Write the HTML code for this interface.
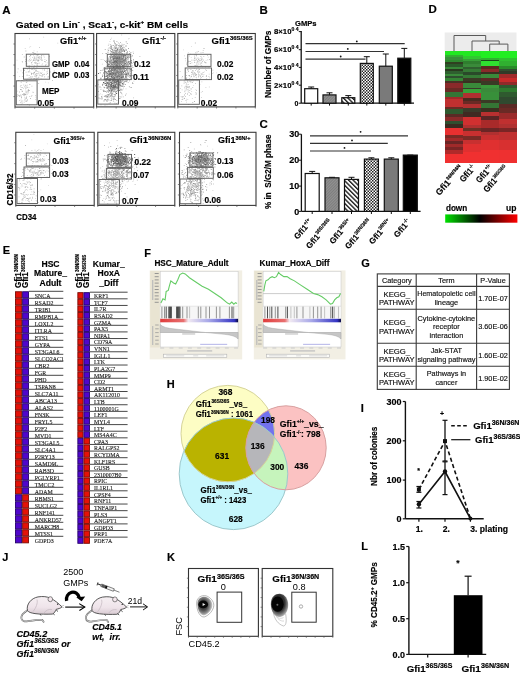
<!DOCTYPE html>
<html><head><meta charset="utf-8"><title>Figure</title>
<style>html,body{margin:0;padding:0;background:#fff;} svg{display:block;} svg{font-family:"Liberation Sans", Arial, sans-serif;} text[font-weight="bold"]{stroke:#000;stroke-width:0.16px;}</style>
</head><body>
<svg width="520" height="675" viewBox="0 0 520 675">
<rect width="520" height="675" fill="#fff"/>
<text x="2.3" y="13.6" font-size="11.5" font-weight="bold" fill="#000">A</text>
<text x="15.8" y="27.8" font-size="9.2" font-weight="bold" fill="#000" textLength="172.3" lengthAdjust="spacingAndGlyphs">Gated on Lin<tspan font-size="5.7" dy="-3.86">-</tspan><tspan dy="3.9"> , Sca1</tspan><tspan font-size="5.7" dy="-3.86">-</tspan><tspan dy="3.9">, c-kit</tspan><tspan font-size="5.7" dy="-3.86">+</tspan><tspan dy="3.9"> BM cells</tspan></text>
<path fill="rgb(16,16,16)" d="M117.4 156.9h.8v.8h-.8zM119.9 157.3h.8v.8h-.8zM116.5 154.5h.8v.8h-.8zM115.3 157.5h.8v.8h-.8zM117.7 157.4h.8v.8h-.8zM122.1 157.5h.8v.8h-.8zM119.0 152.8h.8v.8h-.8zM121.1 161.9h.8v.8h-.8zM114.6 159.6h.8v.8h-.8zM120.4 157.7h.8v.8h-.8zM119.3 165.3h.8v.8h-.8zM119.9 160.2h.8v.8h-.8zM119.4 157.0h.8v.8h-.8zM116.2 157.6h.8v.8h-.8zM121.9 155.6h.8v.8h-.8zM121.4 155.8h.8v.8h-.8zM120.5 158.2h.8v.8h-.8zM117.0 160.1h.8v.8h-.8zM121.5 155.6h.8v.8h-.8zM120.7 152.4h.8v.8h-.8zM119.2 159.4h.8v.8h-.8zM125.1 154.6h.8v.8h-.8zM119.3 159.0h.8v.8h-.8zM122.6 155.9h.8v.8h-.8zM120.0 156.8h.8v.8h-.8zM119.4 161.6h.8v.8h-.8zM121.2 154.3h.8v.8h-.8zM120.7 153.0h.8v.8h-.8zM122.2 156.1h.8v.8h-.8zM122.6 160.0h.8v.8h-.8zM124.9 158.0h.8v.8h-.8zM121.5 161.1h.8v.8h-.8zM119.8 159.2h.8v.8h-.8zM122.7 157.9h.8v.8h-.8zM117.6 154.1h.8v.8h-.8zM121.8 153.3h.8v.8h-.8zM120.6 154.1h.8v.8h-.8zM123.8 159.0h.8v.8h-.8zM124.8 158.4h.8v.8h-.8zM201.5 156.4h.8v.8h-.8zM198.1 157.2h.8v.8h-.8zM204.8 160.7h.8v.8h-.8z"/>
<path fill="rgb(32,32,32)" d="M116.5 156.8h.8v.8h-.8zM120.2 160.5h.8v.8h-.8zM117.1 158.6h.8v.8h-.8zM123.7 159.8h.8v.8h-.8zM114.9 157.3h.8v.8h-.8zM117.9 157.3h.8v.8h-.8zM117.8 159.1h.8v.8h-.8zM122.9 158.5h.8v.8h-.8zM118.3 156.6h.8v.8h-.8zM116.1 157.4h.8v.8h-.8zM117.6 163.2h.8v.8h-.8zM115.9 158.3h.8v.8h-.8zM119.6 154.1h.8v.8h-.8zM118.3 158.0h.8v.8h-.8zM119.8 156.0h.8v.8h-.8zM120.8 158.8h.8v.8h-.8zM118.6 158.2h.8v.8h-.8zM117.5 156.4h.8v.8h-.8zM121.7 161.0h.8v.8h-.8zM118.6 160.4h.8v.8h-.8zM122.3 157.5h.8v.8h-.8zM121.4 161.9h.8v.8h-.8zM121.3 158.0h.8v.8h-.8zM119.5 159.1h.8v.8h-.8zM119.3 153.6h.8v.8h-.8zM119.8 156.0h.8v.8h-.8zM117.9 157.4h.8v.8h-.8zM121.0 158.5h.8v.8h-.8zM116.6 155.9h.8v.8h-.8zM118.0 159.6h.8v.8h-.8zM116.7 159.1h.8v.8h-.8zM113.0 158.0h.8v.8h-.8zM118.7 157.8h.8v.8h-.8zM116.1 160.6h.8v.8h-.8zM121.3 160.0h.8v.8h-.8zM119.6 161.4h.8v.8h-.8zM122.1 154.4h.8v.8h-.8zM118.1 156.5h.8v.8h-.8zM120.8 158.0h.8v.8h-.8zM195.7 155.2h.8v.8h-.8zM202.7 159.4h.8v.8h-.8zM199.0 158.1h.8v.8h-.8zM200.4 156.7h.8v.8h-.8zM199.9 158.1h.8v.8h-.8zM207.8 160.2h.8v.8h-.8zM199.8 159.8h.8v.8h-.8zM200.7 157.7h.8v.8h-.8zM196.6 159.3h.8v.8h-.8zM197.9 156.0h.8v.8h-.8zM199.9 155.8h.8v.8h-.8zM199.3 156.0h.8v.8h-.8zM203.9 158.4h.8v.8h-.8zM201.3 157.7h.8v.8h-.8zM202.6 157.1h.8v.8h-.8zM196.8 157.1h.8v.8h-.8zM198.0 158.5h.8v.8h-.8zM198.5 157.3h.8v.8h-.8zM202.5 160.4h.8v.8h-.8zM198.4 156.9h.8v.8h-.8zM201.7 157.9h.8v.8h-.8zM200.9 157.8h.8v.8h-.8zM196.1 156.8h.8v.8h-.8zM202.6 157.2h.8v.8h-.8zM201.4 155.2h.8v.8h-.8z"/>
<path fill="rgb(48,48,48)" d="M103.4 82.1h.8v.8h-.8zM125.2 76.8h.8v.8h-.8zM119.8 75.8h.8v.8h-.8zM122.0 74.2h.8v.8h-.8zM118.7 73.6h.8v.8h-.8zM129.7 73.4h.8v.8h-.8zM108.4 75.4h.8v.8h-.8zM109.0 76.0h.8v.8h-.8zM121.9 83.6h.8v.8h-.8zM111.5 69.2h.8v.8h-.8zM115.2 75.2h.8v.8h-.8zM111.3 76.7h.8v.8h-.8zM117.5 76.4h.8v.8h-.8zM104.6 71.0h.8v.8h-.8zM113.3 84.9h.8v.8h-.8zM103.8 83.4h.8v.8h-.8zM109.8 81.8h.8v.8h-.8zM117.0 81.0h.8v.8h-.8zM115.2 79.4h.8v.8h-.8zM117.6 87.7h.8v.8h-.8zM117.3 86.7h.8v.8h-.8zM110.4 85.2h.8v.8h-.8zM111.8 81.5h.8v.8h-.8zM114.4 86.9h.8v.8h-.8zM114.5 94.3h.8v.8h-.8zM115.1 79.7h.8v.8h-.8zM106.6 85.4h.8v.8h-.8zM117.3 86.8h.8v.8h-.8zM116.7 80.7h.8v.8h-.8zM111.6 84.5h.8v.8h-.8zM113.6 86.3h.8v.8h-.8zM112.9 85.4h.8v.8h-.8zM110.6 82.3h.8v.8h-.8zM118.3 84.1h.8v.8h-.8zM113.0 83.7h.8v.8h-.8zM114.8 86.9h.8v.8h-.8zM112.6 79.0h.8v.8h-.8zM115.4 92.5h.8v.8h-.8zM112.5 83.3h.8v.8h-.8zM111.8 87.0h.8v.8h-.8zM111.2 84.9h.8v.8h-.8zM119.5 84.4h.8v.8h-.8zM109.0 90.1h.8v.8h-.8zM108.9 79.7h.8v.8h-.8zM107.8 82.6h.8v.8h-.8zM116.9 77.8h.8v.8h-.8zM115.3 84.7h.8v.8h-.8zM111.0 75.9h.8v.8h-.8zM109.7 87.0h.8v.8h-.8zM113.8 83.4h.8v.8h-.8zM104.6 76.3h.8v.8h-.8zM116.8 79.6h.8v.8h-.8zM111.2 89.4h.8v.8h-.8zM117.9 80.6h.8v.8h-.8zM115.0 76.8h.8v.8h-.8zM111.7 81.5h.8v.8h-.8zM109.8 86.7h.8v.8h-.8zM113.2 77.1h.8v.8h-.8zM113.7 86.2h.8v.8h-.8zM113.7 83.1h.8v.8h-.8zM113.0 83.6h.8v.8h-.8zM116.6 79.9h.8v.8h-.8zM117.3 66.1h.8v.8h-.8zM118.5 59.2h.8v.8h-.8zM105.7 53.2h.8v.8h-.8zM110.8 62.6h.8v.8h-.8zM119.8 52.2h.8v.8h-.8zM118.4 62.3h.8v.8h-.8zM113.8 55.4h.8v.8h-.8zM121.9 153.4h.8v.8h-.8zM134.4 157.3h.8v.8h-.8zM125.5 162.4h.8v.8h-.8zM123.4 161.8h.8v.8h-.8zM132.2 159.7h.8v.8h-.8zM123.6 160.6h.8v.8h-.8zM121.8 161.8h.8v.8h-.8zM117.0 157.9h.8v.8h-.8zM119.5 157.3h.8v.8h-.8zM117.0 158.7h.8v.8h-.8zM131.1 156.1h.8v.8h-.8zM122.4 153.9h.8v.8h-.8zM120.0 157.5h.8v.8h-.8zM117.3 159.2h.8v.8h-.8zM107.2 159.4h.8v.8h-.8zM125.3 160.5h.8v.8h-.8zM123.4 160.9h.8v.8h-.8zM113.1 161.3h.8v.8h-.8zM114.2 157.0h.8v.8h-.8zM125.7 164.1h.8v.8h-.8zM124.9 160.7h.8v.8h-.8zM127.6 162.2h.8v.8h-.8zM121.5 165.1h.8v.8h-.8zM116.4 158.9h.8v.8h-.8zM110.5 165.1h.8v.8h-.8zM119.5 164.6h.8v.8h-.8zM115.6 164.4h.8v.8h-.8zM127.6 154.1h.8v.8h-.8zM115.4 161.4h.8v.8h-.8zM132.2 159.2h.8v.8h-.8zM116.6 158.1h.8v.8h-.8zM119.3 162.8h.8v.8h-.8zM114.0 160.8h.8v.8h-.8zM113.2 162.9h.8v.8h-.8zM112.3 159.0h.8v.8h-.8zM123.9 161.0h.8v.8h-.8zM122.5 157.5h.8v.8h-.8zM125.8 159.4h.8v.8h-.8zM119.9 160.2h.8v.8h-.8zM119.5 159.0h.8v.8h-.8zM113.2 159.2h.8v.8h-.8zM129.6 159.2h.8v.8h-.8zM120.5 160.5h.8v.8h-.8zM117.4 154.2h.8v.8h-.8zM130.5 165.7h.8v.8h-.8zM115.7 157.3h.8v.8h-.8zM115.4 161.6h.8v.8h-.8zM134.3 154.1h.8v.8h-.8zM120.7 162.1h.8v.8h-.8zM120.5 162.6h.8v.8h-.8zM115.7 159.9h.8v.8h-.8zM121.2 163.8h.8v.8h-.8zM108.3 160.7h.8v.8h-.8zM112.4 156.4h.8v.8h-.8zM121.2 158.3h.8v.8h-.8zM115.4 161.1h.8v.8h-.8zM115.1 159.5h.8v.8h-.8zM123.5 159.3h.8v.8h-.8zM118.0 157.4h.8v.8h-.8zM117.6 163.3h.8v.8h-.8zM116.9 155.9h.8v.8h-.8zM120.8 161.4h.8v.8h-.8zM126.3 156.5h.8v.8h-.8zM115.1 153.3h.8v.8h-.8zM117.9 160.6h.8v.8h-.8zM122.8 160.5h.8v.8h-.8zM119.8 163.6h.8v.8h-.8zM120.3 164.1h.8v.8h-.8zM121.0 165.1h.8v.8h-.8zM119.1 163.7h.8v.8h-.8zM111.5 156.1h.8v.8h-.8zM122.1 159.1h.8v.8h-.8zM117.8 160.4h.8v.8h-.8zM119.3 151.5h.8v.8h-.8zM123.4 156.8h.8v.8h-.8zM120.4 166.2h.8v.8h-.8zM117.7 159.5h.8v.8h-.8zM117.5 162.8h.8v.8h-.8zM130.4 162.1h.8v.8h-.8zM116.5 163.4h.8v.8h-.8zM128.7 157.8h.8v.8h-.8zM119.6 154.7h.8v.8h-.8zM113.5 163.0h.8v.8h-.8zM117.9 152.0h.8v.8h-.8zM130.6 158.7h.8v.8h-.8zM121.8 160.9h.8v.8h-.8zM127.8 160.9h.8v.8h-.8zM123.6 157.8h.8v.8h-.8zM124.1 157.6h.8v.8h-.8zM120.0 161.9h.8v.8h-.8zM124.4 161.2h.8v.8h-.8zM116.6 159.8h.8v.8h-.8zM121.7 158.8h.8v.8h-.8zM116.1 148.1h.8v.8h-.8zM125.4 166.1h.8v.8h-.8zM120.1 162.2h.8v.8h-.8zM120.4 158.9h.8v.8h-.8zM121.1 155.7h.8v.8h-.8zM119.2 152.8h.8v.8h-.8zM126.8 166.7h.8v.8h-.8zM119.3 158.5h.8v.8h-.8zM124.5 159.5h.8v.8h-.8zM123.0 157.9h.8v.8h-.8zM113.8 159.0h.8v.8h-.8zM115.8 156.3h.8v.8h-.8zM118.7 156.3h.8v.8h-.8zM121.2 163.4h.8v.8h-.8zM119.8 157.1h.8v.8h-.8zM118.1 156.0h.8v.8h-.8zM118.0 161.2h.8v.8h-.8zM118.3 158.4h.8v.8h-.8zM122.4 158.4h.8v.8h-.8zM117.3 158.9h.8v.8h-.8zM121.0 158.1h.8v.8h-.8zM116.1 160.1h.8v.8h-.8zM123.1 157.6h.8v.8h-.8zM119.0 158.6h.8v.8h-.8zM117.3 156.1h.8v.8h-.8zM116.0 158.9h.8v.8h-.8zM115.6 157.0h.8v.8h-.8zM121.6 158.5h.8v.8h-.8zM113.6 160.9h.8v.8h-.8zM119.7 160.7h.8v.8h-.8zM119.4 159.7h.8v.8h-.8zM116.2 154.8h.8v.8h-.8zM118.7 156.8h.8v.8h-.8zM120.4 159.6h.8v.8h-.8zM124.6 153.3h.8v.8h-.8zM118.0 157.6h.8v.8h-.8zM117.3 154.9h.8v.8h-.8zM111.6 155.3h.8v.8h-.8zM121.9 160.5h.8v.8h-.8zM115.0 162.5h.8v.8h-.8zM120.7 159.9h.8v.8h-.8zM122.5 156.1h.8v.8h-.8zM197.9 161.4h.8v.8h-.8zM207.8 164.2h.8v.8h-.8zM201.4 165.9h.8v.8h-.8zM197.4 158.6h.8v.8h-.8zM211.8 163.0h.8v.8h-.8zM196.6 164.9h.8v.8h-.8zM197.2 154.2h.8v.8h-.8zM210.3 154.6h.8v.8h-.8zM217.3 152.4h.8v.8h-.8zM201.0 158.4h.8v.8h-.8zM205.2 157.9h.8v.8h-.8zM205.4 161.8h.8v.8h-.8zM204.2 161.1h.8v.8h-.8zM198.8 157.0h.8v.8h-.8zM194.1 158.4h.8v.8h-.8zM215.3 164.0h.8v.8h-.8zM204.8 153.6h.8v.8h-.8zM201.3 158.8h.8v.8h-.8zM206.0 154.6h.8v.8h-.8zM202.6 157.7h.8v.8h-.8zM202.9 156.4h.8v.8h-.8zM202.5 156.8h.8v.8h-.8zM203.0 155.2h.8v.8h-.8zM199.4 158.6h.8v.8h-.8zM203.3 159.4h.8v.8h-.8zM197.9 155.8h.8v.8h-.8zM202.2 158.5h.8v.8h-.8zM197.6 158.5h.8v.8h-.8zM203.8 159.8h.8v.8h-.8zM202.9 160.0h.8v.8h-.8zM201.1 159.9h.8v.8h-.8zM201.0 157.1h.8v.8h-.8zM204.3 158.1h.8v.8h-.8z"/>
<path fill="rgb(64,64,64)" d="M118.3 60.8h.8v.8h-.8zM118.9 56.7h.8v.8h-.8zM113.7 60.0h.8v.8h-.8zM130.6 69.2h.8v.8h-.8zM115.6 64.8h.8v.8h-.8zM117.2 62.9h.8v.8h-.8zM130.4 68.9h.8v.8h-.8zM113.8 58.5h.8v.8h-.8zM114.4 52.4h.8v.8h-.8zM124.1 62.9h.8v.8h-.8zM121.0 59.2h.8v.8h-.8zM129.1 61.5h.8v.8h-.8zM117.6 59.0h.8v.8h-.8zM108.8 61.6h.8v.8h-.8zM127.0 57.3h.8v.8h-.8zM123.2 55.8h.8v.8h-.8zM114.9 60.7h.8v.8h-.8zM123.3 65.4h.8v.8h-.8zM111.3 59.7h.8v.8h-.8zM128.3 61.7h.8v.8h-.8zM115.3 66.9h.8v.8h-.8zM119.0 63.5h.8v.8h-.8zM120.7 60.9h.8v.8h-.8zM121.5 56.4h.8v.8h-.8zM113.6 62.4h.8v.8h-.8zM115.1 65.4h.8v.8h-.8zM121.2 57.8h.8v.8h-.8zM114.9 63.4h.8v.8h-.8zM110.8 54.9h.8v.8h-.8zM119.2 58.5h.8v.8h-.8zM117.7 57.2h.8v.8h-.8zM115.0 63.3h.8v.8h-.8zM123.6 55.2h.8v.8h-.8zM124.9 59.2h.8v.8h-.8zM117.2 70.2h.8v.8h-.8zM110.3 56.7h.8v.8h-.8zM114.5 62.2h.8v.8h-.8zM117.8 59.2h.8v.8h-.8zM111.5 72.2h.8v.8h-.8zM125.3 57.9h.8v.8h-.8zM117.2 61.9h.8v.8h-.8zM120.4 63.8h.8v.8h-.8zM120.6 57.7h.8v.8h-.8zM120.7 55.6h.8v.8h-.8zM114.1 61.1h.8v.8h-.8zM120.0 67.0h.8v.8h-.8zM116.7 62.2h.8v.8h-.8zM123.0 60.5h.8v.8h-.8zM122.9 71.2h.8v.8h-.8zM115.5 71.8h.8v.8h-.8zM119.8 58.8h.8v.8h-.8zM111.8 62.3h.8v.8h-.8zM124.0 60.7h.8v.8h-.8zM119.9 58.2h.8v.8h-.8zM122.6 55.4h.8v.8h-.8zM121.7 54.0h.8v.8h-.8zM112.5 56.2h.8v.8h-.8zM111.5 64.0h.8v.8h-.8zM114.1 58.5h.8v.8h-.8zM106.4 62.2h.8v.8h-.8zM110.5 56.6h.8v.8h-.8zM121.3 61.5h.8v.8h-.8zM123.8 73.8h.8v.8h-.8zM114.6 69.4h.8v.8h-.8zM113.6 79.2h.8v.8h-.8zM113.4 79.9h.8v.8h-.8zM120.9 77.8h.8v.8h-.8zM107.1 75.2h.8v.8h-.8zM120.4 71.0h.8v.8h-.8zM109.5 82.2h.8v.8h-.8zM117.0 76.1h.8v.8h-.8zM118.3 76.1h.8v.8h-.8zM100.6 77.8h.8v.8h-.8zM114.5 81.3h.8v.8h-.8zM117.8 72.9h.8v.8h-.8zM112.0 69.8h.8v.8h-.8zM116.0 76.4h.8v.8h-.8zM120.1 69.5h.8v.8h-.8zM126.0 69.5h.8v.8h-.8zM108.8 73.6h.8v.8h-.8zM122.2 76.9h.8v.8h-.8zM112.4 77.6h.8v.8h-.8zM111.5 67.7h.8v.8h-.8zM118.3 72.2h.8v.8h-.8zM113.2 73.3h.8v.8h-.8zM115.8 73.5h.8v.8h-.8zM103.5 68.5h.8v.8h-.8zM116.6 71.0h.8v.8h-.8zM113.5 72.5h.8v.8h-.8zM103.2 82.3h.8v.8h-.8zM126.0 74.3h.8v.8h-.8zM130.1 75.7h.8v.8h-.8zM105.3 71.5h.8v.8h-.8zM118.0 75.7h.8v.8h-.8zM106.6 78.0h.8v.8h-.8zM107.9 74.0h.8v.8h-.8zM121.6 69.4h.8v.8h-.8zM112.4 76.8h.8v.8h-.8zM123.0 76.4h.8v.8h-.8zM114.2 78.0h.8v.8h-.8zM125.0 74.4h.8v.8h-.8zM125.7 74.1h.8v.8h-.8zM130.5 74.9h.8v.8h-.8zM117.5 71.6h.8v.8h-.8zM113.5 76.9h.8v.8h-.8zM98.0 73.1h.8v.8h-.8zM126.1 75.5h.8v.8h-.8zM111.5 73.4h.8v.8h-.8zM118.2 74.4h.8v.8h-.8zM113.6 78.0h.8v.8h-.8zM109.0 80.4h.8v.8h-.8zM118.4 71.6h.8v.8h-.8zM113.5 73.2h.8v.8h-.8zM122.5 76.4h.8v.8h-.8zM117.7 76.0h.8v.8h-.8zM124.6 71.2h.8v.8h-.8zM111.9 81.4h.8v.8h-.8zM120.5 73.9h.8v.8h-.8zM119.1 76.5h.8v.8h-.8zM106.3 76.0h.8v.8h-.8zM120.9 75.0h.8v.8h-.8zM109.4 69.1h.8v.8h-.8zM112.0 69.7h.8v.8h-.8zM122.3 73.3h.8v.8h-.8zM109.0 68.2h.8v.8h-.8zM104.8 78.6h.8v.8h-.8zM110.9 70.9h.8v.8h-.8zM127.9 73.7h.8v.8h-.8zM109.4 72.4h.8v.8h-.8zM119.6 79.8h.8v.8h-.8zM120.1 79.7h.8v.8h-.8zM116.8 76.5h.8v.8h-.8zM125.4 78.8h.8v.8h-.8zM114.7 66.0h.8v.8h-.8zM119.3 69.5h.8v.8h-.8zM117.3 75.5h.8v.8h-.8zM112.9 80.3h.8v.8h-.8zM108.5 71.2h.8v.8h-.8zM109.3 72.3h.8v.8h-.8zM116.2 73.3h.8v.8h-.8zM123.0 72.1h.8v.8h-.8zM122.5 80.8h.8v.8h-.8zM111.3 70.4h.8v.8h-.8zM110.0 73.1h.8v.8h-.8zM120.4 77.7h.8v.8h-.8zM121.8 67.3h.8v.8h-.8zM119.2 75.4h.8v.8h-.8zM102.4 74.8h.8v.8h-.8zM120.1 79.9h.8v.8h-.8zM111.0 69.6h.8v.8h-.8zM118.2 75.4h.8v.8h-.8zM121.3 76.9h.8v.8h-.8zM120.3 71.4h.8v.8h-.8zM125.3 72.5h.8v.8h-.8zM110.6 73.6h.8v.8h-.8zM120.9 72.1h.8v.8h-.8zM109.3 70.7h.8v.8h-.8zM111.1 84.0h.8v.8h-.8zM115.3 85.2h.8v.8h-.8zM116.0 93.1h.8v.8h-.8zM105.1 83.1h.8v.8h-.8zM111.5 86.5h.8v.8h-.8zM113.8 87.8h.8v.8h-.8zM114.3 82.3h.8v.8h-.8zM119.9 85.3h.8v.8h-.8zM110.8 89.3h.8v.8h-.8zM108.5 80.6h.8v.8h-.8zM114.7 85.1h.8v.8h-.8zM115.2 86.2h.8v.8h-.8zM110.9 83.9h.8v.8h-.8zM115.5 86.1h.8v.8h-.8zM117.8 86.9h.8v.8h-.8zM110.7 90.2h.8v.8h-.8zM107.8 79.4h.8v.8h-.8zM114.8 81.4h.8v.8h-.8zM118.6 86.8h.8v.8h-.8zM111.7 82.7h.8v.8h-.8zM104.8 91.0h.8v.8h-.8zM110.9 84.9h.8v.8h-.8zM111.1 90.3h.8v.8h-.8zM105.6 80.7h.8v.8h-.8zM109.8 87.9h.8v.8h-.8zM113.9 78.2h.8v.8h-.8zM111.0 91.3h.8v.8h-.8zM112.4 85.4h.8v.8h-.8zM113.8 78.1h.8v.8h-.8zM121.4 76.6h.8v.8h-.8zM117.8 84.2h.8v.8h-.8zM112.4 85.8h.8v.8h-.8zM105.9 84.2h.8v.8h-.8zM117.5 81.8h.8v.8h-.8zM112.2 88.5h.8v.8h-.8zM118.0 78.4h.8v.8h-.8zM111.0 82.1h.8v.8h-.8zM109.9 78.9h.8v.8h-.8zM113.3 91.1h.8v.8h-.8zM111.0 93.6h.8v.8h-.8zM110.2 79.8h.8v.8h-.8zM115.5 77.6h.8v.8h-.8zM114.1 85.9h.8v.8h-.8zM111.1 86.1h.8v.8h-.8zM110.3 87.9h.8v.8h-.8zM118.2 77.4h.8v.8h-.8zM116.5 82.8h.8v.8h-.8zM119.0 84.6h.8v.8h-.8zM116.7 88.5h.8v.8h-.8zM117.3 86.8h.8v.8h-.8zM113.1 86.9h.8v.8h-.8zM115.7 77.5h.8v.8h-.8zM113.1 78.2h.8v.8h-.8zM109.3 80.3h.8v.8h-.8zM116.7 81.6h.8v.8h-.8zM108.9 82.7h.8v.8h-.8zM107.1 82.2h.8v.8h-.8zM113.8 81.9h.8v.8h-.8zM106.7 90.7h.8v.8h-.8zM113.8 56.7h.8v.8h-.8zM113.6 40.6h.8v.8h-.8zM109.6 61.6h.8v.8h-.8zM112.3 50.6h.8v.8h-.8zM121.5 58.3h.8v.8h-.8zM111.4 63.4h.8v.8h-.8zM113.1 51.9h.8v.8h-.8zM115.2 53.8h.8v.8h-.8zM118.3 72.3h.8v.8h-.8zM113.3 58.1h.8v.8h-.8zM116.4 60.3h.8v.8h-.8zM115.4 62.5h.8v.8h-.8zM114.9 73.3h.8v.8h-.8zM109.5 67.6h.8v.8h-.8zM116.4 64.7h.8v.8h-.8zM115.3 60.9h.8v.8h-.8zM115.4 58.8h.8v.8h-.8zM117.4 58.2h.8v.8h-.8zM115.7 68.1h.8v.8h-.8zM118.9 64.3h.8v.8h-.8zM111.3 65.5h.8v.8h-.8zM117.7 58.0h.8v.8h-.8zM118.5 68.2h.8v.8h-.8zM112.3 66.8h.8v.8h-.8zM115.4 58.0h.8v.8h-.8zM115.8 57.8h.8v.8h-.8zM110.5 54.7h.8v.8h-.8zM113.9 60.2h.8v.8h-.8zM116.3 65.2h.8v.8h-.8zM110.7 45.5h.8v.8h-.8zM115.8 62.5h.8v.8h-.8zM119.4 65.6h.8v.8h-.8zM112.0 49.0h.8v.8h-.8zM114.3 61.3h.8v.8h-.8zM113.5 55.6h.8v.8h-.8zM115.5 151.4h.8v.8h-.8zM125.7 172.2h.8v.8h-.8zM116.8 154.1h.8v.8h-.8zM122.9 164.0h.8v.8h-.8zM113.8 155.6h.8v.8h-.8zM115.5 159.7h.8v.8h-.8zM112.4 158.4h.8v.8h-.8zM118.0 159.8h.8v.8h-.8zM117.9 162.8h.8v.8h-.8zM120.3 156.4h.8v.8h-.8zM116.7 161.0h.8v.8h-.8zM117.8 155.5h.8v.8h-.8zM123.5 163.7h.8v.8h-.8zM126.8 161.7h.8v.8h-.8zM118.5 154.8h.8v.8h-.8zM122.6 156.5h.8v.8h-.8zM125.3 156.5h.8v.8h-.8zM119.0 160.5h.8v.8h-.8zM125.3 153.7h.8v.8h-.8zM121.6 159.0h.8v.8h-.8zM120.5 158.9h.8v.8h-.8zM116.5 162.7h.8v.8h-.8zM127.6 158.6h.8v.8h-.8zM124.8 160.3h.8v.8h-.8zM120.3 155.1h.8v.8h-.8zM118.8 162.4h.8v.8h-.8zM126.8 160.0h.8v.8h-.8zM128.0 162.3h.8v.8h-.8zM112.7 156.4h.8v.8h-.8zM108.2 159.3h.8v.8h-.8zM121.1 161.1h.8v.8h-.8zM118.9 160.1h.8v.8h-.8zM111.5 159.1h.8v.8h-.8zM130.9 154.1h.8v.8h-.8zM120.9 160.3h.8v.8h-.8zM118.3 162.9h.8v.8h-.8zM106.4 164.8h.8v.8h-.8zM129.3 168.1h.8v.8h-.8zM114.1 159.5h.8v.8h-.8zM122.1 160.0h.8v.8h-.8zM116.7 158.2h.8v.8h-.8zM121.7 160.1h.8v.8h-.8zM120.8 165.2h.8v.8h-.8zM121.4 159.3h.8v.8h-.8zM122.3 161.0h.8v.8h-.8zM119.6 157.8h.8v.8h-.8zM123.4 158.9h.8v.8h-.8zM126.5 159.4h.8v.8h-.8zM120.9 161.3h.8v.8h-.8zM116.4 150.7h.8v.8h-.8zM109.1 163.9h.8v.8h-.8zM119.4 154.5h.8v.8h-.8zM122.5 157.2h.8v.8h-.8zM116.3 163.1h.8v.8h-.8zM120.5 153.9h.8v.8h-.8zM121.0 163.0h.8v.8h-.8zM112.3 159.9h.8v.8h-.8zM119.3 160.5h.8v.8h-.8zM120.1 160.6h.8v.8h-.8zM111.2 160.6h.8v.8h-.8zM120.8 156.6h.8v.8h-.8zM123.1 163.2h.8v.8h-.8zM124.6 160.8h.8v.8h-.8zM115.0 163.0h.8v.8h-.8zM111.2 162.3h.8v.8h-.8zM115.1 158.1h.8v.8h-.8zM123.6 164.5h.8v.8h-.8zM125.6 157.5h.8v.8h-.8zM123.7 158.6h.8v.8h-.8zM124.1 159.1h.8v.8h-.8zM112.2 158.5h.8v.8h-.8zM119.1 157.5h.8v.8h-.8zM121.0 159.2h.8v.8h-.8zM119.1 159.5h.8v.8h-.8zM124.1 156.8h.8v.8h-.8zM118.2 157.8h.8v.8h-.8zM106.9 160.9h.8v.8h-.8zM107.3 159.6h.8v.8h-.8zM123.3 160.7h.8v.8h-.8zM119.7 162.5h.8v.8h-.8zM121.0 161.1h.8v.8h-.8zM117.7 155.8h.8v.8h-.8zM129.7 157.8h.8v.8h-.8zM125.5 160.4h.8v.8h-.8zM121.0 162.7h.8v.8h-.8zM121.0 161.1h.8v.8h-.8zM117.2 166.9h.8v.8h-.8zM122.9 161.3h.8v.8h-.8zM114.5 161.5h.8v.8h-.8zM119.0 162.6h.8v.8h-.8zM119.4 163.0h.8v.8h-.8zM111.5 157.3h.8v.8h-.8zM121.6 164.8h.8v.8h-.8zM117.7 163.6h.8v.8h-.8zM112.9 161.1h.8v.8h-.8zM111.8 165.9h.8v.8h-.8zM117.9 154.2h.8v.8h-.8zM123.2 162.5h.8v.8h-.8zM109.8 155.4h.8v.8h-.8zM110.4 161.4h.8v.8h-.8zM118.1 160.7h.8v.8h-.8zM125.5 165.4h.8v.8h-.8zM123.2 162.8h.8v.8h-.8zM117.6 160.9h.8v.8h-.8zM118.2 162.3h.8v.8h-.8zM124.5 163.2h.8v.8h-.8zM120.5 159.4h.8v.8h-.8zM120.9 154.9h.8v.8h-.8zM118.4 157.7h.8v.8h-.8zM117.7 159.8h.8v.8h-.8zM121.8 156.2h.8v.8h-.8zM121.2 153.7h.8v.8h-.8zM115.8 160.5h.8v.8h-.8zM124.5 158.9h.8v.8h-.8zM115.6 156.8h.8v.8h-.8zM119.3 158.2h.8v.8h-.8zM119.1 157.9h.8v.8h-.8zM119.8 155.5h.8v.8h-.8zM119.5 158.4h.8v.8h-.8zM120.9 158.8h.8v.8h-.8zM115.5 158.1h.8v.8h-.8zM118.8 162.0h.8v.8h-.8zM116.7 156.9h.8v.8h-.8zM116.0 157.5h.8v.8h-.8zM117.9 159.4h.8v.8h-.8zM115.7 153.3h.8v.8h-.8zM120.0 159.5h.8v.8h-.8zM114.9 156.6h.8v.8h-.8zM123.6 161.1h.8v.8h-.8zM113.7 158.4h.8v.8h-.8zM116.8 158.3h.8v.8h-.8zM121.3 159.4h.8v.8h-.8zM116.1 153.7h.8v.8h-.8zM117.1 156.7h.8v.8h-.8zM117.8 158.8h.8v.8h-.8zM116.7 157.6h.8v.8h-.8zM122.2 158.5h.8v.8h-.8zM120.2 156.0h.8v.8h-.8zM114.4 157.5h.8v.8h-.8zM116.9 156.8h.8v.8h-.8zM120.5 156.6h.8v.8h-.8zM118.7 158.5h.8v.8h-.8zM122.5 159.9h.8v.8h-.8zM193.6 156.0h.8v.8h-.8zM195.0 166.1h.8v.8h-.8zM201.7 156.7h.8v.8h-.8zM202.9 159.6h.8v.8h-.8zM210.5 157.5h.8v.8h-.8zM198.8 161.2h.8v.8h-.8zM198.9 160.1h.8v.8h-.8zM198.5 159.8h.8v.8h-.8zM188.5 160.3h.8v.8h-.8zM199.3 156.4h.8v.8h-.8zM201.7 157.0h.8v.8h-.8zM207.2 157.6h.8v.8h-.8zM202.7 156.5h.8v.8h-.8zM202.0 152.3h.8v.8h-.8zM211.6 162.6h.8v.8h-.8zM192.2 158.0h.8v.8h-.8zM199.6 158.3h.8v.8h-.8zM196.6 161.7h.8v.8h-.8zM205.6 157.6h.8v.8h-.8zM203.3 152.3h.8v.8h-.8zM197.8 155.9h.8v.8h-.8zM197.2 159.6h.8v.8h-.8zM202.3 153.1h.8v.8h-.8zM198.9 160.3h.8v.8h-.8zM196.4 164.0h.8v.8h-.8zM190.8 164.2h.8v.8h-.8zM190.7 161.0h.8v.8h-.8zM202.8 156.4h.8v.8h-.8zM196.4 158.6h.8v.8h-.8zM197.3 162.2h.8v.8h-.8zM201.1 158.8h.8v.8h-.8zM213.3 152.2h.8v.8h-.8zM205.3 157.7h.8v.8h-.8zM207.5 163.7h.8v.8h-.8zM205.9 153.5h.8v.8h-.8zM206.7 161.9h.8v.8h-.8zM189.9 154.7h.8v.8h-.8zM204.1 163.9h.8v.8h-.8zM200.3 157.7h.8v.8h-.8zM202.8 160.2h.8v.8h-.8zM207.3 158.8h.8v.8h-.8zM202.6 157.1h.8v.8h-.8zM213.1 155.2h.8v.8h-.8zM188.0 162.0h.8v.8h-.8zM200.0 158.2h.8v.8h-.8zM199.1 161.9h.8v.8h-.8zM199.5 157.3h.8v.8h-.8zM205.2 164.1h.8v.8h-.8zM192.4 157.2h.8v.8h-.8zM198.6 156.7h.8v.8h-.8zM196.8 159.8h.8v.8h-.8zM203.7 157.8h.8v.8h-.8zM207.4 158.6h.8v.8h-.8zM208.7 160.3h.8v.8h-.8zM206.0 163.9h.8v.8h-.8zM204.0 156.0h.8v.8h-.8zM198.1 159.5h.8v.8h-.8zM198.2 160.3h.8v.8h-.8zM193.5 157.0h.8v.8h-.8zM198.6 158.8h.8v.8h-.8zM195.6 161.2h.8v.8h-.8zM202.5 162.2h.8v.8h-.8zM206.1 160.8h.8v.8h-.8zM201.3 159.6h.8v.8h-.8zM210.5 159.6h.8v.8h-.8zM209.1 162.9h.8v.8h-.8zM205.0 153.6h.8v.8h-.8zM205.4 151.9h.8v.8h-.8zM192.5 156.7h.8v.8h-.8zM196.9 156.2h.8v.8h-.8zM193.4 156.0h.8v.8h-.8zM200.4 155.5h.8v.8h-.8zM204.0 160.0h.8v.8h-.8zM206.5 158.9h.8v.8h-.8zM200.2 159.6h.8v.8h-.8zM192.2 162.7h.8v.8h-.8zM193.2 160.4h.8v.8h-.8zM207.3 160.5h.8v.8h-.8zM205.0 155.4h.8v.8h-.8zM195.4 160.3h.8v.8h-.8zM199.0 159.9h.8v.8h-.8zM206.1 163.0h.8v.8h-.8zM198.3 158.8h.8v.8h-.8zM184.8 157.3h.8v.8h-.8zM200.2 161.5h.8v.8h-.8zM196.5 159.5h.8v.8h-.8zM198.8 155.9h.8v.8h-.8zM200.4 157.7h.8v.8h-.8zM202.4 157.9h.8v.8h-.8zM199.8 156.3h.8v.8h-.8zM202.6 157.8h.8v.8h-.8zM200.7 157.0h.8v.8h-.8zM195.6 157.6h.8v.8h-.8zM202.8 157.2h.8v.8h-.8zM197.9 159.2h.8v.8h-.8zM202.2 157.3h.8v.8h-.8zM200.0 157.0h.8v.8h-.8zM201.3 157.8h.8v.8h-.8zM200.9 157.8h.8v.8h-.8zM201.1 159.0h.8v.8h-.8zM198.6 157.0h.8v.8h-.8zM196.4 159.4h.8v.8h-.8zM204.7 157.8h.8v.8h-.8zM201.3 154.9h.8v.8h-.8zM200.1 157.8h.8v.8h-.8zM200.3 156.9h.8v.8h-.8zM201.3 156.9h.8v.8h-.8zM202.1 157.5h.8v.8h-.8z"/>
<path fill="rgb(80,80,80)" d="M119.8 58.6h.8v.8h-.8zM121.3 56.5h.8v.8h-.8zM116.8 60.5h.8v.8h-.8zM117.6 74.3h.8v.8h-.8zM113.7 64.7h.8v.8h-.8zM124.7 54.9h.8v.8h-.8zM117.9 69.9h.8v.8h-.8zM122.7 65.0h.8v.8h-.8zM119.2 63.1h.8v.8h-.8zM123.5 60.3h.8v.8h-.8zM124.2 71.1h.8v.8h-.8zM116.7 66.9h.8v.8h-.8zM124.9 60.5h.8v.8h-.8zM125.0 63.1h.8v.8h-.8zM125.3 75.9h.8v.8h-.8zM122.6 68.5h.8v.8h-.8zM115.8 60.0h.8v.8h-.8zM122.2 55.2h.8v.8h-.8zM117.9 64.3h.8v.8h-.8zM120.9 57.6h.8v.8h-.8zM114.4 61.1h.8v.8h-.8zM111.2 54.3h.8v.8h-.8zM119.1 61.1h.8v.8h-.8zM124.1 50.9h.8v.8h-.8zM121.3 59.5h.8v.8h-.8zM116.9 60.8h.8v.8h-.8zM120.9 55.2h.8v.8h-.8zM120.9 49.7h.8v.8h-.8zM111.8 56.7h.8v.8h-.8zM118.7 56.3h.8v.8h-.8zM119.6 59.9h.8v.8h-.8zM118.8 56.8h.8v.8h-.8zM123.4 58.4h.8v.8h-.8zM117.2 58.2h.8v.8h-.8zM115.0 60.2h.8v.8h-.8zM112.1 61.9h.8v.8h-.8zM113.5 62.4h.8v.8h-.8zM117.0 53.8h.8v.8h-.8zM124.0 60.4h.8v.8h-.8zM115.5 59.8h.8v.8h-.8zM107.0 64.9h.8v.8h-.8zM113.5 53.7h.8v.8h-.8zM117.9 58.4h.8v.8h-.8zM119.7 57.7h.8v.8h-.8zM120.1 67.2h.8v.8h-.8zM114.5 60.5h.8v.8h-.8zM120.8 61.4h.8v.8h-.8zM119.3 64.9h.8v.8h-.8zM115.6 61.5h.8v.8h-.8zM115.4 64.4h.8v.8h-.8zM107.6 51.8h.8v.8h-.8zM115.3 64.5h.8v.8h-.8zM122.2 57.9h.8v.8h-.8zM125.5 57.5h.8v.8h-.8zM113.7 66.8h.8v.8h-.8zM118.7 54.1h.8v.8h-.8zM118.2 61.4h.8v.8h-.8zM117.1 66.1h.8v.8h-.8zM108.1 64.5h.8v.8h-.8zM117.1 65.5h.8v.8h-.8zM116.5 54.4h.8v.8h-.8zM114.8 66.6h.8v.8h-.8zM121.0 57.2h.8v.8h-.8zM122.0 70.5h.8v.8h-.8zM113.0 64.7h.8v.8h-.8zM117.3 56.1h.8v.8h-.8zM122.3 54.9h.8v.8h-.8zM114.4 56.2h.8v.8h-.8zM116.6 65.9h.8v.8h-.8zM114.4 60.5h.8v.8h-.8zM133.1 59.4h.8v.8h-.8zM123.5 64.4h.8v.8h-.8zM124.3 64.0h.8v.8h-.8zM111.6 54.3h.8v.8h-.8zM121.9 65.1h.8v.8h-.8zM110.5 56.5h.8v.8h-.8zM122.9 71.0h.8v.8h-.8zM117.9 59.3h.8v.8h-.8zM120.4 59.1h.8v.8h-.8zM121.1 63.6h.8v.8h-.8zM123.6 60.2h.8v.8h-.8zM117.3 57.1h.8v.8h-.8zM112.4 68.1h.8v.8h-.8zM120.7 57.3h.8v.8h-.8zM121.9 61.2h.8v.8h-.8zM110.1 57.6h.8v.8h-.8zM121.1 64.1h.8v.8h-.8zM126.9 69.7h.8v.8h-.8zM113.4 61.0h.8v.8h-.8zM125.2 63.4h.8v.8h-.8zM133.1 61.8h.8v.8h-.8zM128.1 61.5h.8v.8h-.8zM118.1 62.7h.8v.8h-.8zM119.5 64.9h.8v.8h-.8zM115.1 64.6h.8v.8h-.8zM112.8 55.4h.8v.8h-.8zM114.5 69.6h.8v.8h-.8zM112.8 67.2h.8v.8h-.8zM115.4 63.1h.8v.8h-.8zM117.3 65.7h.8v.8h-.8zM117.0 49.1h.8v.8h-.8zM116.8 61.8h.8v.8h-.8zM114.2 61.7h.8v.8h-.8zM117.3 65.3h.8v.8h-.8zM126.3 65.0h.8v.8h-.8zM126.5 63.4h.8v.8h-.8zM119.5 63.6h.8v.8h-.8zM120.3 61.6h.8v.8h-.8zM125.6 55.9h.8v.8h-.8zM121.8 75.4h.8v.8h-.8zM113.3 77.9h.8v.8h-.8zM125.7 77.9h.8v.8h-.8zM117.0 72.0h.8v.8h-.8zM116.5 76.3h.8v.8h-.8zM121.1 75.0h.8v.8h-.8zM114.4 70.7h.8v.8h-.8zM121.4 73.1h.8v.8h-.8zM118.5 72.9h.8v.8h-.8zM106.1 72.2h.8v.8h-.8zM110.3 66.2h.8v.8h-.8zM113.4 74.1h.8v.8h-.8zM113.3 73.9h.8v.8h-.8zM119.3 77.9h.8v.8h-.8zM130.9 78.4h.8v.8h-.8zM114.2 68.8h.8v.8h-.8zM118.0 78.2h.8v.8h-.8zM111.8 69.0h.8v.8h-.8zM112.6 72.6h.8v.8h-.8zM120.7 75.1h.8v.8h-.8zM123.1 76.4h.8v.8h-.8zM115.3 69.1h.8v.8h-.8zM111.3 72.1h.8v.8h-.8zM111.3 63.9h.8v.8h-.8zM112.7 77.5h.8v.8h-.8zM116.2 83.2h.8v.8h-.8zM115.7 76.9h.8v.8h-.8zM116.3 72.3h.8v.8h-.8zM119.1 74.2h.8v.8h-.8zM124.0 78.4h.8v.8h-.8zM110.7 75.0h.8v.8h-.8zM119.0 71.7h.8v.8h-.8zM109.7 75.7h.8v.8h-.8zM112.4 70.0h.8v.8h-.8zM112.3 73.0h.8v.8h-.8zM115.7 74.1h.8v.8h-.8zM114.2 77.0h.8v.8h-.8zM120.9 72.8h.8v.8h-.8zM113.9 77.5h.8v.8h-.8zM111.1 73.6h.8v.8h-.8zM118.6 78.0h.8v.8h-.8zM109.3 74.1h.8v.8h-.8zM119.7 74.2h.8v.8h-.8zM120.8 77.1h.8v.8h-.8zM121.0 74.5h.8v.8h-.8zM116.2 72.8h.8v.8h-.8zM108.8 76.2h.8v.8h-.8zM110.8 73.9h.8v.8h-.8zM107.1 77.3h.8v.8h-.8zM118.0 74.8h.8v.8h-.8zM124.8 68.2h.8v.8h-.8zM119.7 81.0h.8v.8h-.8zM112.1 70.2h.8v.8h-.8zM109.6 79.1h.8v.8h-.8zM112.8 71.2h.8v.8h-.8zM114.7 74.0h.8v.8h-.8zM110.0 77.9h.8v.8h-.8zM107.5 78.7h.8v.8h-.8zM118.7 69.2h.8v.8h-.8zM120.0 74.5h.8v.8h-.8zM113.1 72.7h.8v.8h-.8zM113.0 77.2h.8v.8h-.8zM123.1 67.0h.8v.8h-.8zM119.6 80.2h.8v.8h-.8zM119.4 71.5h.8v.8h-.8zM113.4 79.3h.8v.8h-.8zM109.9 73.7h.8v.8h-.8zM105.8 78.1h.8v.8h-.8zM119.0 73.9h.8v.8h-.8zM114.7 74.2h.8v.8h-.8zM114.9 70.7h.8v.8h-.8zM126.6 73.6h.8v.8h-.8zM108.5 78.3h.8v.8h-.8zM121.2 73.6h.8v.8h-.8zM100.4 78.5h.8v.8h-.8zM107.3 78.1h.8v.8h-.8zM109.9 75.6h.8v.8h-.8zM106.1 75.7h.8v.8h-.8zM121.3 74.5h.8v.8h-.8zM108.0 71.1h.8v.8h-.8zM104.0 74.8h.8v.8h-.8zM124.4 65.9h.8v.8h-.8zM117.2 75.3h.8v.8h-.8zM119.3 71.9h.8v.8h-.8zM122.1 74.0h.8v.8h-.8zM112.2 75.4h.8v.8h-.8zM110.1 70.3h.8v.8h-.8zM112.4 69.5h.8v.8h-.8zM120.1 79.9h.8v.8h-.8zM131.6 65.4h.8v.8h-.8zM100.5 70.3h.8v.8h-.8zM124.6 81.1h.8v.8h-.8zM121.5 68.6h.8v.8h-.8zM114.7 84.8h.8v.8h-.8zM109.0 79.9h.8v.8h-.8zM110.3 85.7h.8v.8h-.8zM122.2 83.1h.8v.8h-.8zM106.8 82.3h.8v.8h-.8zM106.1 85.1h.8v.8h-.8zM111.1 84.5h.8v.8h-.8zM102.1 84.4h.8v.8h-.8zM113.9 84.4h.8v.8h-.8zM111.0 81.9h.8v.8h-.8zM118.2 87.8h.8v.8h-.8zM112.8 81.2h.8v.8h-.8zM106.3 79.3h.8v.8h-.8zM119.7 82.5h.8v.8h-.8zM113.5 82.5h.8v.8h-.8zM116.5 87.5h.8v.8h-.8zM111.3 83.0h.8v.8h-.8zM113.2 88.7h.8v.8h-.8zM107.5 87.4h.8v.8h-.8zM107.3 82.1h.8v.8h-.8zM118.6 85.9h.8v.8h-.8zM111.8 88.8h.8v.8h-.8zM114.3 80.4h.8v.8h-.8zM109.1 82.6h.8v.8h-.8zM114.9 78.2h.8v.8h-.8zM120.3 81.7h.8v.8h-.8zM108.4 84.2h.8v.8h-.8zM116.3 81.9h.8v.8h-.8zM123.3 82.6h.8v.8h-.8zM109.1 75.4h.8v.8h-.8zM108.4 86.3h.8v.8h-.8zM110.3 85.6h.8v.8h-.8zM107.7 82.9h.8v.8h-.8zM105.8 71.6h.8v.8h-.8zM121.4 81.7h.8v.8h-.8zM109.8 79.2h.8v.8h-.8zM113.8 87.5h.8v.8h-.8zM113.2 84.8h.8v.8h-.8zM116.0 84.1h.8v.8h-.8zM108.7 84.1h.8v.8h-.8zM110.8 86.0h.8v.8h-.8zM119.5 83.3h.8v.8h-.8zM114.4 83.0h.8v.8h-.8zM114.2 81.3h.8v.8h-.8zM122.4 85.8h.8v.8h-.8zM108.2 79.8h.8v.8h-.8zM111.1 82.1h.8v.8h-.8zM115.1 85.6h.8v.8h-.8zM117.1 79.4h.8v.8h-.8zM110.3 84.6h.8v.8h-.8zM111.1 83.6h.8v.8h-.8zM115.1 82.3h.8v.8h-.8zM112.6 86.8h.8v.8h-.8zM106.4 83.2h.8v.8h-.8zM114.4 84.9h.8v.8h-.8zM115.0 84.0h.8v.8h-.8zM114.2 57.6h.8v.8h-.8zM114.4 64.5h.8v.8h-.8zM110.1 54.3h.8v.8h-.8zM115.3 56.6h.8v.8h-.8zM114.7 61.3h.8v.8h-.8zM112.5 53.9h.8v.8h-.8zM120.0 67.9h.8v.8h-.8zM114.1 70.9h.8v.8h-.8zM119.3 61.2h.8v.8h-.8zM116.1 61.1h.8v.8h-.8zM110.0 60.4h.8v.8h-.8zM118.7 54.4h.8v.8h-.8zM122.7 64.4h.8v.8h-.8zM111.6 61.5h.8v.8h-.8zM119.1 66.8h.8v.8h-.8zM118.1 63.2h.8v.8h-.8zM117.9 61.5h.8v.8h-.8zM113.9 57.0h.8v.8h-.8zM115.1 63.1h.8v.8h-.8zM115.3 51.1h.8v.8h-.8zM110.6 58.8h.8v.8h-.8zM116.4 59.7h.8v.8h-.8zM116.0 66.7h.8v.8h-.8zM115.0 62.6h.8v.8h-.8zM115.2 65.3h.8v.8h-.8zM115.2 61.0h.8v.8h-.8zM118.2 63.6h.8v.8h-.8zM117.6 55.3h.8v.8h-.8zM115.5 60.9h.8v.8h-.8zM114.9 61.4h.8v.8h-.8zM118.7 61.9h.8v.8h-.8zM114.8 61.1h.8v.8h-.8zM115.6 69.7h.8v.8h-.8zM111.7 53.9h.8v.8h-.8zM113.2 57.8h.8v.8h-.8zM116.4 58.3h.8v.8h-.8zM113.1 71.1h.8v.8h-.8zM117.6 163.5h.8v.8h-.8zM119.3 151.1h.8v.8h-.8zM127.8 162.6h.8v.8h-.8zM126.9 165.2h.8v.8h-.8zM120.8 160.8h.8v.8h-.8zM117.6 155.9h.8v.8h-.8zM118.6 157.4h.8v.8h-.8zM113.3 154.9h.8v.8h-.8zM125.2 154.9h.8v.8h-.8zM125.8 158.2h.8v.8h-.8zM114.4 161.6h.8v.8h-.8zM118.6 158.1h.8v.8h-.8zM123.7 169.4h.8v.8h-.8zM123.8 160.6h.8v.8h-.8zM117.9 159.7h.8v.8h-.8zM126.4 164.9h.8v.8h-.8zM110.6 160.0h.8v.8h-.8zM118.3 155.0h.8v.8h-.8zM117.3 157.1h.8v.8h-.8zM115.2 165.1h.8v.8h-.8zM124.0 159.2h.8v.8h-.8zM122.7 162.4h.8v.8h-.8zM111.7 165.2h.8v.8h-.8zM123.6 162.1h.8v.8h-.8zM120.0 158.5h.8v.8h-.8zM120.8 167.0h.8v.8h-.8zM125.1 164.1h.8v.8h-.8zM117.8 155.7h.8v.8h-.8zM123.9 161.4h.8v.8h-.8zM118.2 159.4h.8v.8h-.8zM116.6 155.6h.8v.8h-.8zM120.6 163.7h.8v.8h-.8zM119.1 163.3h.8v.8h-.8zM118.8 158.0h.8v.8h-.8zM131.1 164.9h.8v.8h-.8zM123.5 163.1h.8v.8h-.8zM111.4 165.0h.8v.8h-.8zM125.4 159.9h.8v.8h-.8zM124.1 156.2h.8v.8h-.8zM125.1 161.2h.8v.8h-.8zM126.9 159.3h.8v.8h-.8zM126.2 156.7h.8v.8h-.8zM117.1 161.3h.8v.8h-.8zM127.4 163.4h.8v.8h-.8zM116.5 159.5h.8v.8h-.8zM128.0 154.7h.8v.8h-.8zM122.5 160.5h.8v.8h-.8zM111.7 170.2h.8v.8h-.8zM126.1 156.4h.8v.8h-.8zM121.4 156.5h.8v.8h-.8zM126.9 158.7h.8v.8h-.8zM118.3 160.2h.8v.8h-.8zM121.9 160.8h.8v.8h-.8zM113.0 159.6h.8v.8h-.8zM124.4 157.1h.8v.8h-.8zM112.7 164.4h.8v.8h-.8zM123.8 161.8h.8v.8h-.8zM115.8 157.4h.8v.8h-.8zM118.0 160.8h.8v.8h-.8zM116.9 163.6h.8v.8h-.8zM126.2 159.0h.8v.8h-.8zM118.7 156.9h.8v.8h-.8zM121.0 158.8h.8v.8h-.8zM114.2 160.2h.8v.8h-.8zM131.7 159.8h.8v.8h-.8zM117.7 163.2h.8v.8h-.8zM112.9 163.0h.8v.8h-.8zM108.4 162.2h.8v.8h-.8zM107.0 162.2h.8v.8h-.8zM117.0 161.2h.8v.8h-.8zM120.6 163.9h.8v.8h-.8zM126.0 156.2h.8v.8h-.8zM117.7 160.6h.8v.8h-.8zM108.6 156.1h.8v.8h-.8zM117.9 161.7h.8v.8h-.8zM112.8 165.2h.8v.8h-.8zM126.2 163.0h.8v.8h-.8zM122.5 160.9h.8v.8h-.8zM115.4 156.1h.8v.8h-.8zM127.0 158.9h.8v.8h-.8zM127.3 170.2h.8v.8h-.8zM119.4 158.2h.8v.8h-.8zM109.1 163.0h.8v.8h-.8zM127.2 158.1h.8v.8h-.8zM115.1 166.9h.8v.8h-.8zM121.5 158.0h.8v.8h-.8zM117.5 161.3h.8v.8h-.8zM110.9 159.4h.8v.8h-.8zM123.1 157.5h.8v.8h-.8zM120.3 159.8h.8v.8h-.8zM115.1 164.7h.8v.8h-.8zM116.5 158.4h.8v.8h-.8zM125.2 156.5h.8v.8h-.8zM125.9 155.8h.8v.8h-.8zM116.2 165.0h.8v.8h-.8zM113.3 157.5h.8v.8h-.8zM122.9 163.3h.8v.8h-.8zM111.8 156.7h.8v.8h-.8zM119.4 153.4h.8v.8h-.8zM123.6 160.6h.8v.8h-.8zM112.8 157.2h.8v.8h-.8zM191.9 163.5h.8v.8h-.8zM195.0 156.2h.8v.8h-.8zM195.0 159.8h.8v.8h-.8zM206.1 159.8h.8v.8h-.8zM198.5 151.3h.8v.8h-.8zM206.2 156.7h.8v.8h-.8zM206.9 156.7h.8v.8h-.8zM206.3 155.8h.8v.8h-.8zM195.8 166.8h.8v.8h-.8zM194.3 160.2h.8v.8h-.8zM211.3 158.6h.8v.8h-.8zM190.6 158.0h.8v.8h-.8zM199.4 162.7h.8v.8h-.8zM207.6 163.6h.8v.8h-.8zM198.8 154.8h.8v.8h-.8zM205.4 161.4h.8v.8h-.8zM199.6 159.0h.8v.8h-.8zM208.0 158.3h.8v.8h-.8zM205.1 164.3h.8v.8h-.8zM204.0 158.7h.8v.8h-.8zM210.7 161.7h.8v.8h-.8zM202.8 154.5h.8v.8h-.8zM196.9 161.0h.8v.8h-.8zM204.8 159.3h.8v.8h-.8zM207.6 165.2h.8v.8h-.8zM197.2 159.3h.8v.8h-.8zM195.5 160.7h.8v.8h-.8zM192.5 159.1h.8v.8h-.8zM193.1 156.2h.8v.8h-.8zM201.3 160.2h.8v.8h-.8zM205.4 159.6h.8v.8h-.8zM196.4 163.2h.8v.8h-.8zM205.9 156.7h.8v.8h-.8zM196.8 155.1h.8v.8h-.8zM206.0 160.1h.8v.8h-.8zM191.4 158.7h.8v.8h-.8zM202.7 155.3h.8v.8h-.8zM205.7 161.8h.8v.8h-.8zM198.9 156.7h.8v.8h-.8zM200.0 161.2h.8v.8h-.8zM209.4 158.6h.8v.8h-.8zM198.7 159.1h.8v.8h-.8zM201.1 156.0h.8v.8h-.8zM202.7 166.3h.8v.8h-.8zM199.2 158.8h.8v.8h-.8zM204.9 159.8h.8v.8h-.8zM200.3 165.4h.8v.8h-.8zM203.7 164.2h.8v.8h-.8zM193.4 163.1h.8v.8h-.8zM197.6 157.4h.8v.8h-.8zM213.3 162.2h.8v.8h-.8zM195.1 156.4h.8v.8h-.8zM188.3 155.9h.8v.8h-.8zM206.1 169.5h.8v.8h-.8zM203.1 163.0h.8v.8h-.8zM202.1 167.5h.8v.8h-.8zM201.2 153.0h.8v.8h-.8zM200.5 156.4h.8v.8h-.8zM200.2 160.8h.8v.8h-.8zM194.5 166.0h.8v.8h-.8zM204.6 155.3h.8v.8h-.8zM201.0 164.3h.8v.8h-.8zM211.0 158.8h.8v.8h-.8zM203.9 156.7h.8v.8h-.8zM201.2 160.6h.8v.8h-.8zM196.5 157.4h.8v.8h-.8zM198.4 160.3h.8v.8h-.8zM193.2 156.1h.8v.8h-.8zM196.0 152.5h.8v.8h-.8zM201.4 165.1h.8v.8h-.8zM198.5 163.2h.8v.8h-.8zM194.2 161.7h.8v.8h-.8zM201.3 162.1h.8v.8h-.8zM209.3 161.8h.8v.8h-.8zM191.8 159.4h.8v.8h-.8zM203.9 161.6h.8v.8h-.8zM210.1 155.4h.8v.8h-.8zM202.1 162.7h.8v.8h-.8zM203.0 162.0h.8v.8h-.8zM195.0 159.4h.8v.8h-.8zM202.8 156.3h.8v.8h-.8zM202.9 158.9h.8v.8h-.8zM206.5 158.3h.8v.8h-.8zM196.2 160.8h.8v.8h-.8zM197.5 165.5h.8v.8h-.8zM196.5 156.4h.8v.8h-.8zM196.5 161.4h.8v.8h-.8zM207.5 161.2h.8v.8h-.8zM201.0 154.3h.8v.8h-.8zM211.1 160.1h.8v.8h-.8zM206.8 162.6h.8v.8h-.8zM215.2 157.9h.8v.8h-.8zM204.8 158.3h.8v.8h-.8zM199.8 158.2h.8v.8h-.8zM201.7 157.3h.8v.8h-.8zM199.9 156.3h.8v.8h-.8zM198.3 161.5h.8v.8h-.8zM200.4 159.9h.8v.8h-.8zM199.8 163.6h.8v.8h-.8zM200.5 156.5h.8v.8h-.8zM201.7 160.2h.8v.8h-.8zM200.6 159.6h.8v.8h-.8zM201.9 157.5h.8v.8h-.8zM201.5 158.8h.8v.8h-.8zM200.6 158.2h.8v.8h-.8z"/>
<path fill="rgb(96,96,96)" d="M122.9 59.3h.8v.8h-.8zM114.4 64.3h.8v.8h-.8zM119.6 65.2h.8v.8h-.8zM129.1 63.5h.8v.8h-.8zM126.0 69.5h.8v.8h-.8zM122.7 57.6h.8v.8h-.8zM119.3 53.7h.8v.8h-.8zM115.8 52.4h.8v.8h-.8zM123.7 60.4h.8v.8h-.8zM125.0 68.0h.8v.8h-.8zM116.3 58.7h.8v.8h-.8zM116.9 64.4h.8v.8h-.8zM125.0 55.5h.8v.8h-.8zM121.9 58.7h.8v.8h-.8zM117.4 68.4h.8v.8h-.8zM122.3 60.7h.8v.8h-.8zM124.3 59.2h.8v.8h-.8zM117.3 64.8h.8v.8h-.8zM114.9 58.7h.8v.8h-.8zM123.8 54.8h.8v.8h-.8zM119.3 58.4h.8v.8h-.8zM119.2 66.5h.8v.8h-.8zM107.9 66.4h.8v.8h-.8zM120.4 56.6h.8v.8h-.8zM120.0 56.8h.8v.8h-.8zM123.4 50.2h.8v.8h-.8zM113.4 58.8h.8v.8h-.8zM124.9 59.1h.8v.8h-.8zM113.2 58.1h.8v.8h-.8zM117.9 54.6h.8v.8h-.8zM119.8 59.0h.8v.8h-.8zM120.4 59.4h.8v.8h-.8zM115.8 54.1h.8v.8h-.8zM123.0 56.0h.8v.8h-.8zM115.6 63.9h.8v.8h-.8zM117.9 62.7h.8v.8h-.8zM113.0 67.1h.8v.8h-.8zM118.1 68.2h.8v.8h-.8zM124.2 61.8h.8v.8h-.8zM122.8 62.7h.8v.8h-.8zM115.3 64.2h.8v.8h-.8zM119.8 49.1h.8v.8h-.8zM118.8 65.0h.8v.8h-.8zM120.6 59.6h.8v.8h-.8zM115.9 65.1h.8v.8h-.8zM119.3 56.7h.8v.8h-.8zM118.4 72.4h.8v.8h-.8zM116.5 70.0h.8v.8h-.8zM119.2 61.7h.8v.8h-.8zM116.0 59.1h.8v.8h-.8zM113.2 61.5h.8v.8h-.8zM119.0 58.3h.8v.8h-.8zM125.9 49.5h.8v.8h-.8zM112.2 64.4h.8v.8h-.8zM125.5 55.1h.8v.8h-.8zM122.2 50.8h.8v.8h-.8zM123.6 55.1h.8v.8h-.8zM117.2 62.8h.8v.8h-.8zM122.3 66.3h.8v.8h-.8zM120.1 66.2h.8v.8h-.8zM106.7 66.1h.8v.8h-.8zM115.6 62.5h.8v.8h-.8zM113.3 63.5h.8v.8h-.8zM129.1 63.0h.8v.8h-.8zM112.8 62.1h.8v.8h-.8zM115.5 69.7h.8v.8h-.8zM118.4 56.0h.8v.8h-.8zM125.3 70.0h.8v.8h-.8zM113.1 68.4h.8v.8h-.8zM118.8 59.6h.8v.8h-.8zM127.0 62.7h.8v.8h-.8zM126.8 68.1h.8v.8h-.8zM120.3 71.5h.8v.8h-.8zM111.9 56.6h.8v.8h-.8zM112.8 59.3h.8v.8h-.8zM117.9 57.6h.8v.8h-.8zM115.2 51.3h.8v.8h-.8zM119.9 62.9h.8v.8h-.8zM117.4 67.1h.8v.8h-.8zM121.7 53.1h.8v.8h-.8zM108.0 64.2h.8v.8h-.8zM114.4 50.5h.8v.8h-.8zM126.8 54.7h.8v.8h-.8zM118.9 56.7h.8v.8h-.8zM113.0 59.2h.8v.8h-.8zM114.0 58.3h.8v.8h-.8zM118.2 58.5h.8v.8h-.8zM123.6 62.2h.8v.8h-.8zM112.4 66.5h.8v.8h-.8zM113.3 62.5h.8v.8h-.8zM130.8 60.1h.8v.8h-.8zM123.0 67.6h.8v.8h-.8zM116.1 57.7h.8v.8h-.8zM110.4 65.0h.8v.8h-.8zM111.9 58.6h.8v.8h-.8zM119.5 57.2h.8v.8h-.8zM125.0 57.3h.8v.8h-.8zM109.4 61.1h.8v.8h-.8zM119.7 67.9h.8v.8h-.8zM117.3 70.9h.8v.8h-.8zM119.1 82.5h.8v.8h-.8zM117.4 73.2h.8v.8h-.8zM113.6 79.5h.8v.8h-.8zM112.9 77.5h.8v.8h-.8zM111.1 69.2h.8v.8h-.8zM108.9 71.7h.8v.8h-.8zM117.8 67.3h.8v.8h-.8zM115.7 66.6h.8v.8h-.8zM126.0 72.8h.8v.8h-.8zM103.8 67.3h.8v.8h-.8zM118.6 76.5h.8v.8h-.8zM118.5 73.9h.8v.8h-.8zM121.6 77.7h.8v.8h-.8zM111.7 74.3h.8v.8h-.8zM109.7 72.8h.8v.8h-.8zM104.7 79.6h.8v.8h-.8zM116.1 69.2h.8v.8h-.8zM120.2 74.4h.8v.8h-.8zM116.9 76.6h.8v.8h-.8zM122.1 71.3h.8v.8h-.8zM114.8 73.9h.8v.8h-.8zM102.5 69.8h.8v.8h-.8zM113.9 82.6h.8v.8h-.8zM123.0 76.5h.8v.8h-.8zM122.6 79.4h.8v.8h-.8zM122.7 78.0h.8v.8h-.8zM119.6 62.7h.8v.8h-.8zM109.5 73.4h.8v.8h-.8zM120.3 77.8h.8v.8h-.8zM116.7 73.9h.8v.8h-.8zM121.3 71.2h.8v.8h-.8zM120.8 69.6h.8v.8h-.8zM118.3 68.4h.8v.8h-.8zM117.3 77.7h.8v.8h-.8zM114.1 68.4h.8v.8h-.8zM122.6 77.5h.8v.8h-.8zM108.5 70.1h.8v.8h-.8zM117.3 81.9h.8v.8h-.8zM118.4 73.0h.8v.8h-.8zM118.6 74.1h.8v.8h-.8zM117.7 80.6h.8v.8h-.8zM117.4 68.3h.8v.8h-.8zM128.7 70.6h.8v.8h-.8zM120.8 80.7h.8v.8h-.8zM131.7 74.9h.8v.8h-.8zM120.3 76.6h.8v.8h-.8zM119.4 77.7h.8v.8h-.8zM118.3 76.5h.8v.8h-.8zM119.0 75.9h.8v.8h-.8zM112.9 79.0h.8v.8h-.8zM121.4 75.9h.8v.8h-.8zM119.0 73.7h.8v.8h-.8zM108.9 70.6h.8v.8h-.8zM114.2 74.4h.8v.8h-.8zM134.9 65.8h.8v.8h-.8zM120.3 76.6h.8v.8h-.8zM122.2 70.4h.8v.8h-.8zM107.4 76.6h.8v.8h-.8zM118.3 71.5h.8v.8h-.8zM108.0 71.1h.8v.8h-.8zM125.7 76.7h.8v.8h-.8zM107.8 71.4h.8v.8h-.8zM119.3 68.4h.8v.8h-.8zM112.8 69.9h.8v.8h-.8zM118.8 73.5h.8v.8h-.8zM106.7 75.3h.8v.8h-.8zM103.1 72.4h.8v.8h-.8zM112.1 70.3h.8v.8h-.8zM116.7 80.9h.8v.8h-.8zM109.9 73.7h.8v.8h-.8zM128.1 73.3h.8v.8h-.8zM116.7 78.0h.8v.8h-.8zM114.5 74.0h.8v.8h-.8zM120.8 69.8h.8v.8h-.8zM122.6 76.1h.8v.8h-.8zM109.6 67.0h.8v.8h-.8zM118.9 74.1h.8v.8h-.8zM122.8 73.6h.8v.8h-.8zM113.2 77.4h.8v.8h-.8zM109.1 75.8h.8v.8h-.8zM119.7 69.6h.8v.8h-.8zM115.1 73.5h.8v.8h-.8zM110.2 74.4h.8v.8h-.8zM115.7 70.7h.8v.8h-.8zM111.0 75.6h.8v.8h-.8zM111.6 74.3h.8v.8h-.8zM113.4 70.0h.8v.8h-.8zM115.6 74.5h.8v.8h-.8zM113.6 78.8h.8v.8h-.8zM112.0 70.0h.8v.8h-.8zM126.3 76.7h.8v.8h-.8zM119.7 81.8h.8v.8h-.8zM115.4 70.3h.8v.8h-.8zM115.6 67.7h.8v.8h-.8zM112.9 72.7h.8v.8h-.8zM105.8 73.2h.8v.8h-.8zM99.8 72.5h.8v.8h-.8zM111.8 72.2h.8v.8h-.8zM118.1 73.6h.8v.8h-.8zM109.3 72.8h.8v.8h-.8zM114.4 72.2h.8v.8h-.8zM122.0 75.3h.8v.8h-.8zM113.8 72.8h.8v.8h-.8zM107.9 79.2h.8v.8h-.8zM113.0 86.0h.8v.8h-.8zM114.5 91.2h.8v.8h-.8zM111.4 93.4h.8v.8h-.8zM111.3 82.7h.8v.8h-.8zM114.5 86.9h.8v.8h-.8zM113.8 89.4h.8v.8h-.8zM102.0 75.9h.8v.8h-.8zM116.9 78.4h.8v.8h-.8zM112.3 78.6h.8v.8h-.8zM113.4 87.1h.8v.8h-.8zM112.7 87.7h.8v.8h-.8zM108.0 85.6h.8v.8h-.8zM117.1 83.3h.8v.8h-.8zM113.9 85.7h.8v.8h-.8zM115.2 86.7h.8v.8h-.8zM121.5 89.6h.8v.8h-.8zM115.7 81.1h.8v.8h-.8zM109.1 82.4h.8v.8h-.8zM116.9 89.8h.8v.8h-.8zM116.1 80.7h.8v.8h-.8zM111.4 87.5h.8v.8h-.8zM112.4 87.6h.8v.8h-.8zM106.4 82.2h.8v.8h-.8zM114.4 85.7h.8v.8h-.8zM112.1 88.2h.8v.8h-.8zM113.8 83.3h.8v.8h-.8zM108.4 86.5h.8v.8h-.8zM114.6 88.2h.8v.8h-.8zM111.2 83.9h.8v.8h-.8zM109.6 79.9h.8v.8h-.8zM114.0 76.7h.8v.8h-.8zM121.8 85.8h.8v.8h-.8zM114.5 78.7h.8v.8h-.8zM115.9 87.4h.8v.8h-.8zM109.8 78.3h.8v.8h-.8zM110.1 84.3h.8v.8h-.8zM115.6 82.1h.8v.8h-.8zM117.3 80.0h.8v.8h-.8zM118.6 84.2h.8v.8h-.8zM118.1 86.9h.8v.8h-.8zM113.0 85.4h.8v.8h-.8zM107.2 83.3h.8v.8h-.8zM111.8 89.8h.8v.8h-.8zM112.9 84.7h.8v.8h-.8zM113.4 59.0h.8v.8h-.8zM109.2 64.1h.8v.8h-.8zM112.6 65.8h.8v.8h-.8zM113.8 58.5h.8v.8h-.8zM114.2 68.9h.8v.8h-.8zM116.4 55.8h.8v.8h-.8zM114.6 56.6h.8v.8h-.8zM114.3 65.7h.8v.8h-.8zM114.4 54.7h.8v.8h-.8zM116.5 67.5h.8v.8h-.8zM115.2 63.7h.8v.8h-.8zM116.9 59.7h.8v.8h-.8zM109.7 58.5h.8v.8h-.8zM113.2 66.6h.8v.8h-.8zM118.3 64.0h.8v.8h-.8zM117.3 69.8h.8v.8h-.8zM114.9 67.6h.8v.8h-.8zM117.8 66.3h.8v.8h-.8zM113.6 69.1h.8v.8h-.8zM116.5 59.2h.8v.8h-.8zM110.0 50.4h.8v.8h-.8zM115.7 50.0h.8v.8h-.8zM115.5 57.6h.8v.8h-.8zM120.5 66.3h.8v.8h-.8zM115.1 61.1h.8v.8h-.8zM116.4 62.3h.8v.8h-.8zM114.3 67.2h.8v.8h-.8zM116.2 57.4h.8v.8h-.8zM114.8 53.6h.8v.8h-.8zM120.1 51.7h.8v.8h-.8zM110.2 47.8h.8v.8h-.8zM125.3 160.7h.8v.8h-.8zM120.1 159.1h.8v.8h-.8zM116.0 160.2h.8v.8h-.8zM118.1 156.2h.8v.8h-.8zM119.5 163.5h.8v.8h-.8zM123.7 159.6h.8v.8h-.8zM120.4 158.5h.8v.8h-.8zM113.6 162.1h.8v.8h-.8zM137.8 159.6h.8v.8h-.8zM119.9 148.3h.8v.8h-.8zM121.0 157.3h.8v.8h-.8zM125.4 158.7h.8v.8h-.8zM121.7 158.3h.8v.8h-.8zM121.1 162.3h.8v.8h-.8zM129.0 163.5h.8v.8h-.8zM118.4 163.6h.8v.8h-.8zM111.3 161.0h.8v.8h-.8zM120.7 152.6h.8v.8h-.8zM122.3 164.5h.8v.8h-.8zM123.1 159.5h.8v.8h-.8zM117.4 164.0h.8v.8h-.8zM119.3 156.5h.8v.8h-.8zM116.7 161.1h.8v.8h-.8zM124.1 160.3h.8v.8h-.8zM106.2 159.8h.8v.8h-.8zM125.9 161.4h.8v.8h-.8zM115.7 159.0h.8v.8h-.8zM121.5 159.4h.8v.8h-.8zM123.9 164.3h.8v.8h-.8zM122.2 157.8h.8v.8h-.8zM126.5 161.8h.8v.8h-.8zM117.5 156.4h.8v.8h-.8zM124.3 160.0h.8v.8h-.8zM114.9 161.5h.8v.8h-.8zM123.5 159.5h.8v.8h-.8zM113.9 160.0h.8v.8h-.8zM115.1 161.8h.8v.8h-.8zM119.4 155.4h.8v.8h-.8zM117.0 165.6h.8v.8h-.8zM116.0 160.7h.8v.8h-.8zM118.7 159.1h.8v.8h-.8zM122.1 158.3h.8v.8h-.8zM107.5 157.6h.8v.8h-.8zM122.9 159.1h.8v.8h-.8zM124.9 162.2h.8v.8h-.8zM120.8 159.0h.8v.8h-.8zM115.8 162.7h.8v.8h-.8zM124.2 159.8h.8v.8h-.8zM120.0 159.5h.8v.8h-.8zM121.1 157.8h.8v.8h-.8zM116.8 157.2h.8v.8h-.8zM118.3 158.8h.8v.8h-.8zM124.8 159.3h.8v.8h-.8zM129.0 160.1h.8v.8h-.8zM115.4 154.3h.8v.8h-.8zM123.9 162.6h.8v.8h-.8zM116.2 157.0h.8v.8h-.8zM118.6 163.9h.8v.8h-.8zM123.2 159.6h.8v.8h-.8zM110.4 159.0h.8v.8h-.8zM119.1 160.5h.8v.8h-.8zM115.5 165.7h.8v.8h-.8zM116.3 164.4h.8v.8h-.8zM112.8 163.4h.8v.8h-.8zM120.5 159.5h.8v.8h-.8zM120.9 152.3h.8v.8h-.8zM119.5 168.5h.8v.8h-.8zM122.2 158.0h.8v.8h-.8zM119.4 163.7h.8v.8h-.8zM121.8 163.0h.8v.8h-.8zM117.6 160.3h.8v.8h-.8zM117.3 158.8h.8v.8h-.8zM121.6 158.1h.8v.8h-.8zM122.9 155.7h.8v.8h-.8zM114.5 163.3h.8v.8h-.8zM110.5 159.3h.8v.8h-.8zM123.1 161.6h.8v.8h-.8zM113.9 156.2h.8v.8h-.8zM128.6 157.3h.8v.8h-.8zM112.2 160.4h.8v.8h-.8zM111.1 157.4h.8v.8h-.8zM114.6 155.4h.8v.8h-.8zM136.9 163.1h.8v.8h-.8zM132.0 158.1h.8v.8h-.8zM125.2 157.4h.8v.8h-.8zM121.8 165.0h.8v.8h-.8zM116.3 157.6h.8v.8h-.8zM119.3 166.1h.8v.8h-.8zM118.2 157.8h.8v.8h-.8zM109.6 153.2h.8v.8h-.8zM121.3 154.1h.8v.8h-.8zM112.2 154.6h.8v.8h-.8zM118.2 165.6h.8v.8h-.8zM130.7 161.8h.8v.8h-.8zM113.2 164.2h.8v.8h-.8zM118.2 162.1h.8v.8h-.8zM119.5 162.2h.8v.8h-.8zM117.2 162.9h.8v.8h-.8zM134.1 163.9h.8v.8h-.8zM120.2 160.0h.8v.8h-.8zM123.1 162.3h.8v.8h-.8zM115.1 152.5h.8v.8h-.8zM123.2 159.2h.8v.8h-.8zM119.3 164.4h.8v.8h-.8zM120.4 160.4h.8v.8h-.8zM120.0 165.2h.8v.8h-.8zM128.7 157.1h.8v.8h-.8zM113.8 163.0h.8v.8h-.8zM117.2 157.5h.8v.8h-.8zM120.0 160.5h.8v.8h-.8zM125.2 160.5h.8v.8h-.8zM108.3 160.9h.8v.8h-.8zM126.0 161.9h.8v.8h-.8zM127.0 160.7h.8v.8h-.8zM121.6 156.7h.8v.8h-.8zM126.1 166.7h.8v.8h-.8zM118.9 163.6h.8v.8h-.8zM137.6 160.9h.8v.8h-.8zM192.4 161.7h.8v.8h-.8zM203.5 159.5h.8v.8h-.8zM201.8 165.6h.8v.8h-.8zM210.2 161.0h.8v.8h-.8zM199.5 154.9h.8v.8h-.8zM199.7 160.1h.8v.8h-.8zM196.6 161.1h.8v.8h-.8zM207.4 159.4h.8v.8h-.8zM201.2 166.9h.8v.8h-.8zM196.8 164.1h.8v.8h-.8zM189.9 152.4h.8v.8h-.8zM205.6 159.3h.8v.8h-.8zM186.6 153.8h.8v.8h-.8zM198.3 160.6h.8v.8h-.8zM195.8 159.2h.8v.8h-.8zM201.9 160.9h.8v.8h-.8zM198.3 158.9h.8v.8h-.8zM199.8 158.7h.8v.8h-.8zM208.5 155.1h.8v.8h-.8zM199.3 163.8h.8v.8h-.8zM213.6 164.1h.8v.8h-.8zM204.1 153.9h.8v.8h-.8zM202.0 161.4h.8v.8h-.8zM198.4 158.2h.8v.8h-.8zM205.1 155.7h.8v.8h-.8zM197.8 153.3h.8v.8h-.8zM199.6 156.8h.8v.8h-.8zM215.2 159.2h.8v.8h-.8zM205.9 167.4h.8v.8h-.8zM195.9 158.7h.8v.8h-.8zM198.1 160.4h.8v.8h-.8zM205.7 160.3h.8v.8h-.8zM207.2 155.5h.8v.8h-.8zM188.5 161.2h.8v.8h-.8zM200.9 161.6h.8v.8h-.8zM205.0 159.0h.8v.8h-.8zM197.5 158.3h.8v.8h-.8zM204.0 158.2h.8v.8h-.8zM204.3 158.8h.8v.8h-.8zM207.5 161.9h.8v.8h-.8zM194.7 160.5h.8v.8h-.8zM199.4 156.8h.8v.8h-.8zM211.0 164.2h.8v.8h-.8zM208.4 159.1h.8v.8h-.8zM194.0 158.3h.8v.8h-.8zM197.2 153.6h.8v.8h-.8zM199.4 157.1h.8v.8h-.8zM209.9 159.9h.8v.8h-.8zM204.0 160.6h.8v.8h-.8zM204.9 160.6h.8v.8h-.8zM197.7 160.1h.8v.8h-.8zM212.4 158.8h.8v.8h-.8zM201.4 160.4h.8v.8h-.8zM189.0 157.1h.8v.8h-.8zM202.2 163.3h.8v.8h-.8zM199.7 165.1h.8v.8h-.8zM204.5 155.6h.8v.8h-.8zM200.8 158.8h.8v.8h-.8zM201.6 161.1h.8v.8h-.8zM203.4 151.9h.8v.8h-.8zM203.0 157.6h.8v.8h-.8zM212.2 160.8h.8v.8h-.8zM204.5 155.3h.8v.8h-.8zM197.2 158.2h.8v.8h-.8zM196.2 160.1h.8v.8h-.8zM201.1 158.5h.8v.8h-.8zM196.9 157.1h.8v.8h-.8zM199.0 153.3h.8v.8h-.8zM200.1 163.9h.8v.8h-.8zM204.2 162.9h.8v.8h-.8zM191.9 161.1h.8v.8h-.8zM194.8 159.1h.8v.8h-.8zM207.2 158.3h.8v.8h-.8zM198.3 162.0h.8v.8h-.8zM203.2 154.7h.8v.8h-.8z"/>
<path fill="rgb(112,112,112)" d="M123.1 56.3h.8v.8h-.8zM123.3 60.7h.8v.8h-.8zM127.9 64.8h.8v.8h-.8zM118.4 58.1h.8v.8h-.8zM122.7 62.4h.8v.8h-.8zM113.3 60.1h.8v.8h-.8zM123.4 56.5h.8v.8h-.8zM122.3 58.9h.8v.8h-.8zM119.5 59.8h.8v.8h-.8zM112.4 74.5h.8v.8h-.8zM108.3 57.8h.8v.8h-.8zM122.5 61.7h.8v.8h-.8zM118.1 59.2h.8v.8h-.8zM112.1 63.8h.8v.8h-.8zM116.9 54.9h.8v.8h-.8zM118.8 61.6h.8v.8h-.8zM119.3 56.3h.8v.8h-.8zM120.1 47.7h.8v.8h-.8zM123.0 55.6h.8v.8h-.8zM128.3 61.6h.8v.8h-.8zM122.7 65.8h.8v.8h-.8zM122.3 60.4h.8v.8h-.8zM118.6 58.0h.8v.8h-.8zM107.7 61.0h.8v.8h-.8zM121.5 58.5h.8v.8h-.8zM118.5 71.9h.8v.8h-.8zM117.8 63.1h.8v.8h-.8zM117.0 60.1h.8v.8h-.8zM127.9 64.3h.8v.8h-.8zM117.1 67.7h.8v.8h-.8zM115.4 55.8h.8v.8h-.8zM110.3 62.5h.8v.8h-.8zM120.5 57.7h.8v.8h-.8zM117.4 60.7h.8v.8h-.8zM121.8 62.4h.8v.8h-.8zM121.9 58.5h.8v.8h-.8zM131.2 62.1h.8v.8h-.8zM107.8 63.0h.8v.8h-.8zM115.8 56.3h.8v.8h-.8zM123.3 56.8h.8v.8h-.8zM118.5 68.6h.8v.8h-.8zM108.3 50.3h.8v.8h-.8zM131.5 63.2h.8v.8h-.8zM116.3 57.1h.8v.8h-.8zM122.7 62.7h.8v.8h-.8zM117.0 66.3h.8v.8h-.8zM120.8 59.6h.8v.8h-.8zM124.7 57.7h.8v.8h-.8zM115.2 56.9h.8v.8h-.8zM127.9 57.5h.8v.8h-.8zM124.3 67.0h.8v.8h-.8zM119.7 52.4h.8v.8h-.8zM114.4 62.9h.8v.8h-.8zM121.7 67.9h.8v.8h-.8zM117.3 53.2h.8v.8h-.8zM118.7 66.2h.8v.8h-.8zM118.6 56.2h.8v.8h-.8zM118.9 62.0h.8v.8h-.8zM118.6 66.0h.8v.8h-.8zM127.8 62.6h.8v.8h-.8zM120.1 66.6h.8v.8h-.8zM115.6 61.1h.8v.8h-.8zM125.1 59.0h.8v.8h-.8zM124.9 59.6h.8v.8h-.8zM125.8 62.5h.8v.8h-.8zM120.2 66.0h.8v.8h-.8zM121.1 58.4h.8v.8h-.8zM118.5 57.4h.8v.8h-.8zM125.9 62.0h.8v.8h-.8zM116.0 64.0h.8v.8h-.8zM116.3 62.5h.8v.8h-.8zM121.5 55.9h.8v.8h-.8zM126.0 59.7h.8v.8h-.8zM114.8 68.1h.8v.8h-.8zM118.5 60.6h.8v.8h-.8zM119.9 61.6h.8v.8h-.8zM123.2 60.4h.8v.8h-.8zM118.7 57.9h.8v.8h-.8zM111.1 67.6h.8v.8h-.8zM119.9 62.6h.8v.8h-.8zM120.4 60.9h.8v.8h-.8zM126.2 64.5h.8v.8h-.8zM110.9 60.7h.8v.8h-.8zM123.4 65.6h.8v.8h-.8zM132.5 67.3h.8v.8h-.8zM114.1 61.7h.8v.8h-.8zM115.4 63.5h.8v.8h-.8zM129.0 53.2h.8v.8h-.8zM115.6 62.4h.8v.8h-.8zM116.1 65.1h.8v.8h-.8zM132.1 55.5h.8v.8h-.8zM123.8 64.6h.8v.8h-.8zM113.2 58.3h.8v.8h-.8zM122.0 62.8h.8v.8h-.8zM118.3 71.6h.8v.8h-.8zM105.1 60.9h.8v.8h-.8zM119.8 54.1h.8v.8h-.8zM115.6 57.7h.8v.8h-.8zM121.3 61.0h.8v.8h-.8zM112.7 57.7h.8v.8h-.8zM124.7 74.3h.8v.8h-.8zM108.8 71.8h.8v.8h-.8zM114.9 77.8h.8v.8h-.8zM115.3 73.9h.8v.8h-.8zM109.7 78.7h.8v.8h-.8zM118.3 73.7h.8v.8h-.8zM116.3 75.5h.8v.8h-.8zM118.1 76.4h.8v.8h-.8zM111.4 73.2h.8v.8h-.8zM116.7 75.9h.8v.8h-.8zM117.0 75.4h.8v.8h-.8zM107.9 64.8h.8v.8h-.8zM127.8 73.8h.8v.8h-.8zM121.2 78.0h.8v.8h-.8zM116.6 70.9h.8v.8h-.8zM111.0 68.4h.8v.8h-.8zM115.4 77.1h.8v.8h-.8zM107.3 68.4h.8v.8h-.8zM115.6 72.0h.8v.8h-.8zM121.6 73.9h.8v.8h-.8zM116.1 81.3h.8v.8h-.8zM116.7 69.3h.8v.8h-.8zM106.6 74.2h.8v.8h-.8zM119.3 82.1h.8v.8h-.8zM113.6 65.0h.8v.8h-.8zM118.6 76.1h.8v.8h-.8zM104.5 75.9h.8v.8h-.8zM119.2 77.3h.8v.8h-.8zM120.3 71.5h.8v.8h-.8zM128.2 72.5h.8v.8h-.8zM113.9 70.2h.8v.8h-.8zM112.9 73.7h.8v.8h-.8zM113.2 76.0h.8v.8h-.8zM117.4 74.7h.8v.8h-.8zM110.3 81.7h.8v.8h-.8zM116.1 73.0h.8v.8h-.8zM108.0 76.9h.8v.8h-.8zM113.4 68.5h.8v.8h-.8zM118.3 72.7h.8v.8h-.8zM123.8 71.1h.8v.8h-.8zM126.6 73.0h.8v.8h-.8zM106.9 76.2h.8v.8h-.8zM108.6 72.7h.8v.8h-.8zM112.1 75.8h.8v.8h-.8zM112.3 78.0h.8v.8h-.8zM116.7 75.9h.8v.8h-.8zM109.3 72.1h.8v.8h-.8zM115.7 75.7h.8v.8h-.8zM107.0 73.1h.8v.8h-.8zM119.7 77.8h.8v.8h-.8zM110.9 76.9h.8v.8h-.8zM107.6 73.0h.8v.8h-.8zM129.1 75.4h.8v.8h-.8zM120.7 74.1h.8v.8h-.8zM123.2 75.8h.8v.8h-.8zM111.3 78.1h.8v.8h-.8zM117.7 72.2h.8v.8h-.8zM118.8 70.3h.8v.8h-.8zM127.4 75.0h.8v.8h-.8zM117.0 79.0h.8v.8h-.8zM114.0 69.6h.8v.8h-.8zM114.0 79.4h.8v.8h-.8zM113.1 72.4h.8v.8h-.8zM110.0 70.8h.8v.8h-.8zM112.0 78.0h.8v.8h-.8zM114.6 74.7h.8v.8h-.8zM109.7 71.1h.8v.8h-.8zM106.5 82.8h.8v.8h-.8zM115.7 73.8h.8v.8h-.8zM112.1 74.3h.8v.8h-.8zM125.4 74.4h.8v.8h-.8zM111.8 74.9h.8v.8h-.8zM113.4 79.1h.8v.8h-.8zM111.6 73.1h.8v.8h-.8zM114.7 78.4h.8v.8h-.8zM116.1 77.8h.8v.8h-.8zM115.5 72.5h.8v.8h-.8zM114.8 73.6h.8v.8h-.8zM117.6 72.3h.8v.8h-.8zM116.9 75.7h.8v.8h-.8zM125.3 73.8h.8v.8h-.8zM123.0 75.5h.8v.8h-.8zM109.8 85.1h.8v.8h-.8zM114.2 86.5h.8v.8h-.8zM113.9 80.1h.8v.8h-.8zM112.0 83.1h.8v.8h-.8zM115.7 77.9h.8v.8h-.8zM111.2 88.2h.8v.8h-.8zM110.6 92.1h.8v.8h-.8zM110.2 85.5h.8v.8h-.8zM117.2 85.7h.8v.8h-.8zM119.1 90.1h.8v.8h-.8zM113.2 86.5h.8v.8h-.8zM115.6 87.2h.8v.8h-.8zM115.2 80.5h.8v.8h-.8zM116.3 91.1h.8v.8h-.8zM113.2 83.5h.8v.8h-.8zM117.8 90.6h.8v.8h-.8zM115.5 82.4h.8v.8h-.8zM109.9 86.7h.8v.8h-.8zM109.0 78.3h.8v.8h-.8zM106.3 85.2h.8v.8h-.8zM114.5 83.7h.8v.8h-.8zM119.6 88.4h.8v.8h-.8zM112.2 89.6h.8v.8h-.8zM120.3 85.6h.8v.8h-.8zM117.9 86.7h.8v.8h-.8zM105.8 80.5h.8v.8h-.8zM118.3 75.3h.8v.8h-.8zM111.1 82.5h.8v.8h-.8zM109.7 82.4h.8v.8h-.8zM107.2 82.1h.8v.8h-.8zM113.2 76.1h.8v.8h-.8zM110.3 87.2h.8v.8h-.8zM113.1 87.4h.8v.8h-.8zM111.5 80.9h.8v.8h-.8zM112.0 81.2h.8v.8h-.8zM113.9 81.4h.8v.8h-.8zM112.9 79.6h.8v.8h-.8zM112.6 85.5h.8v.8h-.8zM112.6 89.0h.8v.8h-.8zM107.4 87.4h.8v.8h-.8zM115.3 83.9h.8v.8h-.8zM109.6 83.8h.8v.8h-.8zM112.4 79.6h.8v.8h-.8zM108.9 81.8h.8v.8h-.8zM109.0 86.0h.8v.8h-.8zM112.3 85.1h.8v.8h-.8zM114.2 88.3h.8v.8h-.8zM112.2 87.2h.8v.8h-.8zM113.2 88.2h.8v.8h-.8zM114.9 86.3h.8v.8h-.8zM118.2 86.0h.8v.8h-.8zM108.9 81.7h.8v.8h-.8zM109.2 83.8h.8v.8h-.8zM110.9 89.7h.8v.8h-.8zM109.8 102.5h.8v.8h-.8zM104.1 87.2h.8v.8h-.8zM109.2 79.5h.8v.8h-.8zM107.1 96.1h.8v.8h-.8zM105.7 95.7h.8v.8h-.8zM107.8 84.1h.8v.8h-.8zM105.7 96.5h.8v.8h-.8zM113.2 87.5h.8v.8h-.8zM106.8 94.4h.8v.8h-.8zM112.9 99.2h.8v.8h-.8zM113.6 98.2h.8v.8h-.8zM106.9 86.5h.8v.8h-.8zM110.9 93.2h.8v.8h-.8zM109.4 93.5h.8v.8h-.8zM105.7 99.7h.8v.8h-.8zM115.1 62.2h.8v.8h-.8zM113.3 57.6h.8v.8h-.8zM113.3 59.7h.8v.8h-.8zM121.0 51.4h.8v.8h-.8zM112.0 52.6h.8v.8h-.8zM115.6 56.3h.8v.8h-.8zM116.0 51.6h.8v.8h-.8zM113.3 61.9h.8v.8h-.8zM114.4 63.0h.8v.8h-.8zM117.1 67.3h.8v.8h-.8zM118.0 59.4h.8v.8h-.8zM110.4 53.3h.8v.8h-.8zM108.5 64.4h.8v.8h-.8zM128.1 48.3h.8v.8h-.8zM126.2 52.6h.8v.8h-.8zM125.8 41.4h.8v.8h-.8zM113.8 52.9h.8v.8h-.8zM124.7 48.7h.8v.8h-.8zM124.1 50.9h.8v.8h-.8zM115.8 50.1h.8v.8h-.8zM119.3 51.5h.8v.8h-.8zM114.5 52.4h.8v.8h-.8zM120.4 49.7h.8v.8h-.8zM117.0 50.0h.8v.8h-.8zM130.5 52.0h.8v.8h-.8zM112.4 52.3h.8v.8h-.8zM115.6 47.2h.8v.8h-.8zM116.1 53.2h.8v.8h-.8zM110.9 51.6h.8v.8h-.8zM117.7 47.6h.8v.8h-.8zM121.6 47.9h.8v.8h-.8zM115.2 48.1h.8v.8h-.8zM119.3 49.7h.8v.8h-.8zM119.1 165.1h.8v.8h-.8zM125.9 160.8h.8v.8h-.8zM125.1 161.6h.8v.8h-.8zM115.7 155.6h.8v.8h-.8zM116.5 158.5h.8v.8h-.8zM118.7 161.1h.8v.8h-.8zM119.0 160.0h.8v.8h-.8zM117.4 153.7h.8v.8h-.8zM127.3 157.4h.8v.8h-.8zM118.7 159.6h.8v.8h-.8zM123.0 157.8h.8v.8h-.8zM131.4 158.2h.8v.8h-.8zM123.6 164.7h.8v.8h-.8zM119.9 162.1h.8v.8h-.8zM125.4 155.6h.8v.8h-.8zM119.6 154.7h.8v.8h-.8zM120.8 158.7h.8v.8h-.8zM122.1 155.7h.8v.8h-.8zM125.9 161.4h.8v.8h-.8zM119.9 154.0h.8v.8h-.8zM125.1 159.1h.8v.8h-.8zM122.5 157.1h.8v.8h-.8zM124.7 156.1h.8v.8h-.8zM127.8 162.2h.8v.8h-.8zM122.1 161.3h.8v.8h-.8zM122.5 162.9h.8v.8h-.8zM116.7 169.9h.8v.8h-.8zM113.8 157.0h.8v.8h-.8zM126.2 158.5h.8v.8h-.8zM117.8 158.1h.8v.8h-.8zM122.7 156.1h.8v.8h-.8zM112.7 158.1h.8v.8h-.8zM122.1 161.2h.8v.8h-.8zM116.0 161.0h.8v.8h-.8zM110.8 163.8h.8v.8h-.8zM124.5 147.9h.8v.8h-.8zM125.6 154.5h.8v.8h-.8zM111.6 160.6h.8v.8h-.8zM116.0 166.2h.8v.8h-.8zM124.9 150.6h.8v.8h-.8zM121.6 155.1h.8v.8h-.8zM126.1 166.0h.8v.8h-.8zM121.2 161.5h.8v.8h-.8zM117.0 164.5h.8v.8h-.8zM118.7 160.4h.8v.8h-.8zM117.7 158.3h.8v.8h-.8zM125.5 154.9h.8v.8h-.8zM126.1 161.2h.8v.8h-.8zM119.1 161.8h.8v.8h-.8zM124.7 159.4h.8v.8h-.8zM131.5 157.3h.8v.8h-.8zM118.5 161.9h.8v.8h-.8zM116.3 163.1h.8v.8h-.8zM110.9 160.8h.8v.8h-.8zM125.1 158.9h.8v.8h-.8zM130.7 160.4h.8v.8h-.8zM121.1 154.9h.8v.8h-.8zM123.8 156.7h.8v.8h-.8zM122.7 159.8h.8v.8h-.8zM121.3 159.7h.8v.8h-.8zM119.9 163.0h.8v.8h-.8zM112.7 154.9h.8v.8h-.8zM121.0 158.1h.8v.8h-.8zM121.4 156.5h.8v.8h-.8zM115.6 155.3h.8v.8h-.8zM119.2 161.6h.8v.8h-.8zM117.5 158.7h.8v.8h-.8zM111.6 157.1h.8v.8h-.8zM119.5 163.3h.8v.8h-.8zM122.3 162.3h.8v.8h-.8zM126.5 157.7h.8v.8h-.8zM123.6 162.8h.8v.8h-.8zM123.8 166.7h.8v.8h-.8zM124.3 158.8h.8v.8h-.8zM130.4 162.3h.8v.8h-.8zM112.3 159.2h.8v.8h-.8zM123.6 161.7h.8v.8h-.8zM117.6 155.7h.8v.8h-.8zM119.1 163.0h.8v.8h-.8zM122.6 160.4h.8v.8h-.8zM116.4 157.7h.8v.8h-.8zM120.6 161.0h.8v.8h-.8zM112.6 158.5h.8v.8h-.8zM117.4 157.2h.8v.8h-.8zM115.0 159.9h.8v.8h-.8zM122.0 162.8h.8v.8h-.8zM113.2 158.9h.8v.8h-.8zM118.0 161.5h.8v.8h-.8zM123.5 161.4h.8v.8h-.8zM118.4 163.5h.8v.8h-.8zM117.7 157.6h.8v.8h-.8zM115.8 169.2h.8v.8h-.8zM113.7 171.1h.8v.8h-.8zM126.8 171.1h.8v.8h-.8zM115.7 174.2h.8v.8h-.8zM126.0 175.6h.8v.8h-.8zM113.2 179.7h.8v.8h-.8zM132.8 172.0h.8v.8h-.8zM122.8 176.8h.8v.8h-.8zM113.2 174.1h.8v.8h-.8zM123.2 169.9h.8v.8h-.8zM122.4 174.9h.8v.8h-.8zM108.2 172.8h.8v.8h-.8zM112.2 167.1h.8v.8h-.8zM111.1 174.8h.8v.8h-.8zM119.8 176.5h.8v.8h-.8zM121.0 165.0h.8v.8h-.8zM122.1 175.9h.8v.8h-.8zM123.5 177.8h.8v.8h-.8zM109.1 171.4h.8v.8h-.8zM108.4 172.0h.8v.8h-.8zM117.8 173.7h.8v.8h-.8zM123.7 167.3h.8v.8h-.8zM118.6 166.5h.8v.8h-.8zM117.6 177.1h.8v.8h-.8zM199.5 163.0h.8v.8h-.8zM191.9 161.4h.8v.8h-.8zM201.2 161.8h.8v.8h-.8zM202.7 160.0h.8v.8h-.8zM205.7 163.4h.8v.8h-.8zM199.4 155.1h.8v.8h-.8zM203.3 157.1h.8v.8h-.8zM205.9 160.0h.8v.8h-.8zM204.2 154.2h.8v.8h-.8zM199.8 156.2h.8v.8h-.8zM211.0 163.7h.8v.8h-.8zM201.6 157.0h.8v.8h-.8zM185.7 155.1h.8v.8h-.8zM203.6 155.7h.8v.8h-.8zM206.7 159.7h.8v.8h-.8zM199.6 158.2h.8v.8h-.8zM194.5 157.6h.8v.8h-.8zM208.7 157.5h.8v.8h-.8zM201.6 166.0h.8v.8h-.8zM199.7 157.0h.8v.8h-.8zM206.5 153.1h.8v.8h-.8zM210.0 161.0h.8v.8h-.8zM192.9 153.0h.8v.8h-.8zM195.3 161.4h.8v.8h-.8zM202.8 162.8h.8v.8h-.8zM200.1 152.5h.8v.8h-.8zM188.9 157.9h.8v.8h-.8zM202.1 159.7h.8v.8h-.8zM205.7 163.3h.8v.8h-.8zM201.8 162.5h.8v.8h-.8zM190.5 156.2h.8v.8h-.8zM204.7 156.7h.8v.8h-.8zM199.3 151.8h.8v.8h-.8zM193.3 163.1h.8v.8h-.8zM206.4 155.4h.8v.8h-.8zM189.3 150.0h.8v.8h-.8zM190.2 154.3h.8v.8h-.8zM212.5 160.4h.8v.8h-.8zM194.1 158.1h.8v.8h-.8zM198.4 163.6h.8v.8h-.8zM195.9 164.1h.8v.8h-.8zM208.7 158.4h.8v.8h-.8zM197.6 158.0h.8v.8h-.8zM201.0 155.6h.8v.8h-.8zM203.1 154.8h.8v.8h-.8zM198.3 159.3h.8v.8h-.8zM198.1 152.7h.8v.8h-.8zM208.3 161.6h.8v.8h-.8zM193.5 159.0h.8v.8h-.8zM210.5 164.1h.8v.8h-.8zM201.7 158.4h.8v.8h-.8zM213.7 160.9h.8v.8h-.8zM188.8 160.3h.8v.8h-.8zM192.1 160.2h.8v.8h-.8zM202.6 154.2h.8v.8h-.8zM207.1 155.8h.8v.8h-.8zM189.1 161.8h.8v.8h-.8zM202.2 157.3h.8v.8h-.8zM197.8 162.2h.8v.8h-.8zM203.5 159.0h.8v.8h-.8zM201.6 156.4h.8v.8h-.8zM208.7 152.7h.8v.8h-.8zM198.2 167.8h.8v.8h-.8zM202.7 158.2h.8v.8h-.8zM194.6 161.3h.8v.8h-.8zM205.4 161.3h.8v.8h-.8zM194.0 159.8h.8v.8h-.8zM197.6 155.5h.8v.8h-.8zM201.5 158.6h.8v.8h-.8zM189.5 165.0h.8v.8h-.8zM196.4 159.4h.8v.8h-.8zM202.4 156.9h.8v.8h-.8zM205.3 165.0h.8v.8h-.8zM196.6 161.4h.8v.8h-.8zM200.4 163.3h.8v.8h-.8zM205.8 162.2h.8v.8h-.8zM199.6 160.7h.8v.8h-.8zM195.3 180.3h.8v.8h-.8zM207.8 176.8h.8v.8h-.8zM190.8 170.3h.8v.8h-.8zM195.3 173.7h.8v.8h-.8zM199.3 167.8h.8v.8h-.8zM205.7 173.1h.8v.8h-.8zM191.1 175.8h.8v.8h-.8zM204.8 168.3h.8v.8h-.8zM195.5 170.5h.8v.8h-.8zM205.6 167.6h.8v.8h-.8zM195.1 172.5h.8v.8h-.8zM200.3 173.6h.8v.8h-.8zM197.5 164.4h.8v.8h-.8zM204.1 178.7h.8v.8h-.8zM191.1 173.8h.8v.8h-.8zM204.6 175.3h.8v.8h-.8zM197.1 171.4h.8v.8h-.8zM205.9 169.8h.8v.8h-.8zM194.9 169.1h.8v.8h-.8zM199.7 174.6h.8v.8h-.8zM211.9 172.7h.8v.8h-.8zM193.4 172.5h.8v.8h-.8zM206.1 172.2h.8v.8h-.8zM195.5 171.4h.8v.8h-.8zM195.5 172.9h.8v.8h-.8zM209.4 173.3h.8v.8h-.8zM194.8 163.2h.8v.8h-.8zM188.7 181.1h.8v.8h-.8zM191.5 190.8h.8v.8h-.8zM196.3 203.6h.8v.8h-.8zM206.2 189.6h.8v.8h-.8zM186.1 180.4h.8v.8h-.8zM186.3 195.3h.8v.8h-.8zM197.1 179.3h.8v.8h-.8zM191.2 189.1h.8v.8h-.8zM190.1 181.8h.8v.8h-.8zM188.7 188.5h.8v.8h-.8zM188.2 192.9h.8v.8h-.8zM183.3 194.3h.8v.8h-.8zM194.6 199.9h.8v.8h-.8zM191.3 192.9h.8v.8h-.8zM190.5 195.7h.8v.8h-.8zM202.6 188.8h.8v.8h-.8zM184.8 203.9h.8v.8h-.8zM195.1 191.9h.8v.8h-.8zM187.8 190.5h.8v.8h-.8z"/>
<path fill="rgb(128,128,128)" d="M129.5 55.8h.8v.8h-.8zM120.5 66.1h.8v.8h-.8zM117.8 59.0h.8v.8h-.8zM126.7 64.6h.8v.8h-.8zM124.3 54.9h.8v.8h-.8zM118.8 66.9h.8v.8h-.8zM116.4 57.5h.8v.8h-.8zM119.7 63.3h.8v.8h-.8zM115.5 64.7h.8v.8h-.8zM113.5 64.8h.8v.8h-.8zM112.5 66.1h.8v.8h-.8zM120.8 58.9h.8v.8h-.8zM116.5 68.9h.8v.8h-.8zM124.6 60.5h.8v.8h-.8zM123.4 61.0h.8v.8h-.8zM122.9 67.3h.8v.8h-.8zM121.3 61.3h.8v.8h-.8zM124.1 70.9h.8v.8h-.8zM114.6 60.3h.8v.8h-.8zM118.3 67.3h.8v.8h-.8zM114.5 60.2h.8v.8h-.8zM115.7 59.8h.8v.8h-.8zM114.2 63.1h.8v.8h-.8zM113.7 61.7h.8v.8h-.8zM127.7 58.4h.8v.8h-.8zM109.1 71.9h.8v.8h-.8zM117.7 64.3h.8v.8h-.8zM124.7 68.2h.8v.8h-.8zM114.6 64.0h.8v.8h-.8zM117.1 59.1h.8v.8h-.8zM122.7 54.6h.8v.8h-.8zM121.4 62.5h.8v.8h-.8zM117.7 52.3h.8v.8h-.8zM114.4 55.2h.8v.8h-.8zM120.5 56.4h.8v.8h-.8zM122.9 50.8h.8v.8h-.8zM116.2 66.2h.8v.8h-.8zM125.7 50.0h.8v.8h-.8zM119.2 60.5h.8v.8h-.8zM116.6 57.2h.8v.8h-.8zM109.0 59.8h.8v.8h-.8zM124.3 56.4h.8v.8h-.8zM112.3 72.2h.8v.8h-.8zM120.8 66.9h.8v.8h-.8zM122.1 66.5h.8v.8h-.8zM119.5 53.9h.8v.8h-.8zM130.7 65.9h.8v.8h-.8zM121.5 55.5h.8v.8h-.8zM109.9 62.5h.8v.8h-.8zM127.1 66.8h.8v.8h-.8zM114.7 50.2h.8v.8h-.8zM120.1 57.4h.8v.8h-.8zM124.7 62.8h.8v.8h-.8zM118.3 64.8h.8v.8h-.8zM123.1 55.7h.8v.8h-.8zM120.0 60.6h.8v.8h-.8zM116.3 53.3h.8v.8h-.8zM123.4 68.1h.8v.8h-.8zM118.8 61.5h.8v.8h-.8zM111.7 56.9h.8v.8h-.8zM111.4 67.0h.8v.8h-.8zM122.3 58.1h.8v.8h-.8zM124.9 58.8h.8v.8h-.8zM111.3 63.9h.8v.8h-.8zM117.1 54.2h.8v.8h-.8zM116.6 64.6h.8v.8h-.8zM115.8 59.5h.8v.8h-.8zM120.7 54.6h.8v.8h-.8zM118.7 65.7h.8v.8h-.8zM122.6 62.8h.8v.8h-.8zM121.9 60.9h.8v.8h-.8zM121.1 49.4h.8v.8h-.8zM126.6 63.7h.8v.8h-.8zM127.0 66.1h.8v.8h-.8zM125.2 58.4h.8v.8h-.8zM120.3 58.5h.8v.8h-.8zM114.5 60.7h.8v.8h-.8zM116.0 60.7h.8v.8h-.8zM128.0 56.0h.8v.8h-.8zM125.3 59.3h.8v.8h-.8zM125.7 60.5h.8v.8h-.8zM123.4 57.3h.8v.8h-.8zM120.9 68.6h.8v.8h-.8zM116.5 55.8h.8v.8h-.8zM109.7 64.5h.8v.8h-.8zM117.9 65.9h.8v.8h-.8zM127.5 55.5h.8v.8h-.8zM112.1 57.8h.8v.8h-.8zM122.1 54.9h.8v.8h-.8zM121.9 65.6h.8v.8h-.8zM117.4 60.6h.8v.8h-.8zM117.6 61.2h.8v.8h-.8zM122.8 56.9h.8v.8h-.8zM122.1 60.6h.8v.8h-.8zM122.5 74.5h.8v.8h-.8zM126.9 61.6h.8v.8h-.8zM128.7 57.1h.8v.8h-.8zM118.8 52.9h.8v.8h-.8zM125.0 60.6h.8v.8h-.8zM117.3 59.1h.8v.8h-.8zM115.2 55.8h.8v.8h-.8zM126.3 58.0h.8v.8h-.8zM120.4 54.2h.8v.8h-.8zM114.9 57.2h.8v.8h-.8zM122.7 58.2h.8v.8h-.8zM111.4 63.6h.8v.8h-.8zM115.7 68.3h.8v.8h-.8zM117.9 59.3h.8v.8h-.8zM130.7 61.3h.8v.8h-.8zM119.5 73.8h.8v.8h-.8zM120.0 71.4h.8v.8h-.8zM109.6 71.2h.8v.8h-.8zM120.5 77.4h.8v.8h-.8zM114.2 75.6h.8v.8h-.8zM117.8 71.2h.8v.8h-.8zM120.1 72.4h.8v.8h-.8zM114.6 76.9h.8v.8h-.8zM111.5 73.7h.8v.8h-.8zM115.8 68.1h.8v.8h-.8zM114.4 74.6h.8v.8h-.8zM120.2 73.0h.8v.8h-.8zM122.1 65.6h.8v.8h-.8zM122.5 70.7h.8v.8h-.8zM117.6 71.8h.8v.8h-.8zM119.5 73.6h.8v.8h-.8zM112.5 74.1h.8v.8h-.8zM121.7 71.3h.8v.8h-.8zM109.0 76.0h.8v.8h-.8zM112.6 78.7h.8v.8h-.8zM118.6 74.6h.8v.8h-.8zM113.0 82.3h.8v.8h-.8zM118.7 81.6h.8v.8h-.8zM116.7 63.8h.8v.8h-.8zM111.4 74.6h.8v.8h-.8zM111.1 74.4h.8v.8h-.8zM114.1 78.4h.8v.8h-.8zM111.5 68.6h.8v.8h-.8zM114.4 72.3h.8v.8h-.8zM117.8 82.7h.8v.8h-.8zM121.6 71.0h.8v.8h-.8zM108.0 70.2h.8v.8h-.8zM114.9 75.4h.8v.8h-.8zM106.6 75.3h.8v.8h-.8zM126.9 71.2h.8v.8h-.8zM123.3 84.5h.8v.8h-.8zM109.8 73.6h.8v.8h-.8zM119.1 78.8h.8v.8h-.8zM125.2 84.0h.8v.8h-.8zM120.0 70.4h.8v.8h-.8zM119.0 78.2h.8v.8h-.8zM122.3 75.6h.8v.8h-.8zM119.3 69.8h.8v.8h-.8zM107.8 74.8h.8v.8h-.8zM116.4 71.4h.8v.8h-.8zM114.0 66.9h.8v.8h-.8zM114.7 70.3h.8v.8h-.8zM116.5 78.8h.8v.8h-.8zM121.7 80.1h.8v.8h-.8zM111.2 71.6h.8v.8h-.8zM118.3 74.1h.8v.8h-.8zM105.2 68.5h.8v.8h-.8zM109.2 71.6h.8v.8h-.8zM118.1 70.9h.8v.8h-.8zM114.4 73.1h.8v.8h-.8zM115.4 76.1h.8v.8h-.8zM112.1 66.9h.8v.8h-.8zM127.3 72.6h.8v.8h-.8zM111.1 74.4h.8v.8h-.8zM119.6 73.8h.8v.8h-.8zM123.7 69.8h.8v.8h-.8zM111.7 74.8h.8v.8h-.8zM114.3 71.6h.8v.8h-.8zM111.7 69.7h.8v.8h-.8zM116.9 72.4h.8v.8h-.8zM112.2 80.1h.8v.8h-.8zM132.1 82.6h.8v.8h-.8zM122.8 73.9h.8v.8h-.8zM108.3 74.3h.8v.8h-.8zM113.8 66.1h.8v.8h-.8zM118.1 80.6h.8v.8h-.8zM117.9 66.8h.8v.8h-.8zM111.0 72.7h.8v.8h-.8zM117.5 73.3h.8v.8h-.8zM123.3 71.5h.8v.8h-.8zM113.2 80.5h.8v.8h-.8zM117.1 77.9h.8v.8h-.8zM118.4 80.1h.8v.8h-.8zM111.6 65.1h.8v.8h-.8zM112.3 78.5h.8v.8h-.8zM114.7 74.0h.8v.8h-.8zM117.7 82.1h.8v.8h-.8zM108.6 85.2h.8v.8h-.8zM108.7 86.4h.8v.8h-.8zM109.3 83.4h.8v.8h-.8zM107.5 87.6h.8v.8h-.8zM116.4 75.9h.8v.8h-.8zM108.3 88.8h.8v.8h-.8zM110.3 88.1h.8v.8h-.8zM110.0 86.4h.8v.8h-.8zM119.9 88.9h.8v.8h-.8zM108.0 83.4h.8v.8h-.8zM110.1 89.5h.8v.8h-.8zM106.1 84.0h.8v.8h-.8zM116.7 88.1h.8v.8h-.8zM113.9 75.7h.8v.8h-.8zM117.6 76.6h.8v.8h-.8zM111.5 74.6h.8v.8h-.8zM118.1 84.0h.8v.8h-.8zM111.0 85.0h.8v.8h-.8zM112.1 80.3h.8v.8h-.8zM112.0 87.9h.8v.8h-.8zM116.6 84.5h.8v.8h-.8zM112.1 89.4h.8v.8h-.8zM117.6 81.6h.8v.8h-.8zM111.6 79.4h.8v.8h-.8zM114.3 80.2h.8v.8h-.8zM118.8 82.6h.8v.8h-.8zM103.2 78.8h.8v.8h-.8zM115.9 82.0h.8v.8h-.8zM105.0 85.1h.8v.8h-.8zM108.4 91.2h.8v.8h-.8zM117.3 84.1h.8v.8h-.8zM116.6 86.8h.8v.8h-.8zM107.7 82.0h.8v.8h-.8zM117.2 81.9h.8v.8h-.8zM116.0 87.2h.8v.8h-.8zM117.3 84.6h.8v.8h-.8zM111.7 78.7h.8v.8h-.8zM109.6 82.3h.8v.8h-.8zM111.2 83.0h.8v.8h-.8zM103.8 82.9h.8v.8h-.8zM111.0 99.7h.8v.8h-.8zM111.5 93.1h.8v.8h-.8zM98.1 90.9h.8v.8h-.8zM108.4 85.8h.8v.8h-.8zM98.5 97.6h.8v.8h-.8zM107.9 84.7h.8v.8h-.8zM106.7 88.3h.8v.8h-.8zM118.3 84.2h.8v.8h-.8zM114.8 89.4h.8v.8h-.8zM108.3 89.3h.8v.8h-.8zM118.3 90.3h.8v.8h-.8zM116.1 86.2h.8v.8h-.8zM111.5 88.8h.8v.8h-.8zM110.9 89.5h.8v.8h-.8zM110.2 92.1h.8v.8h-.8zM111.2 86.8h.8v.8h-.8zM99.6 86.6h.8v.8h-.8zM111.7 96.2h.8v.8h-.8zM108.8 89.8h.8v.8h-.8zM111.9 93.5h.8v.8h-.8zM108.5 94.1h.8v.8h-.8zM107.2 86.9h.8v.8h-.8zM119.2 90.1h.8v.8h-.8zM102.1 84.6h.8v.8h-.8zM107.6 86.7h.8v.8h-.8zM109.6 87.7h.8v.8h-.8zM113.5 96.0h.8v.8h-.8zM103.1 90.4h.8v.8h-.8zM103.9 96.3h.8v.8h-.8zM114.8 99.1h.8v.8h-.8zM111.5 98.4h.8v.8h-.8zM111.6 95.5h.8v.8h-.8zM117.2 70.2h.8v.8h-.8zM123.5 83.8h.8v.8h-.8zM125.0 75.4h.8v.8h-.8zM121.2 61.7h.8v.8h-.8zM111.8 73.1h.8v.8h-.8zM123.1 76.0h.8v.8h-.8zM107.4 61.1h.8v.8h-.8zM119.7 90.2h.8v.8h-.8zM117.7 80.3h.8v.8h-.8zM113.3 80.8h.8v.8h-.8zM114.3 69.2h.8v.8h-.8zM125.1 94.7h.8v.8h-.8zM116.5 76.9h.8v.8h-.8zM128.4 54.2h.8v.8h-.8zM115.7 71.9h.8v.8h-.8zM119.0 55.9h.8v.8h-.8zM117.1 76.8h.8v.8h-.8zM118.3 76.4h.8v.8h-.8zM118.4 73.4h.8v.8h-.8zM124.3 63.5h.8v.8h-.8zM107.3 71.7h.8v.8h-.8zM125.9 54.2h.8v.8h-.8zM118.0 45.3h.8v.8h-.8zM119.7 46.1h.8v.8h-.8zM113.4 49.7h.8v.8h-.8zM119.0 51.0h.8v.8h-.8zM119.7 53.5h.8v.8h-.8zM116.0 46.7h.8v.8h-.8zM104.8 48.9h.8v.8h-.8zM128.3 54.8h.8v.8h-.8zM114.6 46.8h.8v.8h-.8zM129.1 55.4h.8v.8h-.8zM119.8 49.3h.8v.8h-.8zM118.1 52.4h.8v.8h-.8zM116.3 44.6h.8v.8h-.8zM121.2 46.1h.8v.8h-.8zM119.4 52.5h.8v.8h-.8zM119.9 45.0h.8v.8h-.8zM114.6 43.1h.8v.8h-.8zM121.6 45.2h.8v.8h-.8zM126.8 42.9h.8v.8h-.8zM118.2 60.4h.8v.8h-.8zM110.9 51.0h.8v.8h-.8zM120.6 48.8h.8v.8h-.8zM124.3 50.1h.8v.8h-.8zM119.7 46.5h.8v.8h-.8zM116.5 48.5h.8v.8h-.8zM120.8 159.0h.8v.8h-.8zM125.0 156.7h.8v.8h-.8zM120.8 158.3h.8v.8h-.8zM118.8 160.6h.8v.8h-.8zM120.6 157.6h.8v.8h-.8zM118.1 161.1h.8v.8h-.8zM122.4 157.4h.8v.8h-.8zM128.6 163.0h.8v.8h-.8zM121.4 159.1h.8v.8h-.8zM122.8 168.7h.8v.8h-.8zM134.2 161.9h.8v.8h-.8zM127.6 156.0h.8v.8h-.8zM120.3 155.6h.8v.8h-.8zM123.0 161.8h.8v.8h-.8zM117.4 168.6h.8v.8h-.8zM120.9 163.4h.8v.8h-.8zM113.8 167.9h.8v.8h-.8zM121.1 159.6h.8v.8h-.8zM119.0 164.5h.8v.8h-.8zM124.2 164.0h.8v.8h-.8zM119.7 160.3h.8v.8h-.8zM121.8 159.5h.8v.8h-.8zM124.1 153.4h.8v.8h-.8zM122.3 160.7h.8v.8h-.8zM120.5 163.7h.8v.8h-.8zM131.7 150.2h.8v.8h-.8zM118.7 157.0h.8v.8h-.8zM119.6 158.7h.8v.8h-.8zM123.1 161.6h.8v.8h-.8zM108.9 162.6h.8v.8h-.8zM122.8 159.2h.8v.8h-.8zM122.0 159.1h.8v.8h-.8zM116.2 155.4h.8v.8h-.8zM128.0 160.6h.8v.8h-.8zM122.6 157.5h.8v.8h-.8zM114.2 162.5h.8v.8h-.8zM116.6 155.3h.8v.8h-.8zM118.9 158.3h.8v.8h-.8zM118.2 160.7h.8v.8h-.8zM121.9 163.8h.8v.8h-.8zM129.6 160.9h.8v.8h-.8zM114.2 159.4h.8v.8h-.8zM118.6 157.1h.8v.8h-.8zM119.2 156.6h.8v.8h-.8zM127.0 157.7h.8v.8h-.8zM124.7 155.6h.8v.8h-.8zM114.0 155.1h.8v.8h-.8zM123.5 167.7h.8v.8h-.8zM129.7 162.9h.8v.8h-.8zM112.8 159.2h.8v.8h-.8zM122.2 158.0h.8v.8h-.8zM118.3 158.7h.8v.8h-.8zM118.6 155.2h.8v.8h-.8zM121.9 160.5h.8v.8h-.8zM122.5 153.1h.8v.8h-.8zM114.5 165.3h.8v.8h-.8zM125.6 162.0h.8v.8h-.8zM121.0 156.7h.8v.8h-.8zM110.5 162.7h.8v.8h-.8zM109.7 161.4h.8v.8h-.8zM124.0 154.5h.8v.8h-.8zM120.7 153.6h.8v.8h-.8zM118.4 154.6h.8v.8h-.8zM124.5 159.8h.8v.8h-.8zM125.6 158.4h.8v.8h-.8zM120.8 162.1h.8v.8h-.8zM128.2 164.8h.8v.8h-.8zM118.6 160.7h.8v.8h-.8zM119.3 164.7h.8v.8h-.8zM106.7 160.0h.8v.8h-.8zM130.2 159.0h.8v.8h-.8zM115.5 163.8h.8v.8h-.8zM111.2 154.4h.8v.8h-.8zM125.0 164.7h.8v.8h-.8zM119.5 162.1h.8v.8h-.8zM123.8 156.5h.8v.8h-.8zM131.6 160.8h.8v.8h-.8zM110.5 164.1h.8v.8h-.8zM117.7 162.5h.8v.8h-.8zM104.1 158.8h.8v.8h-.8zM120.3 158.3h.8v.8h-.8zM120.7 157.6h.8v.8h-.8zM118.4 158.6h.8v.8h-.8zM114.6 158.0h.8v.8h-.8zM129.6 161.0h.8v.8h-.8zM120.6 162.0h.8v.8h-.8zM126.0 170.3h.8v.8h-.8zM108.6 161.2h.8v.8h-.8zM124.3 160.4h.8v.8h-.8zM121.4 160.2h.8v.8h-.8zM118.8 158.8h.8v.8h-.8zM125.4 161.7h.8v.8h-.8zM116.5 157.2h.8v.8h-.8zM122.6 158.8h.8v.8h-.8zM104.3 155.2h.8v.8h-.8zM118.9 156.0h.8v.8h-.8zM118.1 157.7h.8v.8h-.8zM125.1 152.9h.8v.8h-.8zM110.8 159.7h.8v.8h-.8zM125.9 161.4h.8v.8h-.8zM122.5 156.1h.8v.8h-.8zM112.9 153.4h.8v.8h-.8zM123.0 170.2h.8v.8h-.8zM129.4 171.3h.8v.8h-.8zM110.5 167.6h.8v.8h-.8zM119.0 181.3h.8v.8h-.8zM117.4 165.3h.8v.8h-.8zM122.0 177.3h.8v.8h-.8zM127.5 177.4h.8v.8h-.8zM115.4 176.6h.8v.8h-.8zM109.0 173.5h.8v.8h-.8zM122.0 179.5h.8v.8h-.8zM108.3 170.5h.8v.8h-.8zM122.5 167.8h.8v.8h-.8zM117.9 170.4h.8v.8h-.8zM122.1 168.0h.8v.8h-.8zM115.8 171.0h.8v.8h-.8zM128.9 172.0h.8v.8h-.8zM109.9 177.8h.8v.8h-.8zM117.6 166.0h.8v.8h-.8zM121.0 175.4h.8v.8h-.8zM116.6 172.3h.8v.8h-.8zM126.6 175.9h.8v.8h-.8zM112.3 176.7h.8v.8h-.8zM109.5 171.5h.8v.8h-.8zM127.2 172.3h.8v.8h-.8zM116.9 171.4h.8v.8h-.8zM117.3 177.2h.8v.8h-.8zM115.5 172.4h.8v.8h-.8zM120.7 171.0h.8v.8h-.8zM117.9 167.6h.8v.8h-.8zM116.3 175.3h.8v.8h-.8zM128.4 171.7h.8v.8h-.8zM104.4 176.4h.8v.8h-.8zM118.8 173.8h.8v.8h-.8zM115.3 175.6h.8v.8h-.8zM127.8 168.9h.8v.8h-.8zM126.3 171.1h.8v.8h-.8zM121.9 170.7h.8v.8h-.8zM113.0 175.2h.8v.8h-.8zM127.3 173.6h.8v.8h-.8zM114.5 174.3h.8v.8h-.8zM128.1 172.1h.8v.8h-.8zM130.0 177.1h.8v.8h-.8zM117.9 169.2h.8v.8h-.8zM106.6 165.7h.8v.8h-.8zM119.3 175.5h.8v.8h-.8zM123.2 172.7h.8v.8h-.8zM116.2 177.3h.8v.8h-.8zM126.9 172.5h.8v.8h-.8zM113.3 172.1h.8v.8h-.8zM130.4 163.0h.8v.8h-.8zM113.5 176.8h.8v.8h-.8zM115.1 171.1h.8v.8h-.8zM132.2 166.8h.8v.8h-.8zM124.1 176.5h.8v.8h-.8zM117.5 188.5h.8v.8h-.8zM119.5 182.0h.8v.8h-.8zM105.4 187.8h.8v.8h-.8zM107.7 193.4h.8v.8h-.8zM118.7 186.7h.8v.8h-.8zM117.9 191.2h.8v.8h-.8zM108.0 191.3h.8v.8h-.8zM113.3 185.2h.8v.8h-.8zM108.4 197.5h.8v.8h-.8zM110.6 191.3h.8v.8h-.8zM112.0 197.8h.8v.8h-.8zM115.4 193.0h.8v.8h-.8zM112.4 193.2h.8v.8h-.8zM112.6 183.1h.8v.8h-.8zM115.5 169.8h.8v.8h-.8zM102.5 178.1h.8v.8h-.8zM116.2 203.6h.8v.8h-.8zM101.3 188.0h.8v.8h-.8zM105.9 185.3h.8v.8h-.8zM107.1 195.1h.8v.8h-.8zM105.6 181.9h.8v.8h-.8zM109.7 190.3h.8v.8h-.8zM112.7 183.2h.8v.8h-.8zM111.1 194.1h.8v.8h-.8zM108.5 197.4h.8v.8h-.8zM108.9 185.6h.8v.8h-.8zM112.4 185.0h.8v.8h-.8zM111.0 183.8h.8v.8h-.8zM120.1 184.5h.8v.8h-.8zM110.6 192.6h.8v.8h-.8zM114.7 188.2h.8v.8h-.8zM102.3 199.9h.8v.8h-.8zM119.4 186.2h.8v.8h-.8zM199.7 158.3h.8v.8h-.8zM197.7 155.4h.8v.8h-.8zM206.5 156.4h.8v.8h-.8zM199.9 159.4h.8v.8h-.8zM202.2 159.6h.8v.8h-.8zM207.8 154.0h.8v.8h-.8zM204.0 156.6h.8v.8h-.8zM199.0 157.2h.8v.8h-.8zM204.3 162.7h.8v.8h-.8zM214.2 158.3h.8v.8h-.8zM200.3 155.0h.8v.8h-.8zM200.8 152.1h.8v.8h-.8zM193.3 157.6h.8v.8h-.8zM202.3 157.7h.8v.8h-.8zM196.5 158.9h.8v.8h-.8zM190.5 157.0h.8v.8h-.8zM202.6 160.2h.8v.8h-.8zM196.0 155.8h.8v.8h-.8zM194.4 154.8h.8v.8h-.8zM188.3 162.8h.8v.8h-.8zM192.1 160.9h.8v.8h-.8zM202.7 159.7h.8v.8h-.8zM195.1 158.4h.8v.8h-.8zM195.0 163.6h.8v.8h-.8zM206.9 156.6h.8v.8h-.8zM198.7 161.0h.8v.8h-.8zM205.1 166.2h.8v.8h-.8zM210.1 155.0h.8v.8h-.8zM210.6 158.0h.8v.8h-.8zM208.0 162.5h.8v.8h-.8zM201.9 160.7h.8v.8h-.8zM201.2 157.7h.8v.8h-.8zM205.4 157.7h.8v.8h-.8zM201.0 156.5h.8v.8h-.8zM192.4 160.5h.8v.8h-.8zM195.3 157.9h.8v.8h-.8zM188.8 163.8h.8v.8h-.8zM194.0 157.6h.8v.8h-.8zM201.1 156.5h.8v.8h-.8zM206.1 156.6h.8v.8h-.8zM197.0 154.6h.8v.8h-.8zM214.9 158.0h.8v.8h-.8zM191.0 154.9h.8v.8h-.8zM207.1 163.1h.8v.8h-.8zM213.3 154.2h.8v.8h-.8zM201.2 159.5h.8v.8h-.8zM209.7 162.8h.8v.8h-.8zM203.8 160.0h.8v.8h-.8zM210.6 162.2h.8v.8h-.8zM211.2 156.2h.8v.8h-.8zM200.1 165.6h.8v.8h-.8zM202.1 160.5h.8v.8h-.8zM199.7 158.1h.8v.8h-.8zM208.8 155.7h.8v.8h-.8zM202.7 161.2h.8v.8h-.8zM204.3 159.1h.8v.8h-.8zM198.5 161.5h.8v.8h-.8zM202.1 162.7h.8v.8h-.8zM195.7 159.3h.8v.8h-.8zM200.1 151.2h.8v.8h-.8zM208.1 157.4h.8v.8h-.8zM201.7 157.4h.8v.8h-.8zM206.5 157.7h.8v.8h-.8zM195.7 163.0h.8v.8h-.8zM204.0 161.1h.8v.8h-.8zM207.0 158.9h.8v.8h-.8zM199.5 165.9h.8v.8h-.8zM209.0 159.1h.8v.8h-.8zM203.3 162.2h.8v.8h-.8zM192.2 161.2h.8v.8h-.8zM186.1 164.2h.8v.8h-.8zM195.7 157.5h.8v.8h-.8zM197.9 156.9h.8v.8h-.8zM200.5 162.0h.8v.8h-.8zM208.8 162.7h.8v.8h-.8zM191.5 157.7h.8v.8h-.8zM196.7 165.9h.8v.8h-.8zM191.5 168.5h.8v.8h-.8zM199.7 167.0h.8v.8h-.8zM198.7 172.7h.8v.8h-.8zM192.8 176.2h.8v.8h-.8zM213.6 173.5h.8v.8h-.8zM205.9 176.5h.8v.8h-.8zM200.1 174.9h.8v.8h-.8zM198.9 170.5h.8v.8h-.8zM194.9 168.7h.8v.8h-.8zM194.6 172.1h.8v.8h-.8zM191.3 165.5h.8v.8h-.8zM198.8 167.3h.8v.8h-.8zM204.5 171.8h.8v.8h-.8zM202.0 167.4h.8v.8h-.8zM195.9 177.9h.8v.8h-.8zM199.5 174.3h.8v.8h-.8zM201.1 178.3h.8v.8h-.8zM198.8 171.3h.8v.8h-.8zM203.2 164.9h.8v.8h-.8zM209.1 172.6h.8v.8h-.8zM192.1 166.2h.8v.8h-.8zM208.2 171.9h.8v.8h-.8zM196.4 166.1h.8v.8h-.8zM195.1 177.0h.8v.8h-.8zM199.3 173.3h.8v.8h-.8zM196.7 166.8h.8v.8h-.8zM181.7 170.1h.8v.8h-.8zM194.5 170.4h.8v.8h-.8zM212.6 179.0h.8v.8h-.8zM199.9 176.0h.8v.8h-.8zM196.9 168.3h.8v.8h-.8zM204.6 171.3h.8v.8h-.8zM200.7 172.8h.8v.8h-.8zM191.3 166.9h.8v.8h-.8zM204.3 171.7h.8v.8h-.8zM197.6 172.5h.8v.8h-.8zM200.6 172.1h.8v.8h-.8zM203.8 170.5h.8v.8h-.8zM199.6 175.3h.8v.8h-.8zM202.0 174.4h.8v.8h-.8zM201.4 172.6h.8v.8h-.8zM203.4 176.0h.8v.8h-.8zM195.9 167.3h.8v.8h-.8zM189.9 176.2h.8v.8h-.8zM200.2 172.8h.8v.8h-.8zM207.0 168.5h.8v.8h-.8zM192.2 174.6h.8v.8h-.8zM192.5 171.9h.8v.8h-.8zM202.7 176.1h.8v.8h-.8zM196.6 199.8h.8v.8h-.8zM202.9 191.7h.8v.8h-.8zM202.2 184.9h.8v.8h-.8zM190.5 193.1h.8v.8h-.8zM194.5 184.8h.8v.8h-.8zM191.0 201.7h.8v.8h-.8zM195.9 186.9h.8v.8h-.8zM194.7 186.2h.8v.8h-.8zM185.4 193.4h.8v.8h-.8zM190.6 195.5h.8v.8h-.8zM196.4 188.9h.8v.8h-.8zM195.0 198.4h.8v.8h-.8zM193.5 193.0h.8v.8h-.8zM189.2 195.8h.8v.8h-.8zM202.0 182.4h.8v.8h-.8zM198.1 184.6h.8v.8h-.8zM196.8 180.1h.8v.8h-.8zM201.4 187.0h.8v.8h-.8zM189.3 193.9h.8v.8h-.8zM202.3 189.1h.8v.8h-.8zM184.3 182.2h.8v.8h-.8zM182.9 193.6h.8v.8h-.8zM199.0 181.9h.8v.8h-.8zM191.8 186.9h.8v.8h-.8zM192.2 193.2h.8v.8h-.8zM197.2 183.7h.8v.8h-.8zM195.4 187.4h.8v.8h-.8zM190.3 180.3h.8v.8h-.8zM188.6 190.2h.8v.8h-.8zM189.1 186.7h.8v.8h-.8zM201.2 191.4h.8v.8h-.8zM198.7 188.8h.8v.8h-.8zM190.2 190.1h.8v.8h-.8zM189.9 200.7h.8v.8h-.8zM192.7 184.7h.8v.8h-.8zM184.6 182.6h.8v.8h-.8zM187.5 186.8h.8v.8h-.8zM197.4 191.9h.8v.8h-.8zM195.3 184.4h.8v.8h-.8zM197.3 179.3h.8v.8h-.8zM185.3 172.0h.8v.8h-.8zM197.0 195.6h.8v.8h-.8zM194.1 183.3h.8v.8h-.8zM190.2 190.3h.8v.8h-.8zM201.6 193.7h.8v.8h-.8zM192.9 190.0h.8v.8h-.8zM208.9 200.4h.8v.8h-.8zM193.9 177.7h.8v.8h-.8zM198.9 197.5h.8v.8h-.8zM195.4 183.3h.8v.8h-.8zM196.2 177.7h.8v.8h-.8zM196.5 186.2h.8v.8h-.8zM180.5 187.9h.8v.8h-.8zM194.4 175.4h.8v.8h-.8zM187.8 184.7h.8v.8h-.8z"/>
<path fill="rgb(144,144,144)" d="M113.5 63.7h.8v.8h-.8zM120.3 58.4h.8v.8h-.8zM114.2 56.0h.8v.8h-.8zM119.9 59.0h.8v.8h-.8zM119.6 68.4h.8v.8h-.8zM119.9 63.1h.8v.8h-.8zM120.4 67.4h.8v.8h-.8zM121.4 56.6h.8v.8h-.8zM118.5 51.5h.8v.8h-.8zM121.0 61.8h.8v.8h-.8zM119.1 65.5h.8v.8h-.8zM116.2 54.6h.8v.8h-.8zM114.9 55.3h.8v.8h-.8zM127.5 68.9h.8v.8h-.8zM109.2 62.7h.8v.8h-.8zM114.2 56.5h.8v.8h-.8zM118.6 61.0h.8v.8h-.8zM123.8 64.7h.8v.8h-.8zM118.9 65.1h.8v.8h-.8zM124.2 64.3h.8v.8h-.8zM121.9 64.4h.8v.8h-.8zM118.2 56.6h.8v.8h-.8zM119.4 61.4h.8v.8h-.8zM120.8 52.5h.8v.8h-.8zM121.2 57.4h.8v.8h-.8zM110.0 59.5h.8v.8h-.8zM117.9 62.1h.8v.8h-.8zM115.4 56.7h.8v.8h-.8zM117.9 55.4h.8v.8h-.8zM113.7 56.4h.8v.8h-.8zM122.3 69.4h.8v.8h-.8zM112.1 62.7h.8v.8h-.8zM127.8 65.4h.8v.8h-.8zM114.1 66.7h.8v.8h-.8zM117.8 62.0h.8v.8h-.8zM117.5 59.0h.8v.8h-.8zM119.6 71.3h.8v.8h-.8zM115.5 59.9h.8v.8h-.8zM124.8 60.7h.8v.8h-.8zM114.2 55.7h.8v.8h-.8zM111.0 65.2h.8v.8h-.8zM126.4 58.7h.8v.8h-.8zM124.7 61.5h.8v.8h-.8zM115.4 53.9h.8v.8h-.8zM120.1 58.9h.8v.8h-.8zM129.2 63.8h.8v.8h-.8zM130.5 56.0h.8v.8h-.8zM111.7 57.0h.8v.8h-.8zM118.0 58.6h.8v.8h-.8zM116.8 61.7h.8v.8h-.8zM118.8 67.2h.8v.8h-.8zM118.4 54.4h.8v.8h-.8zM117.5 64.2h.8v.8h-.8zM119.0 55.9h.8v.8h-.8zM131.3 69.6h.8v.8h-.8zM114.3 60.2h.8v.8h-.8zM114.7 57.6h.8v.8h-.8zM124.2 65.0h.8v.8h-.8zM113.9 57.1h.8v.8h-.8zM120.1 63.0h.8v.8h-.8zM109.6 65.7h.8v.8h-.8zM118.3 55.7h.8v.8h-.8zM116.3 66.1h.8v.8h-.8zM122.2 59.5h.8v.8h-.8zM123.5 54.0h.8v.8h-.8zM118.1 55.1h.8v.8h-.8zM124.0 58.7h.8v.8h-.8zM118.1 57.3h.8v.8h-.8zM114.7 62.8h.8v.8h-.8zM118.3 60.1h.8v.8h-.8zM126.2 61.3h.8v.8h-.8zM123.6 68.8h.8v.8h-.8zM124.3 59.5h.8v.8h-.8zM116.7 66.6h.8v.8h-.8zM125.0 65.2h.8v.8h-.8zM119.9 59.8h.8v.8h-.8zM120.6 57.5h.8v.8h-.8zM127.6 59.8h.8v.8h-.8zM118.0 61.0h.8v.8h-.8zM119.4 66.6h.8v.8h-.8zM116.3 60.2h.8v.8h-.8zM124.5 63.2h.8v.8h-.8zM122.1 72.0h.8v.8h-.8zM106.1 60.6h.8v.8h-.8zM115.2 62.5h.8v.8h-.8zM120.1 62.5h.8v.8h-.8zM119.1 70.1h.8v.8h-.8zM112.6 60.4h.8v.8h-.8zM119.3 58.9h.8v.8h-.8zM112.7 60.3h.8v.8h-.8zM112.3 61.5h.8v.8h-.8zM110.8 60.2h.8v.8h-.8zM121.0 59.8h.8v.8h-.8zM113.2 68.7h.8v.8h-.8zM120.5 55.1h.8v.8h-.8zM115.8 54.6h.8v.8h-.8zM108.3 59.3h.8v.8h-.8zM123.9 70.1h.8v.8h-.8zM119.7 67.9h.8v.8h-.8zM115.4 54.6h.8v.8h-.8zM126.3 57.6h.8v.8h-.8zM108.0 60.2h.8v.8h-.8zM118.5 54.1h.8v.8h-.8zM125.5 64.3h.8v.8h-.8zM117.6 67.6h.8v.8h-.8zM119.6 62.2h.8v.8h-.8zM127.2 52.2h.8v.8h-.8zM120.1 65.9h.8v.8h-.8zM121.4 61.0h.8v.8h-.8zM122.5 53.4h.8v.8h-.8zM120.5 55.3h.8v.8h-.8zM111.9 55.8h.8v.8h-.8zM114.3 62.9h.8v.8h-.8zM127.5 58.7h.8v.8h-.8zM123.3 69.3h.8v.8h-.8zM132.3 70.3h.8v.8h-.8zM126.9 56.2h.8v.8h-.8zM113.8 59.7h.8v.8h-.8zM111.6 68.3h.8v.8h-.8zM120.1 59.2h.8v.8h-.8zM119.4 55.1h.8v.8h-.8zM115.4 52.3h.8v.8h-.8zM107.7 71.2h.8v.8h-.8zM119.5 75.2h.8v.8h-.8zM124.3 69.3h.8v.8h-.8zM111.3 75.0h.8v.8h-.8zM114.7 68.3h.8v.8h-.8zM114.6 67.6h.8v.8h-.8zM117.6 75.1h.8v.8h-.8zM117.1 73.5h.8v.8h-.8zM117.2 68.2h.8v.8h-.8zM116.4 75.1h.8v.8h-.8zM105.9 75.9h.8v.8h-.8zM127.2 71.6h.8v.8h-.8zM122.7 76.2h.8v.8h-.8zM118.8 74.6h.8v.8h-.8zM118.3 73.4h.8v.8h-.8zM121.3 73.4h.8v.8h-.8zM123.5 80.3h.8v.8h-.8zM128.6 74.7h.8v.8h-.8zM127.5 74.3h.8v.8h-.8zM116.4 68.5h.8v.8h-.8zM114.9 74.7h.8v.8h-.8zM112.9 75.3h.8v.8h-.8zM116.4 86.8h.8v.8h-.8zM119.0 72.0h.8v.8h-.8zM122.4 68.5h.8v.8h-.8zM120.2 72.6h.8v.8h-.8zM115.3 76.7h.8v.8h-.8zM115.0 79.4h.8v.8h-.8zM108.8 68.8h.8v.8h-.8zM122.0 74.2h.8v.8h-.8zM121.9 79.2h.8v.8h-.8zM115.7 83.9h.8v.8h-.8zM122.3 73.0h.8v.8h-.8zM116.8 70.0h.8v.8h-.8zM118.2 79.3h.8v.8h-.8zM116.7 73.3h.8v.8h-.8zM115.0 78.1h.8v.8h-.8zM107.5 71.2h.8v.8h-.8zM117.4 74.2h.8v.8h-.8zM117.0 75.2h.8v.8h-.8zM109.0 80.4h.8v.8h-.8zM115.2 77.6h.8v.8h-.8zM121.7 75.3h.8v.8h-.8zM111.1 72.6h.8v.8h-.8zM110.6 74.7h.8v.8h-.8zM120.5 72.2h.8v.8h-.8zM109.8 75.9h.8v.8h-.8zM110.0 68.2h.8v.8h-.8zM112.5 73.8h.8v.8h-.8zM108.8 72.3h.8v.8h-.8zM112.5 75.1h.8v.8h-.8zM124.1 69.9h.8v.8h-.8zM116.3 71.3h.8v.8h-.8zM112.4 79.8h.8v.8h-.8zM117.3 74.4h.8v.8h-.8zM110.3 70.2h.8v.8h-.8zM124.3 73.5h.8v.8h-.8zM125.0 74.0h.8v.8h-.8zM116.3 70.0h.8v.8h-.8zM120.2 75.0h.8v.8h-.8zM117.3 74.3h.8v.8h-.8zM111.7 69.7h.8v.8h-.8zM121.9 75.5h.8v.8h-.8zM122.2 76.6h.8v.8h-.8zM121.0 75.6h.8v.8h-.8zM120.9 72.4h.8v.8h-.8zM108.9 76.1h.8v.8h-.8zM112.2 78.1h.8v.8h-.8zM122.4 70.3h.8v.8h-.8zM116.0 73.1h.8v.8h-.8zM120.6 68.0h.8v.8h-.8zM114.6 68.8h.8v.8h-.8zM114.0 74.5h.8v.8h-.8zM124.9 72.6h.8v.8h-.8zM109.6 81.6h.8v.8h-.8zM126.6 64.5h.8v.8h-.8zM120.5 79.8h.8v.8h-.8zM106.1 79.7h.8v.8h-.8zM117.0 73.4h.8v.8h-.8zM114.8 88.9h.8v.8h-.8zM114.0 82.7h.8v.8h-.8zM105.0 99.1h.8v.8h-.8zM103.5 86.7h.8v.8h-.8zM119.5 98.1h.8v.8h-.8zM114.0 95.8h.8v.8h-.8zM116.9 85.2h.8v.8h-.8zM114.5 83.7h.8v.8h-.8zM111.0 94.9h.8v.8h-.8zM117.8 85.0h.8v.8h-.8zM120.6 96.6h.8v.8h-.8zM121.4 88.7h.8v.8h-.8zM114.7 85.2h.8v.8h-.8zM110.2 95.0h.8v.8h-.8zM107.4 84.8h.8v.8h-.8zM105.6 94.9h.8v.8h-.8zM113.2 91.0h.8v.8h-.8zM113.4 82.2h.8v.8h-.8zM109.9 95.0h.8v.8h-.8zM101.5 97.4h.8v.8h-.8zM112.3 80.8h.8v.8h-.8zM118.4 97.8h.8v.8h-.8zM108.3 95.2h.8v.8h-.8zM104.9 95.8h.8v.8h-.8zM116.5 100.3h.8v.8h-.8zM104.2 98.9h.8v.8h-.8zM115.9 102.9h.8v.8h-.8zM108.9 77.4h.8v.8h-.8zM113.3 100.8h.8v.8h-.8zM114.4 87.8h.8v.8h-.8zM109.8 96.1h.8v.8h-.8zM116.7 89.7h.8v.8h-.8zM103.8 91.2h.8v.8h-.8zM113.6 89.1h.8v.8h-.8zM103.0 90.5h.8v.8h-.8zM101.5 98.8h.8v.8h-.8zM115.2 94.8h.8v.8h-.8zM103.2 91.0h.8v.8h-.8zM112.0 92.7h.8v.8h-.8zM123.7 47.3h.8v.8h-.8zM119.9 84.2h.8v.8h-.8zM120.1 65.4h.8v.8h-.8zM105.8 72.1h.8v.8h-.8zM124.3 69.3h.8v.8h-.8zM120.0 77.8h.8v.8h-.8zM115.0 61.7h.8v.8h-.8zM119.8 58.1h.8v.8h-.8zM111.5 60.0h.8v.8h-.8zM121.8 49.5h.8v.8h-.8zM129.0 80.5h.8v.8h-.8zM115.7 45.4h.8v.8h-.8zM125.0 70.4h.8v.8h-.8zM125.7 79.6h.8v.8h-.8zM127.4 77.9h.8v.8h-.8zM110.6 71.9h.8v.8h-.8zM127.2 64.2h.8v.8h-.8zM116.5 82.7h.8v.8h-.8zM119.3 53.1h.8v.8h-.8zM104.4 59.9h.8v.8h-.8zM118.9 64.4h.8v.8h-.8zM118.0 60.0h.8v.8h-.8zM129.2 68.0h.8v.8h-.8zM117.7 85.2h.8v.8h-.8zM111.1 48.3h.8v.8h-.8zM115.7 53.0h.8v.8h-.8zM113.9 82.4h.8v.8h-.8zM107.6 49.5h.8v.8h-.8zM121.4 77.9h.8v.8h-.8zM120.7 61.7h.8v.8h-.8zM121.6 50.6h.8v.8h-.8zM119.0 62.5h.8v.8h-.8zM117.6 63.9h.8v.8h-.8zM110.7 100.1h.8v.8h-.8zM119.1 70.1h.8v.8h-.8zM132.6 83.0h.8v.8h-.8zM130.8 87.1h.8v.8h-.8zM121.8 56.8h.8v.8h-.8zM121.2 86.0h.8v.8h-.8zM119.9 56.4h.8v.8h-.8zM106.1 68.8h.8v.8h-.8zM125.7 76.6h.8v.8h-.8zM124.1 86.1h.8v.8h-.8zM126.0 80.9h.8v.8h-.8zM120.1 91.8h.8v.8h-.8zM113.3 69.2h.8v.8h-.8zM114.4 74.6h.8v.8h-.8zM123.9 81.7h.8v.8h-.8zM118.0 80.9h.8v.8h-.8zM111.2 49.3h.8v.8h-.8zM111.9 90.8h.8v.8h-.8zM126.7 53.7h.8v.8h-.8zM119.2 81.1h.8v.8h-.8zM104.4 81.5h.8v.8h-.8zM126.6 81.5h.8v.8h-.8zM116.5 41.2h.8v.8h-.8zM104.4 66.9h.8v.8h-.8zM110.5 61.2h.8v.8h-.8zM114.4 49.6h.8v.8h-.8zM109.7 63.1h.8v.8h-.8zM131.3 78.7h.8v.8h-.8zM110.3 65.4h.8v.8h-.8zM113.7 64.5h.8v.8h-.8zM115.7 84.5h.8v.8h-.8zM118.6 75.7h.8v.8h-.8zM122.3 66.7h.8v.8h-.8zM114.2 42.3h.8v.8h-.8zM116.6 58.9h.8v.8h-.8zM129.9 70.6h.8v.8h-.8zM120.0 71.4h.8v.8h-.8zM125.6 45.2h.8v.8h-.8zM114.8 72.3h.8v.8h-.8zM108.7 75.1h.8v.8h-.8zM109.2 56.3h.8v.8h-.8zM117.6 90.0h.8v.8h-.8zM118.0 49.6h.8v.8h-.8zM127.0 50.9h.8v.8h-.8zM115.3 43.7h.8v.8h-.8zM121.5 47.6h.8v.8h-.8zM118.7 55.3h.8v.8h-.8zM115.7 45.2h.8v.8h-.8zM113.2 52.6h.8v.8h-.8zM116.7 44.4h.8v.8h-.8zM123.0 49.1h.8v.8h-.8zM117.4 48.0h.8v.8h-.8zM122.5 47.6h.8v.8h-.8zM121.2 57.9h.8v.8h-.8zM120.2 42.0h.8v.8h-.8zM110.9 51.2h.8v.8h-.8zM111.2 47.5h.8v.8h-.8zM116.5 55.5h.8v.8h-.8zM119.7 49.2h.8v.8h-.8zM123.1 48.9h.8v.8h-.8zM116.5 51.5h.8v.8h-.8zM120.7 45.2h.8v.8h-.8zM115.5 55.0h.8v.8h-.8zM121.3 50.7h.8v.8h-.8zM124.3 162.6h.8v.8h-.8zM116.9 158.2h.8v.8h-.8zM120.1 156.8h.8v.8h-.8zM122.8 159.8h.8v.8h-.8zM118.4 156.6h.8v.8h-.8zM123.5 153.4h.8v.8h-.8zM125.4 155.0h.8v.8h-.8zM120.8 154.2h.8v.8h-.8zM112.2 160.6h.8v.8h-.8zM114.3 164.7h.8v.8h-.8zM121.5 158.3h.8v.8h-.8zM120.3 157.6h.8v.8h-.8zM106.7 154.9h.8v.8h-.8zM115.8 152.6h.8v.8h-.8zM110.8 158.3h.8v.8h-.8zM121.5 161.3h.8v.8h-.8zM121.0 161.2h.8v.8h-.8zM116.6 164.5h.8v.8h-.8zM122.6 163.2h.8v.8h-.8zM116.2 162.0h.8v.8h-.8zM118.0 159.0h.8v.8h-.8zM118.9 161.5h.8v.8h-.8zM121.9 158.8h.8v.8h-.8zM120.8 160.5h.8v.8h-.8zM115.7 166.6h.8v.8h-.8zM113.4 154.6h.8v.8h-.8zM127.4 161.3h.8v.8h-.8zM117.8 165.4h.8v.8h-.8zM126.6 161.0h.8v.8h-.8zM108.5 163.6h.8v.8h-.8zM112.6 160.0h.8v.8h-.8zM131.0 175.2h.8v.8h-.8zM111.1 177.9h.8v.8h-.8zM113.6 173.1h.8v.8h-.8zM116.3 172.3h.8v.8h-.8zM108.5 173.2h.8v.8h-.8zM113.6 177.5h.8v.8h-.8zM114.5 169.9h.8v.8h-.8zM121.9 181.0h.8v.8h-.8zM114.3 177.7h.8v.8h-.8zM122.6 177.4h.8v.8h-.8zM110.9 170.7h.8v.8h-.8zM120.6 168.8h.8v.8h-.8zM115.1 167.2h.8v.8h-.8zM127.2 175.0h.8v.8h-.8zM123.2 163.3h.8v.8h-.8zM115.1 167.8h.8v.8h-.8zM116.5 172.5h.8v.8h-.8zM116.9 173.4h.8v.8h-.8zM130.9 172.9h.8v.8h-.8zM106.6 172.4h.8v.8h-.8zM121.1 172.1h.8v.8h-.8zM118.4 167.0h.8v.8h-.8zM114.2 185.7h.8v.8h-.8zM125.6 170.9h.8v.8h-.8zM121.3 166.3h.8v.8h-.8zM136.4 167.2h.8v.8h-.8zM108.2 174.9h.8v.8h-.8zM113.8 173.0h.8v.8h-.8zM120.0 174.0h.8v.8h-.8zM121.0 177.1h.8v.8h-.8zM114.5 173.2h.8v.8h-.8zM127.8 169.5h.8v.8h-.8zM121.2 173.3h.8v.8h-.8zM122.2 168.7h.8v.8h-.8zM122.1 173.8h.8v.8h-.8zM127.1 166.4h.8v.8h-.8zM117.5 172.9h.8v.8h-.8zM110.1 174.6h.8v.8h-.8zM125.8 167.8h.8v.8h-.8zM108.9 172.1h.8v.8h-.8zM105.6 173.3h.8v.8h-.8zM117.7 173.4h.8v.8h-.8zM115.3 169.7h.8v.8h-.8zM121.2 167.4h.8v.8h-.8zM118.0 179.5h.8v.8h-.8zM118.5 172.5h.8v.8h-.8zM121.4 172.0h.8v.8h-.8zM116.5 175.2h.8v.8h-.8zM130.1 171.4h.8v.8h-.8zM111.4 176.5h.8v.8h-.8zM130.7 173.5h.8v.8h-.8zM113.3 170.9h.8v.8h-.8zM117.0 178.7h.8v.8h-.8zM121.1 177.0h.8v.8h-.8zM121.8 171.0h.8v.8h-.8zM117.0 179.2h.8v.8h-.8zM117.9 170.9h.8v.8h-.8zM117.4 172.0h.8v.8h-.8zM126.1 179.0h.8v.8h-.8zM114.8 168.4h.8v.8h-.8zM123.0 169.4h.8v.8h-.8zM129.4 166.2h.8v.8h-.8zM116.1 174.0h.8v.8h-.8zM107.3 185.9h.8v.8h-.8zM112.6 197.0h.8v.8h-.8zM109.5 188.3h.8v.8h-.8zM111.0 179.9h.8v.8h-.8zM112.7 194.1h.8v.8h-.8zM108.3 187.1h.8v.8h-.8zM100.9 195.0h.8v.8h-.8zM109.6 188.2h.8v.8h-.8zM107.7 186.3h.8v.8h-.8zM104.3 170.7h.8v.8h-.8zM109.5 178.7h.8v.8h-.8zM108.1 189.3h.8v.8h-.8zM115.3 182.5h.8v.8h-.8zM100.2 186.6h.8v.8h-.8zM111.6 189.1h.8v.8h-.8zM104.0 185.5h.8v.8h-.8zM113.1 182.1h.8v.8h-.8zM111.7 194.9h.8v.8h-.8zM111.0 193.2h.8v.8h-.8zM115.1 186.3h.8v.8h-.8zM107.7 192.1h.8v.8h-.8zM119.0 185.9h.8v.8h-.8zM108.8 181.5h.8v.8h-.8zM118.5 189.8h.8v.8h-.8zM113.1 185.6h.8v.8h-.8zM112.7 176.9h.8v.8h-.8zM115.7 201.6h.8v.8h-.8zM105.7 180.7h.8v.8h-.8zM106.2 197.7h.8v.8h-.8zM110.8 194.2h.8v.8h-.8zM102.9 186.7h.8v.8h-.8zM111.5 179.2h.8v.8h-.8zM108.8 188.0h.8v.8h-.8zM117.8 179.2h.8v.8h-.8zM109.8 200.0h.8v.8h-.8zM107.3 181.2h.8v.8h-.8zM108.9 197.4h.8v.8h-.8zM111.1 189.9h.8v.8h-.8zM113.0 180.7h.8v.8h-.8zM108.4 182.5h.8v.8h-.8zM111.2 182.7h.8v.8h-.8zM107.3 183.0h.8v.8h-.8zM104.0 178.4h.8v.8h-.8zM128.5 172.8h.8v.8h-.8zM124.5 166.0h.8v.8h-.8zM114.8 183.2h.8v.8h-.8zM112.6 168.2h.8v.8h-.8zM138.5 175.4h.8v.8h-.8zM124.7 192.9h.8v.8h-.8zM115.5 172.4h.8v.8h-.8zM118.8 201.6h.8v.8h-.8zM111.8 156.2h.8v.8h-.8zM109.7 152.0h.8v.8h-.8zM119.9 185.9h.8v.8h-.8zM137.0 170.3h.8v.8h-.8zM111.0 163.8h.8v.8h-.8zM123.0 173.3h.8v.8h-.8zM137.8 157.6h.8v.8h-.8zM113.4 177.4h.8v.8h-.8zM119.2 168.9h.8v.8h-.8zM121.5 147.2h.8v.8h-.8zM111.6 154.1h.8v.8h-.8zM115.1 163.4h.8v.8h-.8zM120.6 146.7h.8v.8h-.8zM113.3 199.7h.8v.8h-.8zM109.4 178.7h.8v.8h-.8zM107.0 168.5h.8v.8h-.8zM126.5 173.9h.8v.8h-.8zM119.7 147.1h.8v.8h-.8zM115.2 165.2h.8v.8h-.8zM205.6 163.0h.8v.8h-.8zM197.3 154.7h.8v.8h-.8zM198.6 160.1h.8v.8h-.8zM198.4 161.5h.8v.8h-.8zM204.8 156.0h.8v.8h-.8zM201.6 162.4h.8v.8h-.8zM203.6 163.1h.8v.8h-.8zM207.8 156.2h.8v.8h-.8zM202.2 159.5h.8v.8h-.8zM210.9 158.2h.8v.8h-.8zM198.8 164.1h.8v.8h-.8zM199.5 159.3h.8v.8h-.8zM192.8 163.6h.8v.8h-.8zM196.6 156.4h.8v.8h-.8zM206.6 162.4h.8v.8h-.8zM197.3 161.3h.8v.8h-.8zM202.9 160.8h.8v.8h-.8zM198.6 154.2h.8v.8h-.8zM193.8 162.5h.8v.8h-.8zM194.1 159.7h.8v.8h-.8zM208.5 159.1h.8v.8h-.8zM199.9 155.1h.8v.8h-.8zM199.5 157.0h.8v.8h-.8zM195.7 154.8h.8v.8h-.8zM202.0 161.6h.8v.8h-.8zM187.8 156.6h.8v.8h-.8zM195.2 162.3h.8v.8h-.8zM202.5 155.3h.8v.8h-.8zM193.9 160.0h.8v.8h-.8zM196.4 160.0h.8v.8h-.8zM202.0 156.1h.8v.8h-.8zM192.1 166.1h.8v.8h-.8zM196.6 163.5h.8v.8h-.8zM207.0 159.0h.8v.8h-.8zM203.2 166.8h.8v.8h-.8zM201.6 154.5h.8v.8h-.8zM191.8 156.8h.8v.8h-.8zM199.3 157.8h.8v.8h-.8zM197.6 157.1h.8v.8h-.8zM193.4 160.0h.8v.8h-.8zM203.6 159.8h.8v.8h-.8zM194.3 162.8h.8v.8h-.8zM197.8 157.6h.8v.8h-.8zM203.7 164.0h.8v.8h-.8zM189.7 154.9h.8v.8h-.8zM201.2 162.3h.8v.8h-.8zM212.0 153.1h.8v.8h-.8zM198.3 164.0h.8v.8h-.8zM208.2 154.5h.8v.8h-.8zM199.1 161.3h.8v.8h-.8zM201.4 161.0h.8v.8h-.8zM206.9 159.0h.8v.8h-.8zM200.8 158.2h.8v.8h-.8zM197.2 156.9h.8v.8h-.8zM199.6 151.1h.8v.8h-.8zM202.2 156.1h.8v.8h-.8zM189.9 160.1h.8v.8h-.8zM200.0 162.1h.8v.8h-.8zM197.5 161.3h.8v.8h-.8zM202.1 156.0h.8v.8h-.8zM203.5 159.4h.8v.8h-.8zM201.6 161.7h.8v.8h-.8zM200.8 163.0h.8v.8h-.8zM193.2 161.9h.8v.8h-.8zM196.1 156.8h.8v.8h-.8zM203.3 159.8h.8v.8h-.8zM208.3 153.8h.8v.8h-.8zM200.0 162.3h.8v.8h-.8zM200.8 160.1h.8v.8h-.8zM203.8 157.1h.8v.8h-.8zM196.9 160.6h.8v.8h-.8zM197.2 158.2h.8v.8h-.8zM204.4 166.4h.8v.8h-.8zM204.9 158.2h.8v.8h-.8zM194.4 156.3h.8v.8h-.8zM200.4 158.3h.8v.8h-.8zM196.1 161.9h.8v.8h-.8zM203.3 159.8h.8v.8h-.8zM181.9 174.0h.8v.8h-.8zM197.6 172.4h.8v.8h-.8zM198.7 171.8h.8v.8h-.8zM201.9 168.5h.8v.8h-.8zM203.1 168.6h.8v.8h-.8zM200.4 178.2h.8v.8h-.8zM204.7 171.7h.8v.8h-.8zM202.5 169.8h.8v.8h-.8zM193.7 169.6h.8v.8h-.8zM196.7 170.9h.8v.8h-.8zM200.3 169.1h.8v.8h-.8zM190.9 177.3h.8v.8h-.8zM209.2 167.3h.8v.8h-.8zM199.0 168.0h.8v.8h-.8zM209.4 163.0h.8v.8h-.8zM206.6 174.8h.8v.8h-.8zM193.9 170.6h.8v.8h-.8zM188.4 171.6h.8v.8h-.8zM202.3 160.6h.8v.8h-.8zM200.0 174.8h.8v.8h-.8zM211.7 174.3h.8v.8h-.8zM189.0 166.0h.8v.8h-.8zM198.4 177.0h.8v.8h-.8zM193.8 170.0h.8v.8h-.8zM196.1 175.6h.8v.8h-.8zM207.1 175.8h.8v.8h-.8zM199.1 171.3h.8v.8h-.8zM206.5 168.1h.8v.8h-.8zM207.3 172.1h.8v.8h-.8zM197.8 172.3h.8v.8h-.8zM203.8 176.7h.8v.8h-.8zM200.9 175.5h.8v.8h-.8zM200.8 169.0h.8v.8h-.8zM204.3 172.3h.8v.8h-.8zM204.8 175.3h.8v.8h-.8zM199.4 173.3h.8v.8h-.8zM193.5 172.0h.8v.8h-.8zM196.1 171.3h.8v.8h-.8zM201.4 174.3h.8v.8h-.8zM206.2 173.3h.8v.8h-.8zM199.0 170.3h.8v.8h-.8zM196.7 165.7h.8v.8h-.8zM192.2 171.4h.8v.8h-.8zM201.0 169.0h.8v.8h-.8zM199.8 175.0h.8v.8h-.8zM205.3 171.9h.8v.8h-.8zM203.0 177.9h.8v.8h-.8zM198.3 176.4h.8v.8h-.8zM193.6 174.2h.8v.8h-.8zM200.2 171.7h.8v.8h-.8zM188.9 170.8h.8v.8h-.8zM199.7 164.6h.8v.8h-.8zM210.5 168.8h.8v.8h-.8zM206.8 173.1h.8v.8h-.8zM202.3 174.7h.8v.8h-.8zM214.5 173.6h.8v.8h-.8zM191.2 181.0h.8v.8h-.8zM198.8 182.1h.8v.8h-.8zM189.7 178.0h.8v.8h-.8zM189.4 178.7h.8v.8h-.8zM205.1 186.2h.8v.8h-.8zM191.4 194.3h.8v.8h-.8zM194.0 171.9h.8v.8h-.8zM185.2 196.7h.8v.8h-.8zM193.2 183.1h.8v.8h-.8zM194.2 194.4h.8v.8h-.8zM185.4 200.2h.8v.8h-.8zM200.5 182.6h.8v.8h-.8zM190.7 182.3h.8v.8h-.8zM187.4 186.3h.8v.8h-.8zM183.3 177.4h.8v.8h-.8zM188.7 197.0h.8v.8h-.8zM200.5 177.3h.8v.8h-.8zM191.0 187.5h.8v.8h-.8zM196.1 171.5h.8v.8h-.8zM193.6 181.2h.8v.8h-.8zM192.0 192.6h.8v.8h-.8zM192.2 174.0h.8v.8h-.8zM192.2 202.2h.8v.8h-.8zM194.1 191.9h.8v.8h-.8zM188.9 178.7h.8v.8h-.8zM187.5 183.6h.8v.8h-.8zM186.3 196.5h.8v.8h-.8zM193.1 188.0h.8v.8h-.8zM192.1 179.5h.8v.8h-.8zM190.5 187.5h.8v.8h-.8zM186.2 179.6h.8v.8h-.8zM189.5 189.2h.8v.8h-.8zM197.9 200.4h.8v.8h-.8zM187.1 187.0h.8v.8h-.8zM194.2 189.0h.8v.8h-.8zM199.5 181.4h.8v.8h-.8zM190.6 194.3h.8v.8h-.8zM193.7 189.4h.8v.8h-.8zM196.8 166.5h.8v.8h-.8zM195.6 188.9h.8v.8h-.8zM192.8 194.8h.8v.8h-.8zM198.6 174.1h.8v.8h-.8zM183.5 183.1h.8v.8h-.8zM196.7 185.8h.8v.8h-.8zM190.2 176.7h.8v.8h-.8zM187.5 181.0h.8v.8h-.8zM190.7 181.1h.8v.8h-.8zM190.5 199.2h.8v.8h-.8zM196.5 184.9h.8v.8h-.8zM187.4 188.0h.8v.8h-.8zM195.0 197.9h.8v.8h-.8zM187.6 186.5h.8v.8h-.8zM192.9 182.9h.8v.8h-.8zM181.5 193.4h.8v.8h-.8zM188.7 181.7h.8v.8h-.8zM201.3 176.1h.8v.8h-.8zM194.3 173.2h.8v.8h-.8zM197.1 163.8h.8v.8h-.8zM196.3 152.5h.8v.8h-.8zM202.0 169.7h.8v.8h-.8zM205.9 165.5h.8v.8h-.8zM208.0 160.4h.8v.8h-.8zM200.4 157.7h.8v.8h-.8zM197.5 171.0h.8v.8h-.8zM199.1 177.2h.8v.8h-.8zM183.8 149.4h.8v.8h-.8zM214.5 166.6h.8v.8h-.8zM193.9 178.0h.8v.8h-.8zM211.3 160.0h.8v.8h-.8zM191.5 162.2h.8v.8h-.8zM190.7 160.5h.8v.8h-.8zM194.1 164.4h.8v.8h-.8zM197.2 173.7h.8v.8h-.8zM204.1 166.8h.8v.8h-.8zM194.0 169.2h.8v.8h-.8zM206.2 163.1h.8v.8h-.8zM211.2 169.0h.8v.8h-.8zM197.7 186.5h.8v.8h-.8zM185.4 192.2h.8v.8h-.8zM205.4 170.1h.8v.8h-.8zM186.2 189.4h.8v.8h-.8zM201.9 177.4h.8v.8h-.8zM190.1 183.2h.8v.8h-.8zM190.6 193.8h.8v.8h-.8zM204.6 142.0h.8v.8h-.8zM211.0 174.4h.8v.8h-.8zM189.5 168.9h.8v.8h-.8z"/>
<path fill="rgb(160,160,160)" d="M31.1 62.3h.8v.8h-.8zM37.4 54.8h.8v.8h-.8zM45.0 61.4h.8v.8h-.8zM33.3 51.9h.8v.8h-.8zM39.9 58.8h.8v.8h-.8zM39.1 56.4h.8v.8h-.8zM31.4 69.0h.8v.8h-.8zM41.2 57.5h.8v.8h-.8zM25.6 59.3h.8v.8h-.8zM29.3 59.2h.8v.8h-.8zM29.4 55.9h.8v.8h-.8zM38.6 59.7h.8v.8h-.8zM37.9 60.1h.8v.8h-.8zM21.9 61.0h.8v.8h-.8zM33.8 56.6h.8v.8h-.8zM33.5 53.0h.8v.8h-.8zM37.7 56.6h.8v.8h-.8zM37.4 63.1h.8v.8h-.8zM27.7 65.8h.8v.8h-.8zM42.2 59.7h.8v.8h-.8zM37.4 59.8h.8v.8h-.8zM40.5 56.8h.8v.8h-.8zM45.6 63.9h.8v.8h-.8zM32.9 60.1h.8v.8h-.8zM37.8 57.8h.8v.8h-.8zM25.0 61.3h.8v.8h-.8zM34.8 62.9h.8v.8h-.8zM39.1 57.8h.8v.8h-.8zM30.3 55.1h.8v.8h-.8zM44.0 61.2h.8v.8h-.8zM31.4 73.1h.8v.8h-.8zM29.8 77.5h.8v.8h-.8zM30.5 76.3h.8v.8h-.8zM38.4 72.7h.8v.8h-.8zM32.8 73.0h.8v.8h-.8zM41.2 73.2h.8v.8h-.8zM44.1 69.6h.8v.8h-.8zM35.8 79.1h.8v.8h-.8zM37.1 79.9h.8v.8h-.8zM28.7 74.9h.8v.8h-.8zM35.0 73.7h.8v.8h-.8zM48.1 76.4h.8v.8h-.8zM41.4 75.6h.8v.8h-.8zM17.7 68.4h.8v.8h-.8zM36.6 73.4h.8v.8h-.8zM44.3 76.5h.8v.8h-.8zM38.3 83.0h.8v.8h-.8zM36.0 74.9h.8v.8h-.8zM23.3 73.3h.8v.8h-.8zM34.2 72.1h.8v.8h-.8zM39.9 72.6h.8v.8h-.8zM47.2 73.2h.8v.8h-.8zM34.4 78.1h.8v.8h-.8zM29.0 89.9h.8v.8h-.8zM20.6 95.4h.8v.8h-.8zM18.4 80.1h.8v.8h-.8zM20.4 102.2h.8v.8h-.8zM27.9 89.0h.8v.8h-.8zM22.0 94.2h.8v.8h-.8zM28.9 104.8h.8v.8h-.8zM28.2 90.1h.8v.8h-.8zM19.3 94.9h.8v.8h-.8zM24.2 94.5h.8v.8h-.8zM31.2 74.0h.8v.8h-.8zM20.6 89.3h.8v.8h-.8zM24.0 69.9h.8v.8h-.8zM25.7 98.3h.8v.8h-.8zM23.0 93.6h.8v.8h-.8zM25.7 91.8h.8v.8h-.8zM20.8 103.8h.8v.8h-.8zM21.3 79.9h.8v.8h-.8zM23.3 94.7h.8v.8h-.8zM26.0 79.8h.8v.8h-.8zM19.3 95.9h.8v.8h-.8zM23.9 93.6h.8v.8h-.8zM20.0 89.2h.8v.8h-.8zM26.7 86.9h.8v.8h-.8zM25.3 88.5h.8v.8h-.8zM106.2 100.6h.8v.8h-.8zM100.5 89.2h.8v.8h-.8zM110.2 93.0h.8v.8h-.8zM102.5 83.7h.8v.8h-.8zM106.0 87.6h.8v.8h-.8zM101.0 96.5h.8v.8h-.8zM108.0 90.3h.8v.8h-.8zM118.9 80.1h.8v.8h-.8zM114.5 90.4h.8v.8h-.8zM111.4 95.1h.8v.8h-.8zM110.6 87.1h.8v.8h-.8zM117.2 83.3h.8v.8h-.8zM108.9 96.8h.8v.8h-.8zM114.5 90.7h.8v.8h-.8zM110.2 78.8h.8v.8h-.8zM108.5 94.3h.8v.8h-.8zM106.7 97.1h.8v.8h-.8zM99.6 98.4h.8v.8h-.8zM112.3 88.3h.8v.8h-.8zM101.9 97.7h.8v.8h-.8zM106.8 99.0h.8v.8h-.8zM113.8 90.4h.8v.8h-.8zM112.8 89.7h.8v.8h-.8zM110.7 91.8h.8v.8h-.8zM112.6 94.2h.8v.8h-.8zM119.3 98.3h.8v.8h-.8zM101.4 96.1h.8v.8h-.8zM97.8 84.3h.8v.8h-.8zM100.6 104.5h.8v.8h-.8zM107.7 94.1h.8v.8h-.8zM115.6 88.7h.8v.8h-.8zM104.6 104.8h.8v.8h-.8zM104.3 87.4h.8v.8h-.8zM107.9 95.8h.8v.8h-.8zM107.5 81.6h.8v.8h-.8zM114.0 87.9h.8v.8h-.8zM106.5 87.1h.8v.8h-.8zM114.5 102.7h.8v.8h-.8zM113.6 97.7h.8v.8h-.8zM112.9 96.6h.8v.8h-.8zM108.4 99.2h.8v.8h-.8zM115.2 91.6h.8v.8h-.8zM113.3 83.6h.8v.8h-.8zM110.2 92.1h.8v.8h-.8zM103.7 100.5h.8v.8h-.8zM106.9 86.1h.8v.8h-.8zM107.0 100.8h.8v.8h-.8zM102.7 89.7h.8v.8h-.8zM107.0 99.3h.8v.8h-.8zM121.0 53.3h.8v.8h-.8zM117.7 52.8h.8v.8h-.8zM111.5 67.8h.8v.8h-.8zM127.7 76.1h.8v.8h-.8zM124.8 57.2h.8v.8h-.8zM121.4 73.6h.8v.8h-.8zM120.0 65.8h.8v.8h-.8zM117.5 82.2h.8v.8h-.8zM115.7 54.1h.8v.8h-.8zM115.2 70.2h.8v.8h-.8zM116.7 73.4h.8v.8h-.8zM118.7 66.4h.8v.8h-.8zM123.0 86.5h.8v.8h-.8zM128.9 74.7h.8v.8h-.8zM123.8 61.1h.8v.8h-.8zM113.4 82.2h.8v.8h-.8zM115.5 66.7h.8v.8h-.8zM121.1 84.9h.8v.8h-.8zM110.3 76.4h.8v.8h-.8zM113.0 64.2h.8v.8h-.8zM113.3 77.7h.8v.8h-.8zM110.3 43.9h.8v.8h-.8zM114.3 74.3h.8v.8h-.8zM111.1 46.0h.8v.8h-.8zM117.8 74.3h.8v.8h-.8zM118.6 43.0h.8v.8h-.8zM126.7 80.1h.8v.8h-.8zM117.6 55.8h.8v.8h-.8zM110.4 72.4h.8v.8h-.8zM111.3 68.5h.8v.8h-.8zM120.9 64.7h.8v.8h-.8zM120.9 81.5h.8v.8h-.8zM121.9 70.0h.8v.8h-.8zM106.0 73.4h.8v.8h-.8zM109.0 62.0h.8v.8h-.8zM110.4 62.5h.8v.8h-.8zM115.5 51.6h.8v.8h-.8zM122.8 96.4h.8v.8h-.8zM121.8 77.6h.8v.8h-.8zM129.3 75.4h.8v.8h-.8zM111.5 67.0h.8v.8h-.8zM133.0 53.2h.8v.8h-.8zM123.5 74.5h.8v.8h-.8zM110.7 97.8h.8v.8h-.8zM109.1 60.6h.8v.8h-.8zM124.4 77.8h.8v.8h-.8zM129.3 77.2h.8v.8h-.8zM127.3 69.7h.8v.8h-.8zM116.5 76.6h.8v.8h-.8zM119.4 45.2h.8v.8h-.8zM118.0 90.2h.8v.8h-.8zM115.4 77.8h.8v.8h-.8zM125.8 76.2h.8v.8h-.8zM119.3 88.8h.8v.8h-.8zM116.6 86.2h.8v.8h-.8zM116.6 74.4h.8v.8h-.8zM115.9 84.0h.8v.8h-.8zM128.8 69.1h.8v.8h-.8zM125.7 69.8h.8v.8h-.8zM123.2 74.6h.8v.8h-.8zM116.1 54.5h.8v.8h-.8zM111.2 56.4h.8v.8h-.8zM120.6 92.0h.8v.8h-.8zM121.0 59.4h.8v.8h-.8zM122.8 65.6h.8v.8h-.8zM118.2 65.8h.8v.8h-.8zM118.3 62.8h.8v.8h-.8zM121.5 83.3h.8v.8h-.8zM113.4 74.8h.8v.8h-.8zM139.5 56.0h.8v.8h-.8zM118.5 64.1h.8v.8h-.8zM112.7 65.3h.8v.8h-.8zM120.3 48.9h.8v.8h-.8zM118.3 79.2h.8v.8h-.8zM118.1 63.7h.8v.8h-.8zM121.0 82.0h.8v.8h-.8zM124.9 80.6h.8v.8h-.8zM118.1 72.0h.8v.8h-.8zM115.5 69.5h.8v.8h-.8zM122.9 71.1h.8v.8h-.8zM113.8 59.7h.8v.8h-.8zM105.4 81.2h.8v.8h-.8zM110.5 70.2h.8v.8h-.8zM113.7 51.8h.8v.8h-.8zM112.7 47.6h.8v.8h-.8zM120.3 51.5h.8v.8h-.8zM120.3 52.1h.8v.8h-.8zM119.4 50.0h.8v.8h-.8zM119.9 46.7h.8v.8h-.8zM116.4 56.3h.8v.8h-.8zM118.9 46.5h.8v.8h-.8zM110.9 46.5h.8v.8h-.8zM122.3 46.9h.8v.8h-.8zM113.1 45.1h.8v.8h-.8zM120.6 54.1h.8v.8h-.8zM121.5 43.7h.8v.8h-.8zM120.5 49.2h.8v.8h-.8zM109.8 48.5h.8v.8h-.8zM121.3 48.8h.8v.8h-.8zM114.3 47.7h.8v.8h-.8zM116.8 54.2h.8v.8h-.8zM116.0 51.1h.8v.8h-.8zM114.1 47.4h.8v.8h-.8zM114.7 52.4h.8v.8h-.8zM124.4 52.8h.8v.8h-.8zM116.5 49.6h.8v.8h-.8zM110.1 46.3h.8v.8h-.8zM114.9 50.7h.8v.8h-.8zM110.6 47.0h.8v.8h-.8zM122.3 48.5h.8v.8h-.8zM115.1 47.5h.8v.8h-.8zM111.2 46.0h.8v.8h-.8zM120.1 47.4h.8v.8h-.8zM111.1 47.3h.8v.8h-.8zM115.9 48.3h.8v.8h-.8zM199.0 59.8h.8v.8h-.8zM209.1 59.0h.8v.8h-.8zM194.2 62.3h.8v.8h-.8zM191.5 59.8h.8v.8h-.8zM196.5 63.6h.8v.8h-.8zM197.7 66.8h.8v.8h-.8zM194.6 54.3h.8v.8h-.8zM203.6 48.1h.8v.8h-.8zM196.0 55.5h.8v.8h-.8zM200.6 52.4h.8v.8h-.8zM200.9 59.0h.8v.8h-.8zM204.3 61.5h.8v.8h-.8zM194.0 57.9h.8v.8h-.8zM198.4 74.7h.8v.8h-.8zM191.3 71.9h.8v.8h-.8zM199.3 71.6h.8v.8h-.8zM190.5 69.3h.8v.8h-.8zM194.7 73.7h.8v.8h-.8zM195.9 74.1h.8v.8h-.8zM201.7 73.6h.8v.8h-.8zM185.8 78.3h.8v.8h-.8zM198.8 74.6h.8v.8h-.8zM192.2 78.7h.8v.8h-.8zM182.2 75.9h.8v.8h-.8zM198.3 76.3h.8v.8h-.8zM197.4 70.9h.8v.8h-.8zM193.6 76.1h.8v.8h-.8zM197.7 79.2h.8v.8h-.8zM212.5 69.7h.8v.8h-.8zM188.2 71.0h.8v.8h-.8zM193.6 76.4h.8v.8h-.8zM195.5 75.3h.8v.8h-.8zM194.7 72.9h.8v.8h-.8zM205.9 70.2h.8v.8h-.8zM192.1 70.5h.8v.8h-.8zM191.2 76.2h.8v.8h-.8zM187.5 85.9h.8v.8h-.8zM186.0 86.3h.8v.8h-.8zM186.6 84.5h.8v.8h-.8zM185.4 79.3h.8v.8h-.8zM186.2 75.3h.8v.8h-.8zM186.3 77.5h.8v.8h-.8zM188.5 86.7h.8v.8h-.8zM184.0 94.6h.8v.8h-.8zM189.4 90.3h.8v.8h-.8zM188.3 69.5h.8v.8h-.8zM194.1 101.1h.8v.8h-.8zM184.7 89.7h.8v.8h-.8zM189.0 75.1h.8v.8h-.8zM181.7 99.2h.8v.8h-.8zM183.8 80.6h.8v.8h-.8zM192.0 82.0h.8v.8h-.8zM190.2 81.5h.8v.8h-.8zM185.8 87.6h.8v.8h-.8zM187.0 93.5h.8v.8h-.8zM185.6 100.3h.8v.8h-.8zM188.6 87.4h.8v.8h-.8zM190.7 94.2h.8v.8h-.8zM29.3 158.8h.8v.8h-.8zM46.0 155.3h.8v.8h-.8zM24.5 155.0h.8v.8h-.8zM28.2 155.1h.8v.8h-.8zM32.5 157.2h.8v.8h-.8zM36.8 156.9h.8v.8h-.8zM36.9 159.1h.8v.8h-.8zM28.7 158.6h.8v.8h-.8zM28.1 158.5h.8v.8h-.8zM32.5 158.4h.8v.8h-.8zM44.0 163.9h.8v.8h-.8zM38.9 153.8h.8v.8h-.8zM38.8 159.1h.8v.8h-.8zM43.5 160.2h.8v.8h-.8zM40.1 154.4h.8v.8h-.8zM34.1 157.7h.8v.8h-.8zM21.0 158.4h.8v.8h-.8zM30.5 156.4h.8v.8h-.8zM33.8 157.5h.8v.8h-.8zM37.4 149.9h.8v.8h-.8zM36.3 160.9h.8v.8h-.8zM43.9 160.3h.8v.8h-.8zM40.0 159.9h.8v.8h-.8zM47.9 159.1h.8v.8h-.8zM33.1 161.4h.8v.8h-.8zM35.8 155.7h.8v.8h-.8zM37.3 160.9h.8v.8h-.8zM30.7 160.3h.8v.8h-.8zM46.2 162.9h.8v.8h-.8zM39.8 170.2h.8v.8h-.8zM34.5 172.3h.8v.8h-.8zM40.7 172.5h.8v.8h-.8zM35.3 173.2h.8v.8h-.8zM29.4 171.3h.8v.8h-.8zM31.7 171.5h.8v.8h-.8zM39.5 168.3h.8v.8h-.8zM37.7 172.0h.8v.8h-.8zM33.2 167.8h.8v.8h-.8zM37.7 173.8h.8v.8h-.8zM38.7 170.5h.8v.8h-.8zM51.2 173.3h.8v.8h-.8zM43.5 166.8h.8v.8h-.8zM30.5 169.6h.8v.8h-.8zM41.1 163.7h.8v.8h-.8zM39.4 166.0h.8v.8h-.8zM27.2 178.5h.8v.8h-.8zM39.5 174.6h.8v.8h-.8zM32.9 173.8h.8v.8h-.8zM24.7 168.1h.8v.8h-.8zM31.3 174.2h.8v.8h-.8zM30.9 167.6h.8v.8h-.8zM26.9 168.6h.8v.8h-.8zM39.0 167.9h.8v.8h-.8zM37.2 176.7h.8v.8h-.8zM38.0 174.9h.8v.8h-.8zM38.1 170.8h.8v.8h-.8zM40.9 172.2h.8v.8h-.8zM43.6 170.0h.8v.8h-.8zM20.2 183.3h.8v.8h-.8zM24.0 191.5h.8v.8h-.8zM25.6 184.2h.8v.8h-.8zM21.6 199.5h.8v.8h-.8zM23.8 179.5h.8v.8h-.8zM29.7 189.0h.8v.8h-.8zM31.3 176.5h.8v.8h-.8zM33.5 191.6h.8v.8h-.8zM22.7 175.3h.8v.8h-.8zM34.1 192.2h.8v.8h-.8zM21.0 202.6h.8v.8h-.8zM37.7 202.2h.8v.8h-.8zM24.9 186.4h.8v.8h-.8zM31.0 184.8h.8v.8h-.8zM19.3 178.8h.8v.8h-.8zM30.5 194.1h.8v.8h-.8zM35.8 195.4h.8v.8h-.8zM25.8 193.9h.8v.8h-.8zM21.2 176.3h.8v.8h-.8zM26.6 198.0h.8v.8h-.8zM20.6 193.1h.8v.8h-.8zM23.0 192.0h.8v.8h-.8zM29.7 197.6h.8v.8h-.8zM23.4 195.7h.8v.8h-.8zM28.1 198.6h.8v.8h-.8zM31.2 199.7h.8v.8h-.8zM29.1 201.5h.8v.8h-.8zM22.2 172.3h.8v.8h-.8zM32.0 184.6h.8v.8h-.8zM31.3 189.2h.8v.8h-.8zM29.8 182.1h.8v.8h-.8zM40.5 197.3h.8v.8h-.8zM24.8 187.3h.8v.8h-.8zM21.8 193.7h.8v.8h-.8zM25.7 189.2h.8v.8h-.8zM32.0 197.6h.8v.8h-.8zM109.6 168.4h.8v.8h-.8zM124.1 169.3h.8v.8h-.8zM113.9 175.6h.8v.8h-.8zM123.5 169.2h.8v.8h-.8zM122.4 181.0h.8v.8h-.8zM129.3 171.8h.8v.8h-.8zM112.5 177.6h.8v.8h-.8zM107.7 174.2h.8v.8h-.8zM106.4 169.8h.8v.8h-.8zM113.2 174.9h.8v.8h-.8zM118.0 176.0h.8v.8h-.8zM110.0 171.8h.8v.8h-.8zM114.8 174.6h.8v.8h-.8zM121.9 174.0h.8v.8h-.8zM117.9 172.5h.8v.8h-.8zM119.1 174.4h.8v.8h-.8zM107.4 167.1h.8v.8h-.8zM133.4 177.6h.8v.8h-.8zM118.5 169.5h.8v.8h-.8zM118.5 167.9h.8v.8h-.8zM114.9 178.6h.8v.8h-.8zM113.8 169.3h.8v.8h-.8zM115.7 170.7h.8v.8h-.8zM122.2 176.0h.8v.8h-.8zM118.8 179.5h.8v.8h-.8zM109.7 167.5h.8v.8h-.8zM121.9 174.5h.8v.8h-.8zM110.7 176.8h.8v.8h-.8zM114.8 174.1h.8v.8h-.8zM117.0 182.0h.8v.8h-.8zM122.9 176.7h.8v.8h-.8zM127.1 175.8h.8v.8h-.8zM130.0 172.2h.8v.8h-.8zM107.4 168.1h.8v.8h-.8zM118.4 172.6h.8v.8h-.8zM119.7 169.4h.8v.8h-.8zM104.3 169.8h.8v.8h-.8zM121.6 170.4h.8v.8h-.8zM110.9 172.0h.8v.8h-.8zM119.3 171.4h.8v.8h-.8zM115.9 182.2h.8v.8h-.8zM109.5 178.3h.8v.8h-.8zM114.5 170.9h.8v.8h-.8zM114.9 176.5h.8v.8h-.8zM118.6 173.0h.8v.8h-.8zM116.7 168.2h.8v.8h-.8zM111.8 171.7h.8v.8h-.8zM113.0 178.0h.8v.8h-.8zM121.9 172.5h.8v.8h-.8zM115.8 173.8h.8v.8h-.8zM121.6 180.4h.8v.8h-.8zM119.6 174.2h.8v.8h-.8zM110.9 172.6h.8v.8h-.8zM103.8 186.6h.8v.8h-.8zM107.4 188.1h.8v.8h-.8zM111.6 174.5h.8v.8h-.8zM105.0 190.5h.8v.8h-.8zM105.2 185.1h.8v.8h-.8zM115.5 181.5h.8v.8h-.8zM115.4 187.3h.8v.8h-.8zM100.1 184.3h.8v.8h-.8zM110.7 197.4h.8v.8h-.8zM116.4 199.9h.8v.8h-.8zM110.2 187.5h.8v.8h-.8zM112.2 179.5h.8v.8h-.8zM114.5 191.0h.8v.8h-.8zM110.7 185.0h.8v.8h-.8zM113.4 189.5h.8v.8h-.8zM116.4 192.6h.8v.8h-.8zM105.2 198.7h.8v.8h-.8zM100.9 176.4h.8v.8h-.8zM109.4 178.8h.8v.8h-.8zM108.6 200.1h.8v.8h-.8zM105.4 177.6h.8v.8h-.8zM107.1 191.7h.8v.8h-.8zM100.3 181.2h.8v.8h-.8zM111.2 179.5h.8v.8h-.8zM108.2 178.4h.8v.8h-.8zM110.2 194.5h.8v.8h-.8zM102.4 191.1h.8v.8h-.8zM117.3 180.9h.8v.8h-.8zM107.9 195.8h.8v.8h-.8zM105.0 179.7h.8v.8h-.8zM118.9 187.7h.8v.8h-.8zM106.6 192.7h.8v.8h-.8zM105.9 174.4h.8v.8h-.8zM116.5 186.5h.8v.8h-.8zM121.5 199.5h.8v.8h-.8zM115.5 182.7h.8v.8h-.8zM111.0 172.0h.8v.8h-.8zM112.6 180.8h.8v.8h-.8zM106.7 177.0h.8v.8h-.8zM107.7 189.0h.8v.8h-.8zM118.9 180.2h.8v.8h-.8zM109.5 151.4h.8v.8h-.8zM113.5 159.3h.8v.8h-.8zM117.5 160.1h.8v.8h-.8zM122.8 166.0h.8v.8h-.8zM112.1 168.3h.8v.8h-.8zM134.7 183.9h.8v.8h-.8zM115.3 164.2h.8v.8h-.8zM109.4 157.8h.8v.8h-.8zM136.9 179.7h.8v.8h-.8zM122.0 186.1h.8v.8h-.8zM101.7 175.7h.8v.8h-.8zM115.3 149.3h.8v.8h-.8zM104.2 145.3h.8v.8h-.8zM116.0 192.1h.8v.8h-.8zM120.4 175.4h.8v.8h-.8zM113.6 173.3h.8v.8h-.8zM125.9 159.3h.8v.8h-.8zM127.9 166.1h.8v.8h-.8zM133.2 177.7h.8v.8h-.8zM123.7 160.1h.8v.8h-.8zM102.8 158.6h.8v.8h-.8zM136.0 165.8h.8v.8h-.8zM122.1 180.8h.8v.8h-.8zM114.0 187.5h.8v.8h-.8zM121.3 175.1h.8v.8h-.8zM116.9 166.0h.8v.8h-.8zM124.7 153.0h.8v.8h-.8zM117.3 145.5h.8v.8h-.8zM117.2 173.6h.8v.8h-.8zM110.3 154.2h.8v.8h-.8zM113.6 157.0h.8v.8h-.8zM111.4 186.1h.8v.8h-.8zM126.0 173.7h.8v.8h-.8zM116.0 173.4h.8v.8h-.8zM114.7 175.3h.8v.8h-.8zM111.7 193.4h.8v.8h-.8zM119.2 186.8h.8v.8h-.8zM106.6 176.4h.8v.8h-.8zM121.2 183.4h.8v.8h-.8zM112.8 179.0h.8v.8h-.8zM110.7 167.8h.8v.8h-.8zM118.9 168.6h.8v.8h-.8zM119.3 199.8h.8v.8h-.8zM104.6 175.3h.8v.8h-.8zM110.4 146.1h.8v.8h-.8zM108.2 146.7h.8v.8h-.8zM111.5 153.6h.8v.8h-.8zM115.6 160.7h.8v.8h-.8zM119.8 176.5h.8v.8h-.8zM133.3 179.4h.8v.8h-.8zM117.1 170.0h.8v.8h-.8zM119.5 177.5h.8v.8h-.8zM121.6 164.7h.8v.8h-.8zM117.3 152.6h.8v.8h-.8zM188.8 171.9h.8v.8h-.8zM202.9 169.8h.8v.8h-.8zM189.6 170.1h.8v.8h-.8zM205.3 172.6h.8v.8h-.8zM213.0 179.4h.8v.8h-.8zM192.0 168.6h.8v.8h-.8zM203.1 170.2h.8v.8h-.8zM193.0 177.6h.8v.8h-.8zM202.2 170.0h.8v.8h-.8zM184.3 173.0h.8v.8h-.8zM196.0 170.5h.8v.8h-.8zM202.3 175.1h.8v.8h-.8zM194.5 170.3h.8v.8h-.8zM182.4 171.5h.8v.8h-.8zM193.4 172.1h.8v.8h-.8zM198.8 175.0h.8v.8h-.8zM201.8 173.5h.8v.8h-.8zM195.6 169.8h.8v.8h-.8zM188.5 168.6h.8v.8h-.8zM189.1 168.0h.8v.8h-.8zM189.5 172.6h.8v.8h-.8zM200.4 177.2h.8v.8h-.8zM202.0 178.7h.8v.8h-.8zM186.3 175.1h.8v.8h-.8zM219.4 175.6h.8v.8h-.8zM201.6 167.7h.8v.8h-.8zM197.6 173.6h.8v.8h-.8zM195.7 170.7h.8v.8h-.8zM190.6 169.2h.8v.8h-.8zM196.5 176.2h.8v.8h-.8zM196.8 176.3h.8v.8h-.8zM200.4 170.5h.8v.8h-.8zM195.4 171.1h.8v.8h-.8zM193.3 169.2h.8v.8h-.8zM200.9 175.2h.8v.8h-.8zM196.6 172.6h.8v.8h-.8zM196.9 173.6h.8v.8h-.8zM191.5 178.7h.8v.8h-.8zM199.2 176.3h.8v.8h-.8zM199.1 170.3h.8v.8h-.8zM192.6 167.3h.8v.8h-.8zM183.8 164.9h.8v.8h-.8zM197.7 170.8h.8v.8h-.8zM208.2 170.5h.8v.8h-.8zM195.6 170.5h.8v.8h-.8zM197.7 175.2h.8v.8h-.8zM211.6 172.1h.8v.8h-.8zM205.4 171.6h.8v.8h-.8zM197.1 174.8h.8v.8h-.8zM192.1 185.2h.8v.8h-.8zM190.6 188.1h.8v.8h-.8zM193.4 191.4h.8v.8h-.8zM181.3 172.6h.8v.8h-.8zM194.8 180.3h.8v.8h-.8zM189.3 177.4h.8v.8h-.8zM197.9 186.8h.8v.8h-.8zM190.8 181.9h.8v.8h-.8zM193.4 186.3h.8v.8h-.8zM189.6 195.1h.8v.8h-.8zM190.7 172.9h.8v.8h-.8zM185.1 197.8h.8v.8h-.8zM191.7 184.3h.8v.8h-.8zM182.6 192.8h.8v.8h-.8zM184.2 194.9h.8v.8h-.8zM193.7 191.0h.8v.8h-.8zM192.9 179.7h.8v.8h-.8zM186.9 199.2h.8v.8h-.8zM185.6 177.1h.8v.8h-.8zM198.7 202.9h.8v.8h-.8zM183.0 195.5h.8v.8h-.8zM191.4 178.6h.8v.8h-.8zM200.0 188.2h.8v.8h-.8zM191.3 182.4h.8v.8h-.8zM189.2 186.4h.8v.8h-.8zM195.2 194.6h.8v.8h-.8zM193.6 192.7h.8v.8h-.8zM190.2 190.9h.8v.8h-.8zM190.8 191.8h.8v.8h-.8zM192.8 185.0h.8v.8h-.8zM188.2 188.4h.8v.8h-.8zM184.1 188.8h.8v.8h-.8zM184.3 187.1h.8v.8h-.8zM195.5 194.2h.8v.8h-.8zM200.8 194.9h.8v.8h-.8zM197.5 182.5h.8v.8h-.8zM190.8 189.8h.8v.8h-.8zM186.2 181.0h.8v.8h-.8zM195.9 191.9h.8v.8h-.8zM188.5 184.9h.8v.8h-.8zM197.0 190.0h.8v.8h-.8zM187.2 191.7h.8v.8h-.8zM196.5 185.8h.8v.8h-.8zM192.2 186.4h.8v.8h-.8zM196.6 186.2h.8v.8h-.8zM195.8 178.2h.8v.8h-.8zM191.9 191.5h.8v.8h-.8zM187.2 189.3h.8v.8h-.8zM198.4 184.7h.8v.8h-.8zM197.4 186.3h.8v.8h-.8zM184.6 182.1h.8v.8h-.8zM195.2 196.5h.8v.8h-.8zM194.8 195.4h.8v.8h-.8zM187.8 185.9h.8v.8h-.8zM187.9 187.7h.8v.8h-.8zM196.1 172.4h.8v.8h-.8zM200.7 176.0h.8v.8h-.8zM196.7 162.7h.8v.8h-.8zM198.2 182.5h.8v.8h-.8zM191.1 178.5h.8v.8h-.8zM186.6 166.2h.8v.8h-.8zM206.0 140.2h.8v.8h-.8zM199.3 179.1h.8v.8h-.8zM211.2 183.6h.8v.8h-.8zM204.9 140.2h.8v.8h-.8zM196.7 172.3h.8v.8h-.8zM200.0 163.6h.8v.8h-.8zM187.9 163.1h.8v.8h-.8zM194.7 184.2h.8v.8h-.8zM190.0 191.9h.8v.8h-.8zM202.7 203.0h.8v.8h-.8zM191.8 203.3h.8v.8h-.8zM211.0 172.8h.8v.8h-.8zM200.3 180.5h.8v.8h-.8zM199.2 160.1h.8v.8h-.8zM182.9 176.4h.8v.8h-.8zM196.9 170.4h.8v.8h-.8zM189.2 179.6h.8v.8h-.8zM201.0 166.4h.8v.8h-.8zM201.0 158.7h.8v.8h-.8zM210.0 164.1h.8v.8h-.8zM182.7 174.2h.8v.8h-.8zM197.7 168.2h.8v.8h-.8zM195.4 154.2h.8v.8h-.8zM200.9 163.1h.8v.8h-.8zM185.9 194.2h.8v.8h-.8zM190.4 142.1h.8v.8h-.8zM197.0 188.3h.8v.8h-.8zM181.9 172.2h.8v.8h-.8zM200.8 152.7h.8v.8h-.8zM190.5 183.7h.8v.8h-.8zM205.7 155.2h.8v.8h-.8zM187.7 183.0h.8v.8h-.8zM202.4 198.4h.8v.8h-.8zM198.8 185.4h.8v.8h-.8zM201.2 160.5h.8v.8h-.8zM206.3 184.1h.8v.8h-.8zM193.0 157.8h.8v.8h-.8z"/>
<path fill="rgb(176,176,176)" d="M38.8 62.7h.8v.8h-.8zM34.3 60.0h.8v.8h-.8zM34.0 53.2h.8v.8h-.8zM34.3 62.0h.8v.8h-.8zM25.9 62.8h.8v.8h-.8zM35.6 62.1h.8v.8h-.8zM36.7 63.9h.8v.8h-.8zM37.7 60.8h.8v.8h-.8zM27.8 60.4h.8v.8h-.8zM32.1 52.0h.8v.8h-.8zM36.8 51.5h.8v.8h-.8zM37.5 53.9h.8v.8h-.8zM45.2 65.0h.8v.8h-.8zM33.2 59.4h.8v.8h-.8zM35.9 57.5h.8v.8h-.8zM41.1 54.9h.8v.8h-.8zM41.0 59.4h.8v.8h-.8zM38.2 57.2h.8v.8h-.8zM33.5 58.5h.8v.8h-.8zM35.8 58.8h.8v.8h-.8zM29.1 66.6h.8v.8h-.8zM40.9 55.8h.8v.8h-.8zM35.0 53.0h.8v.8h-.8zM35.5 59.9h.8v.8h-.8zM46.1 60.3h.8v.8h-.8zM34.4 57.0h.8v.8h-.8zM36.9 65.3h.8v.8h-.8zM29.0 70.6h.8v.8h-.8zM37.4 70.9h.8v.8h-.8zM42.2 74.0h.8v.8h-.8zM35.4 70.0h.8v.8h-.8zM25.9 82.1h.8v.8h-.8zM35.4 69.8h.8v.8h-.8zM36.6 75.3h.8v.8h-.8zM27.8 71.6h.8v.8h-.8zM29.4 68.6h.8v.8h-.8zM43.9 74.2h.8v.8h-.8zM35.6 70.2h.8v.8h-.8zM36.3 70.6h.8v.8h-.8zM31.2 72.8h.8v.8h-.8zM43.7 73.8h.8v.8h-.8zM27.1 74.8h.8v.8h-.8zM32.8 67.3h.8v.8h-.8zM37.8 77.4h.8v.8h-.8zM34.1 72.5h.8v.8h-.8zM34.8 71.3h.8v.8h-.8zM46.7 70.9h.8v.8h-.8zM33.3 73.8h.8v.8h-.8zM42.8 74.5h.8v.8h-.8zM34.6 76.1h.8v.8h-.8zM36.4 73.5h.8v.8h-.8zM35.6 68.8h.8v.8h-.8zM36.5 78.0h.8v.8h-.8zM42.1 75.6h.8v.8h-.8zM33.3 72.5h.8v.8h-.8zM34.5 74.8h.8v.8h-.8zM25.8 97.1h.8v.8h-.8zM25.5 93.7h.8v.8h-.8zM30.8 96.3h.8v.8h-.8zM21.5 101.4h.8v.8h-.8zM17.4 93.9h.8v.8h-.8zM25.7 71.7h.8v.8h-.8zM31.5 95.0h.8v.8h-.8zM22.3 86.9h.8v.8h-.8zM22.2 91.2h.8v.8h-.8zM19.9 86.4h.8v.8h-.8zM16.8 95.4h.8v.8h-.8zM35.3 95.2h.8v.8h-.8zM25.8 85.8h.8v.8h-.8zM26.2 97.8h.8v.8h-.8zM20.9 89.5h.8v.8h-.8zM21.2 96.6h.8v.8h-.8zM19.0 91.6h.8v.8h-.8zM33.0 78.4h.8v.8h-.8zM20.6 85.1h.8v.8h-.8zM24.6 99.2h.8v.8h-.8zM30.1 98.1h.8v.8h-.8zM16.5 96.3h.8v.8h-.8zM25.6 101.1h.8v.8h-.8zM25.5 94.5h.8v.8h-.8zM20.4 94.4h.8v.8h-.8zM32.5 91.7h.8v.8h-.8zM22.2 90.7h.8v.8h-.8zM22.3 102.7h.8v.8h-.8zM24.8 84.7h.8v.8h-.8zM26.5 100.8h.8v.8h-.8zM26.8 84.7h.8v.8h-.8zM24.1 86.4h.8v.8h-.8zM21.1 97.4h.8v.8h-.8zM24.7 94.1h.8v.8h-.8zM23.8 101.7h.8v.8h-.8zM28.3 92.5h.8v.8h-.8zM27.4 104.3h.8v.8h-.8zM27.9 91.0h.8v.8h-.8zM53.8 64.1h.8v.8h-.8zM26.2 59.7h.8v.8h-.8zM29.1 38.4h.8v.8h-.8zM22.7 68.2h.8v.8h-.8zM53.8 70.6h.8v.8h-.8zM38.5 76.8h.8v.8h-.8zM21.9 76.3h.8v.8h-.8zM31.1 73.3h.8v.8h-.8zM25.5 50.6h.8v.8h-.8zM29.2 65.5h.8v.8h-.8zM27.5 78.8h.8v.8h-.8zM31.5 85.7h.8v.8h-.8zM21.9 53.9h.8v.8h-.8zM23.8 56.6h.8v.8h-.8zM23.7 69.5h.8v.8h-.8zM38.0 54.3h.8v.8h-.8zM37.3 54.7h.8v.8h-.8zM39.0 46.9h.8v.8h-.8zM26.5 63.4h.8v.8h-.8zM22.0 72.4h.8v.8h-.8zM36.5 67.0h.8v.8h-.8zM108.2 91.8h.8v.8h-.8zM109.7 95.6h.8v.8h-.8zM107.8 89.9h.8v.8h-.8zM115.2 94.3h.8v.8h-.8zM109.3 89.7h.8v.8h-.8zM114.3 84.7h.8v.8h-.8zM111.7 84.7h.8v.8h-.8zM111.5 92.9h.8v.8h-.8zM114.3 83.6h.8v.8h-.8zM107.6 97.6h.8v.8h-.8zM110.7 94.6h.8v.8h-.8zM121.4 93.0h.8v.8h-.8zM100.5 97.9h.8v.8h-.8zM106.3 87.5h.8v.8h-.8zM109.6 90.9h.8v.8h-.8zM107.5 99.7h.8v.8h-.8zM103.5 100.8h.8v.8h-.8zM107.5 90.6h.8v.8h-.8zM104.1 90.4h.8v.8h-.8zM114.2 96.5h.8v.8h-.8zM112.5 92.7h.8v.8h-.8zM113.3 89.8h.8v.8h-.8zM112.5 96.4h.8v.8h-.8zM104.7 95.2h.8v.8h-.8zM110.1 91.9h.8v.8h-.8zM108.5 86.8h.8v.8h-.8zM117.5 92.8h.8v.8h-.8zM107.8 92.2h.8v.8h-.8zM104.7 95.7h.8v.8h-.8zM115.1 88.5h.8v.8h-.8zM112.9 88.8h.8v.8h-.8zM117.4 51.1h.8v.8h-.8zM115.4 77.8h.8v.8h-.8zM110.3 39.2h.8v.8h-.8zM122.1 79.9h.8v.8h-.8zM119.5 86.9h.8v.8h-.8zM117.9 77.5h.8v.8h-.8zM115.0 64.7h.8v.8h-.8zM115.3 76.8h.8v.8h-.8zM120.7 47.9h.8v.8h-.8zM117.5 58.7h.8v.8h-.8zM115.3 63.6h.8v.8h-.8zM119.0 44.4h.8v.8h-.8zM105.6 66.4h.8v.8h-.8zM109.2 71.9h.8v.8h-.8zM114.3 65.2h.8v.8h-.8zM127.9 81.9h.8v.8h-.8zM110.3 91.2h.8v.8h-.8zM121.9 55.2h.8v.8h-.8zM111.1 48.5h.8v.8h-.8zM133.1 97.4h.8v.8h-.8zM121.1 69.2h.8v.8h-.8zM118.5 54.5h.8v.8h-.8zM108.5 43.8h.8v.8h-.8zM117.8 64.5h.8v.8h-.8zM124.3 53.9h.8v.8h-.8zM113.4 60.8h.8v.8h-.8zM117.6 78.6h.8v.8h-.8zM129.7 87.2h.8v.8h-.8zM112.6 88.2h.8v.8h-.8zM114.9 77.8h.8v.8h-.8zM115.3 51.1h.8v.8h-.8zM127.5 63.5h.8v.8h-.8zM100.7 59.0h.8v.8h-.8zM121.1 81.9h.8v.8h-.8zM118.6 53.7h.8v.8h-.8zM108.7 70.1h.8v.8h-.8zM120.6 77.9h.8v.8h-.8zM107.0 68.8h.8v.8h-.8zM126.5 80.2h.8v.8h-.8zM119.2 76.9h.8v.8h-.8zM102.3 53.0h.8v.8h-.8zM110.4 56.4h.8v.8h-.8zM110.4 84.8h.8v.8h-.8zM106.6 95.0h.8v.8h-.8zM120.9 92.8h.8v.8h-.8zM107.9 45.3h.8v.8h-.8zM113.2 70.6h.8v.8h-.8zM131.0 68.2h.8v.8h-.8zM116.2 69.1h.8v.8h-.8zM117.4 73.4h.8v.8h-.8zM112.2 65.6h.8v.8h-.8zM115.5 65.7h.8v.8h-.8zM103.1 73.3h.8v.8h-.8zM119.2 63.5h.8v.8h-.8zM124.2 56.1h.8v.8h-.8zM108.8 82.6h.8v.8h-.8zM120.0 49.7h.8v.8h-.8zM107.5 73.5h.8v.8h-.8zM113.8 62.8h.8v.8h-.8zM122.5 68.6h.8v.8h-.8zM122.1 75.1h.8v.8h-.8zM119.9 77.6h.8v.8h-.8zM111.7 49.0h.8v.8h-.8zM123.2 100.9h.8v.8h-.8zM117.7 86.6h.8v.8h-.8zM115.1 63.7h.8v.8h-.8zM117.1 51.4h.8v.8h-.8zM110.9 64.6h.8v.8h-.8zM114.3 65.6h.8v.8h-.8zM116.4 78.1h.8v.8h-.8zM120.8 70.3h.8v.8h-.8zM107.5 67.1h.8v.8h-.8zM111.3 68.3h.8v.8h-.8zM114.3 52.8h.8v.8h-.8zM120.4 75.8h.8v.8h-.8zM114.6 58.7h.8v.8h-.8zM121.6 103.7h.8v.8h-.8zM116.9 74.1h.8v.8h-.8zM109.1 47.5h.8v.8h-.8zM122.2 73.6h.8v.8h-.8zM128.9 72.0h.8v.8h-.8zM128.9 86.1h.8v.8h-.8zM125.9 93.4h.8v.8h-.8zM112.0 53.6h.8v.8h-.8zM113.2 71.5h.8v.8h-.8zM108.6 84.4h.8v.8h-.8zM128.1 72.5h.8v.8h-.8zM114.6 44.4h.8v.8h-.8zM119.3 51.9h.8v.8h-.8zM119.0 54.7h.8v.8h-.8zM113.0 50.4h.8v.8h-.8zM121.1 50.2h.8v.8h-.8zM120.5 57.7h.8v.8h-.8zM118.8 45.0h.8v.8h-.8zM115.1 55.1h.8v.8h-.8zM119.4 47.7h.8v.8h-.8zM107.9 47.8h.8v.8h-.8zM119.8 48.9h.8v.8h-.8zM117.3 53.6h.8v.8h-.8zM115.1 45.4h.8v.8h-.8zM115.2 51.5h.8v.8h-.8zM121.7 50.1h.8v.8h-.8zM127.3 53.2h.8v.8h-.8zM124.1 53.7h.8v.8h-.8zM196.7 51.6h.8v.8h-.8zM195.8 54.6h.8v.8h-.8zM190.6 66.1h.8v.8h-.8zM201.6 58.0h.8v.8h-.8zM199.8 63.7h.8v.8h-.8zM198.0 59.1h.8v.8h-.8zM194.2 56.4h.8v.8h-.8zM201.4 57.6h.8v.8h-.8zM199.6 61.8h.8v.8h-.8zM192.8 70.8h.8v.8h-.8zM207.0 54.9h.8v.8h-.8zM203.4 56.2h.8v.8h-.8zM207.4 59.4h.8v.8h-.8zM186.2 63.7h.8v.8h-.8zM199.9 59.9h.8v.8h-.8zM194.3 60.4h.8v.8h-.8zM195.6 58.6h.8v.8h-.8zM188.3 61.5h.8v.8h-.8zM197.4 60.4h.8v.8h-.8zM202.6 52.1h.8v.8h-.8zM187.8 60.7h.8v.8h-.8zM201.4 62.6h.8v.8h-.8zM196.7 61.8h.8v.8h-.8zM198.0 50.9h.8v.8h-.8zM196.0 59.5h.8v.8h-.8zM205.3 62.5h.8v.8h-.8zM189.7 63.2h.8v.8h-.8zM194.5 64.9h.8v.8h-.8zM201.9 61.0h.8v.8h-.8zM200.4 56.0h.8v.8h-.8zM209.4 77.4h.8v.8h-.8zM205.9 76.1h.8v.8h-.8zM187.1 80.6h.8v.8h-.8zM199.1 69.1h.8v.8h-.8zM192.3 73.7h.8v.8h-.8zM191.3 71.8h.8v.8h-.8zM201.4 73.9h.8v.8h-.8zM190.9 75.8h.8v.8h-.8zM192.2 72.4h.8v.8h-.8zM195.2 70.2h.8v.8h-.8zM179.7 71.3h.8v.8h-.8zM206.1 75.3h.8v.8h-.8zM189.3 75.8h.8v.8h-.8zM193.4 75.0h.8v.8h-.8zM202.8 75.7h.8v.8h-.8zM202.7 72.1h.8v.8h-.8zM200.3 75.5h.8v.8h-.8zM194.3 72.2h.8v.8h-.8zM202.1 76.2h.8v.8h-.8zM198.2 69.4h.8v.8h-.8zM211.1 74.3h.8v.8h-.8zM195.3 75.3h.8v.8h-.8zM206.1 78.5h.8v.8h-.8zM187.0 69.1h.8v.8h-.8zM186.2 83.5h.8v.8h-.8zM192.4 102.1h.8v.8h-.8zM190.7 88.3h.8v.8h-.8zM184.2 87.4h.8v.8h-.8zM184.2 98.1h.8v.8h-.8zM194.8 96.9h.8v.8h-.8zM188.8 91.9h.8v.8h-.8zM181.4 85.4h.8v.8h-.8zM185.0 93.0h.8v.8h-.8zM195.5 91.9h.8v.8h-.8zM187.2 87.3h.8v.8h-.8zM195.8 76.7h.8v.8h-.8zM188.9 95.0h.8v.8h-.8zM188.4 104.1h.8v.8h-.8zM183.6 82.8h.8v.8h-.8zM186.3 89.5h.8v.8h-.8zM184.8 86.2h.8v.8h-.8zM190.1 92.9h.8v.8h-.8zM189.0 86.0h.8v.8h-.8zM180.0 92.3h.8v.8h-.8zM189.6 80.8h.8v.8h-.8zM180.5 79.5h.8v.8h-.8zM195.8 93.3h.8v.8h-.8zM183.6 97.8h.8v.8h-.8zM185.2 96.2h.8v.8h-.8zM187.6 81.6h.8v.8h-.8zM187.8 91.4h.8v.8h-.8zM195.1 82.9h.8v.8h-.8zM189.4 81.0h.8v.8h-.8zM187.8 89.6h.8v.8h-.8zM202.8 50.3h.8v.8h-.8zM198.0 72.8h.8v.8h-.8zM190.1 61.3h.8v.8h-.8zM191.5 62.5h.8v.8h-.8zM202.3 66.5h.8v.8h-.8zM195.7 94.2h.8v.8h-.8zM192.7 80.6h.8v.8h-.8zM204.9 62.0h.8v.8h-.8zM193.6 73.5h.8v.8h-.8zM201.9 91.0h.8v.8h-.8zM186.6 62.4h.8v.8h-.8zM193.5 59.8h.8v.8h-.8zM194.9 42.6h.8v.8h-.8zM197.5 61.0h.8v.8h-.8zM195.1 65.4h.8v.8h-.8zM40.3 160.2h.8v.8h-.8zM38.3 152.5h.8v.8h-.8zM37.8 155.3h.8v.8h-.8zM37.3 154.3h.8v.8h-.8zM39.6 159.2h.8v.8h-.8zM31.0 159.2h.8v.8h-.8zM20.4 159.2h.8v.8h-.8zM40.1 152.3h.8v.8h-.8zM44.8 163.0h.8v.8h-.8zM38.2 152.4h.8v.8h-.8zM40.2 158.4h.8v.8h-.8zM42.2 158.1h.8v.8h-.8zM30.2 156.6h.8v.8h-.8zM26.9 158.4h.8v.8h-.8zM39.9 159.8h.8v.8h-.8zM38.3 156.8h.8v.8h-.8zM44.7 153.4h.8v.8h-.8zM40.0 159.7h.8v.8h-.8zM37.1 158.7h.8v.8h-.8zM27.1 155.0h.8v.8h-.8zM31.1 156.2h.8v.8h-.8zM40.3 160.8h.8v.8h-.8zM34.6 149.8h.8v.8h-.8zM32.7 161.2h.8v.8h-.8zM44.4 158.7h.8v.8h-.8zM43.0 159.2h.8v.8h-.8zM37.1 161.3h.8v.8h-.8zM40.3 154.6h.8v.8h-.8zM40.6 150.3h.8v.8h-.8zM37.6 164.9h.8v.8h-.8zM51.4 164.9h.8v.8h-.8zM34.4 164.9h.8v.8h-.8zM40.7 178.6h.8v.8h-.8zM33.0 175.1h.8v.8h-.8zM29.5 166.2h.8v.8h-.8zM37.3 173.4h.8v.8h-.8zM31.8 175.8h.8v.8h-.8zM40.2 173.7h.8v.8h-.8zM44.9 171.6h.8v.8h-.8zM48.4 170.8h.8v.8h-.8zM40.9 173.5h.8v.8h-.8zM32.6 177.8h.8v.8h-.8zM42.7 170.4h.8v.8h-.8zM23.1 177.2h.8v.8h-.8zM43.0 170.1h.8v.8h-.8zM34.6 172.9h.8v.8h-.8zM32.7 172.8h.8v.8h-.8zM40.2 172.1h.8v.8h-.8zM28.8 170.2h.8v.8h-.8zM29.8 175.4h.8v.8h-.8zM26.3 164.8h.8v.8h-.8zM35.9 172.0h.8v.8h-.8zM32.2 168.1h.8v.8h-.8zM46.7 176.4h.8v.8h-.8zM41.2 166.1h.8v.8h-.8zM33.4 176.7h.8v.8h-.8zM41.1 177.4h.8v.8h-.8zM29.5 171.1h.8v.8h-.8zM35.4 172.5h.8v.8h-.8zM31.5 166.0h.8v.8h-.8zM33.4 193.6h.8v.8h-.8zM26.9 175.0h.8v.8h-.8zM19.2 187.8h.8v.8h-.8zM18.3 187.1h.8v.8h-.8zM27.3 198.1h.8v.8h-.8zM30.2 185.2h.8v.8h-.8zM27.7 193.9h.8v.8h-.8zM26.4 198.0h.8v.8h-.8zM24.6 196.7h.8v.8h-.8zM22.7 180.1h.8v.8h-.8zM29.5 170.3h.8v.8h-.8zM23.5 193.9h.8v.8h-.8zM24.0 183.5h.8v.8h-.8zM22.9 198.0h.8v.8h-.8zM21.5 184.6h.8v.8h-.8zM22.6 199.8h.8v.8h-.8zM26.5 186.3h.8v.8h-.8zM33.7 188.5h.8v.8h-.8zM27.9 177.4h.8v.8h-.8zM27.4 187.1h.8v.8h-.8zM27.5 181.9h.8v.8h-.8zM21.1 193.4h.8v.8h-.8zM28.4 199.8h.8v.8h-.8zM22.1 198.6h.8v.8h-.8zM39.5 170.1h.8v.8h-.8zM48.6 201.7h.8v.8h-.8zM44.1 175.3h.8v.8h-.8zM41.5 160.6h.8v.8h-.8zM48.0 167.9h.8v.8h-.8zM34.8 168.8h.8v.8h-.8zM31.9 165.3h.8v.8h-.8zM25.0 145.1h.8v.8h-.8zM35.4 177.4h.8v.8h-.8zM25.7 166.4h.8v.8h-.8zM22.8 183.3h.8v.8h-.8zM31.5 150.0h.8v.8h-.8zM119.2 166.2h.8v.8h-.8zM127.2 172.5h.8v.8h-.8zM117.7 176.6h.8v.8h-.8zM115.0 172.9h.8v.8h-.8zM116.3 174.0h.8v.8h-.8zM113.5 168.4h.8v.8h-.8zM105.7 172.2h.8v.8h-.8zM119.4 173.1h.8v.8h-.8zM119.6 168.1h.8v.8h-.8zM118.9 179.5h.8v.8h-.8zM115.2 171.4h.8v.8h-.8zM104.5 173.8h.8v.8h-.8zM127.2 177.7h.8v.8h-.8zM114.6 177.7h.8v.8h-.8zM109.1 179.3h.8v.8h-.8zM116.7 174.1h.8v.8h-.8zM115.9 171.7h.8v.8h-.8zM118.3 173.2h.8v.8h-.8zM106.7 168.7h.8v.8h-.8zM124.3 178.3h.8v.8h-.8zM126.9 178.3h.8v.8h-.8zM124.3 170.5h.8v.8h-.8zM109.0 170.5h.8v.8h-.8zM125.9 174.1h.8v.8h-.8zM109.8 173.2h.8v.8h-.8zM124.3 172.7h.8v.8h-.8zM103.8 175.2h.8v.8h-.8zM103.7 172.0h.8v.8h-.8zM125.6 178.1h.8v.8h-.8zM103.6 174.1h.8v.8h-.8zM130.9 175.2h.8v.8h-.8zM108.9 176.2h.8v.8h-.8zM118.9 172.2h.8v.8h-.8zM116.5 186.6h.8v.8h-.8zM112.2 176.5h.8v.8h-.8zM120.8 175.5h.8v.8h-.8zM113.2 175.0h.8v.8h-.8zM107.8 179.9h.8v.8h-.8zM122.8 175.5h.8v.8h-.8zM122.9 173.6h.8v.8h-.8zM117.0 175.2h.8v.8h-.8zM112.9 176.5h.8v.8h-.8zM117.7 170.5h.8v.8h-.8zM114.8 178.8h.8v.8h-.8zM123.4 172.7h.8v.8h-.8zM120.6 166.6h.8v.8h-.8zM111.3 165.0h.8v.8h-.8zM116.4 178.0h.8v.8h-.8zM112.8 174.4h.8v.8h-.8zM111.4 174.3h.8v.8h-.8zM111.4 179.6h.8v.8h-.8zM118.9 173.6h.8v.8h-.8zM108.9 171.1h.8v.8h-.8zM124.0 177.4h.8v.8h-.8zM126.3 170.5h.8v.8h-.8zM107.6 171.5h.8v.8h-.8zM112.1 186.9h.8v.8h-.8zM113.2 186.7h.8v.8h-.8zM106.4 195.7h.8v.8h-.8zM108.0 196.3h.8v.8h-.8zM107.7 189.2h.8v.8h-.8zM114.3 197.7h.8v.8h-.8zM112.8 179.9h.8v.8h-.8zM108.1 186.5h.8v.8h-.8zM112.5 171.2h.8v.8h-.8zM115.2 185.8h.8v.8h-.8zM121.2 190.8h.8v.8h-.8zM112.5 189.7h.8v.8h-.8zM108.8 190.1h.8v.8h-.8zM114.5 200.3h.8v.8h-.8zM119.1 192.7h.8v.8h-.8zM112.9 199.8h.8v.8h-.8zM103.1 179.3h.8v.8h-.8zM99.5 197.3h.8v.8h-.8zM116.3 184.1h.8v.8h-.8zM108.8 185.6h.8v.8h-.8zM107.4 203.0h.8v.8h-.8zM109.3 184.6h.8v.8h-.8zM120.2 189.0h.8v.8h-.8zM107.4 181.6h.8v.8h-.8zM111.5 181.3h.8v.8h-.8zM117.5 174.2h.8v.8h-.8zM106.9 188.9h.8v.8h-.8zM112.2 180.1h.8v.8h-.8zM117.9 191.9h.8v.8h-.8zM118.4 172.8h.8v.8h-.8zM105.1 189.2h.8v.8h-.8zM114.1 201.6h.8v.8h-.8zM119.8 176.2h.8v.8h-.8zM105.4 190.1h.8v.8h-.8zM120.2 184.4h.8v.8h-.8zM111.7 193.1h.8v.8h-.8zM117.8 200.3h.8v.8h-.8zM102.4 190.7h.8v.8h-.8zM121.1 188.3h.8v.8h-.8zM111.7 192.1h.8v.8h-.8zM118.0 168.0h.8v.8h-.8zM112.5 157.3h.8v.8h-.8zM126.7 181.4h.8v.8h-.8zM118.1 191.6h.8v.8h-.8zM135.7 175.2h.8v.8h-.8zM110.6 164.9h.8v.8h-.8zM117.3 171.0h.8v.8h-.8zM121.0 152.9h.8v.8h-.8zM116.7 139.9h.8v.8h-.8zM126.5 172.4h.8v.8h-.8zM127.9 168.4h.8v.8h-.8zM127.2 188.2h.8v.8h-.8zM115.9 148.5h.8v.8h-.8zM114.3 178.1h.8v.8h-.8zM113.3 177.4h.8v.8h-.8zM110.5 161.2h.8v.8h-.8zM119.2 168.3h.8v.8h-.8zM114.6 172.4h.8v.8h-.8zM104.2 185.0h.8v.8h-.8zM114.8 183.6h.8v.8h-.8zM116.0 166.1h.8v.8h-.8zM113.3 190.8h.8v.8h-.8zM105.2 177.3h.8v.8h-.8zM129.7 171.4h.8v.8h-.8zM127.2 155.3h.8v.8h-.8zM116.5 184.3h.8v.8h-.8zM114.5 167.8h.8v.8h-.8zM132.5 165.7h.8v.8h-.8zM120.6 155.6h.8v.8h-.8zM112.3 192.8h.8v.8h-.8zM107.4 181.5h.8v.8h-.8zM106.0 177.8h.8v.8h-.8zM118.5 174.7h.8v.8h-.8zM109.2 158.2h.8v.8h-.8zM109.9 185.2h.8v.8h-.8zM121.3 188.3h.8v.8h-.8zM126.6 196.6h.8v.8h-.8zM113.4 183.6h.8v.8h-.8zM128.2 180.6h.8v.8h-.8zM124.6 200.1h.8v.8h-.8zM129.6 177.1h.8v.8h-.8zM103.1 160.5h.8v.8h-.8zM119.4 177.4h.8v.8h-.8zM126.8 168.2h.8v.8h-.8zM110.0 182.4h.8v.8h-.8zM123.6 162.3h.8v.8h-.8zM115.0 173.3h.8v.8h-.8zM128.0 158.9h.8v.8h-.8zM199.4 173.8h.8v.8h-.8zM201.5 168.1h.8v.8h-.8zM199.2 171.7h.8v.8h-.8zM202.8 168.4h.8v.8h-.8zM195.0 171.2h.8v.8h-.8zM199.2 169.7h.8v.8h-.8zM205.0 171.6h.8v.8h-.8zM198.8 169.7h.8v.8h-.8zM197.6 171.9h.8v.8h-.8zM193.0 167.3h.8v.8h-.8zM199.2 173.2h.8v.8h-.8zM191.1 176.4h.8v.8h-.8zM188.9 171.8h.8v.8h-.8zM202.2 175.3h.8v.8h-.8zM204.8 169.6h.8v.8h-.8zM209.0 175.7h.8v.8h-.8zM193.7 169.3h.8v.8h-.8zM207.1 173.3h.8v.8h-.8zM205.8 173.7h.8v.8h-.8zM211.0 181.2h.8v.8h-.8zM190.6 171.3h.8v.8h-.8zM190.3 167.2h.8v.8h-.8zM204.4 170.8h.8v.8h-.8zM197.3 165.1h.8v.8h-.8zM203.0 174.5h.8v.8h-.8zM199.8 174.3h.8v.8h-.8zM195.7 172.3h.8v.8h-.8zM201.4 172.2h.8v.8h-.8zM202.1 170.7h.8v.8h-.8zM207.3 169.4h.8v.8h-.8zM202.4 171.6h.8v.8h-.8zM195.1 175.1h.8v.8h-.8zM196.2 174.0h.8v.8h-.8zM205.9 166.2h.8v.8h-.8zM190.5 169.5h.8v.8h-.8zM209.0 174.2h.8v.8h-.8zM195.7 185.5h.8v.8h-.8zM183.1 197.1h.8v.8h-.8zM186.6 187.8h.8v.8h-.8zM190.0 179.1h.8v.8h-.8zM193.0 191.9h.8v.8h-.8zM199.1 189.3h.8v.8h-.8zM198.3 189.5h.8v.8h-.8zM193.6 190.5h.8v.8h-.8zM198.3 196.5h.8v.8h-.8zM190.6 189.9h.8v.8h-.8zM195.2 195.3h.8v.8h-.8zM186.7 174.2h.8v.8h-.8zM189.7 175.9h.8v.8h-.8zM191.7 176.4h.8v.8h-.8zM190.7 194.0h.8v.8h-.8zM185.2 191.8h.8v.8h-.8zM194.1 183.5h.8v.8h-.8zM199.7 185.1h.8v.8h-.8zM197.1 181.5h.8v.8h-.8zM188.9 189.5h.8v.8h-.8zM187.1 190.1h.8v.8h-.8zM191.1 185.7h.8v.8h-.8zM186.2 189.5h.8v.8h-.8zM196.9 188.3h.8v.8h-.8zM193.5 190.7h.8v.8h-.8zM194.3 186.5h.8v.8h-.8zM197.5 189.6h.8v.8h-.8zM197.7 173.3h.8v.8h-.8zM186.1 191.2h.8v.8h-.8zM194.4 175.2h.8v.8h-.8zM191.9 180.9h.8v.8h-.8zM197.1 192.2h.8v.8h-.8zM199.0 182.6h.8v.8h-.8zM183.5 187.6h.8v.8h-.8zM198.1 182.8h.8v.8h-.8zM194.4 177.2h.8v.8h-.8zM192.0 189.0h.8v.8h-.8zM195.5 184.2h.8v.8h-.8zM204.4 155.6h.8v.8h-.8zM203.7 174.8h.8v.8h-.8zM196.7 181.2h.8v.8h-.8zM199.9 163.0h.8v.8h-.8zM207.2 175.9h.8v.8h-.8zM205.3 168.6h.8v.8h-.8zM186.1 167.9h.8v.8h-.8zM190.2 183.4h.8v.8h-.8zM200.0 144.3h.8v.8h-.8zM197.9 187.8h.8v.8h-.8zM211.5 196.4h.8v.8h-.8zM196.0 180.7h.8v.8h-.8zM198.8 174.5h.8v.8h-.8zM188.9 170.2h.8v.8h-.8zM193.0 170.7h.8v.8h-.8zM181.9 184.4h.8v.8h-.8zM190.0 179.5h.8v.8h-.8zM193.4 170.9h.8v.8h-.8zM184.6 176.2h.8v.8h-.8zM202.2 165.5h.8v.8h-.8zM198.5 199.1h.8v.8h-.8zM201.3 161.8h.8v.8h-.8zM196.0 176.8h.8v.8h-.8zM191.3 151.1h.8v.8h-.8zM201.4 175.4h.8v.8h-.8zM196.4 157.2h.8v.8h-.8zM183.4 174.8h.8v.8h-.8zM191.0 167.8h.8v.8h-.8zM187.8 147.1h.8v.8h-.8zM196.0 156.5h.8v.8h-.8zM192.5 180.0h.8v.8h-.8zM193.7 193.1h.8v.8h-.8zM197.0 177.8h.8v.8h-.8zM211.7 165.0h.8v.8h-.8zM196.2 190.0h.8v.8h-.8zM197.3 156.4h.8v.8h-.8zM200.0 180.7h.8v.8h-.8zM214.1 163.4h.8v.8h-.8zM219.2 177.4h.8v.8h-.8zM199.4 179.9h.8v.8h-.8zM206.1 176.4h.8v.8h-.8zM190.6 178.4h.8v.8h-.8zM203.3 200.0h.8v.8h-.8zM196.8 200.0h.8v.8h-.8zM197.1 159.5h.8v.8h-.8zM206.5 186.8h.8v.8h-.8zM186.2 156.1h.8v.8h-.8zM194.1 162.2h.8v.8h-.8zM195.3 157.8h.8v.8h-.8zM187.8 178.3h.8v.8h-.8zM199.7 174.9h.8v.8h-.8z"/>
<path fill="rgb(192,192,192)" d="M37.0 59.9h.8v.8h-.8zM35.4 58.6h.8v.8h-.8zM31.7 64.2h.8v.8h-.8zM37.6 60.7h.8v.8h-.8zM35.9 55.8h.8v.8h-.8zM31.1 59.5h.8v.8h-.8zM43.4 55.5h.8v.8h-.8zM32.2 61.5h.8v.8h-.8zM42.3 63.4h.8v.8h-.8zM36.3 63.0h.8v.8h-.8zM29.6 60.5h.8v.8h-.8zM37.7 58.9h.8v.8h-.8zM41.6 64.4h.8v.8h-.8zM29.8 57.8h.8v.8h-.8zM36.6 65.0h.8v.8h-.8zM34.2 58.7h.8v.8h-.8zM29.9 60.0h.8v.8h-.8zM42.4 54.5h.8v.8h-.8zM43.9 56.8h.8v.8h-.8zM32.2 57.3h.8v.8h-.8zM34.2 65.6h.8v.8h-.8zM36.4 54.2h.8v.8h-.8zM44.5 59.2h.8v.8h-.8zM41.1 57.5h.8v.8h-.8zM35.2 61.8h.8v.8h-.8zM36.3 59.4h.8v.8h-.8zM35.8 55.6h.8v.8h-.8zM34.3 58.0h.8v.8h-.8zM40.9 59.9h.8v.8h-.8zM38.8 74.4h.8v.8h-.8zM38.5 80.1h.8v.8h-.8zM50.2 71.6h.8v.8h-.8zM26.3 74.8h.8v.8h-.8zM35.9 75.8h.8v.8h-.8zM34.0 69.0h.8v.8h-.8zM20.6 70.4h.8v.8h-.8zM31.2 78.3h.8v.8h-.8zM22.2 80.1h.8v.8h-.8zM32.3 76.2h.8v.8h-.8zM36.3 73.2h.8v.8h-.8zM36.3 77.8h.8v.8h-.8zM39.9 75.2h.8v.8h-.8zM26.7 81.5h.8v.8h-.8zM46.2 74.2h.8v.8h-.8zM38.7 66.2h.8v.8h-.8zM35.6 76.8h.8v.8h-.8zM28.5 67.2h.8v.8h-.8zM32.1 69.3h.8v.8h-.8zM47.0 69.4h.8v.8h-.8zM42.4 69.4h.8v.8h-.8zM40.7 78.4h.8v.8h-.8zM37.5 78.3h.8v.8h-.8zM46.6 72.4h.8v.8h-.8zM31.9 68.2h.8v.8h-.8zM31.6 77.2h.8v.8h-.8zM39.5 74.9h.8v.8h-.8zM33.6 67.1h.8v.8h-.8zM28.2 70.9h.8v.8h-.8zM35.5 74.7h.8v.8h-.8zM25.2 86.8h.8v.8h-.8zM26.3 79.9h.8v.8h-.8zM29.3 79.5h.8v.8h-.8zM20.6 81.6h.8v.8h-.8zM24.4 92.9h.8v.8h-.8zM27.2 100.0h.8v.8h-.8zM26.8 91.6h.8v.8h-.8zM35.5 96.7h.8v.8h-.8zM20.8 100.6h.8v.8h-.8zM18.2 95.2h.8v.8h-.8zM29.7 84.0h.8v.8h-.8zM28.6 87.2h.8v.8h-.8zM18.5 95.0h.8v.8h-.8zM21.1 87.2h.8v.8h-.8zM32.9 91.9h.8v.8h-.8zM21.6 91.0h.8v.8h-.8zM24.0 97.5h.8v.8h-.8zM25.8 87.7h.8v.8h-.8zM35.3 99.2h.8v.8h-.8zM25.7 91.6h.8v.8h-.8zM29.0 84.3h.8v.8h-.8zM25.5 90.5h.8v.8h-.8zM27.3 90.4h.8v.8h-.8zM22.4 100.4h.8v.8h-.8zM27.2 86.7h.8v.8h-.8zM19.2 100.3h.8v.8h-.8zM26.3 96.0h.8v.8h-.8zM22.9 88.2h.8v.8h-.8zM24.5 100.2h.8v.8h-.8zM25.2 85.2h.8v.8h-.8zM27.2 99.3h.8v.8h-.8zM27.2 93.8h.8v.8h-.8zM43.3 36.8h.8v.8h-.8zM19.3 75.9h.8v.8h-.8zM24.0 95.4h.8v.8h-.8zM34.1 57.9h.8v.8h-.8zM28.7 77.0h.8v.8h-.8zM29.6 71.7h.8v.8h-.8zM52.1 80.1h.8v.8h-.8zM45.9 89.8h.8v.8h-.8zM29.2 67.4h.8v.8h-.8zM24.8 48.3h.8v.8h-.8zM57.4 42.7h.8v.8h-.8zM27.1 68.6h.8v.8h-.8zM38.5 71.5h.8v.8h-.8zM41.0 58.4h.8v.8h-.8zM31.0 62.6h.8v.8h-.8zM46.7 62.4h.8v.8h-.8zM110.7 100.0h.8v.8h-.8zM113.3 83.9h.8v.8h-.8zM100.7 87.5h.8v.8h-.8zM98.7 94.5h.8v.8h-.8zM111.0 88.5h.8v.8h-.8zM108.3 96.5h.8v.8h-.8zM105.9 91.4h.8v.8h-.8zM119.1 85.9h.8v.8h-.8zM99.9 93.5h.8v.8h-.8zM112.8 90.9h.8v.8h-.8zM108.7 103.1h.8v.8h-.8zM106.0 92.1h.8v.8h-.8zM104.4 82.6h.8v.8h-.8zM106.6 104.4h.8v.8h-.8zM108.1 79.7h.8v.8h-.8zM107.2 100.4h.8v.8h-.8zM110.0 92.2h.8v.8h-.8zM108.6 100.3h.8v.8h-.8zM118.3 76.8h.8v.8h-.8zM101.7 94.4h.8v.8h-.8zM109.0 90.9h.8v.8h-.8zM107.4 85.4h.8v.8h-.8zM103.1 89.8h.8v.8h-.8zM104.4 90.6h.8v.8h-.8zM130.3 70.8h.8v.8h-.8zM111.6 89.5h.8v.8h-.8zM117.5 102.5h.8v.8h-.8zM111.1 96.7h.8v.8h-.8zM125.6 88.4h.8v.8h-.8zM121.3 75.3h.8v.8h-.8zM115.1 66.5h.8v.8h-.8zM123.3 63.7h.8v.8h-.8zM121.3 34.6h.8v.8h-.8zM114.1 46.1h.8v.8h-.8zM113.3 76.9h.8v.8h-.8zM115.2 66.6h.8v.8h-.8zM105.7 87.0h.8v.8h-.8zM111.0 93.2h.8v.8h-.8zM113.9 99.0h.8v.8h-.8zM117.7 62.4h.8v.8h-.8zM122.8 45.7h.8v.8h-.8zM120.0 73.7h.8v.8h-.8zM113.7 80.4h.8v.8h-.8zM121.7 94.5h.8v.8h-.8zM109.8 91.5h.8v.8h-.8zM115.1 95.6h.8v.8h-.8zM122.6 44.7h.8v.8h-.8zM119.5 95.9h.8v.8h-.8zM126.3 63.1h.8v.8h-.8zM126.8 64.2h.8v.8h-.8zM128.3 38.5h.8v.8h-.8zM114.0 71.5h.8v.8h-.8zM112.6 64.7h.8v.8h-.8zM125.9 79.7h.8v.8h-.8zM109.4 64.6h.8v.8h-.8zM120.4 80.4h.8v.8h-.8zM126.6 67.6h.8v.8h-.8zM110.9 37.7h.8v.8h-.8zM114.9 48.8h.8v.8h-.8zM126.7 71.3h.8v.8h-.8zM109.3 57.2h.8v.8h-.8zM101.9 63.8h.8v.8h-.8zM110.0 95.0h.8v.8h-.8zM112.0 45.0h.8v.8h-.8zM107.0 74.0h.8v.8h-.8zM117.8 78.1h.8v.8h-.8zM117.2 82.0h.8v.8h-.8zM112.2 69.4h.8v.8h-.8zM123.0 88.4h.8v.8h-.8zM114.3 65.7h.8v.8h-.8zM127.6 68.1h.8v.8h-.8zM109.3 81.4h.8v.8h-.8zM102.6 59.0h.8v.8h-.8zM120.5 52.2h.8v.8h-.8zM111.6 60.9h.8v.8h-.8zM117.4 54.9h.8v.8h-.8zM110.6 52.8h.8v.8h-.8zM105.0 79.8h.8v.8h-.8zM103.8 100.0h.8v.8h-.8zM117.2 73.7h.8v.8h-.8zM111.9 62.7h.8v.8h-.8zM114.2 65.3h.8v.8h-.8zM113.6 41.0h.8v.8h-.8zM122.9 45.8h.8v.8h-.8zM122.1 68.8h.8v.8h-.8zM133.5 80.8h.8v.8h-.8zM109.3 82.3h.8v.8h-.8zM123.2 70.9h.8v.8h-.8zM118.2 70.2h.8v.8h-.8zM126.0 64.9h.8v.8h-.8zM116.6 54.2h.8v.8h-.8zM127.6 62.2h.8v.8h-.8zM109.5 41.0h.8v.8h-.8zM119.0 69.8h.8v.8h-.8zM115.9 79.0h.8v.8h-.8zM110.9 65.3h.8v.8h-.8zM113.5 91.7h.8v.8h-.8zM115.5 59.3h.8v.8h-.8zM120.6 56.6h.8v.8h-.8zM132.7 51.6h.8v.8h-.8zM118.0 46.8h.8v.8h-.8zM117.8 42.2h.8v.8h-.8zM112.4 52.4h.8v.8h-.8zM111.3 47.0h.8v.8h-.8zM118.5 53.4h.8v.8h-.8zM119.6 53.4h.8v.8h-.8zM113.7 48.5h.8v.8h-.8zM113.7 54.1h.8v.8h-.8zM122.7 44.0h.8v.8h-.8zM115.6 52.6h.8v.8h-.8zM125.9 46.2h.8v.8h-.8zM123.9 44.2h.8v.8h-.8zM129.8 52.9h.8v.8h-.8zM117.3 51.4h.8v.8h-.8zM117.4 53.7h.8v.8h-.8zM113.2 51.0h.8v.8h-.8zM129.1 51.1h.8v.8h-.8zM124.9 46.2h.8v.8h-.8zM114.8 45.5h.8v.8h-.8zM195.7 65.4h.8v.8h-.8zM205.2 66.6h.8v.8h-.8zM194.3 59.8h.8v.8h-.8zM198.0 57.8h.8v.8h-.8zM203.1 59.7h.8v.8h-.8zM189.0 61.0h.8v.8h-.8zM198.9 60.4h.8v.8h-.8zM204.4 62.2h.8v.8h-.8zM200.9 60.0h.8v.8h-.8zM195.8 54.8h.8v.8h-.8zM190.1 63.1h.8v.8h-.8zM201.3 65.3h.8v.8h-.8zM201.5 59.1h.8v.8h-.8zM197.5 62.3h.8v.8h-.8zM195.8 64.9h.8v.8h-.8zM195.4 57.5h.8v.8h-.8zM195.3 52.2h.8v.8h-.8zM197.6 60.9h.8v.8h-.8zM184.9 58.1h.8v.8h-.8zM193.9 54.7h.8v.8h-.8zM201.2 62.5h.8v.8h-.8zM202.1 61.0h.8v.8h-.8zM199.7 57.9h.8v.8h-.8zM197.3 65.2h.8v.8h-.8zM194.1 57.5h.8v.8h-.8zM198.3 63.6h.8v.8h-.8zM197.2 57.8h.8v.8h-.8zM197.4 60.3h.8v.8h-.8zM193.9 67.9h.8v.8h-.8zM200.2 76.1h.8v.8h-.8zM208.5 76.1h.8v.8h-.8zM198.1 71.8h.8v.8h-.8zM200.7 72.9h.8v.8h-.8zM196.1 68.7h.8v.8h-.8zM198.1 76.8h.8v.8h-.8zM189.6 78.5h.8v.8h-.8zM197.3 71.6h.8v.8h-.8zM196.7 80.4h.8v.8h-.8zM203.5 73.9h.8v.8h-.8zM194.3 72.5h.8v.8h-.8zM196.4 69.0h.8v.8h-.8zM187.4 70.3h.8v.8h-.8zM192.7 72.6h.8v.8h-.8zM197.9 73.9h.8v.8h-.8zM201.1 77.0h.8v.8h-.8zM192.6 70.3h.8v.8h-.8zM195.9 77.5h.8v.8h-.8zM191.3 73.9h.8v.8h-.8zM208.8 73.7h.8v.8h-.8zM205.3 69.2h.8v.8h-.8zM181.6 77.4h.8v.8h-.8zM188.2 75.0h.8v.8h-.8zM211.9 72.9h.8v.8h-.8zM194.8 74.0h.8v.8h-.8zM182.1 98.8h.8v.8h-.8zM184.4 91.0h.8v.8h-.8zM181.9 96.3h.8v.8h-.8zM186.0 101.7h.8v.8h-.8zM185.5 82.3h.8v.8h-.8zM187.2 81.4h.8v.8h-.8zM185.9 87.6h.8v.8h-.8zM200.3 77.7h.8v.8h-.8zM191.3 90.9h.8v.8h-.8zM184.4 82.5h.8v.8h-.8zM180.7 95.9h.8v.8h-.8zM191.9 98.0h.8v.8h-.8zM182.4 99.2h.8v.8h-.8zM199.5 83.9h.8v.8h-.8zM181.7 89.5h.8v.8h-.8zM196.0 90.1h.8v.8h-.8zM182.8 96.1h.8v.8h-.8zM192.2 87.0h.8v.8h-.8zM201.2 97.0h.8v.8h-.8zM181.9 97.2h.8v.8h-.8zM185.2 81.8h.8v.8h-.8zM184.5 91.5h.8v.8h-.8zM185.6 84.8h.8v.8h-.8zM187.4 99.0h.8v.8h-.8zM188.2 84.2h.8v.8h-.8zM181.2 100.9h.8v.8h-.8zM201.5 81.4h.8v.8h-.8zM205.5 86.9h.8v.8h-.8zM195.6 52.8h.8v.8h-.8zM200.6 65.6h.8v.8h-.8zM190.7 89.3h.8v.8h-.8zM190.8 66.1h.8v.8h-.8zM189.9 53.7h.8v.8h-.8zM184.1 55.5h.8v.8h-.8zM190.5 76.7h.8v.8h-.8zM207.8 56.8h.8v.8h-.8zM180.0 88.3h.8v.8h-.8zM193.1 74.3h.8v.8h-.8zM42.6 161.0h.8v.8h-.8zM38.0 159.9h.8v.8h-.8zM32.0 161.1h.8v.8h-.8zM34.6 156.2h.8v.8h-.8zM33.7 157.9h.8v.8h-.8zM36.4 165.8h.8v.8h-.8zM35.8 151.0h.8v.8h-.8zM36.1 157.0h.8v.8h-.8zM33.9 155.0h.8v.8h-.8zM42.5 158.5h.8v.8h-.8zM38.7 155.5h.8v.8h-.8zM40.7 159.2h.8v.8h-.8zM45.5 164.0h.8v.8h-.8zM38.8 160.4h.8v.8h-.8zM27.8 162.7h.8v.8h-.8zM34.9 160.8h.8v.8h-.8zM33.9 158.5h.8v.8h-.8zM35.1 157.3h.8v.8h-.8zM38.5 149.3h.8v.8h-.8zM37.8 166.0h.8v.8h-.8zM36.0 156.1h.8v.8h-.8zM27.9 154.3h.8v.8h-.8zM24.1 157.8h.8v.8h-.8zM29.3 158.6h.8v.8h-.8zM36.9 159.7h.8v.8h-.8zM27.7 169.0h.8v.8h-.8zM29.2 171.5h.8v.8h-.8zM40.7 170.0h.8v.8h-.8zM23.2 169.1h.8v.8h-.8zM41.0 171.4h.8v.8h-.8zM30.6 172.1h.8v.8h-.8zM33.2 174.4h.8v.8h-.8zM36.2 172.2h.8v.8h-.8zM29.8 169.6h.8v.8h-.8zM39.1 171.2h.8v.8h-.8zM37.1 174.4h.8v.8h-.8zM46.6 170.4h.8v.8h-.8zM37.3 174.1h.8v.8h-.8zM42.0 172.6h.8v.8h-.8zM37.3 169.4h.8v.8h-.8zM32.5 172.1h.8v.8h-.8zM42.6 172.2h.8v.8h-.8zM37.4 177.3h.8v.8h-.8zM32.2 172.5h.8v.8h-.8zM37.0 171.7h.8v.8h-.8zM30.4 178.8h.8v.8h-.8zM30.4 169.0h.8v.8h-.8zM37.1 173.3h.8v.8h-.8zM29.4 183.7h.8v.8h-.8zM35.7 200.2h.8v.8h-.8zM23.8 173.2h.8v.8h-.8zM19.3 180.4h.8v.8h-.8zM31.4 191.4h.8v.8h-.8zM21.9 202.2h.8v.8h-.8zM24.8 190.3h.8v.8h-.8zM23.5 178.6h.8v.8h-.8zM24.3 191.9h.8v.8h-.8zM18.7 201.6h.8v.8h-.8zM23.6 197.0h.8v.8h-.8zM28.2 201.0h.8v.8h-.8zM24.9 186.4h.8v.8h-.8zM35.3 198.0h.8v.8h-.8zM24.1 197.0h.8v.8h-.8zM26.3 178.2h.8v.8h-.8zM25.0 196.4h.8v.8h-.8zM22.4 185.7h.8v.8h-.8zM30.0 187.5h.8v.8h-.8zM24.6 183.1h.8v.8h-.8zM28.7 181.1h.8v.8h-.8zM23.0 193.6h.8v.8h-.8zM26.9 200.2h.8v.8h-.8zM32.3 172.4h.8v.8h-.8zM20.7 186.4h.8v.8h-.8zM36.4 200.7h.8v.8h-.8zM30.7 178.4h.8v.8h-.8zM33.5 190.8h.8v.8h-.8zM28.9 197.9h.8v.8h-.8zM26.1 184.2h.8v.8h-.8zM26.8 182.6h.8v.8h-.8zM32.2 196.8h.8v.8h-.8zM37.6 191.2h.8v.8h-.8zM40.0 173.3h.8v.8h-.8zM33.8 155.4h.8v.8h-.8zM36.5 162.3h.8v.8h-.8zM26.6 180.9h.8v.8h-.8zM24.8 169.7h.8v.8h-.8zM54.8 199.9h.8v.8h-.8zM31.7 165.3h.8v.8h-.8zM18.6 196.4h.8v.8h-.8zM49.6 164.4h.8v.8h-.8zM104.5 190.6h.8v.8h-.8zM116.3 182.7h.8v.8h-.8zM106.9 189.3h.8v.8h-.8zM103.2 187.8h.8v.8h-.8zM113.3 184.2h.8v.8h-.8zM118.5 175.5h.8v.8h-.8zM113.3 191.8h.8v.8h-.8zM120.7 187.5h.8v.8h-.8zM108.6 197.2h.8v.8h-.8zM110.5 176.9h.8v.8h-.8zM108.1 179.2h.8v.8h-.8zM110.5 199.0h.8v.8h-.8zM105.0 178.9h.8v.8h-.8zM106.6 183.6h.8v.8h-.8zM106.2 185.7h.8v.8h-.8zM115.7 191.8h.8v.8h-.8zM112.4 185.1h.8v.8h-.8zM103.0 177.7h.8v.8h-.8zM106.0 192.3h.8v.8h-.8zM113.2 195.4h.8v.8h-.8zM122.6 182.8h.8v.8h-.8zM106.8 171.8h.8v.8h-.8zM103.8 201.6h.8v.8h-.8zM111.4 182.2h.8v.8h-.8zM108.7 184.3h.8v.8h-.8zM110.3 174.3h.8v.8h-.8zM100.2 187.9h.8v.8h-.8zM99.7 194.6h.8v.8h-.8zM111.7 168.5h.8v.8h-.8zM103.4 198.3h.8v.8h-.8zM107.2 190.4h.8v.8h-.8zM107.5 186.4h.8v.8h-.8zM111.1 192.7h.8v.8h-.8zM105.6 196.4h.8v.8h-.8zM114.4 180.2h.8v.8h-.8zM111.0 191.0h.8v.8h-.8zM101.4 185.9h.8v.8h-.8zM104.2 183.4h.8v.8h-.8zM115.2 184.2h.8v.8h-.8zM103.6 181.7h.8v.8h-.8zM125.0 184.8h.8v.8h-.8zM121.5 178.3h.8v.8h-.8zM113.4 190.5h.8v.8h-.8zM119.9 158.2h.8v.8h-.8zM113.1 174.8h.8v.8h-.8zM103.5 158.9h.8v.8h-.8zM107.3 192.8h.8v.8h-.8zM127.3 163.6h.8v.8h-.8zM118.6 173.9h.8v.8h-.8zM120.7 163.9h.8v.8h-.8zM129.3 173.5h.8v.8h-.8zM123.2 166.7h.8v.8h-.8zM127.4 173.2h.8v.8h-.8zM128.0 164.0h.8v.8h-.8zM119.0 161.5h.8v.8h-.8zM123.9 180.0h.8v.8h-.8zM105.3 159.2h.8v.8h-.8zM122.2 187.5h.8v.8h-.8zM113.0 164.9h.8v.8h-.8zM119.1 197.1h.8v.8h-.8zM114.8 164.2h.8v.8h-.8zM104.4 176.3h.8v.8h-.8zM118.9 167.3h.8v.8h-.8zM111.5 175.5h.8v.8h-.8zM127.7 167.1h.8v.8h-.8zM115.8 162.0h.8v.8h-.8zM115.8 179.1h.8v.8h-.8zM115.4 165.0h.8v.8h-.8zM102.5 170.5h.8v.8h-.8zM100.3 180.6h.8v.8h-.8zM114.4 161.1h.8v.8h-.8zM106.6 156.5h.8v.8h-.8zM101.6 170.8h.8v.8h-.8zM102.3 166.0h.8v.8h-.8zM110.9 180.0h.8v.8h-.8zM133.9 168.5h.8v.8h-.8zM125.7 173.9h.8v.8h-.8zM105.1 158.4h.8v.8h-.8zM117.9 148.2h.8v.8h-.8zM101.9 186.2h.8v.8h-.8zM108.4 177.1h.8v.8h-.8zM106.9 188.2h.8v.8h-.8zM126.1 151.0h.8v.8h-.8zM108.6 180.0h.8v.8h-.8zM109.1 142.5h.8v.8h-.8zM119.5 173.9h.8v.8h-.8zM100.3 167.6h.8v.8h-.8zM112.4 169.6h.8v.8h-.8zM116.3 157.1h.8v.8h-.8zM118.4 171.6h.8v.8h-.8zM114.6 164.0h.8v.8h-.8zM125.8 165.0h.8v.8h-.8zM106.4 165.9h.8v.8h-.8zM196.8 169.6h.8v.8h-.8zM186.3 166.0h.8v.8h-.8zM195.0 196.7h.8v.8h-.8zM180.9 185.0h.8v.8h-.8zM194.7 186.6h.8v.8h-.8zM189.7 197.8h.8v.8h-.8zM193.6 186.1h.8v.8h-.8zM186.9 196.9h.8v.8h-.8zM196.1 197.4h.8v.8h-.8zM188.3 177.5h.8v.8h-.8zM199.2 192.6h.8v.8h-.8zM190.6 188.2h.8v.8h-.8zM197.9 195.8h.8v.8h-.8zM193.5 187.5h.8v.8h-.8zM188.9 186.0h.8v.8h-.8zM199.1 190.7h.8v.8h-.8zM197.3 183.1h.8v.8h-.8zM195.4 185.4h.8v.8h-.8zM187.5 188.8h.8v.8h-.8zM193.7 179.2h.8v.8h-.8zM202.6 185.7h.8v.8h-.8zM190.8 186.2h.8v.8h-.8zM188.0 180.7h.8v.8h-.8zM191.9 165.3h.8v.8h-.8zM207.0 168.5h.8v.8h-.8zM199.6 175.3h.8v.8h-.8zM202.2 163.2h.8v.8h-.8zM214.2 173.1h.8v.8h-.8zM197.2 178.7h.8v.8h-.8zM187.5 173.2h.8v.8h-.8zM198.7 178.9h.8v.8h-.8zM203.2 156.4h.8v.8h-.8zM212.5 190.2h.8v.8h-.8zM190.2 185.4h.8v.8h-.8zM203.5 157.4h.8v.8h-.8zM199.5 156.3h.8v.8h-.8zM208.4 167.3h.8v.8h-.8zM195.2 170.0h.8v.8h-.8zM188.6 188.7h.8v.8h-.8zM193.9 148.6h.8v.8h-.8zM205.9 152.2h.8v.8h-.8zM208.5 170.8h.8v.8h-.8zM200.0 158.1h.8v.8h-.8zM196.3 182.6h.8v.8h-.8zM209.4 182.7h.8v.8h-.8zM191.9 185.1h.8v.8h-.8zM197.5 172.8h.8v.8h-.8zM207.2 173.4h.8v.8h-.8zM199.9 187.5h.8v.8h-.8zM181.6 174.2h.8v.8h-.8zM186.9 160.7h.8v.8h-.8zM197.6 178.1h.8v.8h-.8zM210.4 182.5h.8v.8h-.8zM212.3 161.0h.8v.8h-.8zM190.3 172.5h.8v.8h-.8zM197.2 156.2h.8v.8h-.8zM213.1 183.6h.8v.8h-.8zM202.5 191.4h.8v.8h-.8zM183.7 169.5h.8v.8h-.8zM183.1 155.5h.8v.8h-.8zM189.1 166.8h.8v.8h-.8zM191.6 182.6h.8v.8h-.8zM207.0 145.8h.8v.8h-.8zM209.5 184.7h.8v.8h-.8zM189.6 184.2h.8v.8h-.8zM200.5 144.7h.8v.8h-.8zM186.0 168.9h.8v.8h-.8zM200.2 175.9h.8v.8h-.8zM191.1 186.7h.8v.8h-.8zM195.1 183.5h.8v.8h-.8zM203.7 176.3h.8v.8h-.8zM204.1 172.0h.8v.8h-.8zM189.7 171.4h.8v.8h-.8zM203.8 181.6h.8v.8h-.8zM184.9 163.3h.8v.8h-.8zM188.0 158.1h.8v.8h-.8zM199.4 158.5h.8v.8h-.8zM209.1 173.2h.8v.8h-.8zM202.2 158.5h.8v.8h-.8z"/>
<path fill="rgb(208,208,208)" d="M36.8 56.7h.8v.8h-.8zM28.9 60.8h.8v.8h-.8zM34.1 57.6h.8v.8h-.8zM49.0 56.1h.8v.8h-.8zM29.1 67.6h.8v.8h-.8zM45.3 81.8h.8v.8h-.8zM41.6 72.0h.8v.8h-.8zM37.5 73.2h.8v.8h-.8zM39.6 75.2h.8v.8h-.8zM35.9 76.0h.8v.8h-.8zM36.8 78.3h.8v.8h-.8zM25.8 100.1h.8v.8h-.8zM20.6 99.5h.8v.8h-.8zM17.0 90.8h.8v.8h-.8zM21.1 81.9h.8v.8h-.8zM30.1 78.9h.8v.8h-.8zM25.1 98.3h.8v.8h-.8zM23.2 84.6h.8v.8h-.8zM26.5 92.6h.8v.8h-.8zM33.0 55.3h.8v.8h-.8zM30.3 46.0h.8v.8h-.8zM31.0 66.8h.8v.8h-.8zM33.6 50.5h.8v.8h-.8zM23.5 81.2h.8v.8h-.8zM47.3 76.6h.8v.8h-.8zM29.3 46.7h.8v.8h-.8zM26.5 65.9h.8v.8h-.8zM29.0 96.1h.8v.8h-.8zM17.0 71.7h.8v.8h-.8zM36.4 58.5h.8v.8h-.8zM16.6 59.7h.8v.8h-.8zM33.2 69.4h.8v.8h-.8zM47.9 82.5h.8v.8h-.8zM22.0 62.3h.8v.8h-.8zM112.0 66.6h.8v.8h-.8zM113.5 83.0h.8v.8h-.8zM111.7 81.6h.8v.8h-.8zM112.1 57.8h.8v.8h-.8zM119.1 73.5h.8v.8h-.8zM128.8 38.2h.8v.8h-.8zM117.7 70.5h.8v.8h-.8zM124.2 86.3h.8v.8h-.8zM110.3 75.1h.8v.8h-.8zM200.4 63.1h.8v.8h-.8zM208.5 66.9h.8v.8h-.8zM195.9 68.8h.8v.8h-.8zM195.7 61.9h.8v.8h-.8zM211.4 60.7h.8v.8h-.8zM206.0 62.4h.8v.8h-.8zM200.7 55.9h.8v.8h-.8zM195.3 60.0h.8v.8h-.8zM202.7 59.6h.8v.8h-.8zM200.4 74.8h.8v.8h-.8zM186.5 72.2h.8v.8h-.8zM197.7 70.3h.8v.8h-.8zM216.0 72.4h.8v.8h-.8zM189.2 78.0h.8v.8h-.8zM197.6 70.0h.8v.8h-.8zM200.3 77.7h.8v.8h-.8zM186.0 98.7h.8v.8h-.8zM190.6 93.2h.8v.8h-.8zM187.1 89.0h.8v.8h-.8zM181.6 96.6h.8v.8h-.8zM193.2 85.3h.8v.8h-.8zM187.2 94.1h.8v.8h-.8zM192.5 87.0h.8v.8h-.8zM191.1 80.6h.8v.8h-.8zM185.3 58.4h.8v.8h-.8zM200.8 92.2h.8v.8h-.8zM187.9 51.9h.8v.8h-.8zM191.2 46.2h.8v.8h-.8zM203.9 71.4h.8v.8h-.8zM205.7 60.2h.8v.8h-.8zM190.8 56.9h.8v.8h-.8zM208.9 86.6h.8v.8h-.8zM190.8 82.3h.8v.8h-.8zM213.1 72.5h.8v.8h-.8zM183.1 49.5h.8v.8h-.8zM195.7 66.3h.8v.8h-.8zM185.0 60.5h.8v.8h-.8zM189.0 55.6h.8v.8h-.8zM195.4 89.2h.8v.8h-.8zM42.0 160.5h.8v.8h-.8zM37.7 161.8h.8v.8h-.8zM39.7 160.1h.8v.8h-.8zM43.5 156.1h.8v.8h-.8zM33.7 170.4h.8v.8h-.8zM22.1 169.2h.8v.8h-.8zM33.3 171.6h.8v.8h-.8zM36.1 174.6h.8v.8h-.8zM40.0 172.6h.8v.8h-.8zM43.0 173.1h.8v.8h-.8zM36.0 172.7h.8v.8h-.8zM34.1 171.3h.8v.8h-.8zM41.7 168.4h.8v.8h-.8zM39.9 172.8h.8v.8h-.8zM30.5 187.8h.8v.8h-.8zM33.8 194.1h.8v.8h-.8zM30.4 186.7h.8v.8h-.8zM25.3 199.7h.8v.8h-.8zM32.0 196.9h.8v.8h-.8zM19.5 188.0h.8v.8h-.8zM30.1 186.7h.8v.8h-.8zM25.5 194.5h.8v.8h-.8zM27.1 189.7h.8v.8h-.8zM27.0 194.9h.8v.8h-.8zM43.2 149.0h.8v.8h-.8zM41.1 172.5h.8v.8h-.8zM32.3 194.0h.8v.8h-.8zM45.3 164.6h.8v.8h-.8zM35.5 172.7h.8v.8h-.8zM40.4 189.4h.8v.8h-.8zM34.5 161.3h.8v.8h-.8zM35.0 161.7h.8v.8h-.8zM38.5 160.5h.8v.8h-.8zM26.1 164.3h.8v.8h-.8zM46.9 143.4h.8v.8h-.8zM31.4 139.4h.8v.8h-.8zM41.8 159.1h.8v.8h-.8zM37.4 172.6h.8v.8h-.8zM19.2 189.6h.8v.8h-.8zM32.3 162.9h.8v.8h-.8zM21.7 200.5h.8v.8h-.8zM48.0 185.2h.8v.8h-.8zM24.3 195.1h.8v.8h-.8zM52.0 168.9h.8v.8h-.8zM33.5 134.0h.8v.8h-.8zM59.1 178.6h.8v.8h-.8zM124.6 163.6h.8v.8h-.8zM123.2 161.8h.8v.8h-.8zM132.5 181.1h.8v.8h-.8zM118.5 169.9h.8v.8h-.8zM115.0 180.4h.8v.8h-.8zM137.8 191.8h.8v.8h-.8zM113.3 185.4h.8v.8h-.8zM127.1 158.8h.8v.8h-.8zM131.8 171.7h.8v.8h-.8zM197.9 170.3h.8v.8h-.8zM212.4 148.7h.8v.8h-.8zM188.0 161.3h.8v.8h-.8z"/>
<rect x="15" y="33.5" width="78.7" height="73.6" fill="none" stroke="#3a3a3a" stroke-width="1.1"/>
<line x1="13.4" y1="44.01" x2="15" y2="44.01" stroke="#555" stroke-width="0.7"/>
<line x1="13.4" y1="54.53" x2="15" y2="54.53" stroke="#555" stroke-width="0.7"/>
<line x1="13.4" y1="65.04" x2="15" y2="65.04" stroke="#555" stroke-width="0.7"/>
<line x1="13.4" y1="75.56" x2="15" y2="75.56" stroke="#555" stroke-width="0.7"/>
<line x1="13.4" y1="86.07" x2="15" y2="86.07" stroke="#555" stroke-width="0.7"/>
<line x1="13.4" y1="96.59" x2="15" y2="96.59" stroke="#555" stroke-width="0.7"/>
<line x1="15" y1="107.1" x2="15" y2="108.7" stroke="#555" stroke-width="0.7"/>
<line x1="34.67" y1="107.1" x2="34.67" y2="108.7" stroke="#555" stroke-width="0.7"/>
<line x1="54.35" y1="107.1" x2="54.35" y2="108.7" stroke="#555" stroke-width="0.7"/>
<line x1="74.03" y1="107.1" x2="74.03" y2="108.7" stroke="#555" stroke-width="0.7"/>
<line x1="93.7" y1="107.1" x2="93.7" y2="108.7" stroke="#555" stroke-width="0.7"/>
<rect x="26.3" y="54.2" width="22.7" height="12.1" fill="none" stroke="#606060" stroke-width="0.95"/>
<rect x="23.5" y="68.3" width="26.1" height="10.9" fill="none" stroke="#606060" stroke-width="0.95"/>
<rect x="16.3" y="80.8" width="20.8" height="24" fill="none" stroke="#606060" stroke-width="0.95"/>
<text x="60" y="43.8" font-size="8.6" font-weight="bold" fill="#000" textLength="26.5" lengthAdjust="spacingAndGlyphs">Gfi1<tspan font-size="5.33" dy="-3.61">+/+</tspan></text>
<text x="52" y="66.9" font-size="8.2" font-weight="bold" fill="#000" textLength="37.4" lengthAdjust="spacingAndGlyphs">GMP&#160;&#160;0.04</text>
<text x="52" y="78.2" font-size="8.2" font-weight="bold" fill="#000" textLength="37.4" lengthAdjust="spacingAndGlyphs">CMP&#160;&#160;0.03</text>
<text x="42" y="93.7" font-size="8.2" font-weight="bold" fill="#000" textLength="17.5" lengthAdjust="spacingAndGlyphs">MEP</text>
<text x="37.5" y="106.4" font-size="8.2" font-weight="bold" fill="#000" textLength="16.3" lengthAdjust="spacingAndGlyphs">0.05</text>
<rect x="96.6" y="33.5" width="78.2" height="73.4" fill="none" stroke="#3a3a3a" stroke-width="1.1"/>
<line x1="95" y1="43.99" x2="96.6" y2="43.99" stroke="#555" stroke-width="0.7"/>
<line x1="95" y1="54.47" x2="96.6" y2="54.47" stroke="#555" stroke-width="0.7"/>
<line x1="95" y1="64.96" x2="96.6" y2="64.96" stroke="#555" stroke-width="0.7"/>
<line x1="95" y1="75.44" x2="96.6" y2="75.44" stroke="#555" stroke-width="0.7"/>
<line x1="95" y1="85.93" x2="96.6" y2="85.93" stroke="#555" stroke-width="0.7"/>
<line x1="95" y1="96.41" x2="96.6" y2="96.41" stroke="#555" stroke-width="0.7"/>
<line x1="96.6" y1="106.9" x2="96.6" y2="108.5" stroke="#555" stroke-width="0.7"/>
<line x1="116.15" y1="106.9" x2="116.15" y2="108.5" stroke="#555" stroke-width="0.7"/>
<line x1="135.7" y1="106.9" x2="135.7" y2="108.5" stroke="#555" stroke-width="0.7"/>
<line x1="155.25" y1="106.9" x2="155.25" y2="108.5" stroke="#555" stroke-width="0.7"/>
<line x1="174.8" y1="106.9" x2="174.8" y2="108.5" stroke="#555" stroke-width="0.7"/>
<rect x="107.3" y="54.3" width="23.4" height="12.1" fill="none" stroke="#606060" stroke-width="0.95"/>
<rect x="104.7" y="68.1" width="26.5" height="11.5" fill="none" stroke="#606060" stroke-width="0.95"/>
<rect x="97.8" y="79.9" width="20.7" height="24.2" fill="none" stroke="#606060" stroke-width="0.95"/>
<text x="142" y="43.6" font-size="8.6" font-weight="bold" fill="#000" textLength="24" lengthAdjust="spacingAndGlyphs">Gfi1<tspan font-size="5.33" dy="-3.61">-/-</tspan></text>
<text x="134" y="67" font-size="8.2" font-weight="bold" fill="#000" textLength="16.3" lengthAdjust="spacingAndGlyphs">0.12</text>
<text x="133" y="80.2" font-size="8.2" font-weight="bold" fill="#000" textLength="16" lengthAdjust="spacingAndGlyphs">0.11</text>
<text x="122" y="105.6" font-size="8.2" font-weight="bold" fill="#000" textLength="16.3" lengthAdjust="spacingAndGlyphs">0.09</text>
<rect x="177.8" y="33.5" width="77.5" height="73.4" fill="none" stroke="#3a3a3a" stroke-width="1.1"/>
<line x1="176.2" y1="43.99" x2="177.8" y2="43.99" stroke="#555" stroke-width="0.7"/>
<line x1="176.2" y1="54.47" x2="177.8" y2="54.47" stroke="#555" stroke-width="0.7"/>
<line x1="176.2" y1="64.96" x2="177.8" y2="64.96" stroke="#555" stroke-width="0.7"/>
<line x1="176.2" y1="75.44" x2="177.8" y2="75.44" stroke="#555" stroke-width="0.7"/>
<line x1="176.2" y1="85.93" x2="177.8" y2="85.93" stroke="#555" stroke-width="0.7"/>
<line x1="176.2" y1="96.41" x2="177.8" y2="96.41" stroke="#555" stroke-width="0.7"/>
<line x1="177.8" y1="106.9" x2="177.8" y2="108.5" stroke="#555" stroke-width="0.7"/>
<line x1="197.18" y1="106.9" x2="197.18" y2="108.5" stroke="#555" stroke-width="0.7"/>
<line x1="216.55" y1="106.9" x2="216.55" y2="108.5" stroke="#555" stroke-width="0.7"/>
<line x1="235.93" y1="106.9" x2="235.93" y2="108.5" stroke="#555" stroke-width="0.7"/>
<line x1="255.3" y1="106.9" x2="255.3" y2="108.5" stroke="#555" stroke-width="0.7"/>
<rect x="187.8" y="54.3" width="23.2" height="12.1" fill="none" stroke="#606060" stroke-width="0.95"/>
<rect x="185.2" y="68" width="26.3" height="11.6" fill="none" stroke="#606060" stroke-width="0.95"/>
<rect x="178.7" y="80" width="20.7" height="24.3" fill="none" stroke="#606060" stroke-width="0.95"/>
<text x="211.5" y="43.6" font-size="8.6" font-weight="bold" fill="#000" textLength="41.2" lengthAdjust="spacingAndGlyphs">Gfi1<tspan font-size="5.33" dy="-3.61">36S/36S</tspan></text>
<text x="217" y="67" font-size="8.2" font-weight="bold" fill="#000" textLength="16.3" lengthAdjust="spacingAndGlyphs">0.02</text>
<text x="217" y="80.2" font-size="8.2" font-weight="bold" fill="#000" textLength="16.3" lengthAdjust="spacingAndGlyphs">0.02</text>
<text x="200.8" y="105.6" font-size="8.2" font-weight="bold" fill="#000" textLength="16.3" lengthAdjust="spacingAndGlyphs">0.02</text>
<rect x="15.8" y="132.3" width="78.4" height="73.1" fill="none" stroke="#3a3a3a" stroke-width="1.1"/>
<line x1="14.2" y1="142.74" x2="15.8" y2="142.74" stroke="#555" stroke-width="0.7"/>
<line x1="14.2" y1="153.19" x2="15.8" y2="153.19" stroke="#555" stroke-width="0.7"/>
<line x1="14.2" y1="163.63" x2="15.8" y2="163.63" stroke="#555" stroke-width="0.7"/>
<line x1="14.2" y1="174.07" x2="15.8" y2="174.07" stroke="#555" stroke-width="0.7"/>
<line x1="14.2" y1="184.51" x2="15.8" y2="184.51" stroke="#555" stroke-width="0.7"/>
<line x1="14.2" y1="194.96" x2="15.8" y2="194.96" stroke="#555" stroke-width="0.7"/>
<line x1="15.8" y1="205.4" x2="15.8" y2="207" stroke="#555" stroke-width="0.7"/>
<line x1="35.4" y1="205.4" x2="35.4" y2="207" stroke="#555" stroke-width="0.7"/>
<line x1="55" y1="205.4" x2="55" y2="207" stroke="#555" stroke-width="0.7"/>
<line x1="74.6" y1="205.4" x2="74.6" y2="207" stroke="#555" stroke-width="0.7"/>
<line x1="94.2" y1="205.4" x2="94.2" y2="207" stroke="#555" stroke-width="0.7"/>
<rect x="26.3" y="153" width="23.3" height="13" fill="none" stroke="#606060" stroke-width="0.95"/>
<rect x="24" y="167" width="25.6" height="10.5" fill="none" stroke="#606060" stroke-width="0.95"/>
<rect x="17" y="178.5" width="20.5" height="25" fill="none" stroke="#606060" stroke-width="0.95"/>
<text x="53.5" y="143.8" font-size="8.6" font-weight="bold" fill="#000" textLength="31.1" lengthAdjust="spacingAndGlyphs">Gfi1<tspan font-size="5.33" dy="-3.61">36S/+</tspan></text>
<text x="52.3" y="163.6" font-size="8.2" font-weight="bold" fill="#000" textLength="16.3" lengthAdjust="spacingAndGlyphs">0.03</text>
<text x="52.3" y="176.6" font-size="8.2" font-weight="bold" fill="#000" textLength="16.3" lengthAdjust="spacingAndGlyphs">0.03</text>
<text x="40" y="202.1" font-size="8.2" font-weight="bold" fill="#000" textLength="16.3" lengthAdjust="spacingAndGlyphs">0.03</text>
<rect x="97.8" y="132.3" width="77" height="73.1" fill="none" stroke="#3a3a3a" stroke-width="1.1"/>
<line x1="96.2" y1="142.74" x2="97.8" y2="142.74" stroke="#555" stroke-width="0.7"/>
<line x1="96.2" y1="153.19" x2="97.8" y2="153.19" stroke="#555" stroke-width="0.7"/>
<line x1="96.2" y1="163.63" x2="97.8" y2="163.63" stroke="#555" stroke-width="0.7"/>
<line x1="96.2" y1="174.07" x2="97.8" y2="174.07" stroke="#555" stroke-width="0.7"/>
<line x1="96.2" y1="184.51" x2="97.8" y2="184.51" stroke="#555" stroke-width="0.7"/>
<line x1="96.2" y1="194.96" x2="97.8" y2="194.96" stroke="#555" stroke-width="0.7"/>
<line x1="97.8" y1="205.4" x2="97.8" y2="207" stroke="#555" stroke-width="0.7"/>
<line x1="117.05" y1="205.4" x2="117.05" y2="207" stroke="#555" stroke-width="0.7"/>
<line x1="136.3" y1="205.4" x2="136.3" y2="207" stroke="#555" stroke-width="0.7"/>
<line x1="155.55" y1="205.4" x2="155.55" y2="207" stroke="#555" stroke-width="0.7"/>
<line x1="174.8" y1="205.4" x2="174.8" y2="207" stroke="#555" stroke-width="0.7"/>
<rect x="108" y="154.4" width="23.5" height="13" fill="none" stroke="#606060" stroke-width="0.95"/>
<rect x="106.4" y="168.3" width="25.1" height="10.7" fill="none" stroke="#606060" stroke-width="0.95"/>
<rect x="99" y="179.5" width="20.4" height="24.7" fill="none" stroke="#606060" stroke-width="0.95"/>
<text x="129.4" y="143.2" font-size="8.6" font-weight="bold" fill="#000" textLength="41.9" lengthAdjust="spacingAndGlyphs">Gfi1<tspan font-size="5.33" dy="-3.61">36N/36N</tspan></text>
<text x="134.6" y="165" font-size="8.2" font-weight="bold" fill="#000" textLength="16.3" lengthAdjust="spacingAndGlyphs">0.22</text>
<text x="132.9" y="178.4" font-size="8.2" font-weight="bold" fill="#000" textLength="16.3" lengthAdjust="spacingAndGlyphs">0.07</text>
<text x="122" y="203.6" font-size="8.2" font-weight="bold" fill="#000" textLength="16.3" lengthAdjust="spacingAndGlyphs">0.07</text>
<rect x="179.5" y="132.3" width="76.5" height="73.1" fill="none" stroke="#3a3a3a" stroke-width="1.1"/>
<line x1="177.9" y1="142.74" x2="179.5" y2="142.74" stroke="#555" stroke-width="0.7"/>
<line x1="177.9" y1="153.19" x2="179.5" y2="153.19" stroke="#555" stroke-width="0.7"/>
<line x1="177.9" y1="163.63" x2="179.5" y2="163.63" stroke="#555" stroke-width="0.7"/>
<line x1="177.9" y1="174.07" x2="179.5" y2="174.07" stroke="#555" stroke-width="0.7"/>
<line x1="177.9" y1="184.51" x2="179.5" y2="184.51" stroke="#555" stroke-width="0.7"/>
<line x1="177.9" y1="194.96" x2="179.5" y2="194.96" stroke="#555" stroke-width="0.7"/>
<line x1="179.5" y1="205.4" x2="179.5" y2="207" stroke="#555" stroke-width="0.7"/>
<line x1="198.62" y1="205.4" x2="198.62" y2="207" stroke="#555" stroke-width="0.7"/>
<line x1="217.75" y1="205.4" x2="217.75" y2="207" stroke="#555" stroke-width="0.7"/>
<line x1="236.88" y1="205.4" x2="236.88" y2="207" stroke="#555" stroke-width="0.7"/>
<line x1="256" y1="205.4" x2="256" y2="207" stroke="#555" stroke-width="0.7"/>
<rect x="189.9" y="153" width="23" height="13.2" fill="none" stroke="#606060" stroke-width="0.95"/>
<rect x="187.6" y="167.4" width="25.7" height="10.9" fill="none" stroke="#606060" stroke-width="0.95"/>
<rect x="180" y="179" width="20.8" height="24.7" fill="none" stroke="#606060" stroke-width="0.95"/>
<text x="218" y="143.2" font-size="8.6" font-weight="bold" fill="#000" textLength="32.4" lengthAdjust="spacingAndGlyphs">Gfi1<tspan font-size="5.33" dy="-3.61">36N/+</tspan></text>
<text x="217" y="164" font-size="8.2" font-weight="bold" fill="#000" textLength="16.3" lengthAdjust="spacingAndGlyphs">0.13</text>
<text x="217" y="177.6" font-size="8.2" font-weight="bold" fill="#000" textLength="16.3" lengthAdjust="spacingAndGlyphs">0.06</text>
<text x="204.6" y="202.6" font-size="8.2" font-weight="bold" fill="#000" textLength="16.3" lengthAdjust="spacingAndGlyphs">0.06</text>
<text x="0" y="0" font-size="8.4" font-weight="bold" fill="#000" transform="translate(13.3,205.4) rotate(-90)" textLength="31.8" lengthAdjust="spacingAndGlyphs">CD16/32</text>
<text x="16.3" y="219.8" font-size="8.4" font-weight="bold" fill="#000" textLength="20.2" lengthAdjust="spacingAndGlyphs">CD34</text>
<text x="259.5" y="13.6" font-size="11.5" font-weight="bold" fill="#000">B</text>
<text x="295" y="26" font-size="7.6" font-weight="bold" fill="#000">GMPs</text>
<text x="0" y="0" font-size="9.2" font-weight="bold" text-anchor="middle" fill="#000" transform="translate(271.4,64.3) rotate(-90)" textLength="67.3" lengthAdjust="spacingAndGlyphs">Number of GMPs</text>
<line x1="301.2" y1="31" x2="301.2" y2="103.2" stroke="#111" stroke-width="1.3"/>
<line x1="301.2" y1="103.2" x2="414" y2="103.2" stroke="#111" stroke-width="1.3"/>
<line x1="298.8" y1="31.6" x2="301.2" y2="31.6" stroke="#111" stroke-width="1"/>
<text x="298.6" y="34.1" font-size="7.6" font-weight="bold" text-anchor="end" fill="#000" textLength="24.6" lengthAdjust="spacingAndGlyphs">8&#215;10<tspan font-size="5" dy="-2.8">0 4</tspan></text>
<line x1="298.8" y1="49.7" x2="301.2" y2="49.7" stroke="#111" stroke-width="1"/>
<text x="298.6" y="52.2" font-size="7.6" font-weight="bold" text-anchor="end" fill="#000" textLength="24.6" lengthAdjust="spacingAndGlyphs">6&#215;10<tspan font-size="5" dy="-2.8">0 4</tspan></text>
<line x1="298.8" y1="67.4" x2="301.2" y2="67.4" stroke="#111" stroke-width="1"/>
<text x="298.6" y="69.9" font-size="7.6" font-weight="bold" text-anchor="end" fill="#000" textLength="24.6" lengthAdjust="spacingAndGlyphs">4&#215;10<tspan font-size="5" dy="-2.8">0 4</tspan></text>
<line x1="298.8" y1="85.2" x2="301.2" y2="85.2" stroke="#111" stroke-width="1"/>
<text x="298.6" y="87.7" font-size="7.6" font-weight="bold" text-anchor="end" fill="#000" textLength="24.6" lengthAdjust="spacingAndGlyphs">2&#215;10<tspan font-size="5" dy="-2.8">0 4</tspan></text>
<line x1="298.8" y1="103.2" x2="301.2" y2="103.2" stroke="#111" stroke-width="1"/>
<text x="298.3" y="105.6" font-size="7" font-weight="bold" text-anchor="end" fill="#000">0</text>
<defs>
<pattern id="hatch" width="3.2" height="3.2" patternUnits="userSpaceOnUse" patternTransform="rotate(-45)"><rect width="3.2" height="3.2" fill="#fff"/><rect width="1.4" height="3.2" fill="#222"/></pattern>
<pattern id="check" width="3" height="3" patternUnits="userSpaceOnUse"><rect width="3" height="3" fill="#fff"/><rect width="1.5" height="1.5" fill="#222"/><rect x="1.5" y="1.5" width="1.5" height="1.5" fill="#222"/></pattern>
<pattern id="grayh" width="2" height="2" patternUnits="userSpaceOnUse" patternTransform="rotate(45)"><rect width="2" height="2" fill="#929292"/><rect width="0.8" height="2" fill="#787878"/></pattern>
</defs>
<line x1="311.2" y1="88.7" x2="311.2" y2="87" stroke="#111" stroke-width="1"/>
<line x1="308.2" y1="87" x2="314.2" y2="87" stroke="#111" stroke-width="1"/>
<rect x="304.7" y="88.7" width="13" height="14.5" fill="#fff" stroke="#111" stroke-width="1.2"/>
<line x1="311.2" y1="103.2" x2="311.2" y2="105.6" stroke="#111" stroke-width="1"/>
<line x1="329.5" y1="94.9" x2="329.5" y2="92.8" stroke="#111" stroke-width="1"/>
<line x1="326.5" y1="92.8" x2="332.5" y2="92.8" stroke="#111" stroke-width="1"/>
<rect x="323" y="94.9" width="13" height="8.3" fill="url(#grayh)" stroke="#111" stroke-width="1.2"/>
<line x1="329.5" y1="103.2" x2="329.5" y2="105.6" stroke="#111" stroke-width="1"/>
<line x1="348.3" y1="97.7" x2="348.3" y2="95.6" stroke="#111" stroke-width="1"/>
<line x1="345.3" y1="95.6" x2="351.3" y2="95.6" stroke="#111" stroke-width="1"/>
<rect x="341.8" y="97.7" width="13" height="5.5" fill="url(#hatch)" stroke="#111" stroke-width="1.2"/>
<line x1="348.3" y1="103.2" x2="348.3" y2="105.6" stroke="#111" stroke-width="1"/>
<line x1="366.8" y1="63.4" x2="366.8" y2="56.7" stroke="#111" stroke-width="1"/>
<line x1="363.8" y1="56.7" x2="369.8" y2="56.7" stroke="#111" stroke-width="1"/>
<rect x="360.3" y="63.4" width="13" height="39.8" fill="url(#check)" stroke="#111" stroke-width="1.2"/>
<line x1="366.8" y1="103.2" x2="366.8" y2="105.6" stroke="#111" stroke-width="1"/>
<line x1="385.8" y1="66.2" x2="385.8" y2="54" stroke="#111" stroke-width="1"/>
<line x1="382.8" y1="54" x2="388.8" y2="54" stroke="#111" stroke-width="1"/>
<rect x="379.3" y="66.2" width="13" height="37" fill="#7a7a7a" stroke="#111" stroke-width="1.2"/>
<line x1="385.8" y1="103.2" x2="385.8" y2="105.6" stroke="#111" stroke-width="1"/>
<line x1="404.3" y1="58.2" x2="404.3" y2="48.4" stroke="#111" stroke-width="1"/>
<line x1="401.3" y1="48.4" x2="407.3" y2="48.4" stroke="#111" stroke-width="1"/>
<rect x="397.8" y="58.2" width="13" height="45" fill="#000" stroke="#111" stroke-width="1.2"/>
<line x1="404.3" y1="103.2" x2="404.3" y2="105.6" stroke="#111" stroke-width="1"/>
<line x1="305.5" y1="43.7" x2="404.7" y2="43.7" stroke="#333" stroke-width="1.2"/>
<line x1="305.5" y1="51.5" x2="384" y2="51.5" stroke="#333" stroke-width="1.2"/>
<line x1="305.5" y1="59.1" x2="365.5" y2="59.1" stroke="#333" stroke-width="1.2"/>
<circle cx="356.8" cy="41.4" r="0.9" fill="#111"/>
<circle cx="347.8" cy="48.9" r="0.9" fill="#111"/>
<circle cx="340.7" cy="56.5" r="0.9" fill="#111"/>
<text x="259.5" y="128.4" font-size="11.5" font-weight="bold" fill="#000">C</text>
<text x="0" y="0" font-size="9" font-weight="bold" text-anchor="middle" fill="#000" transform="translate(271.3,171.7) rotate(-90)" textLength="74.7" lengthAdjust="spacingAndGlyphs">% in&#160; S/G2/M phase</text>
<line x1="301.4" y1="134.2" x2="301.4" y2="211.4" stroke="#111" stroke-width="1.3"/>
<line x1="301.4" y1="211.4" x2="420.6" y2="211.4" stroke="#111" stroke-width="1.3"/>
<line x1="299" y1="134.2" x2="301.4" y2="134.2" stroke="#111" stroke-width="1"/>
<text x="299.2" y="137.3" font-size="9" font-weight="bold" text-anchor="end" fill="#000">30</text>
<line x1="299" y1="160.2" x2="301.4" y2="160.2" stroke="#111" stroke-width="1"/>
<text x="299.2" y="163.3" font-size="9" font-weight="bold" text-anchor="end" fill="#000">20</text>
<line x1="299" y1="186.1" x2="301.4" y2="186.1" stroke="#111" stroke-width="1"/>
<text x="299.2" y="189.2" font-size="9" font-weight="bold" text-anchor="end" fill="#000">10</text>
<line x1="299" y1="211.4" x2="301.4" y2="211.4" stroke="#111" stroke-width="1"/>
<text x="299.2" y="214.5" font-size="9" font-weight="bold" text-anchor="end" fill="#000">0</text>
<line x1="312.2" y1="173.5" x2="312.2" y2="171.4" stroke="#111" stroke-width="1"/>
<line x1="309.2" y1="171.4" x2="315.2" y2="171.4" stroke="#111" stroke-width="1"/>
<rect x="305.2" y="173.5" width="14" height="37.9" fill="#fff" stroke="#111" stroke-width="1.2"/>
<line x1="312.2" y1="211.4" x2="312.2" y2="214" stroke="#111" stroke-width="1"/>
<text x="0" y="0" font-size="8.2" font-weight="bold" text-anchor="end" fill="#000" transform="translate(312.8,222) rotate(-50)">Gfi1<tspan font-size="5.08" dy="-3.44">+/+</tspan></text>
<line x1="332" y1="177.8" x2="332" y2="177.3" stroke="#111" stroke-width="1"/>
<line x1="329" y1="177.3" x2="335" y2="177.3" stroke="#111" stroke-width="1"/>
<rect x="325" y="177.8" width="14" height="33.6" fill="url(#grayh)" stroke="#111" stroke-width="1.2"/>
<line x1="332" y1="211.4" x2="332" y2="214" stroke="#111" stroke-width="1"/>
<text x="0" y="0" font-size="8.2" font-weight="bold" text-anchor="end" fill="#000" transform="translate(332.6,222) rotate(-50)">Gfi1<tspan font-size="5.08" dy="-3.44">36S/36S</tspan></text>
<line x1="351.5" y1="179.4" x2="351.5" y2="177.3" stroke="#111" stroke-width="1"/>
<line x1="348.5" y1="177.3" x2="354.5" y2="177.3" stroke="#111" stroke-width="1"/>
<rect x="344.5" y="179.4" width="14" height="32" fill="url(#hatch)" stroke="#111" stroke-width="1.2"/>
<line x1="351.5" y1="211.4" x2="351.5" y2="214" stroke="#111" stroke-width="1"/>
<text x="0" y="0" font-size="8.2" font-weight="bold" text-anchor="end" fill="#000" transform="translate(352.1,222) rotate(-50)">Gfi1<tspan font-size="5.08" dy="-3.44">36S/+</tspan></text>
<line x1="371.4" y1="159.1" x2="371.4" y2="157.8" stroke="#111" stroke-width="1"/>
<line x1="368.4" y1="157.8" x2="374.4" y2="157.8" stroke="#111" stroke-width="1"/>
<rect x="364.4" y="159.1" width="14" height="52.3" fill="url(#check)" stroke="#111" stroke-width="1.2"/>
<line x1="371.4" y1="211.4" x2="371.4" y2="214" stroke="#111" stroke-width="1"/>
<text x="0" y="0" font-size="8.2" font-weight="bold" text-anchor="end" fill="#000" transform="translate(372,222) rotate(-50)">Gfi1<tspan font-size="5.08" dy="-3.44">36N/36N</tspan></text>
<line x1="391.3" y1="159.1" x2="391.3" y2="157.8" stroke="#111" stroke-width="1"/>
<line x1="388.3" y1="157.8" x2="394.3" y2="157.8" stroke="#111" stroke-width="1"/>
<rect x="384.3" y="159.1" width="14" height="52.3" fill="#7a7a7a" stroke="#111" stroke-width="1.2"/>
<line x1="391.3" y1="211.4" x2="391.3" y2="214" stroke="#111" stroke-width="1"/>
<text x="0" y="0" font-size="8.2" font-weight="bold" text-anchor="end" fill="#000" transform="translate(391.9,222) rotate(-50)">Gfi1<tspan font-size="5.08" dy="-3.44">36N/+</tspan></text>
<line x1="410.3" y1="155.1" x2="410.3" y2="155.1" stroke="#111" stroke-width="1"/>
<line x1="407.3" y1="155.1" x2="413.3" y2="155.1" stroke="#111" stroke-width="1"/>
<rect x="403.3" y="155.1" width="14" height="56.3" fill="#000" stroke="#111" stroke-width="1.2"/>
<line x1="410.3" y1="211.4" x2="410.3" y2="214" stroke="#111" stroke-width="1"/>
<text x="0" y="0" font-size="8.2" font-weight="bold" text-anchor="end" fill="#000" transform="translate(410.9,222) rotate(-50)">Gfi1<tspan font-size="5.08" dy="-3.44">-/-</tspan></text>
<line x1="310" y1="135.8" x2="408" y2="135.8" stroke="#333" stroke-width="1.2"/>
<line x1="310" y1="143.3" x2="387.8" y2="143.3" stroke="#333" stroke-width="1.2"/>
<line x1="310" y1="151" x2="371" y2="151" stroke="#333" stroke-width="1.2"/>
<circle cx="360.6" cy="131.8" r="0.9" fill="#111"/>
<circle cx="352" cy="140.4" r="0.9" fill="#111"/>
<circle cx="344.5" cy="147.9" r="0.9" fill="#111"/>
<text x="428.6" y="13.4" font-size="11.5" font-weight="bold" fill="#000">D</text>
<rect x="444.7" y="32.5" width="71.8" height="18.5" fill="#ececec" stroke="none" stroke-width="1"/>
<line x1="454" y1="35.5" x2="485.7" y2="35.5" stroke="#5a5a5a" stroke-width="1"/>
<line x1="454" y1="35.5" x2="454" y2="51" stroke="#5a5a5a" stroke-width="1"/>
<line x1="485.7" y1="35.5" x2="485.7" y2="41" stroke="#5a5a5a" stroke-width="1"/>
<line x1="472" y1="41" x2="499.2" y2="41" stroke="#5a5a5a" stroke-width="1"/>
<line x1="472" y1="41" x2="472" y2="51" stroke="#5a5a5a" stroke-width="1"/>
<line x1="499.2" y1="41" x2="499.2" y2="44.1" stroke="#5a5a5a" stroke-width="1"/>
<line x1="489.7" y1="44.1" x2="507.9" y2="44.1" stroke="#5a5a5a" stroke-width="1"/>
<line x1="489.7" y1="44.1" x2="489.7" y2="51" stroke="#5a5a5a" stroke-width="1"/>
<line x1="507.9" y1="44.1" x2="507.9" y2="51" stroke="#5a5a5a" stroke-width="1"/>
<g shape-rendering="crispEdges">
<rect x="444.7" y="51" width="18.6" height="4.5" fill="#22e822" stroke="none" stroke-width="1"/>
<rect x="444.7" y="55" width="18.6" height="2.5" fill="#30b030" stroke="none" stroke-width="1"/>
<rect x="444.7" y="57" width="18.6" height="3.5" fill="#38903a" stroke="none" stroke-width="1"/>
<rect x="444.7" y="60" width="18.6" height="2.5" fill="#2f8a30" stroke="none" stroke-width="1"/>
<rect x="444.7" y="62" width="18.6" height="2.7" fill="#304020" stroke="none" stroke-width="1"/>
<rect x="444.7" y="64.2" width="18.6" height="3.3" fill="#2a5a2a" stroke="none" stroke-width="1"/>
<rect x="444.7" y="67" width="18.6" height="2.7" fill="#388838" stroke="none" stroke-width="1"/>
<rect x="444.7" y="69.2" width="18.6" height="2.6" fill="#2a3a20" stroke="none" stroke-width="1"/>
<rect x="444.7" y="71.3" width="18.6" height="2.7" fill="#2f5f2f" stroke="none" stroke-width="1"/>
<rect x="444.7" y="73.5" width="18.6" height="2.6" fill="#3a8a3a" stroke="none" stroke-width="1"/>
<rect x="444.7" y="75.6" width="18.6" height="2.6" fill="#2f4f2f" stroke="none" stroke-width="1"/>
<rect x="444.7" y="77.7" width="18.6" height="3.4" fill="#358535" stroke="none" stroke-width="1"/>
<rect x="444.7" y="80.6" width="18.6" height="2.6" fill="#4a3025" stroke="none" stroke-width="1"/>
<rect x="444.7" y="82.7" width="18.6" height="5.8" fill="#8a2a2a" stroke="none" stroke-width="1"/>
<rect x="444.7" y="88" width="18.6" height="4" fill="#6a2a25" stroke="none" stroke-width="1"/>
<rect x="444.7" y="91.5" width="18.6" height="5.5" fill="#357535" stroke="none" stroke-width="1"/>
<rect x="444.7" y="96.5" width="18.6" height="3.4" fill="#a02a2a" stroke="none" stroke-width="1"/>
<rect x="444.7" y="99.4" width="18.6" height="7.6" fill="#c03030" stroke="none" stroke-width="1"/>
<rect x="444.7" y="106.5" width="18.6" height="3.3" fill="#6a2a25" stroke="none" stroke-width="1"/>
<rect x="444.7" y="109.3" width="18.6" height="5.5" fill="#2f5a2f" stroke="none" stroke-width="1"/>
<rect x="444.7" y="114.3" width="18.6" height="3.4" fill="#5a2a25" stroke="none" stroke-width="1"/>
<rect x="444.7" y="117.2" width="18.6" height="4" fill="#8a2a2a" stroke="none" stroke-width="1"/>
<rect x="444.7" y="120.7" width="18.6" height="4.1" fill="#2f4f2f" stroke="none" stroke-width="1"/>
<rect x="444.7" y="124.3" width="18.6" height="3.8" fill="#3a2a20" stroke="none" stroke-width="1"/>
<rect x="444.7" y="127.6" width="18.6" height="8.3" fill="#e83030" stroke="none" stroke-width="1"/>
<rect x="444.7" y="135.4" width="18.6" height="2.6" fill="#7a2a25" stroke="none" stroke-width="1"/>
<rect x="444.7" y="137.5" width="18.6" height="4" fill="#a02a2a" stroke="none" stroke-width="1"/>
<rect x="444.7" y="141" width="18.6" height="3.5" fill="#6a2525" stroke="none" stroke-width="1"/>
<rect x="444.7" y="144" width="18.6" height="3.3" fill="#a02a2a" stroke="none" stroke-width="1"/>
<rect x="444.7" y="146.8" width="18.6" height="3.3" fill="#7a2525" stroke="none" stroke-width="1"/>
<rect x="444.7" y="149.6" width="18.6" height="4.8" fill="#b02a2a" stroke="none" stroke-width="1"/>
<rect x="444.7" y="153.9" width="18.6" height="8.7" fill="#f03030" stroke="none" stroke-width="1"/>
<rect x="462.8" y="51" width="18.5" height="5.2" fill="#22e822" stroke="none" stroke-width="1"/>
<rect x="462.8" y="55.7" width="18.5" height="3.3" fill="#30c830" stroke="none" stroke-width="1"/>
<rect x="462.8" y="58.5" width="18.5" height="3.4" fill="#38a038" stroke="none" stroke-width="1"/>
<rect x="462.8" y="61.4" width="18.5" height="3.3" fill="#2f7f2f" stroke="none" stroke-width="1"/>
<rect x="462.8" y="64.2" width="18.5" height="3.3" fill="#3a8a3a" stroke="none" stroke-width="1"/>
<rect x="462.8" y="67" width="18.5" height="2.7" fill="#2f5f2f" stroke="none" stroke-width="1"/>
<rect x="462.8" y="69.2" width="18.5" height="3.3" fill="#357a35" stroke="none" stroke-width="1"/>
<rect x="462.8" y="72" width="18.5" height="3.5" fill="#2a4a2a" stroke="none" stroke-width="1"/>
<rect x="462.8" y="75" width="18.5" height="3.2" fill="#357a35" stroke="none" stroke-width="1"/>
<rect x="462.8" y="77.7" width="18.5" height="3.4" fill="#3a3a25" stroke="none" stroke-width="1"/>
<rect x="462.8" y="80.6" width="18.5" height="3.3" fill="#3a3020" stroke="none" stroke-width="1"/>
<rect x="462.8" y="83.4" width="18.5" height="5.1" fill="#3a8a3a" stroke="none" stroke-width="1"/>
<rect x="462.8" y="88" width="18.5" height="1.9" fill="#3a3a2a" stroke="none" stroke-width="1"/>
<rect x="462.8" y="89.4" width="18.5" height="4.1" fill="#38a038" stroke="none" stroke-width="1"/>
<rect x="462.8" y="93" width="18.5" height="5.5" fill="#b03030" stroke="none" stroke-width="1"/>
<rect x="462.8" y="98" width="18.5" height="3.3" fill="#4a2a20" stroke="none" stroke-width="1"/>
<rect x="462.8" y="100.8" width="18.5" height="4.1" fill="#6a2a25" stroke="none" stroke-width="1"/>
<rect x="462.8" y="104.4" width="18.5" height="4" fill="#b03030" stroke="none" stroke-width="1"/>
<rect x="462.8" y="107.9" width="18.5" height="4.1" fill="#3a3a2a" stroke="none" stroke-width="1"/>
<rect x="462.8" y="111.5" width="18.5" height="5.5" fill="#402a22" stroke="none" stroke-width="1"/>
<rect x="462.8" y="116.5" width="18.5" height="9" fill="#d03030" stroke="none" stroke-width="1"/>
<rect x="462.8" y="125" width="18.5" height="3.8" fill="#b03030" stroke="none" stroke-width="1"/>
<rect x="462.8" y="128.3" width="18.5" height="3.3" fill="#6a3025" stroke="none" stroke-width="1"/>
<rect x="462.8" y="131.1" width="18.5" height="5.5" fill="#c83030" stroke="none" stroke-width="1"/>
<rect x="462.8" y="136.1" width="18.5" height="4" fill="#7a2a25" stroke="none" stroke-width="1"/>
<rect x="462.8" y="139.6" width="18.5" height="4.8" fill="#c83030" stroke="none" stroke-width="1"/>
<rect x="462.8" y="143.9" width="18.5" height="8.6" fill="#e03030" stroke="none" stroke-width="1"/>
<rect x="462.8" y="152" width="18.5" height="10.6" fill="#f03030" stroke="none" stroke-width="1"/>
<rect x="480.8" y="51" width="18.7" height="7.3" fill="#22ee22" stroke="none" stroke-width="1"/>
<rect x="480.8" y="57.8" width="18.7" height="2.7" fill="#30b030" stroke="none" stroke-width="1"/>
<rect x="480.8" y="60" width="18.7" height="1.9" fill="#1a4a1a" stroke="none" stroke-width="1"/>
<rect x="480.8" y="61.4" width="18.7" height="5.5" fill="#30e030" stroke="none" stroke-width="1"/>
<rect x="480.8" y="66.4" width="18.7" height="2.6" fill="#5a2a20" stroke="none" stroke-width="1"/>
<rect x="480.8" y="68.5" width="18.7" height="4" fill="#8a2a2a" stroke="none" stroke-width="1"/>
<rect x="480.8" y="72" width="18.7" height="2.7" fill="#3a3020" stroke="none" stroke-width="1"/>
<rect x="480.8" y="74.2" width="18.7" height="4" fill="#3a8a3a" stroke="none" stroke-width="1"/>
<rect x="480.8" y="77.7" width="18.7" height="4.1" fill="#5a2a25" stroke="none" stroke-width="1"/>
<rect x="480.8" y="81.3" width="18.7" height="4" fill="#3a3a25" stroke="none" stroke-width="1"/>
<rect x="480.8" y="84.8" width="18.7" height="3.7" fill="#3a9a3a" stroke="none" stroke-width="1"/>
<rect x="480.8" y="88" width="18.7" height="4" fill="#3a8a3a" stroke="none" stroke-width="1"/>
<rect x="480.8" y="91.5" width="18.7" height="9.1" fill="#38903a" stroke="none" stroke-width="1"/>
<rect x="480.8" y="100.1" width="18.7" height="3.4" fill="#3a3a25" stroke="none" stroke-width="1"/>
<rect x="480.8" y="103" width="18.7" height="5.4" fill="#357535" stroke="none" stroke-width="1"/>
<rect x="480.8" y="107.9" width="18.7" height="4.1" fill="#3a3020" stroke="none" stroke-width="1"/>
<rect x="480.8" y="111.5" width="18.7" height="4.7" fill="#b83030" stroke="none" stroke-width="1"/>
<rect x="480.8" y="115.7" width="18.7" height="4.8" fill="#5a2525" stroke="none" stroke-width="1"/>
<rect x="480.8" y="120" width="18.7" height="8.8" fill="#a82a2a" stroke="none" stroke-width="1"/>
<rect x="480.8" y="128.3" width="18.7" height="4" fill="#6a2525" stroke="none" stroke-width="1"/>
<rect x="480.8" y="131.8" width="18.7" height="4.1" fill="#b03030" stroke="none" stroke-width="1"/>
<rect x="480.8" y="135.4" width="18.7" height="4.7" fill="#c83030" stroke="none" stroke-width="1"/>
<rect x="480.8" y="139.6" width="18.7" height="10.9" fill="#e03030" stroke="none" stroke-width="1"/>
<rect x="480.8" y="150" width="18.7" height="12.6" fill="#f03030" stroke="none" stroke-width="1"/>
<rect x="499" y="51" width="18.3" height="7.3" fill="#22ee22" stroke="none" stroke-width="1"/>
<rect x="499" y="57.8" width="18.3" height="3.4" fill="#30c030" stroke="none" stroke-width="1"/>
<rect x="499" y="60.7" width="18.3" height="5.4" fill="#30b030" stroke="none" stroke-width="1"/>
<rect x="499" y="65.6" width="18.3" height="3.4" fill="#2a8a2a" stroke="none" stroke-width="1"/>
<rect x="499" y="68.5" width="18.3" height="3.3" fill="#2f4f2f" stroke="none" stroke-width="1"/>
<rect x="499" y="71.3" width="18.3" height="3.4" fill="#303a28" stroke="none" stroke-width="1"/>
<rect x="499" y="74.2" width="18.3" height="4.7" fill="#a02a2a" stroke="none" stroke-width="1"/>
<rect x="499" y="78.4" width="18.3" height="4.1" fill="#c82a2a" stroke="none" stroke-width="1"/>
<rect x="499" y="82" width="18.3" height="3.3" fill="#902a2a" stroke="none" stroke-width="1"/>
<rect x="499" y="84.8" width="18.3" height="3.7" fill="#2f5a2f" stroke="none" stroke-width="1"/>
<rect x="499" y="88" width="18.3" height="4.8" fill="#2f7a2f" stroke="none" stroke-width="1"/>
<rect x="499" y="92.3" width="18.3" height="5.4" fill="#2f5a2f" stroke="none" stroke-width="1"/>
<rect x="499" y="97.2" width="18.3" height="6.9" fill="#2f4a2f" stroke="none" stroke-width="1"/>
<rect x="499" y="103.6" width="18.3" height="4.8" fill="#5a2a25" stroke="none" stroke-width="1"/>
<rect x="499" y="107.9" width="18.3" height="5.5" fill="#6a2a25" stroke="none" stroke-width="1"/>
<rect x="499" y="112.9" width="18.3" height="6.2" fill="#9a2a2a" stroke="none" stroke-width="1"/>
<rect x="499" y="118.6" width="18.3" height="5.5" fill="#c03030" stroke="none" stroke-width="1"/>
<rect x="499" y="123.6" width="18.3" height="5.2" fill="#b03030" stroke="none" stroke-width="1"/>
<rect x="499" y="128.3" width="18.3" height="4" fill="#7a2525" stroke="none" stroke-width="1"/>
<rect x="499" y="131.8" width="18.3" height="8.3" fill="#c03030" stroke="none" stroke-width="1"/>
<rect x="499" y="139.6" width="18.3" height="10.9" fill="#d83030" stroke="none" stroke-width="1"/>
<rect x="499" y="150" width="18.3" height="12.6" fill="#ee3030" stroke="none" stroke-width="1"/>
</g>
<text x="0" y="0" font-size="8.8" font-weight="bold" text-anchor="end" fill="#000" transform="translate(463.5,168.5) rotate(-49)" textLength="36.5" lengthAdjust="spacingAndGlyphs">Gfi1<tspan font-size="4.84" dy="-3.7">36N/36N</tspan></text>
<text x="0" y="0" font-size="8.8" font-weight="bold" text-anchor="end" fill="#000" transform="translate(476.3,168) rotate(-49)" textLength="19.5" lengthAdjust="spacingAndGlyphs">Gfi1<tspan font-size="4.84" dy="-3.7">-/-</tspan></text>
<text x="0" y="0" font-size="8.8" font-weight="bold" text-anchor="end" fill="#000" transform="translate(493.3,168) rotate(-49)" textLength="20.5" lengthAdjust="spacingAndGlyphs">Gfi1<tspan font-size="4.84" dy="-3.7">+/+</tspan></text>
<text x="0" y="0" font-size="8.8" font-weight="bold" text-anchor="end" fill="#000" transform="translate(508.5,168.5) rotate(-49)" textLength="32.5" lengthAdjust="spacingAndGlyphs">Gfi1<tspan font-size="4.84" dy="-3.7">36S/36S</tspan></text>
<text x="445.9" y="211.3" font-size="9.2" font-weight="bold" fill="#000" textLength="21.3" lengthAdjust="spacingAndGlyphs">down</text>
<text x="516.4" y="211.3" font-size="9.2" font-weight="bold" text-anchor="end" fill="#000" textLength="10.4" lengthAdjust="spacingAndGlyphs">up</text>
<defs><linearGradient id="dgrad" x1="0" x2="1" y1="0" y2="0"><stop offset="0" stop-color="#00e000"/><stop offset="0.48" stop-color="#000"/><stop offset="1" stop-color="#ff0000"/></linearGradient></defs>
<rect x="445.2" y="214.4" width="72.2" height="8.3" fill="url(#dgrad)" stroke="none" stroke-width="1"/>
<text x="2.7" y="253.9" font-size="11" font-weight="bold" fill="#000">E</text>
<rect x="15.45" y="291.75" width="6.3" height="6.1" fill="#e41208" stroke="#7a0a04" stroke-width="0.9"/>
<rect x="22.65" y="291.75" width="5.8" height="6.1" fill="#5006cc" stroke="#24026a" stroke-width="0.9"/>
<line x1="28.9" y1="291.3" x2="63.3" y2="291.3" stroke="#333" stroke-width="0.9"/>
<text x="34.7" y="297.6" font-size="5.9" font-family='"Liberation Serif", "Times New Roman", serif' fill="#1a1a1a" stroke="#1a1a1a" stroke-width="0.12">SNCA</text>
<rect x="15.45" y="298.75" width="6.3" height="6.1" fill="#e41208" stroke="#7a0a04" stroke-width="0.9"/>
<rect x="22.65" y="298.75" width="5.8" height="6.1" fill="#5006cc" stroke="#24026a" stroke-width="0.9"/>
<line x1="28.9" y1="298.3" x2="63.3" y2="298.3" stroke="#333" stroke-width="0.9"/>
<text x="34.7" y="304.6" font-size="5.9" font-family='"Liberation Serif", "Times New Roman", serif' fill="#1a1a1a" stroke="#1a1a1a" stroke-width="0.12">RSAD2</text>
<rect x="15.45" y="305.75" width="6.3" height="6.1" fill="#e41208" stroke="#7a0a04" stroke-width="0.9"/>
<rect x="22.65" y="305.75" width="5.8" height="6.1" fill="#5006cc" stroke="#24026a" stroke-width="0.9"/>
<line x1="28.9" y1="305.3" x2="63.3" y2="305.3" stroke="#333" stroke-width="0.9"/>
<text x="34.7" y="311.6" font-size="5.9" font-family='"Liberation Serif", "Times New Roman", serif' fill="#1a1a1a" stroke="#1a1a1a" stroke-width="0.12">TRIB1</text>
<rect x="15.45" y="312.75" width="6.3" height="6.1" fill="#e41208" stroke="#7a0a04" stroke-width="0.9"/>
<rect x="22.65" y="312.75" width="5.8" height="6.1" fill="#5006cc" stroke="#24026a" stroke-width="0.9"/>
<line x1="28.9" y1="312.3" x2="63.3" y2="312.3" stroke="#333" stroke-width="0.9"/>
<text x="34.7" y="318.6" font-size="5.9" font-family='"Liberation Serif", "Times New Roman", serif' fill="#1a1a1a" stroke="#1a1a1a" stroke-width="0.12">RMPB1A</text>
<rect x="15.45" y="319.75" width="6.3" height="6.1" fill="#e41208" stroke="#7a0a04" stroke-width="0.9"/>
<rect x="22.65" y="319.75" width="5.8" height="6.1" fill="#5006cc" stroke="#24026a" stroke-width="0.9"/>
<line x1="28.9" y1="319.3" x2="63.3" y2="319.3" stroke="#333" stroke-width="0.9"/>
<text x="34.7" y="325.6" font-size="5.9" font-family='"Liberation Serif", "Times New Roman", serif' fill="#1a1a1a" stroke="#1a1a1a" stroke-width="0.12">LOXL2</text>
<rect x="15.45" y="326.75" width="6.3" height="6.1" fill="#e41208" stroke="#7a0a04" stroke-width="0.9"/>
<rect x="22.65" y="326.75" width="5.8" height="6.1" fill="#5006cc" stroke="#24026a" stroke-width="0.9"/>
<line x1="28.9" y1="326.3" x2="63.3" y2="326.3" stroke="#333" stroke-width="0.9"/>
<text x="34.7" y="332.6" font-size="5.9" font-family='"Liberation Serif", "Times New Roman", serif' fill="#1a1a1a" stroke="#1a1a1a" stroke-width="0.12">ITLRA</text>
<rect x="15.45" y="333.75" width="6.3" height="6.1" fill="#e41208" stroke="#7a0a04" stroke-width="0.9"/>
<rect x="22.65" y="333.75" width="5.8" height="6.1" fill="#5006cc" stroke="#24026a" stroke-width="0.9"/>
<line x1="28.9" y1="333.3" x2="63.3" y2="333.3" stroke="#333" stroke-width="0.9"/>
<text x="34.7" y="339.6" font-size="5.9" font-family='"Liberation Serif", "Times New Roman", serif' fill="#1a1a1a" stroke="#1a1a1a" stroke-width="0.12">ETS1</text>
<rect x="15.45" y="340.75" width="6.3" height="6.1" fill="#e41208" stroke="#7a0a04" stroke-width="0.9"/>
<rect x="22.65" y="340.75" width="5.8" height="6.1" fill="#5006cc" stroke="#24026a" stroke-width="0.9"/>
<line x1="28.9" y1="340.3" x2="63.3" y2="340.3" stroke="#333" stroke-width="0.9"/>
<text x="34.7" y="346.6" font-size="5.9" font-family='"Liberation Serif", "Times New Roman", serif' fill="#1a1a1a" stroke="#1a1a1a" stroke-width="0.12">GYPA</text>
<rect x="15.45" y="347.75" width="6.3" height="6.1" fill="#e41208" stroke="#7a0a04" stroke-width="0.9"/>
<rect x="22.65" y="347.75" width="5.8" height="6.1" fill="#5006cc" stroke="#24026a" stroke-width="0.9"/>
<line x1="28.9" y1="347.3" x2="63.3" y2="347.3" stroke="#333" stroke-width="0.9"/>
<text x="34.7" y="353.6" font-size="5.9" font-family='"Liberation Serif", "Times New Roman", serif' fill="#1a1a1a" stroke="#1a1a1a" stroke-width="0.12">ST3GAL6</text>
<rect x="15.45" y="354.75" width="6.3" height="6.1" fill="#e41208" stroke="#7a0a04" stroke-width="0.9"/>
<rect x="22.65" y="354.75" width="5.8" height="6.1" fill="#5006cc" stroke="#24026a" stroke-width="0.9"/>
<line x1="28.9" y1="354.3" x2="63.3" y2="354.3" stroke="#333" stroke-width="0.9"/>
<text x="34.7" y="360.6" font-size="5.9" font-family='"Liberation Serif", "Times New Roman", serif' fill="#1a1a1a" stroke="#1a1a1a" stroke-width="0.12">SLCO2AC1</text>
<rect x="15.45" y="361.75" width="6.3" height="6.1" fill="#e41208" stroke="#7a0a04" stroke-width="0.9"/>
<rect x="22.65" y="361.75" width="5.8" height="6.1" fill="#5006cc" stroke="#24026a" stroke-width="0.9"/>
<line x1="28.9" y1="361.3" x2="63.3" y2="361.3" stroke="#333" stroke-width="0.9"/>
<text x="34.7" y="367.6" font-size="5.9" font-family='"Liberation Serif", "Times New Roman", serif' fill="#1a1a1a" stroke="#1a1a1a" stroke-width="0.12">CBR2</text>
<rect x="15.45" y="368.75" width="6.3" height="6.1" fill="#e41208" stroke="#7a0a04" stroke-width="0.9"/>
<rect x="22.65" y="368.75" width="5.8" height="6.1" fill="#5006cc" stroke="#24026a" stroke-width="0.9"/>
<line x1="28.9" y1="368.3" x2="63.3" y2="368.3" stroke="#333" stroke-width="0.9"/>
<text x="34.7" y="374.6" font-size="5.9" font-family='"Liberation Serif", "Times New Roman", serif' fill="#1a1a1a" stroke="#1a1a1a" stroke-width="0.12">FGR</text>
<rect x="15.45" y="375.75" width="6.3" height="6.1" fill="#e41208" stroke="#7a0a04" stroke-width="0.9"/>
<rect x="22.65" y="375.75" width="5.8" height="6.1" fill="#5006cc" stroke="#24026a" stroke-width="0.9"/>
<line x1="28.9" y1="375.3" x2="63.3" y2="375.3" stroke="#333" stroke-width="0.9"/>
<text x="34.7" y="381.6" font-size="5.9" font-family='"Liberation Serif", "Times New Roman", serif' fill="#1a1a1a" stroke="#1a1a1a" stroke-width="0.12">PHD</text>
<rect x="15.45" y="382.75" width="6.3" height="6.1" fill="#e41208" stroke="#7a0a04" stroke-width="0.9"/>
<rect x="22.65" y="382.75" width="5.8" height="6.1" fill="#5006cc" stroke="#24026a" stroke-width="0.9"/>
<line x1="28.9" y1="382.3" x2="63.3" y2="382.3" stroke="#333" stroke-width="0.9"/>
<text x="34.7" y="388.6" font-size="5.9" font-family='"Liberation Serif", "Times New Roman", serif' fill="#1a1a1a" stroke="#1a1a1a" stroke-width="0.12">TSPAN8</text>
<rect x="15.45" y="389.75" width="6.3" height="6.1" fill="#e41208" stroke="#7a0a04" stroke-width="0.9"/>
<rect x="22.65" y="389.75" width="5.8" height="6.1" fill="#5006cc" stroke="#24026a" stroke-width="0.9"/>
<line x1="28.9" y1="389.3" x2="63.3" y2="389.3" stroke="#333" stroke-width="0.9"/>
<text x="34.7" y="395.6" font-size="5.9" font-family='"Liberation Serif", "Times New Roman", serif' fill="#1a1a1a" stroke="#1a1a1a" stroke-width="0.12">SLC7A11</text>
<rect x="15.45" y="396.75" width="6.3" height="6.1" fill="#e41208" stroke="#7a0a04" stroke-width="0.9"/>
<rect x="22.65" y="396.75" width="5.8" height="6.1" fill="#5006cc" stroke="#24026a" stroke-width="0.9"/>
<line x1="28.9" y1="396.3" x2="63.3" y2="396.3" stroke="#333" stroke-width="0.9"/>
<text x="34.7" y="402.6" font-size="5.9" font-family='"Liberation Serif", "Times New Roman", serif' fill="#1a1a1a" stroke="#1a1a1a" stroke-width="0.12">ABCA13</text>
<rect x="15.45" y="403.75" width="6.3" height="6.1" fill="#e41208" stroke="#7a0a04" stroke-width="0.9"/>
<rect x="22.65" y="403.75" width="5.8" height="6.1" fill="#5006cc" stroke="#24026a" stroke-width="0.9"/>
<line x1="28.9" y1="403.3" x2="63.3" y2="403.3" stroke="#333" stroke-width="0.9"/>
<text x="34.7" y="409.6" font-size="5.9" font-family='"Liberation Serif", "Times New Roman", serif' fill="#1a1a1a" stroke="#1a1a1a" stroke-width="0.12">ALAS2</text>
<rect x="15.45" y="410.75" width="6.3" height="6.1" fill="#e41208" stroke="#7a0a04" stroke-width="0.9"/>
<rect x="22.65" y="410.75" width="5.8" height="6.1" fill="#5006cc" stroke="#24026a" stroke-width="0.9"/>
<line x1="28.9" y1="410.3" x2="63.3" y2="410.3" stroke="#333" stroke-width="0.9"/>
<text x="34.7" y="416.6" font-size="5.9" font-family='"Liberation Serif", "Times New Roman", serif' fill="#1a1a1a" stroke="#1a1a1a" stroke-width="0.12">FN3K</text>
<rect x="15.45" y="417.75" width="6.3" height="6.1" fill="#e41208" stroke="#7a0a04" stroke-width="0.9"/>
<rect x="22.65" y="417.75" width="5.8" height="6.1" fill="#5006cc" stroke="#24026a" stroke-width="0.9"/>
<line x1="28.9" y1="417.3" x2="63.3" y2="417.3" stroke="#333" stroke-width="0.9"/>
<text x="34.7" y="423.6" font-size="5.9" font-family='"Liberation Serif", "Times New Roman", serif' fill="#1a1a1a" stroke="#1a1a1a" stroke-width="0.12">FRYL5</text>
<rect x="15.45" y="424.75" width="6.3" height="6.1" fill="#e41208" stroke="#7a0a04" stroke-width="0.9"/>
<rect x="22.65" y="424.75" width="5.8" height="6.1" fill="#5006cc" stroke="#24026a" stroke-width="0.9"/>
<line x1="28.9" y1="424.3" x2="63.3" y2="424.3" stroke="#333" stroke-width="0.9"/>
<text x="34.7" y="430.6" font-size="5.9" font-family='"Liberation Serif", "Times New Roman", serif' fill="#1a1a1a" stroke="#1a1a1a" stroke-width="0.12">P2F2</text>
<rect x="15.45" y="431.75" width="6.3" height="6.1" fill="#e41208" stroke="#7a0a04" stroke-width="0.9"/>
<rect x="22.65" y="431.75" width="5.8" height="6.1" fill="#5006cc" stroke="#24026a" stroke-width="0.9"/>
<line x1="28.9" y1="431.3" x2="63.3" y2="431.3" stroke="#333" stroke-width="0.9"/>
<text x="34.7" y="437.6" font-size="5.9" font-family='"Liberation Serif", "Times New Roman", serif' fill="#1a1a1a" stroke="#1a1a1a" stroke-width="0.12">MVD1</text>
<rect x="15.45" y="438.75" width="6.3" height="6.1" fill="#e41208" stroke="#7a0a04" stroke-width="0.9"/>
<rect x="22.65" y="438.75" width="5.8" height="6.1" fill="#5006cc" stroke="#24026a" stroke-width="0.9"/>
<line x1="28.9" y1="438.3" x2="63.3" y2="438.3" stroke="#333" stroke-width="0.9"/>
<text x="34.7" y="444.6" font-size="5.9" font-family='"Liberation Serif", "Times New Roman", serif' fill="#1a1a1a" stroke="#1a1a1a" stroke-width="0.12">ST3GAL5</text>
<rect x="15.45" y="445.75" width="6.3" height="6.1" fill="#e41208" stroke="#7a0a04" stroke-width="0.9"/>
<rect x="22.65" y="445.75" width="5.8" height="6.1" fill="#5006cc" stroke="#24026a" stroke-width="0.9"/>
<line x1="28.9" y1="445.3" x2="63.3" y2="445.3" stroke="#333" stroke-width="0.9"/>
<text x="34.7" y="451.6" font-size="5.9" font-family='"Liberation Serif", "Times New Roman", serif' fill="#1a1a1a" stroke="#1a1a1a" stroke-width="0.12">SLC4A1</text>
<rect x="15.45" y="452.75" width="6.3" height="6.1" fill="#e41208" stroke="#7a0a04" stroke-width="0.9"/>
<rect x="22.65" y="452.75" width="5.8" height="6.1" fill="#5006cc" stroke="#24026a" stroke-width="0.9"/>
<line x1="28.9" y1="452.3" x2="63.3" y2="452.3" stroke="#333" stroke-width="0.9"/>
<text x="34.7" y="458.6" font-size="5.9" font-family='"Liberation Serif", "Times New Roman", serif' fill="#1a1a1a" stroke="#1a1a1a" stroke-width="0.12">P2RY13</text>
<rect x="15.45" y="459.75" width="6.3" height="6.1" fill="#e41208" stroke="#7a0a04" stroke-width="0.9"/>
<rect x="22.65" y="459.75" width="5.8" height="6.1" fill="#5006cc" stroke="#24026a" stroke-width="0.9"/>
<line x1="28.9" y1="459.3" x2="63.3" y2="459.3" stroke="#333" stroke-width="0.9"/>
<text x="34.7" y="465.6" font-size="5.9" font-family='"Liberation Serif", "Times New Roman", serif' fill="#1a1a1a" stroke="#1a1a1a" stroke-width="0.12">SAMD9L</text>
<rect x="15.45" y="466.75" width="6.3" height="6.1" fill="#e41208" stroke="#7a0a04" stroke-width="0.9"/>
<rect x="22.65" y="466.75" width="5.8" height="6.1" fill="#5006cc" stroke="#24026a" stroke-width="0.9"/>
<line x1="28.9" y1="466.3" x2="63.3" y2="466.3" stroke="#333" stroke-width="0.9"/>
<text x="34.7" y="472.6" font-size="5.9" font-family='"Liberation Serif", "Times New Roman", serif' fill="#1a1a1a" stroke="#1a1a1a" stroke-width="0.12">RAB3D</text>
<rect x="15.45" y="473.75" width="6.3" height="6.1" fill="#e41208" stroke="#7a0a04" stroke-width="0.9"/>
<rect x="22.65" y="473.75" width="5.8" height="6.1" fill="#5006cc" stroke="#24026a" stroke-width="0.9"/>
<line x1="28.9" y1="473.3" x2="63.3" y2="473.3" stroke="#333" stroke-width="0.9"/>
<text x="34.7" y="479.6" font-size="5.9" font-family='"Liberation Serif", "Times New Roman", serif' fill="#1a1a1a" stroke="#1a1a1a" stroke-width="0.12">PGLYRP1</text>
<rect x="15.45" y="480.75" width="6.3" height="6.1" fill="#e41208" stroke="#7a0a04" stroke-width="0.9"/>
<rect x="22.65" y="480.75" width="5.8" height="6.1" fill="#5006cc" stroke="#24026a" stroke-width="0.9"/>
<line x1="28.9" y1="480.3" x2="63.3" y2="480.3" stroke="#333" stroke-width="0.9"/>
<text x="34.7" y="486.6" font-size="5.9" font-family='"Liberation Serif", "Times New Roman", serif' fill="#1a1a1a" stroke="#1a1a1a" stroke-width="0.12">TMCC2</text>
<rect x="15.45" y="487.75" width="6.3" height="6.1" fill="#e41208" stroke="#7a0a04" stroke-width="0.9"/>
<rect x="22.65" y="487.75" width="5.8" height="6.1" fill="#5006cc" stroke="#24026a" stroke-width="0.9"/>
<line x1="28.9" y1="487.3" x2="63.3" y2="487.3" stroke="#333" stroke-width="0.9"/>
<text x="34.7" y="493.6" font-size="5.9" font-family='"Liberation Serif", "Times New Roman", serif' fill="#1a1a1a" stroke="#1a1a1a" stroke-width="0.12">ADAM</text>
<rect x="15.45" y="494.75" width="6.3" height="6.1" fill="#5006cc" stroke="#24026a" stroke-width="0.9"/>
<rect x="22.65" y="494.75" width="5.8" height="6.1" fill="#e41208" stroke="#7a0a04" stroke-width="0.9"/>
<line x1="28.9" y1="494.3" x2="63.3" y2="494.3" stroke="#333" stroke-width="0.9"/>
<text x="34.7" y="500.6" font-size="5.9" font-family='"Liberation Serif", "Times New Roman", serif' fill="#1a1a1a" stroke="#1a1a1a" stroke-width="0.12">RBMS1</text>
<rect x="15.45" y="501.75" width="6.3" height="6.1" fill="#5006cc" stroke="#24026a" stroke-width="0.9"/>
<rect x="22.65" y="501.75" width="5.8" height="6.1" fill="#e41208" stroke="#7a0a04" stroke-width="0.9"/>
<line x1="28.9" y1="501.3" x2="63.3" y2="501.3" stroke="#333" stroke-width="0.9"/>
<text x="34.7" y="507.6" font-size="5.9" font-family='"Liberation Serif", "Times New Roman", serif' fill="#1a1a1a" stroke="#1a1a1a" stroke-width="0.12">SUCLG2</text>
<rect x="15.45" y="508.75" width="6.3" height="6.1" fill="#5006cc" stroke="#24026a" stroke-width="0.9"/>
<rect x="22.65" y="508.75" width="5.8" height="6.1" fill="#e41208" stroke="#7a0a04" stroke-width="0.9"/>
<line x1="28.9" y1="508.3" x2="63.3" y2="508.3" stroke="#333" stroke-width="0.9"/>
<text x="34.7" y="514.6" font-size="5.9" font-family='"Liberation Serif", "Times New Roman", serif' fill="#1a1a1a" stroke="#1a1a1a" stroke-width="0.12">RNF141</text>
<rect x="15.45" y="515.75" width="6.3" height="6.1" fill="#5006cc" stroke="#24026a" stroke-width="0.9"/>
<rect x="22.65" y="515.75" width="5.8" height="6.1" fill="#e41208" stroke="#7a0a04" stroke-width="0.9"/>
<line x1="28.9" y1="515.3" x2="63.3" y2="515.3" stroke="#333" stroke-width="0.9"/>
<text x="34.7" y="521.6" font-size="5.9" font-family='"Liberation Serif", "Times New Roman", serif' fill="#1a1a1a" stroke="#1a1a1a" stroke-width="0.12">ANKRD57</text>
<rect x="15.45" y="522.75" width="6.3" height="6.1" fill="#5006cc" stroke="#24026a" stroke-width="0.9"/>
<rect x="22.65" y="522.75" width="5.8" height="6.1" fill="#e41208" stroke="#7a0a04" stroke-width="0.9"/>
<line x1="28.9" y1="522.3" x2="63.3" y2="522.3" stroke="#333" stroke-width="0.9"/>
<text x="34.7" y="528.6" font-size="5.9" font-family='"Liberation Serif", "Times New Roman", serif' fill="#1a1a1a" stroke="#1a1a1a" stroke-width="0.12">MARCH8</text>
<rect x="15.45" y="529.75" width="6.3" height="6.1" fill="#5006cc" stroke="#24026a" stroke-width="0.9"/>
<rect x="22.65" y="529.75" width="5.8" height="6.1" fill="#e41208" stroke="#7a0a04" stroke-width="0.9"/>
<line x1="28.9" y1="529.3" x2="63.3" y2="529.3" stroke="#333" stroke-width="0.9"/>
<text x="34.7" y="535.6" font-size="5.9" font-family='"Liberation Serif", "Times New Roman", serif' fill="#1a1a1a" stroke="#1a1a1a" stroke-width="0.12">MTSS1</text>
<rect x="15.45" y="536.75" width="6.3" height="6.1" fill="#5006cc" stroke="#24026a" stroke-width="0.9"/>
<rect x="22.65" y="536.75" width="5.8" height="6.1" fill="#e41208" stroke="#7a0a04" stroke-width="0.9"/>
<line x1="28.9" y1="536.3" x2="63.3" y2="536.3" stroke="#333" stroke-width="0.9"/>
<text x="34.7" y="542.6" font-size="5.9" font-family='"Liberation Serif", "Times New Roman", serif' fill="#1a1a1a" stroke="#1a1a1a" stroke-width="0.12">GDPD3</text>
<rect x="77.85" y="292.65" width="5.2" height="5.72" fill="#e41208" stroke="#7a0a04" stroke-width="0.9"/>
<rect x="83.95" y="292.65" width="5.5" height="5.72" fill="#5006cc" stroke="#24026a" stroke-width="0.9"/>
<line x1="89.9" y1="292.2" x2="127.6" y2="292.2" stroke="#333" stroke-width="0.9"/>
<text x="94" y="298.12" font-size="5.9" font-family='"Liberation Serif", "Times New Roman", serif' fill="#1a1a1a" stroke="#1a1a1a" stroke-width="0.12">KRF1</text>
<rect x="77.85" y="299.27" width="5.2" height="5.72" fill="#e41208" stroke="#7a0a04" stroke-width="0.9"/>
<rect x="83.95" y="299.27" width="5.5" height="5.72" fill="#5006cc" stroke="#24026a" stroke-width="0.9"/>
<line x1="89.9" y1="298.82" x2="127.6" y2="298.82" stroke="#333" stroke-width="0.9"/>
<text x="94" y="304.74" font-size="5.9" font-family='"Liberation Serif", "Times New Roman", serif' fill="#1a1a1a" stroke="#1a1a1a" stroke-width="0.12">TCF7</text>
<rect x="77.85" y="305.89" width="5.2" height="5.72" fill="#e41208" stroke="#7a0a04" stroke-width="0.9"/>
<rect x="83.95" y="305.89" width="5.5" height="5.72" fill="#5006cc" stroke="#24026a" stroke-width="0.9"/>
<line x1="89.9" y1="305.44" x2="127.6" y2="305.44" stroke="#333" stroke-width="0.9"/>
<text x="94" y="311.36" font-size="5.9" font-family='"Liberation Serif", "Times New Roman", serif' fill="#1a1a1a" stroke="#1a1a1a" stroke-width="0.12">IL7R</text>
<rect x="77.85" y="312.51" width="5.2" height="5.72" fill="#e41208" stroke="#7a0a04" stroke-width="0.9"/>
<rect x="83.95" y="312.51" width="5.5" height="5.72" fill="#5006cc" stroke="#24026a" stroke-width="0.9"/>
<line x1="89.9" y1="312.06" x2="127.6" y2="312.06" stroke="#333" stroke-width="0.9"/>
<text x="94" y="317.98" font-size="5.9" font-family='"Liberation Serif", "Times New Roman", serif' fill="#1a1a1a" stroke="#1a1a1a" stroke-width="0.12">RSAD2</text>
<rect x="77.85" y="319.13" width="5.2" height="5.72" fill="#e41208" stroke="#7a0a04" stroke-width="0.9"/>
<rect x="83.95" y="319.13" width="5.5" height="5.72" fill="#5006cc" stroke="#24026a" stroke-width="0.9"/>
<line x1="89.9" y1="318.68" x2="127.6" y2="318.68" stroke="#333" stroke-width="0.9"/>
<text x="94" y="324.6" font-size="5.9" font-family='"Liberation Serif", "Times New Roman", serif' fill="#1a1a1a" stroke="#1a1a1a" stroke-width="0.12">GZMA</text>
<rect x="77.85" y="325.75" width="5.2" height="5.72" fill="#e41208" stroke="#7a0a04" stroke-width="0.9"/>
<rect x="83.95" y="325.75" width="5.5" height="5.72" fill="#5006cc" stroke="#24026a" stroke-width="0.9"/>
<line x1="89.9" y1="325.3" x2="127.6" y2="325.3" stroke="#333" stroke-width="0.9"/>
<text x="94" y="331.22" font-size="5.9" font-family='"Liberation Serif", "Times New Roman", serif' fill="#1a1a1a" stroke="#1a1a1a" stroke-width="0.12">PAX5</text>
<rect x="77.85" y="332.37" width="5.2" height="5.72" fill="#e41208" stroke="#7a0a04" stroke-width="0.9"/>
<rect x="83.95" y="332.37" width="5.5" height="5.72" fill="#5006cc" stroke="#24026a" stroke-width="0.9"/>
<line x1="89.9" y1="331.92" x2="127.6" y2="331.92" stroke="#333" stroke-width="0.9"/>
<text x="94" y="337.84" font-size="5.9" font-family='"Liberation Serif", "Times New Roman", serif' fill="#1a1a1a" stroke="#1a1a1a" stroke-width="0.12">NIPA1</text>
<rect x="77.85" y="338.99" width="5.2" height="5.72" fill="#e41208" stroke="#7a0a04" stroke-width="0.9"/>
<rect x="83.95" y="338.99" width="5.5" height="5.72" fill="#5006cc" stroke="#24026a" stroke-width="0.9"/>
<line x1="89.9" y1="338.54" x2="127.6" y2="338.54" stroke="#333" stroke-width="0.9"/>
<text x="94" y="344.46" font-size="5.9" font-family='"Liberation Serif", "Times New Roman", serif' fill="#1a1a1a" stroke="#1a1a1a" stroke-width="0.12">CD79A</text>
<rect x="77.85" y="345.61" width="5.2" height="5.72" fill="#e41208" stroke="#7a0a04" stroke-width="0.9"/>
<rect x="83.95" y="345.61" width="5.5" height="5.72" fill="#5006cc" stroke="#24026a" stroke-width="0.9"/>
<line x1="89.9" y1="345.16" x2="127.6" y2="345.16" stroke="#333" stroke-width="0.9"/>
<text x="94" y="351.08" font-size="5.9" font-family='"Liberation Serif", "Times New Roman", serif' fill="#1a1a1a" stroke="#1a1a1a" stroke-width="0.12">VNN1</text>
<rect x="77.85" y="352.23" width="5.2" height="5.72" fill="#e41208" stroke="#7a0a04" stroke-width="0.9"/>
<rect x="83.95" y="352.23" width="5.5" height="5.72" fill="#5006cc" stroke="#24026a" stroke-width="0.9"/>
<line x1="89.9" y1="351.78" x2="127.6" y2="351.78" stroke="#333" stroke-width="0.9"/>
<text x="94" y="357.7" font-size="5.9" font-family='"Liberation Serif", "Times New Roman", serif' fill="#1a1a1a" stroke="#1a1a1a" stroke-width="0.12">IGLL1</text>
<rect x="77.85" y="358.85" width="5.2" height="5.72" fill="#e41208" stroke="#7a0a04" stroke-width="0.9"/>
<rect x="83.95" y="358.85" width="5.5" height="5.72" fill="#5006cc" stroke="#24026a" stroke-width="0.9"/>
<line x1="89.9" y1="358.4" x2="127.6" y2="358.4" stroke="#333" stroke-width="0.9"/>
<text x="94" y="364.32" font-size="5.9" font-family='"Liberation Serif", "Times New Roman", serif' fill="#1a1a1a" stroke="#1a1a1a" stroke-width="0.12">LTK</text>
<rect x="77.85" y="365.47" width="5.2" height="5.72" fill="#e41208" stroke="#7a0a04" stroke-width="0.9"/>
<rect x="83.95" y="365.47" width="5.5" height="5.72" fill="#5006cc" stroke="#24026a" stroke-width="0.9"/>
<line x1="89.9" y1="365.02" x2="127.6" y2="365.02" stroke="#333" stroke-width="0.9"/>
<text x="94" y="370.94" font-size="5.9" font-family='"Liberation Serif", "Times New Roman", serif' fill="#1a1a1a" stroke="#1a1a1a" stroke-width="0.12">PLA2G7</text>
<rect x="77.85" y="372.09" width="5.2" height="5.72" fill="#e41208" stroke="#7a0a04" stroke-width="0.9"/>
<rect x="83.95" y="372.09" width="5.5" height="5.72" fill="#5006cc" stroke="#24026a" stroke-width="0.9"/>
<line x1="89.9" y1="371.64" x2="127.6" y2="371.64" stroke="#333" stroke-width="0.9"/>
<text x="94" y="377.56" font-size="5.9" font-family='"Liberation Serif", "Times New Roman", serif' fill="#1a1a1a" stroke="#1a1a1a" stroke-width="0.12">MMP9</text>
<rect x="77.85" y="378.71" width="5.2" height="5.72" fill="#e41208" stroke="#7a0a04" stroke-width="0.9"/>
<rect x="83.95" y="378.71" width="5.5" height="5.72" fill="#5006cc" stroke="#24026a" stroke-width="0.9"/>
<line x1="89.9" y1="378.26" x2="127.6" y2="378.26" stroke="#333" stroke-width="0.9"/>
<text x="94" y="384.18" font-size="5.9" font-family='"Liberation Serif", "Times New Roman", serif' fill="#1a1a1a" stroke="#1a1a1a" stroke-width="0.12">CD2</text>
<rect x="77.85" y="385.33" width="5.2" height="5.72" fill="#e41208" stroke="#7a0a04" stroke-width="0.9"/>
<rect x="83.95" y="385.33" width="5.5" height="5.72" fill="#5006cc" stroke="#24026a" stroke-width="0.9"/>
<line x1="89.9" y1="384.88" x2="127.6" y2="384.88" stroke="#333" stroke-width="0.9"/>
<text x="94" y="390.8" font-size="5.9" font-family='"Liberation Serif", "Times New Roman", serif' fill="#1a1a1a" stroke="#1a1a1a" stroke-width="0.12">ARMT1</text>
<rect x="77.85" y="391.95" width="5.2" height="5.72" fill="#e41208" stroke="#7a0a04" stroke-width="0.9"/>
<rect x="83.95" y="391.95" width="5.5" height="5.72" fill="#5006cc" stroke="#24026a" stroke-width="0.9"/>
<line x1="89.9" y1="391.5" x2="127.6" y2="391.5" stroke="#333" stroke-width="0.9"/>
<text x="94" y="397.42" font-size="5.9" font-family='"Liberation Serif", "Times New Roman", serif' fill="#1a1a1a" stroke="#1a1a1a" stroke-width="0.12">AK112010</text>
<rect x="77.85" y="398.57" width="5.2" height="5.72" fill="#e41208" stroke="#7a0a04" stroke-width="0.9"/>
<rect x="83.95" y="398.57" width="5.5" height="5.72" fill="#5006cc" stroke="#24026a" stroke-width="0.9"/>
<line x1="89.9" y1="398.12" x2="127.6" y2="398.12" stroke="#333" stroke-width="0.9"/>
<text x="94" y="404.04" font-size="5.9" font-family='"Liberation Serif", "Times New Roman", serif' fill="#1a1a1a" stroke="#1a1a1a" stroke-width="0.12">LTB</text>
<rect x="77.85" y="405.19" width="5.2" height="5.72" fill="#e41208" stroke="#7a0a04" stroke-width="0.9"/>
<rect x="83.95" y="405.19" width="5.5" height="5.72" fill="#5006cc" stroke="#24026a" stroke-width="0.9"/>
<line x1="89.9" y1="404.74" x2="127.6" y2="404.74" stroke="#333" stroke-width="0.9"/>
<text x="94" y="410.66" font-size="5.9" font-family='"Liberation Serif", "Times New Roman", serif' fill="#1a1a1a" stroke="#1a1a1a" stroke-width="0.12">1100001G</text>
<rect x="77.85" y="411.81" width="5.2" height="5.72" fill="#e41208" stroke="#7a0a04" stroke-width="0.9"/>
<rect x="83.95" y="411.81" width="5.5" height="5.72" fill="#5006cc" stroke="#24026a" stroke-width="0.9"/>
<line x1="89.9" y1="411.36" x2="127.6" y2="411.36" stroke="#333" stroke-width="0.9"/>
<text x="94" y="417.28" font-size="5.9" font-family='"Liberation Serif", "Times New Roman", serif' fill="#1a1a1a" stroke="#1a1a1a" stroke-width="0.12">LEF1</text>
<rect x="77.85" y="418.43" width="5.2" height="5.72" fill="#e41208" stroke="#7a0a04" stroke-width="0.9"/>
<rect x="83.95" y="418.43" width="5.5" height="5.72" fill="#5006cc" stroke="#24026a" stroke-width="0.9"/>
<line x1="89.9" y1="417.98" x2="127.6" y2="417.98" stroke="#333" stroke-width="0.9"/>
<text x="94" y="423.9" font-size="5.9" font-family='"Liberation Serif", "Times New Roman", serif' fill="#1a1a1a" stroke="#1a1a1a" stroke-width="0.12">MYL4</text>
<rect x="77.85" y="425.05" width="5.2" height="5.72" fill="#e41208" stroke="#7a0a04" stroke-width="0.9"/>
<rect x="83.95" y="425.05" width="5.5" height="5.72" fill="#5006cc" stroke="#24026a" stroke-width="0.9"/>
<line x1="89.9" y1="424.6" x2="127.6" y2="424.6" stroke="#333" stroke-width="0.9"/>
<text x="94" y="430.52" font-size="5.9" font-family='"Liberation Serif", "Times New Roman", serif' fill="#1a1a1a" stroke="#1a1a1a" stroke-width="0.12">LTF</text>
<rect x="77.85" y="431.67" width="5.2" height="5.72" fill="#e41208" stroke="#7a0a04" stroke-width="0.9"/>
<rect x="83.95" y="431.67" width="5.5" height="5.72" fill="#5006cc" stroke="#24026a" stroke-width="0.9"/>
<line x1="89.9" y1="431.22" x2="127.6" y2="431.22" stroke="#333" stroke-width="0.9"/>
<text x="94" y="437.14" font-size="5.9" font-family='"Liberation Serif", "Times New Roman", serif' fill="#1a1a1a" stroke="#1a1a1a" stroke-width="0.12">MS4A4C</text>
<rect x="77.85" y="438.29" width="5.2" height="5.72" fill="#5006cc" stroke="#24026a" stroke-width="0.9"/>
<rect x="83.95" y="438.29" width="5.5" height="5.72" fill="#e41208" stroke="#7a0a04" stroke-width="0.9"/>
<line x1="89.9" y1="437.84" x2="127.6" y2="437.84" stroke="#333" stroke-width="0.9"/>
<text x="94" y="443.76" font-size="5.9" font-family='"Liberation Serif", "Times New Roman", serif' fill="#1a1a1a" stroke="#1a1a1a" stroke-width="0.12">CPA3</text>
<rect x="77.85" y="444.91" width="5.2" height="5.72" fill="#5006cc" stroke="#24026a" stroke-width="0.9"/>
<rect x="83.95" y="444.91" width="5.5" height="5.72" fill="#e41208" stroke="#7a0a04" stroke-width="0.9"/>
<line x1="89.9" y1="444.46" x2="127.6" y2="444.46" stroke="#333" stroke-width="0.9"/>
<text x="94" y="450.38" font-size="5.9" font-family='"Liberation Serif", "Times New Roman", serif' fill="#1a1a1a" stroke="#1a1a1a" stroke-width="0.12">RALGPS2</text>
<rect x="77.85" y="451.53" width="5.2" height="5.72" fill="#5006cc" stroke="#24026a" stroke-width="0.9"/>
<rect x="83.95" y="451.53" width="5.5" height="5.72" fill="#e41208" stroke="#7a0a04" stroke-width="0.9"/>
<line x1="89.9" y1="451.08" x2="127.6" y2="451.08" stroke="#333" stroke-width="0.9"/>
<text x="94" y="457" font-size="5.9" font-family='"Liberation Serif", "Times New Roman", serif' fill="#1a1a1a" stroke="#1a1a1a" stroke-width="0.12">RCYDMA</text>
<rect x="77.85" y="458.15" width="5.2" height="5.72" fill="#5006cc" stroke="#24026a" stroke-width="0.9"/>
<rect x="83.95" y="458.15" width="5.5" height="5.72" fill="#e41208" stroke="#7a0a04" stroke-width="0.9"/>
<line x1="89.9" y1="457.7" x2="127.6" y2="457.7" stroke="#333" stroke-width="0.9"/>
<text x="94" y="463.62" font-size="5.9" font-family='"Liberation Serif", "Times New Roman", serif' fill="#1a1a1a" stroke="#1a1a1a" stroke-width="0.12">KLF1RS</text>
<rect x="77.85" y="464.77" width="5.2" height="5.72" fill="#5006cc" stroke="#24026a" stroke-width="0.9"/>
<rect x="83.95" y="464.77" width="5.5" height="5.72" fill="#e41208" stroke="#7a0a04" stroke-width="0.9"/>
<line x1="89.9" y1="464.32" x2="127.6" y2="464.32" stroke="#333" stroke-width="0.9"/>
<text x="94" y="470.24" font-size="5.9" font-family='"Liberation Serif", "Times New Roman", serif' fill="#1a1a1a" stroke="#1a1a1a" stroke-width="0.12">GUSB</text>
<rect x="77.85" y="471.39" width="5.2" height="5.72" fill="#5006cc" stroke="#24026a" stroke-width="0.9"/>
<rect x="83.95" y="471.39" width="5.5" height="5.72" fill="#e41208" stroke="#7a0a04" stroke-width="0.9"/>
<line x1="89.9" y1="470.94" x2="127.6" y2="470.94" stroke="#333" stroke-width="0.9"/>
<text x="94" y="476.86" font-size="5.9" font-family='"Liberation Serif", "Times New Roman", serif' fill="#1a1a1a" stroke="#1a1a1a" stroke-width="0.12">2310007B0</text>
<rect x="77.85" y="478.01" width="5.2" height="5.72" fill="#5006cc" stroke="#24026a" stroke-width="0.9"/>
<rect x="83.95" y="478.01" width="5.5" height="5.72" fill="#e41208" stroke="#7a0a04" stroke-width="0.9"/>
<line x1="89.9" y1="477.56" x2="127.6" y2="477.56" stroke="#333" stroke-width="0.9"/>
<text x="94" y="483.48" font-size="5.9" font-family='"Liberation Serif", "Times New Roman", serif' fill="#1a1a1a" stroke="#1a1a1a" stroke-width="0.12">RPIC</text>
<rect x="77.85" y="484.63" width="5.2" height="5.72" fill="#5006cc" stroke="#24026a" stroke-width="0.9"/>
<rect x="83.95" y="484.63" width="5.5" height="5.72" fill="#e41208" stroke="#7a0a04" stroke-width="0.9"/>
<line x1="89.9" y1="484.18" x2="127.6" y2="484.18" stroke="#333" stroke-width="0.9"/>
<text x="94" y="490.1" font-size="5.9" font-family='"Liberation Serif", "Times New Roman", serif' fill="#1a1a1a" stroke="#1a1a1a" stroke-width="0.12">IL1RL1</text>
<rect x="77.85" y="491.25" width="5.2" height="5.72" fill="#5006cc" stroke="#24026a" stroke-width="0.9"/>
<rect x="83.95" y="491.25" width="5.5" height="5.72" fill="#e41208" stroke="#7a0a04" stroke-width="0.9"/>
<line x1="89.9" y1="490.8" x2="127.6" y2="490.8" stroke="#333" stroke-width="0.9"/>
<text x="94" y="496.72" font-size="5.9" font-family='"Liberation Serif", "Times New Roman", serif' fill="#1a1a1a" stroke="#1a1a1a" stroke-width="0.12">CPSF4</text>
<rect x="77.85" y="497.87" width="5.2" height="5.72" fill="#5006cc" stroke="#24026a" stroke-width="0.9"/>
<rect x="83.95" y="497.87" width="5.5" height="5.72" fill="#e41208" stroke="#7a0a04" stroke-width="0.9"/>
<line x1="89.9" y1="497.42" x2="127.6" y2="497.42" stroke="#333" stroke-width="0.9"/>
<text x="94" y="503.34" font-size="5.9" font-family='"Liberation Serif", "Times New Roman", serif' fill="#1a1a1a" stroke="#1a1a1a" stroke-width="0.12">RNF11</text>
<rect x="77.85" y="504.49" width="5.2" height="5.72" fill="#5006cc" stroke="#24026a" stroke-width="0.9"/>
<rect x="83.95" y="504.49" width="5.5" height="5.72" fill="#e41208" stroke="#7a0a04" stroke-width="0.9"/>
<line x1="89.9" y1="504.04" x2="127.6" y2="504.04" stroke="#333" stroke-width="0.9"/>
<text x="94" y="509.96" font-size="5.9" font-family='"Liberation Serif", "Times New Roman", serif' fill="#1a1a1a" stroke="#1a1a1a" stroke-width="0.12">TNFAIP1</text>
<rect x="77.85" y="511.11" width="5.2" height="5.72" fill="#5006cc" stroke="#24026a" stroke-width="0.9"/>
<rect x="83.95" y="511.11" width="5.5" height="5.72" fill="#e41208" stroke="#7a0a04" stroke-width="0.9"/>
<line x1="89.9" y1="510.66" x2="127.6" y2="510.66" stroke="#333" stroke-width="0.9"/>
<text x="94" y="516.58" font-size="5.9" font-family='"Liberation Serif", "Times New Roman", serif' fill="#1a1a1a" stroke="#1a1a1a" stroke-width="0.12">PLS3</text>
<rect x="77.85" y="517.73" width="5.2" height="5.72" fill="#5006cc" stroke="#24026a" stroke-width="0.9"/>
<rect x="83.95" y="517.73" width="5.5" height="5.72" fill="#e41208" stroke="#7a0a04" stroke-width="0.9"/>
<line x1="89.9" y1="517.28" x2="127.6" y2="517.28" stroke="#333" stroke-width="0.9"/>
<text x="94" y="523.2" font-size="5.9" font-family='"Liberation Serif", "Times New Roman", serif' fill="#1a1a1a" stroke="#1a1a1a" stroke-width="0.12">ANGPT1</text>
<rect x="77.85" y="524.35" width="5.2" height="5.72" fill="#5006cc" stroke="#24026a" stroke-width="0.9"/>
<rect x="83.95" y="524.35" width="5.5" height="5.72" fill="#e41208" stroke="#7a0a04" stroke-width="0.9"/>
<line x1="89.9" y1="523.9" x2="127.6" y2="523.9" stroke="#333" stroke-width="0.9"/>
<text x="94" y="529.82" font-size="5.9" font-family='"Liberation Serif", "Times New Roman", serif' fill="#1a1a1a" stroke="#1a1a1a" stroke-width="0.12">GDPD3</text>
<rect x="77.85" y="530.97" width="5.2" height="5.72" fill="#5006cc" stroke="#24026a" stroke-width="0.9"/>
<rect x="83.95" y="530.97" width="5.5" height="5.72" fill="#e41208" stroke="#7a0a04" stroke-width="0.9"/>
<line x1="89.9" y1="530.52" x2="127.6" y2="530.52" stroke="#333" stroke-width="0.9"/>
<text x="94" y="536.44" font-size="5.9" font-family='"Liberation Serif", "Times New Roman", serif' fill="#1a1a1a" stroke="#1a1a1a" stroke-width="0.12">PRP1</text>
<rect x="77.85" y="537.59" width="5.2" height="5.72" fill="#5006cc" stroke="#24026a" stroke-width="0.9"/>
<rect x="83.95" y="537.59" width="5.5" height="5.72" fill="#e41208" stroke="#7a0a04" stroke-width="0.9"/>
<line x1="89.9" y1="537.14" x2="127.6" y2="537.14" stroke="#333" stroke-width="0.9"/>
<text x="94" y="543.06" font-size="5.9" font-family='"Liberation Serif", "Times New Roman", serif' fill="#1a1a1a" stroke="#1a1a1a" stroke-width="0.12">PDE7A</text>
<text x="0" y="0" font-size="8.2" font-weight="bold" fill="#000" transform="translate(21.3,288) rotate(-90)">Gfi1<tspan font-size="4.51" dy="-3.44">36N/36N</tspan></text>
<text x="0" y="0" font-size="8.2" font-weight="bold" fill="#000" transform="translate(28.1,288) rotate(-90)">Gfi1<tspan font-size="4.51" dy="-3.44">36S/36S</tspan></text>
<text x="0" y="0" font-size="8.2" font-weight="bold" fill="#000" transform="translate(82.3,288) rotate(-90)">Gfi1<tspan font-size="4.51" dy="-3.44">36N/36N</tspan></text>
<text x="0" y="0" font-size="8.2" font-weight="bold" fill="#000" transform="translate(89,288) rotate(-90)">Gfi1<tspan font-size="4.51" dy="-3.44">36S/36S</tspan></text>
<text x="50.5" y="266.6" font-size="8.6" font-weight="bold" text-anchor="middle" fill="#000">HSC</text>
<text x="50.5" y="276.2" font-size="8.6" font-weight="bold" text-anchor="middle" fill="#000">Mature_</text>
<text x="50.5" y="285.8" font-size="8.6" font-weight="bold" text-anchor="middle" fill="#000">Adult</text>
<text x="108.7" y="266.6" font-size="8.6" font-weight="bold" text-anchor="middle" fill="#000">Kumar_</text>
<text x="108.7" y="276.2" font-size="8.6" font-weight="bold" text-anchor="middle" fill="#000">HoxA</text>
<text x="108.7" y="285.8" font-size="8.6" font-weight="bold" text-anchor="middle" fill="#000">_Diff</text>
<text x="144.2" y="256.8" font-size="11" font-weight="bold" fill="#000">F</text>
<text x="154.4" y="265.6" font-size="8.2" font-weight="bold" fill="#000" id="ft1">HSC_Mature_Adult</text>
<text x="259.5" y="265.6" font-size="8.2" font-weight="bold" fill="#000" id="ft2">Kumar_HoxA_Diff</text>
<rect x="149.7" y="270.4" width="92.5" height="89" fill="#f2efe4" stroke="none" stroke-width="1"/>
<rect x="150.2" y="270.9" width="9.5" height="76.6" fill="#e9e4d2" stroke="none" stroke-width="1"/>
<rect x="160.2" y="271.3" width="77.9" height="75.7" fill="#fff" stroke="#c4c4c4" stroke-width="0.5"/>
<line x1="154.7" y1="273.5" x2="158.7" y2="273.5" stroke="#8c8c8c" stroke-width="0.9"/>
<line x1="154.7" y1="276.7" x2="158.7" y2="276.7" stroke="#8c8c8c" stroke-width="0.9"/>
<line x1="154.7" y1="279.9" x2="158.7" y2="279.9" stroke="#8c8c8c" stroke-width="0.9"/>
<line x1="154.7" y1="283.1" x2="158.7" y2="283.1" stroke="#8c8c8c" stroke-width="0.9"/>
<line x1="154.7" y1="286.3" x2="158.7" y2="286.3" stroke="#8c8c8c" stroke-width="0.9"/>
<line x1="154.7" y1="289.5" x2="158.7" y2="289.5" stroke="#8c8c8c" stroke-width="0.9"/>
<line x1="154.7" y1="292.7" x2="158.7" y2="292.7" stroke="#8c8c8c" stroke-width="0.9"/>
<line x1="154.7" y1="295.9" x2="158.7" y2="295.9" stroke="#8c8c8c" stroke-width="0.9"/>
<line x1="154.7" y1="299.1" x2="158.7" y2="299.1" stroke="#8c8c8c" stroke-width="0.9"/>
<line x1="154.7" y1="302.3" x2="158.7" y2="302.3" stroke="#8c8c8c" stroke-width="0.9"/>
<line x1="155.2" y1="325" x2="158.7" y2="325" stroke="#9a9a9a" stroke-width="0.8"/>
<line x1="155.2" y1="328.8" x2="158.7" y2="328.8" stroke="#9a9a9a" stroke-width="0.8"/>
<line x1="155.2" y1="332.6" x2="158.7" y2="332.6" stroke="#9a9a9a" stroke-width="0.8"/>
<line x1="155.2" y1="336.4" x2="158.7" y2="336.4" stroke="#9a9a9a" stroke-width="0.8"/>
<line x1="155.2" y1="340.2" x2="158.7" y2="340.2" stroke="#9a9a9a" stroke-width="0.8"/>
<line x1="155.2" y1="344" x2="158.7" y2="344" stroke="#9a9a9a" stroke-width="0.8"/>
<line x1="152.7" y1="280" x2="152.7" y2="300" stroke="#bbb" stroke-width="1.2"/>
<line x1="152.7" y1="326" x2="152.7" y2="345" stroke="#bbb" stroke-width="1.2"/>
<line x1="160.2" y1="306.3" x2="238.1" y2="306.3" stroke="#bbb" stroke-width="0.5"/>
<path d="M160.87,303.08 L162.98,298.85 L165.1,299.91 L166.16,291.44 L168.27,290.39 L169.33,286.16 L170.81,280.87 L173.56,282.98 L175.67,284.04 L177.79,279.81 L179.91,274.52 L182.66,273.04 L185.19,273.89 L189.43,277.69 L195.77,281.92 L202.12,286.16 L208.47,289.33 L214.81,293.56 L221.16,297.79 L227.5,303.08 L229.62,304.14 L231.74,302.02 L233.85,304.14 L235.54,302.66 L237.02,303.5" fill="none" stroke="#66cc66" stroke-width="1.1"/>
<rect x="160.2" y="306.6" width="77.9" height="11.8" fill="#f6f6f6" stroke="none" stroke-width="1"/>
<line x1="161.9" y1="306.6" x2="161.9" y2="318.4" stroke="#8a8a8a" stroke-width="0.9"/>
<line x1="164.5" y1="306.6" x2="164.5" y2="318.4" stroke="#8a8a8a" stroke-width="0.9"/>
<line x1="166.2" y1="306.6" x2="166.2" y2="318.4" stroke="#3a3a3a" stroke-width="0.9"/>
<line x1="168.8" y1="306.6" x2="168.8" y2="318.4" stroke="#3a3a3a" stroke-width="0.9"/>
<line x1="169.6" y1="306.6" x2="169.6" y2="318.4" stroke="#3a3a3a" stroke-width="0.9"/>
<line x1="170.5" y1="306.6" x2="170.5" y2="318.4" stroke="#3a3a3a" stroke-width="0.9"/>
<line x1="171.4" y1="306.6" x2="171.4" y2="318.4" stroke="#3a3a3a" stroke-width="0.9"/>
<line x1="176.6" y1="306.6" x2="176.6" y2="318.4" stroke="#3a3a3a" stroke-width="0.9"/>
<line x1="177.5" y1="306.6" x2="177.5" y2="318.4" stroke="#3a3a3a" stroke-width="0.9"/>
<line x1="178.4" y1="306.6" x2="178.4" y2="318.4" stroke="#3a3a3a" stroke-width="0.9"/>
<line x1="179.2" y1="306.6" x2="179.2" y2="318.4" stroke="#3a3a3a" stroke-width="0.9"/>
<line x1="180" y1="306.6" x2="180" y2="318.4" stroke="#3a3a3a" stroke-width="0.9"/>
<line x1="182.7" y1="306.6" x2="182.7" y2="318.4" stroke="#8a8a8a" stroke-width="0.9"/>
<line x1="187" y1="306.6" x2="187" y2="318.4" stroke="#8a8a8a" stroke-width="0.9"/>
<line x1="189.6" y1="306.6" x2="189.6" y2="318.4" stroke="#bdbdbd" stroke-width="0.9"/>
<line x1="198.3" y1="306.6" x2="198.3" y2="318.4" stroke="#8a8a8a" stroke-width="0.9"/>
<line x1="200.8" y1="306.6" x2="200.8" y2="318.4" stroke="#8a8a8a" stroke-width="0.9"/>
<line x1="206" y1="306.6" x2="206" y2="318.4" stroke="#8a8a8a" stroke-width="0.9"/>
<line x1="209.5" y1="306.6" x2="209.5" y2="318.4" stroke="#8a8a8a" stroke-width="0.9"/>
<line x1="216.4" y1="306.6" x2="216.4" y2="318.4" stroke="#8a8a8a" stroke-width="0.9"/>
<line x1="219.9" y1="306.6" x2="219.9" y2="318.4" stroke="#8a8a8a" stroke-width="0.9"/>
<line x1="229.4" y1="306.6" x2="229.4" y2="318.4" stroke="#8a8a8a" stroke-width="0.9"/>
<line x1="232" y1="306.6" x2="232" y2="318.4" stroke="#3a3a3a" stroke-width="0.9"/>
<line x1="233.7" y1="306.6" x2="233.7" y2="318.4" stroke="#8a8a8a" stroke-width="0.9"/>
<defs><linearGradient id="gs149" x1="0" x2="1"><stop offset="0" stop-color="#e03c3c"/><stop offset="0.3" stop-color="#e87070"/><stop offset="0.36" stop-color="#f2eaf2"/><stop offset="0.62" stop-color="#a8a8e8"/><stop offset="0.95" stop-color="#3434c4"/><stop offset="1" stop-color="#0a0a40"/></linearGradient></defs>
<rect x="160.2" y="318.8" width="77.9" height="3.5" fill="url(#gs149)" stroke="none" stroke-width="1"/>
<path d="M160.2,332.5 L160.2,324.5 Q163.2,328 175.2,329 L205.38,332.5 Z M205.38,332.5 L224.1,334.3 Q235.1,335.3 238.1,339 L238.1,332.5 Z" fill="#c6c6c6" stroke="#a0a0a0" stroke-width="0.4"/>
<line x1="160.2" y1="332.5" x2="238.1" y2="332.5" stroke="#b0b0b0" stroke-width="0.4"/>
<rect x="182.2" y="333.3" width="13" height="1.3" fill="#c8c8c8" stroke="none" stroke-width="1"/>
<rect x="200.2" y="343.8" width="27" height="1.2" fill="#c0c0ec" stroke="none" stroke-width="1"/>
<rect x="160.2" y="347.4" width="4" height="1.2" fill="#d0d0d0" stroke="none" stroke-width="1"/>
<rect x="169.44" y="347.4" width="4" height="1.2" fill="#d0d0d0" stroke="none" stroke-width="1"/>
<rect x="178.67" y="347.4" width="4" height="1.2" fill="#d0d0d0" stroke="none" stroke-width="1"/>
<rect x="187.91" y="347.4" width="4" height="1.2" fill="#d0d0d0" stroke="none" stroke-width="1"/>
<rect x="197.15" y="347.4" width="4" height="1.2" fill="#d0d0d0" stroke="none" stroke-width="1"/>
<rect x="206.39" y="347.4" width="4" height="1.2" fill="#d0d0d0" stroke="none" stroke-width="1"/>
<rect x="215.62" y="347.4" width="4" height="1.2" fill="#d0d0d0" stroke="none" stroke-width="1"/>
<rect x="224.86" y="347.4" width="4" height="1.2" fill="#d0d0d0" stroke="none" stroke-width="1"/>
<rect x="234.1" y="347.4" width="4" height="1.2" fill="#d0d0d0" stroke="none" stroke-width="1"/>
<rect x="187.2" y="350.2" width="25" height="1.4" fill="#c4c4c4" stroke="none" stroke-width="1"/>
<rect x="163.4" y="354.2" width="63.4" height="3.3" fill="#fbfbf8" stroke="#b4b4b4" stroke-width="0.6"/>
<rect x="166.2" y="355.4" width="18" height="0.9" fill="#d6d6d6" stroke="none" stroke-width="1"/>
<rect x="193.2" y="355.4" width="5" height="0.9" fill="#d6d6d6" stroke="none" stroke-width="1"/>
<rect x="206.2" y="355.4" width="18" height="0.9" fill="#d6d6d6" stroke="none" stroke-width="1"/>
<rect x="253.8" y="270.4" width="91.7" height="89" fill="#f2efe4" stroke="none" stroke-width="1"/>
<rect x="254.3" y="270.9" width="8.3" height="76.6" fill="#e9e4d2" stroke="none" stroke-width="1"/>
<rect x="263.1" y="271.3" width="77.9" height="75.7" fill="#fff" stroke="#c4c4c4" stroke-width="0.5"/>
<line x1="257.6" y1="273.5" x2="261.6" y2="273.5" stroke="#8c8c8c" stroke-width="0.9"/>
<line x1="257.6" y1="276.7" x2="261.6" y2="276.7" stroke="#8c8c8c" stroke-width="0.9"/>
<line x1="257.6" y1="279.9" x2="261.6" y2="279.9" stroke="#8c8c8c" stroke-width="0.9"/>
<line x1="257.6" y1="283.1" x2="261.6" y2="283.1" stroke="#8c8c8c" stroke-width="0.9"/>
<line x1="257.6" y1="286.3" x2="261.6" y2="286.3" stroke="#8c8c8c" stroke-width="0.9"/>
<line x1="257.6" y1="289.5" x2="261.6" y2="289.5" stroke="#8c8c8c" stroke-width="0.9"/>
<line x1="257.6" y1="292.7" x2="261.6" y2="292.7" stroke="#8c8c8c" stroke-width="0.9"/>
<line x1="257.6" y1="295.9" x2="261.6" y2="295.9" stroke="#8c8c8c" stroke-width="0.9"/>
<line x1="257.6" y1="299.1" x2="261.6" y2="299.1" stroke="#8c8c8c" stroke-width="0.9"/>
<line x1="257.6" y1="302.3" x2="261.6" y2="302.3" stroke="#8c8c8c" stroke-width="0.9"/>
<line x1="258.1" y1="325" x2="261.6" y2="325" stroke="#9a9a9a" stroke-width="0.8"/>
<line x1="258.1" y1="328.8" x2="261.6" y2="328.8" stroke="#9a9a9a" stroke-width="0.8"/>
<line x1="258.1" y1="332.6" x2="261.6" y2="332.6" stroke="#9a9a9a" stroke-width="0.8"/>
<line x1="258.1" y1="336.4" x2="261.6" y2="336.4" stroke="#9a9a9a" stroke-width="0.8"/>
<line x1="258.1" y1="340.2" x2="261.6" y2="340.2" stroke="#9a9a9a" stroke-width="0.8"/>
<line x1="258.1" y1="344" x2="261.6" y2="344" stroke="#9a9a9a" stroke-width="0.8"/>
<line x1="256.8" y1="280" x2="256.8" y2="300" stroke="#bbb" stroke-width="1.2"/>
<line x1="256.8" y1="326" x2="256.8" y2="345" stroke="#bbb" stroke-width="1.2"/>
<line x1="263.1" y1="306.3" x2="341" y2="306.3" stroke="#bbb" stroke-width="0.5"/>
<line x1="263.1" y1="293.6" x2="341" y2="293.6" stroke="#aaa" stroke-width="0.6"/>
<path d="M263.75,291.44 L264.81,285.1 L265.87,280.87 L267.98,279.81 L270.1,277.69 L272.21,276.64 L274.33,277.69 L276.44,276.64 L278.56,272.4 L280.67,274.52 L283.85,276.64 L287.02,276.64 L290.19,278.75 L294.43,280.87 L300.77,285.1 L307.12,289.33 L313.47,293.56 L317.7,294.62 L321.93,296.73 L326.16,299.91 L330.39,304.14 L332.5,303.5 L334.62,299.91 L336.74,297.79 L338.85,296.73 L340.54,293.56" fill="none" stroke="#66cc66" stroke-width="1.1"/>
<rect x="263.1" y="306.6" width="77.9" height="11.8" fill="#f6f6f6" stroke="none" stroke-width="1"/>
<line x1="264.9" y1="306.6" x2="264.9" y2="318.4" stroke="#8a8a8a" stroke-width="0.9"/>
<line x1="267.5" y1="306.6" x2="267.5" y2="318.4" stroke="#3a3a3a" stroke-width="0.9"/>
<line x1="269.8" y1="306.6" x2="269.8" y2="318.4" stroke="#8a8a8a" stroke-width="0.9"/>
<line x1="271.8" y1="306.6" x2="271.8" y2="318.4" stroke="#3a3a3a" stroke-width="0.9"/>
<line x1="275.3" y1="306.6" x2="275.3" y2="318.4" stroke="#8a8a8a" stroke-width="0.9"/>
<line x1="277.9" y1="306.6" x2="277.9" y2="318.4" stroke="#3a3a3a" stroke-width="0.9"/>
<line x1="285.7" y1="306.6" x2="285.7" y2="318.4" stroke="#8a8a8a" stroke-width="0.9"/>
<line x1="287.4" y1="306.6" x2="287.4" y2="318.4" stroke="#3a3a3a" stroke-width="0.9"/>
<line x1="290.9" y1="306.6" x2="290.9" y2="318.4" stroke="#bdbdbd" stroke-width="0.9"/>
<line x1="294.3" y1="306.6" x2="294.3" y2="318.4" stroke="#bdbdbd" stroke-width="0.9"/>
<line x1="296.9" y1="306.6" x2="296.9" y2="318.4" stroke="#8a8a8a" stroke-width="0.9"/>
<line x1="303" y1="306.6" x2="303" y2="318.4" stroke="#8a8a8a" stroke-width="0.9"/>
<line x1="309.9" y1="306.6" x2="309.9" y2="318.4" stroke="#bdbdbd" stroke-width="0.9"/>
<line x1="313.4" y1="306.6" x2="313.4" y2="318.4" stroke="#8a8a8a" stroke-width="0.9"/>
<line x1="317.7" y1="306.6" x2="317.7" y2="318.4" stroke="#8a8a8a" stroke-width="0.9"/>
<line x1="321.1" y1="306.6" x2="321.1" y2="318.4" stroke="#8a8a8a" stroke-width="0.9"/>
<line x1="324.6" y1="306.6" x2="324.6" y2="318.4" stroke="#bdbdbd" stroke-width="0.9"/>
<line x1="330.7" y1="306.6" x2="330.7" y2="318.4" stroke="#8a8a8a" stroke-width="0.9"/>
<line x1="332.4" y1="306.6" x2="332.4" y2="318.4" stroke="#3a3a3a" stroke-width="0.9"/>
<line x1="334.1" y1="306.6" x2="334.1" y2="318.4" stroke="#8a8a8a" stroke-width="0.9"/>
<line x1="338.5" y1="306.6" x2="338.5" y2="318.4" stroke="#bdbdbd" stroke-width="0.9"/>
<defs><linearGradient id="gs253" x1="0" x2="1"><stop offset="0" stop-color="#e03c3c"/><stop offset="0.28" stop-color="#e87070"/><stop offset="0.34" stop-color="#f2eaf2"/><stop offset="0.62" stop-color="#a8a8e8"/><stop offset="0.95" stop-color="#3434c4"/><stop offset="1" stop-color="#0a0a40"/></linearGradient></defs>
<rect x="263.1" y="318.8" width="77.9" height="3.5" fill="url(#gs253)" stroke="none" stroke-width="1"/>
<path d="M263.1,332.5 L263.1,324.5 Q266.1,328 278.1,329 L308.28,332.5 Z M308.28,332.5 L327,334.3 Q338,335.3 341,339 L341,332.5 Z" fill="#c6c6c6" stroke="#a0a0a0" stroke-width="0.4"/>
<line x1="263.1" y1="332.5" x2="341" y2="332.5" stroke="#b0b0b0" stroke-width="0.4"/>
<rect x="285.1" y="333.3" width="13" height="1.3" fill="#c8c8c8" stroke="none" stroke-width="1"/>
<rect x="303.1" y="343.8" width="27" height="1.2" fill="#c0c0ec" stroke="none" stroke-width="1"/>
<rect x="263.1" y="347.4" width="4" height="1.2" fill="#d0d0d0" stroke="none" stroke-width="1"/>
<rect x="272.34" y="347.4" width="4" height="1.2" fill="#d0d0d0" stroke="none" stroke-width="1"/>
<rect x="281.58" y="347.4" width="4" height="1.2" fill="#d0d0d0" stroke="none" stroke-width="1"/>
<rect x="290.81" y="347.4" width="4" height="1.2" fill="#d0d0d0" stroke="none" stroke-width="1"/>
<rect x="300.05" y="347.4" width="4" height="1.2" fill="#d0d0d0" stroke="none" stroke-width="1"/>
<rect x="309.29" y="347.4" width="4" height="1.2" fill="#d0d0d0" stroke="none" stroke-width="1"/>
<rect x="318.52" y="347.4" width="4" height="1.2" fill="#d0d0d0" stroke="none" stroke-width="1"/>
<rect x="327.76" y="347.4" width="4" height="1.2" fill="#d0d0d0" stroke="none" stroke-width="1"/>
<rect x="337" y="347.4" width="4" height="1.2" fill="#d0d0d0" stroke="none" stroke-width="1"/>
<rect x="290.1" y="350.2" width="25" height="1.4" fill="#c4c4c4" stroke="none" stroke-width="1"/>
<rect x="266.3" y="354.2" width="63.4" height="3.3" fill="#fbfbf8" stroke="#b4b4b4" stroke-width="0.6"/>
<rect x="269.1" y="355.4" width="18" height="0.9" fill="#d6d6d6" stroke="none" stroke-width="1"/>
<rect x="296.1" y="355.4" width="5" height="0.9" fill="#d6d6d6" stroke="none" stroke-width="1"/>
<rect x="309.1" y="355.4" width="18" height="0.9" fill="#d6d6d6" stroke="none" stroke-width="1"/>
<text x="361.3" y="266.9" font-size="11" font-weight="bold" fill="#000">G</text>
<rect x="377.3" y="273.9" width="132.1" height="115.5" fill="#fff" stroke="#3a3a3a" stroke-width="1.1"/>
<line x1="416.2" y1="273.9" x2="416.2" y2="389.4" stroke="#3a3a3a" stroke-width="1.1"/>
<line x1="476.6" y1="273.9" x2="476.6" y2="389.4" stroke="#3a3a3a" stroke-width="1.1"/>
<line x1="377.3" y1="286.4" x2="509.4" y2="286.4" stroke="#3a3a3a" stroke-width="1.1"/>
<line x1="377.3" y1="309.3" x2="509.4" y2="309.3" stroke="#3a3a3a" stroke-width="1.1"/>
<line x1="377.3" y1="343.3" x2="509.4" y2="343.3" stroke="#3a3a3a" stroke-width="1.1"/>
<line x1="377.3" y1="366.3" x2="509.4" y2="366.3" stroke="#3a3a3a" stroke-width="1.1"/>
<text x="396.75" y="283" font-size="7.3" text-anchor="middle" fill="#111" stroke="#111" stroke-width="0.15">Category</text>
<text x="446.4" y="283" font-size="7.3" text-anchor="middle" fill="#111" stroke="#111" stroke-width="0.15">Term</text>
<text x="493" y="283" font-size="7.3" text-anchor="middle" fill="#111" stroke="#111" stroke-width="0.15">P-Value</text>
<text x="446.4" y="296.3" font-size="7.3" text-anchor="middle" fill="#111" stroke="#111" stroke-width="0.15" textLength="58.3" lengthAdjust="spacingAndGlyphs">Hematopoietic cell</text>
<text x="446.4" y="304.9" font-size="7.3" text-anchor="middle" fill="#111" stroke="#111" stroke-width="0.15">lineage</text>
<text x="396.75" y="296.65" font-size="7.3" text-anchor="middle" fill="#111" stroke="#111" stroke-width="0.15" textLength="26.5" lengthAdjust="spacingAndGlyphs">KEGG_</text>
<text x="396.75" y="305.05" font-size="7.3" text-anchor="middle" fill="#111" stroke="#111" stroke-width="0.15" textLength="35.6" lengthAdjust="spacingAndGlyphs">PATHWAY</text>
<text x="493" y="300.65" font-size="7.3" text-anchor="middle" fill="#111" stroke="#111" stroke-width="0.15">1.70E-07</text>
<text x="446.4" y="320.8" font-size="7.3" text-anchor="middle" fill="#111" stroke="#111" stroke-width="0.15">Cytokine-cytokine</text>
<text x="446.4" y="329.4" font-size="7.3" text-anchor="middle" fill="#111" stroke="#111" stroke-width="0.15">receptor</text>
<text x="446.4" y="338" font-size="7.3" text-anchor="middle" fill="#111" stroke="#111" stroke-width="0.15">interaction</text>
<text x="396.75" y="325.1" font-size="7.3" text-anchor="middle" fill="#111" stroke="#111" stroke-width="0.15" textLength="26.5" lengthAdjust="spacingAndGlyphs">KEGG_</text>
<text x="396.75" y="333.5" font-size="7.3" text-anchor="middle" fill="#111" stroke="#111" stroke-width="0.15" textLength="35.6" lengthAdjust="spacingAndGlyphs">PATHWAY</text>
<text x="493" y="329.1" font-size="7.3" text-anchor="middle" fill="#111" stroke="#111" stroke-width="0.15">3.60E-06</text>
<text x="446.4" y="353.4" font-size="7.3" text-anchor="middle" fill="#111" stroke="#111" stroke-width="0.15">Jak-STAT</text>
<text x="446.4" y="362" font-size="7.3" text-anchor="middle" fill="#111" stroke="#111" stroke-width="0.15">signaling pathway</text>
<text x="396.75" y="353.6" font-size="7.3" text-anchor="middle" fill="#111" stroke="#111" stroke-width="0.15" textLength="26.5" lengthAdjust="spacingAndGlyphs">KEGG_</text>
<text x="396.75" y="362" font-size="7.3" text-anchor="middle" fill="#111" stroke="#111" stroke-width="0.15" textLength="35.6" lengthAdjust="spacingAndGlyphs">PATHWAY</text>
<text x="493" y="357.6" font-size="7.3" text-anchor="middle" fill="#111" stroke="#111" stroke-width="0.15">1.60E-02</text>
<text x="446.4" y="376.4" font-size="7.3" text-anchor="middle" fill="#111" stroke="#111" stroke-width="0.15">Pathways in</text>
<text x="446.4" y="385" font-size="7.3" text-anchor="middle" fill="#111" stroke="#111" stroke-width="0.15">cancer</text>
<text x="396.75" y="376.65" font-size="7.3" text-anchor="middle" fill="#111" stroke="#111" stroke-width="0.15" textLength="26.5" lengthAdjust="spacingAndGlyphs">KEGG_</text>
<text x="396.75" y="385.05" font-size="7.3" text-anchor="middle" fill="#111" stroke="#111" stroke-width="0.15" textLength="35.6" lengthAdjust="spacingAndGlyphs">PATHWAY</text>
<text x="493" y="380.65" font-size="7.3" text-anchor="middle" fill="#111" stroke="#111" stroke-width="0.15">1.90E-02</text>
<text x="166.7" y="388.2" font-size="11" font-weight="bold" fill="#000">H</text>
<defs><clipPath id="cY"><ellipse cx="227.8" cy="433.6" rx="46.8" ry="48.2" fill="#000"/></clipPath><clipPath id="cC"><ellipse cx="233.5" cy="473.8" rx="54.3" ry="55.8" fill="#000"/></clipPath><clipPath id="cP"><ellipse cx="286" cy="447.8" rx="40.2" ry="42" fill="#000"/></clipPath></defs>
<ellipse cx="227.8" cy="433.6" rx="46.8" ry="48.2" fill="#fdfdc4"/>
<ellipse cx="233.5" cy="473.8" rx="54.3" ry="55.8" fill="#c6f6fc"/>
<ellipse cx="286" cy="447.8" rx="40.2" ry="42" fill="#fbc2c2"/>
<g clip-path="url(#cY)"><ellipse cx="233.5" cy="473.8" rx="54.3" ry="55.8" fill="#bab300"/><ellipse cx="286" cy="447.8" rx="40.2" ry="42" fill="#7272ee"/></g>
<g clip-path="url(#cC)"><ellipse cx="286" cy="447.8" rx="40.2" ry="42" fill="#c6f4bc"/></g>
<g clip-path="url(#cY)"><g clip-path="url(#cC)"><ellipse cx="286" cy="447.8" rx="40.2" ry="42" fill="#b6b6ba"/></g></g>
<ellipse cx="227.8" cy="433.6" rx="46.8" ry="48.2" fill="none" stroke="#d6d49a" stroke-width="1"/>
<ellipse cx="233.5" cy="473.8" rx="54.3" ry="55.8" fill="none" stroke="#9cc8cc" stroke-width="1"/>
<ellipse cx="286" cy="447.8" rx="40.2" ry="42" fill="none" stroke="#d8a0a0" stroke-width="1"/>
<text x="225.4" y="394.9" font-size="8.4" font-weight="bold" text-anchor="middle" fill="#000">368</text>
<text x="195.8" y="406.9" font-size="8.4" font-weight="bold" fill="#000" textLength="51.5" lengthAdjust="spacingAndGlyphs">Gfi1<tspan font-size="4.87" dy="-3.53">36S/36S</tspan><tspan font-size="8.4" dy="3.53">_vs_</tspan></text>
<text x="195.8" y="417.3" font-size="8.4" font-weight="bold" fill="#000" textLength="57.2" lengthAdjust="spacingAndGlyphs">Gfi1<tspan font-size="4.87" dy="-3.53">36N/36N</tspan><tspan font-size="8.4" dy="3.53"> : 1061</tspan></text>
<text x="268" y="422.6" font-size="8.4" font-weight="bold" text-anchor="middle" fill="#000">198</text>
<text x="257.7" y="448.5" font-size="8.4" font-weight="bold" text-anchor="middle" fill="#000">136</text>
<text x="222.1" y="458.8" font-size="8.4" font-weight="bold" text-anchor="middle" fill="#000">631</text>
<text x="277.3" y="469.7" font-size="8.4" font-weight="bold" text-anchor="middle" fill="#000">300</text>
<text x="301.4" y="468.5" font-size="8.4" font-weight="bold" text-anchor="middle" fill="#000">436</text>
<text x="279.8" y="427" font-size="8.4" font-weight="bold" fill="#000" textLength="43.7" lengthAdjust="spacingAndGlyphs">Gfi1<tspan font-size="4.87" dy="-3.53">+/+</tspan><tspan font-size="8.4" dy="3.53">_vs_</tspan></text>
<text x="279.8" y="437.4" font-size="8.4" font-weight="bold" fill="#000" textLength="40.8" lengthAdjust="spacingAndGlyphs">Gfi1<tspan font-size="4.87" dy="-3.53">-/-</tspan><tspan font-size="8.4" dy="3.53">: 798</tspan></text>
<text x="200.6" y="492.6" font-size="8.4" font-weight="bold" fill="#000" textLength="51.4" lengthAdjust="spacingAndGlyphs">Gfi1<tspan font-size="4.87" dy="-3.53">36N/36N</tspan><tspan font-size="8.4" dy="3.53">_vs_</tspan></text>
<text x="200.5" y="502.8" font-size="8.4" font-weight="bold" fill="#000" textLength="45.7" lengthAdjust="spacingAndGlyphs">Gfi1<tspan font-size="4.87" dy="-3.53">+/+</tspan><tspan font-size="8.4" dy="3.53"> : 1423</tspan></text>
<text x="235.8" y="522.4" font-size="8.4" font-weight="bold" text-anchor="middle" fill="#000">628</text>
<text x="360.8" y="412.4" font-size="11" font-weight="bold" fill="#000">I</text>
<text x="0" y="0" font-size="8.4" font-weight="bold" text-anchor="middle" fill="#000" transform="translate(377.3,456.3) rotate(-90)" textLength="59.2" lengthAdjust="spacingAndGlyphs">Nbr of colonies</text>
<line x1="405.4" y1="401.5" x2="405.4" y2="518.8" stroke="#111" stroke-width="1.4"/>
<line x1="405.4" y1="518.8" x2="483.7" y2="518.8" stroke="#111" stroke-width="1.4"/>
<line x1="402.8" y1="401.5" x2="405.4" y2="401.5" stroke="#111" stroke-width="1.2"/>
<text x="401.6" y="404.7" font-size="9" font-weight="bold" text-anchor="end" fill="#000">300</text>
<line x1="402.8" y1="440.8" x2="405.4" y2="440.8" stroke="#111" stroke-width="1.2"/>
<text x="401.6" y="444" font-size="9" font-weight="bold" text-anchor="end" fill="#000">200</text>
<line x1="402.8" y1="480.1" x2="405.4" y2="480.1" stroke="#111" stroke-width="1.2"/>
<text x="401.6" y="483.3" font-size="9" font-weight="bold" text-anchor="end" fill="#000">100</text>
<line x1="402.8" y1="518.8" x2="405.4" y2="518.8" stroke="#111" stroke-width="1.2"/>
<text x="401.6" y="522" font-size="9" font-weight="bold" text-anchor="end" fill="#000">0</text>
<line x1="418.9" y1="518.8" x2="418.9" y2="521.8" stroke="#111" stroke-width="1.2"/>
<line x1="445" y1="518.8" x2="445" y2="521.8" stroke="#111" stroke-width="1.2"/>
<line x1="470.4" y1="518.8" x2="470.4" y2="521.8" stroke="#111" stroke-width="1.2"/>
<text x="419.4" y="531.7" font-size="8.6" font-weight="bold" text-anchor="middle" fill="#000">1.</text>
<text x="446.4" y="531.7" font-size="8.6" font-weight="bold" text-anchor="middle" fill="#000">2.</text>
<text x="470.2" y="531.7" font-size="8.6" font-weight="bold" fill="#000">3. plating</text>
<path d="M418.9,489.5 L445,441.1 L470.4,518.6" fill="none" stroke="#111" stroke-width="1.6" stroke-dasharray="4,2.6"/>
<path d="M418.9,504.3 L445,471.5 L470.4,518.6" fill="none" stroke="#111" stroke-width="1.6"/>
<line x1="418.9" y1="486.5" x2="418.9" y2="492.3" stroke="#111" stroke-width="1.3"/>
<line x1="416.4" y1="486.5" x2="421.4" y2="486.5" stroke="#111" stroke-width="1.2"/>
<line x1="416.4" y1="492.3" x2="421.4" y2="492.3" stroke="#111" stroke-width="1.2"/>
<line x1="418.9" y1="501.5" x2="418.9" y2="508" stroke="#111" stroke-width="1.3"/>
<line x1="416.4" y1="501.5" x2="421.4" y2="501.5" stroke="#111" stroke-width="1.2"/>
<line x1="416.4" y1="508" x2="421.4" y2="508" stroke="#111" stroke-width="1.2"/>
<line x1="445" y1="420.3" x2="445" y2="461" stroke="#111" stroke-width="1.3"/>
<line x1="442.5" y1="420.3" x2="447.5" y2="420.3" stroke="#111" stroke-width="1.2"/>
<line x1="442.5" y1="461" x2="447.5" y2="461" stroke="#111" stroke-width="1.2"/>
<line x1="445" y1="461.8" x2="445" y2="494.6" stroke="#111" stroke-width="1.3"/>
<line x1="442.5" y1="461.8" x2="447.5" y2="461.8" stroke="#111" stroke-width="1.2"/>
<line x1="442.5" y1="494.6" x2="447.5" y2="494.6" stroke="#111" stroke-width="1.2"/>
<rect x="416.9" y="487.5" width="4" height="4" fill="#111" stroke="none" stroke-width="1"/>
<rect x="443" y="439.1" width="4" height="4" fill="#111" stroke="none" stroke-width="1"/>
<circle cx="418.9" cy="504.3" r="2.2" fill="#111"/>
<circle cx="445" cy="471.5" r="2.2" fill="#111"/>
<circle cx="470.4" cy="518.6" r="2" fill="#111"/>
<text x="442" y="415.5" font-size="7" font-weight="bold" text-anchor="middle" fill="#000">+</text>
<text x="418.5" y="472.8" font-size="7" font-weight="bold" text-anchor="middle" fill="#000">*</text>
<line x1="451.2" y1="425.8" x2="469.2" y2="425.8" stroke="#111" stroke-width="1.4" stroke-dasharray="3.6,2.4"/>
<line x1="451.2" y1="439.7" x2="470.4" y2="439.7" stroke="#111" stroke-width="1.2"/>
<text x="473.2" y="428.9" font-size="9.5" font-weight="bold" fill="#000">Gfi1<tspan font-size="7.03" dy="-3.8">36N/36N</tspan></text>
<text x="475" y="442.6" font-size="9.5" font-weight="bold" fill="#000">Gfi1<tspan font-size="7.03" dy="-3.8">36S/36S</tspan></text>
<text x="2.3" y="560.6" font-size="11" font-weight="bold" fill="#000">J</text>
<text x="63.2" y="574.9" font-size="9" fill="#000">2500</text>
<text x="63.2" y="585.5" font-size="9" fill="#000">GMPs</text>
<defs><linearGradient id="mouseg" x1="0" y1="0" x2="0" y2="1"><stop offset="0" stop-color="#f6f0f3"/><stop offset="0.6" stop-color="#efe4ea"/><stop offset="1" stop-color="#d8cbd2"/></linearGradient></defs>
<g><path d="M27.2,610.4 C24,612.3 21.2,614.5 21.3,618 C21.5,621 24.5,621.8 28,621.2 C33,620.4 38,619.6 42.2,619.8 L43.6,621.8" fill="none" stroke="#666" stroke-width="1.7" stroke-linecap="round"/><path d="M27.2,610.4 C24,612.3 21.2,614.5 21.3,618 C21.5,621 24.5,621.8 28,621.2 C33,620.4 38,619.6 42.2,619.8 L43.6,621.8" fill="none" stroke="#eee" stroke-width="0.7" stroke-linecap="round"/><path d="M27.5,610.6 C26,604.5 31,598.2 38,596.9 C43,596.1 47,596.6 50.5,598.2 C54.5,600.1 58.5,603.4 62,606.9 C60.6,608.3 58.2,608.9 56.2,609.3 C55.4,611.3 54.2,613.4 52.3,614.1 C47,614.3 40,614.3 35,613.6 C31,613 28.5,612.2 27.5,610.6 Z" fill="url(#mouseg)" stroke="#3c3c3c" stroke-width="0.85"/><path d="M61,606.5 l3,-1.2 M61,607 l3,0.6" stroke="#777" stroke-width="0.4"/><path d="M33,611.5 C36,608 38,603 37,599.5 M44,613 C46,610 49,609 52,609.5" fill="none" stroke="#c8bcc4" stroke-width="0.8"/><ellipse cx="50.3" cy="599.2" rx="2.3" ry="2.5" fill="#f5e8ee" stroke="#555" stroke-width="0.7"/><circle cx="57.6" cy="604.2" r="0.65" fill="#222"/><path d="M53,613.5 l1.6,1.3 M56.2,610 l1.8,1.5 M40,614 l1,1.5" stroke="#444" stroke-width="0.9"/></g>
<g transform="translate(64.6,0.2)"><path d="M27.2,610.4 C24,612.3 21.2,614.5 21.3,618 C21.5,621 24.5,621.8 28,621.2 C33,620.4 38,619.6 42.2,619.8 L43.6,621.8" fill="none" stroke="#666" stroke-width="1.7" stroke-linecap="round"/><path d="M27.2,610.4 C24,612.3 21.2,614.5 21.3,618 C21.5,621 24.5,621.8 28,621.2 C33,620.4 38,619.6 42.2,619.8 L43.6,621.8" fill="none" stroke="#eee" stroke-width="0.7" stroke-linecap="round"/><path d="M27.5,610.6 C26,604.5 31,598.2 38,596.9 C43,596.1 47,596.6 50.5,598.2 C54.5,600.1 58.5,603.4 62,606.9 C60.6,608.3 58.2,608.9 56.2,609.3 C55.4,611.3 54.2,613.4 52.3,614.1 C47,614.3 40,614.3 35,613.6 C31,613 28.5,612.2 27.5,610.6 Z" fill="url(#mouseg)" stroke="#3c3c3c" stroke-width="0.85"/><path d="M61,606.5 l3,-1.2 M61,607 l3,0.6" stroke="#777" stroke-width="0.4"/><path d="M33,611.5 C36,608 38,603 37,599.5 M44,613 C46,610 49,609 52,609.5" fill="none" stroke="#c8bcc4" stroke-width="0.8"/><ellipse cx="50.3" cy="599.2" rx="2.3" ry="2.5" fill="#f5e8ee" stroke="#555" stroke-width="0.7"/><circle cx="57.6" cy="604.2" r="0.65" fill="#222"/><path d="M53,613.5 l1.6,1.3 M56.2,610 l1.8,1.5 M40,614 l1,1.5" stroke="#444" stroke-width="0.9"/></g>
<path d="M66.6,600.8 A6.4,7 0 0 1 79.2,597.6" fill="none" stroke="#000" stroke-width="3.3"/>
<path d="M76.2,597.2 L85.2,596.6 L81.6,601.2 Z" fill="#000"/>
<line x1="65.2" y1="607.1" x2="84.4" y2="607.1" stroke="#000" stroke-width="1.1"/>
<path d="M79.2,603.6 L84.8,607.1 L79.4,610.5" fill="none" stroke="#000" stroke-width="1.1"/>
<line x1="130" y1="606.9" x2="147" y2="606.9" stroke="#000" stroke-width="0.9"/>
<path d="M143,603.8 L147.6,606.9 L143,610" fill="none" stroke="#000" stroke-width="0.9"/>
<text x="127.7" y="604.2" font-size="8.6" fill="#000">21d</text>
<g transform="translate(97.5,583.8) rotate(21)"><line x1="0" y1="-1.6" x2="0" y2="1.6" stroke="#333" stroke-width="0.9"/><line x1="0" y1="0" x2="4" y2="0" stroke="#333" stroke-width="1"/><rect x="4" y="-1.3" width="13.5" height="2.6" fill="#f4f4f4" stroke="#444" stroke-width="0.6"/><rect x="4.5" y="-1.3" width="5.5" height="2.6" fill="#555"/><rect x="8.5" y="-1.3" width="1.8" height="2.6" fill="#111"/><line x1="17.5" y1="0" x2="23.5" y2="0" stroke="#444" stroke-width="0.6"/></g>
<text x="16.4" y="636.5" font-size="9.2" font-weight="bold" font-style="italic" fill="#000" textLength="30.8" lengthAdjust="spacingAndGlyphs">CD45.2</text>
<text x="16.4" y="647.1" font-size="9.2" font-weight="bold" font-style="italic" fill="#000" textLength="53.9" lengthAdjust="spacingAndGlyphs">Gfi1<tspan font-size="6.44" dy="-3.68">36S/36S</tspan><tspan font-size="9.2" dy="3.68"> or</tspan></text>
<text x="16.4" y="657.1" font-size="9.2" font-weight="bold" font-style="italic" fill="#000" textLength="42.4" lengthAdjust="spacingAndGlyphs">Gfi1<tspan font-size="6.44" dy="-3.68">36N/36N</tspan></text>
<text x="92.3" y="630" font-size="9.2" font-weight="bold" font-style="italic" fill="#000" textLength="29.5" lengthAdjust="spacingAndGlyphs">CD45.1</text>
<text x="92.3" y="640" font-size="9.2" font-weight="bold" font-style="italic" fill="#000" textLength="28.5" lengthAdjust="spacingAndGlyphs">wt,&#160; irr.</text>
<text x="167" y="560.5" font-size="11" font-weight="bold" fill="#000">K</text>
<defs><radialGradient id="blob1" cx="0.45" cy="0.45" r="0.55"><stop offset="0" stop-color="#000"/><stop offset="0.45" stop-color="#222"/><stop offset="0.8" stop-color="#999"/><stop offset="1" stop-color="#fff" stop-opacity="0"/></radialGradient></defs>
<rect x="188.5" y="568.5" width="69.9" height="67.8" fill="none" stroke="#333" stroke-width="1.1"/>
<line x1="186.9" y1="578.19" x2="188.5" y2="578.19" stroke="#555" stroke-width="0.7"/>
<line x1="186.9" y1="587.87" x2="188.5" y2="587.87" stroke="#555" stroke-width="0.7"/>
<line x1="186.9" y1="597.56" x2="188.5" y2="597.56" stroke="#555" stroke-width="0.7"/>
<line x1="186.9" y1="607.24" x2="188.5" y2="607.24" stroke="#555" stroke-width="0.7"/>
<line x1="186.9" y1="616.93" x2="188.5" y2="616.93" stroke="#555" stroke-width="0.7"/>
<line x1="186.9" y1="626.61" x2="188.5" y2="626.61" stroke="#555" stroke-width="0.7"/>
<line x1="188.5" y1="636.3" x2="188.5" y2="637.8" stroke="#555" stroke-width="0.7"/>
<line x1="197.24" y1="636.3" x2="197.24" y2="637.8" stroke="#555" stroke-width="0.7"/>
<line x1="205.97" y1="636.3" x2="205.97" y2="637.8" stroke="#555" stroke-width="0.7"/>
<line x1="214.71" y1="636.3" x2="214.71" y2="637.8" stroke="#555" stroke-width="0.7"/>
<line x1="223.45" y1="636.3" x2="223.45" y2="637.8" stroke="#555" stroke-width="0.7"/>
<line x1="232.19" y1="636.3" x2="232.19" y2="637.8" stroke="#555" stroke-width="0.7"/>
<line x1="240.92" y1="636.3" x2="240.92" y2="637.8" stroke="#555" stroke-width="0.7"/>
<line x1="249.66" y1="636.3" x2="249.66" y2="637.8" stroke="#555" stroke-width="0.7"/>
<line x1="258.4" y1="636.3" x2="258.4" y2="637.8" stroke="#555" stroke-width="0.7"/>
<rect x="217.1" y="592.1" width="24.6" height="30.2" fill="none" stroke="#333" stroke-width="1"/>
<text x="197.5" y="582.3" font-size="9.4" font-weight="bold" fill="#000" textLength="47.1" lengthAdjust="spacingAndGlyphs">Gfi1<tspan font-size="6.77" dy="-3.57">36S/36S</tspan></text>
<text x="223.4" y="589.6" font-size="9.2" text-anchor="middle" fill="#000">0</text>
<rect x="262.2" y="568.5" width="70.6" height="67.8" fill="none" stroke="#333" stroke-width="1.1"/>
<line x1="260.6" y1="578.19" x2="262.2" y2="578.19" stroke="#555" stroke-width="0.7"/>
<line x1="260.6" y1="587.87" x2="262.2" y2="587.87" stroke="#555" stroke-width="0.7"/>
<line x1="260.6" y1="597.56" x2="262.2" y2="597.56" stroke="#555" stroke-width="0.7"/>
<line x1="260.6" y1="607.24" x2="262.2" y2="607.24" stroke="#555" stroke-width="0.7"/>
<line x1="260.6" y1="616.93" x2="262.2" y2="616.93" stroke="#555" stroke-width="0.7"/>
<line x1="260.6" y1="626.61" x2="262.2" y2="626.61" stroke="#555" stroke-width="0.7"/>
<line x1="262.2" y1="636.3" x2="262.2" y2="637.8" stroke="#555" stroke-width="0.7"/>
<line x1="271.02" y1="636.3" x2="271.02" y2="637.8" stroke="#555" stroke-width="0.7"/>
<line x1="279.85" y1="636.3" x2="279.85" y2="637.8" stroke="#555" stroke-width="0.7"/>
<line x1="288.68" y1="636.3" x2="288.68" y2="637.8" stroke="#555" stroke-width="0.7"/>
<line x1="297.5" y1="636.3" x2="297.5" y2="637.8" stroke="#555" stroke-width="0.7"/>
<line x1="306.32" y1="636.3" x2="306.32" y2="637.8" stroke="#555" stroke-width="0.7"/>
<line x1="315.15" y1="636.3" x2="315.15" y2="637.8" stroke="#555" stroke-width="0.7"/>
<line x1="323.98" y1="636.3" x2="323.98" y2="637.8" stroke="#555" stroke-width="0.7"/>
<line x1="332.8" y1="636.3" x2="332.8" y2="637.8" stroke="#555" stroke-width="0.7"/>
<rect x="291.8" y="592.2" width="24.4" height="30" fill="none" stroke="#333" stroke-width="1"/>
<text x="272.3" y="582.3" font-size="9.4" font-weight="bold" fill="#000" textLength="46.9" lengthAdjust="spacingAndGlyphs">Gfi1<tspan font-size="6.77" dy="-3.57">36N/36N</tspan></text>
<text x="299.2" y="589.6" font-size="9.2" text-anchor="middle" fill="#000">0.8</text>
<defs><radialGradient id="bg1" cx="0.4" cy="0.45" r="0.6"><stop offset="0" stop-color="#1a1a1a"/><stop offset="0.45" stop-color="#4a4a4a"/><stop offset="0.8" stop-color="#9a9a9a"/><stop offset="1" stop-color="#d0d0d0"/></radialGradient><radialGradient id="bg2" cx="0.45" cy="0.4" r="0.65"><stop offset="0" stop-color="#111"/><stop offset="0.55" stop-color="#333"/><stop offset="0.8" stop-color="#888"/><stop offset="1" stop-color="#cfcfcf"/></radialGradient></defs>
<path d="M196.6,604 C196.2,597.5 201.5,594.8 206,595.8 C210.5,597.2 214,601.5 213.8,605.5 C213.5,610 209.5,615.2 204.2,617 C199.8,617.2 197,611.2 196.6,604 Z" fill="none" stroke="#8a8a8a" stroke-width="0.6"/>
<path d="M197.5,604 C197.2,598.5 202,596 206,597 C209.8,598.2 212.6,602 212.4,605.3 C212.2,609 209,613.5 204.2,615.2 C200.2,615.4 197.8,610.6 197.5,604 Z" fill="url(#bg1)"/>
<ellipse cx="203.2" cy="604.4" rx="4.9" ry="3.9" fill="#080808"/>
<path d="M202.6,603 L205.4,604.5 L202.6,606 Z" fill="#eee"/>
<path d="M199.5,611.5 C201,614 203,615 205,614.6 C208,613.5 210.5,610.5 211.3,607.5" fill="none" stroke="#bbb" stroke-width="0.5"/>
<path d="M273.2,611 C274,619.5 278.5,624.5 283.6,626 C286.6,625.4 286.6,620 285.6,613.5" fill="none" stroke="#a0a0a0" stroke-width="0.6"/>
<path d="M275,613.5 C277,619 280.5,621.5 284,621 M276,615.5 C278,618.5 281,619 283.5,617.5 M277.5,612.5 C279,615 281,615.5 282.5,614.5" fill="none" stroke="#b0b0b0" stroke-width="0.5"/>
<path d="M270.8,604 C270.8,596.5 275.5,593.6 280,593.8 C285,594.3 288.2,599 288.2,605 C288.2,611 285,616.2 280,617 C275,617.2 270.8,612 270.8,604 Z" fill="url(#bg2)"/>
<ellipse cx="277.6" cy="604.2" rx="6.1" ry="7.6" fill="#050505"/>
<circle cx="277.4" cy="604.8" r="1" fill="#6a6a6a"/>
<circle cx="301" cy="606.5" r="1.7" fill="none" stroke="#777" stroke-width="0.6"/>
<text x="0" y="0" font-size="9.2" fill="#000" transform="translate(182.2,635.6) rotate(-90)">FSC</text>
<text x="188.5" y="647" font-size="9.2" fill="#000">CD45.2</text>
<text x="361.3" y="549.8" font-size="11" font-weight="bold" fill="#000">L</text>
<text x="0" y="0" font-size="8.6" font-weight="bold" text-anchor="middle" fill="#000" transform="translate(377.4,594.8) rotate(-90)" textLength="65.2" lengthAdjust="spacingAndGlyphs">% CD45.2<tspan font-size="5.2" dy="-3">+</tspan><tspan dy="3"> GMPs</tspan></text>
<line x1="408.9" y1="546.5" x2="408.9" y2="654.4" stroke="#111" stroke-width="1.4"/>
<line x1="408.9" y1="654.4" x2="486.2" y2="654.4" stroke="#111" stroke-width="1.4"/>
<line x1="406.2" y1="546.5" x2="408.9" y2="546.5" stroke="#111" stroke-width="1.2"/>
<text x="405" y="549.7" font-size="9" font-weight="bold" text-anchor="end" fill="#000">1.5</text>
<line x1="406.2" y1="582.7" x2="408.9" y2="582.7" stroke="#111" stroke-width="1.2"/>
<text x="405" y="585.9" font-size="9" font-weight="bold" text-anchor="end" fill="#000">1.0</text>
<line x1="406.2" y1="618.7" x2="408.9" y2="618.7" stroke="#111" stroke-width="1.2"/>
<text x="405" y="621.9" font-size="9" font-weight="bold" text-anchor="end" fill="#000">0.5</text>
<line x1="406.2" y1="654.4" x2="408.9" y2="654.4" stroke="#111" stroke-width="1.2"/>
<text x="405" y="657.6" font-size="9" font-weight="bold" text-anchor="end" fill="#000">0.0</text>
<line x1="427.7" y1="654.4" x2="427.7" y2="657.4" stroke="#111" stroke-width="1.2"/>
<line x1="468.1" y1="654.4" x2="468.1" y2="657.4" stroke="#111" stroke-width="1.2"/>
<line x1="468.1" y1="576.2" x2="468.1" y2="595.2" stroke="#111" stroke-width="1.2"/>
<line x1="464.6" y1="576.2" x2="471.6" y2="576.2" stroke="#111" stroke-width="1.2"/>
<rect x="453.8" y="595.2" width="28.7" height="59.2" fill="#000" stroke="none" stroke-width="1"/>
<text x="457.8" y="565.5" font-size="8.5" font-weight="bold" text-anchor="middle" fill="#000">*</text>
<text x="406.8" y="671.9" font-size="9" font-weight="bold" fill="#000" textLength="45.5" lengthAdjust="spacingAndGlyphs">Gfi1<tspan font-size="6.48" dy="-3.42">36S/36S</tspan></text>
<text x="461.5" y="671.9" font-size="9" font-weight="bold" fill="#000" textLength="47.7" lengthAdjust="spacingAndGlyphs">Gfi1<tspan font-size="6.48" dy="-3.42">36N/36N</tspan></text>
</svg>
</body></html>
